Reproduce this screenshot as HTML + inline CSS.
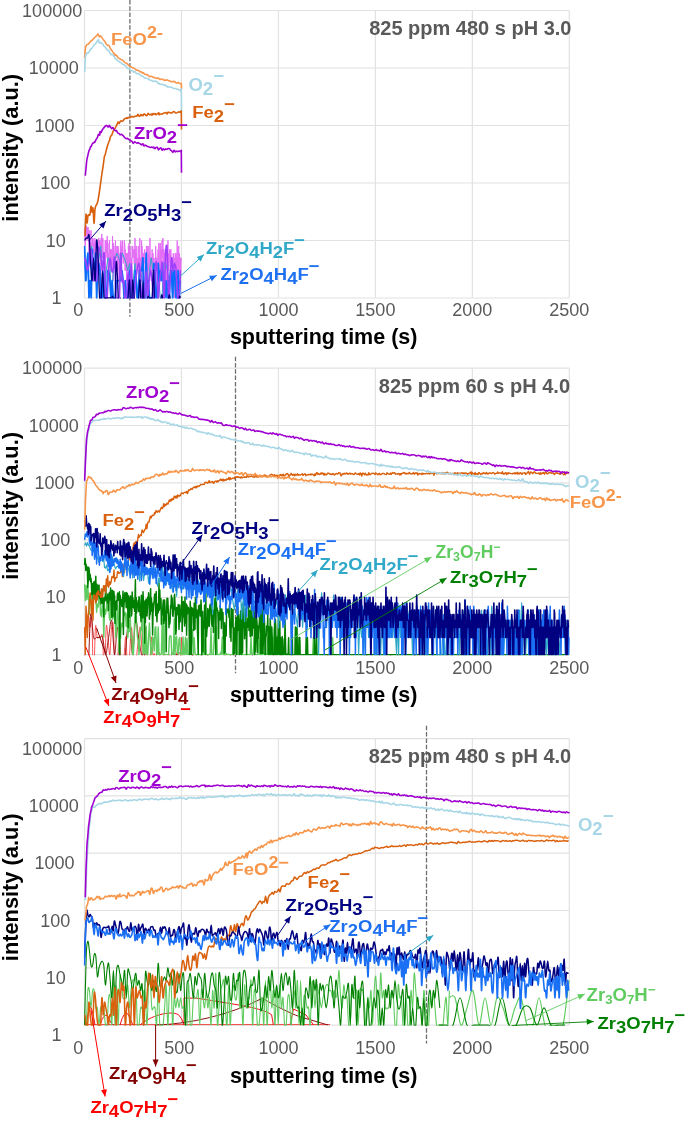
<!DOCTYPE html><html><head><meta charset="utf-8"><style>html,body{margin:0;padding:0;background:#fff;width:685px;height:1123px;overflow:hidden;font-family:"Liberation Sans",sans-serif;}svg{display:block;will-change:transform;}</style></head><body><svg width="685" height="1123" viewBox="0 0 685 1123" font-family="&quot;Liberation Sans&quot;, sans-serif">
<rect width="685" height="1123" fill="#fff"/>
<path d="M84.5 10.5H569.3 M84.5 68H569.3 M84.5 125.5H569.3 M84.5 183H569.3 M84.5 240.5H569.3 M84.5 298H569.3 M84.5 10.5V298 M181.46 10.5V298 M278.42 10.5V298 M375.38 10.5V298 M472.34 10.5V298 M569.3 10.5V298" stroke="#e2e2e2" stroke-width="1.2" fill="none"/>
<path d="M84.5 368.2H569.3 M84.5 425.5H569.3 M84.5 482.8H569.3 M84.5 540.1H569.3 M84.5 597.4H569.3 M84.5 654.7H569.3 M84.5 368.2V654.7 M181.46 368.2V654.7 M278.42 368.2V654.7 M375.38 368.2V654.7 M472.34 368.2V654.7 M569.3 368.2V654.7" stroke="#e2e2e2" stroke-width="1.2" fill="none"/>
<path d="M84.5 738.6H569.3 M84.5 795.9H569.3 M84.5 853.2H569.3 M84.5 910.5H569.3 M84.5 967.8H569.3 M84.5 1025.1H569.3 M84.5 738.6V1025.1 M181.46 738.6V1025.1 M278.42 738.6V1025.1 M375.38 738.6V1025.1 M472.34 738.6V1025.1 M569.3 738.6V1025.1" stroke="#e2e2e2" stroke-width="1.2" fill="none"/>
<defs>
<clipPath id="c1"><rect x="83.5" y="-19.5" width="487.8" height="318.1"/></clipPath>
<clipPath id="c2"><rect x="83.5" y="338.2" width="487.8" height="317.1"/></clipPath>
<clipPath id="c3"><rect x="83.5" y="708.6" width="487.8" height="317.1"/></clipPath>
</defs>
<path d="M129.9 0V316.8" stroke="#6e6e6e" stroke-width="1.3" stroke-dasharray="4.5 1.8" fill="none"/>
<g clip-path="url(#c1)">
<path d="M84.6 238.12 84.82 227.25 85.04 238.12 85.26 246.07 85.48 219.7 85.7 233.95 85.92 228.76 86.14 228.76 86.36 225.82 86.58 232.1 86.8 235.95 87.02 240.5 87.24 227.25 87.46 235.95 87.68 235.95 87.9 232.1 88.12 227.25 88.34 240.5 88.56 240.5 88.78 238.12 89 263.38 89.22 230.37 89.44 243.13 89.66 257.81 89.88 240.5 90.1 233.95 90.32 253.26 90.54 249.41 90.76 246.07 90.98 230.37 91.2 253.26 91.42 249.41 91.64 249.41 91.86 246.07 92.08 243.13 92.3 246.07 92.52 238.12 92.74 246.07 92.96 238.12 93.18 240.5 93.4 249.41 93.62 253.26 93.84 253.26 94.06 243.13 94.28 253.26 94.5 257.81 94.72 240.5 94.94 238.12 95.16 243.13 95.38 246.07 95.6 240.5 95.82 263.38 96.04 253.26 96.26 253.26 96.48 263.38 96.7 253.26 96.92 246.07 97.14 243.13 97.36 249.41 97.58 253.26 97.8 270.57 98.02 249.41 98.24 270.57 98.46 240.5 98.68 238.12 98.9 238.12 99.12 243.13 99.34 243.13 99.56 240.5 99.78 246.07 100 240.5 100.22 270.57 100.44 243.13 100.66 249.41 100.88 298 101.1 238.12 101.32 243.13 101.54 257.81 101.76 233.95 101.98 249.41 102.2 249.41 102.42 253.26 102.64 257.81 102.86 238.12 103.08 249.41 103.3 257.81 103.52 263.38 103.74 257.81 103.96 257.81 104.18 270.57 104.4 257.81 104.62 253.26 104.84 263.38 105.06 253.26 105.28 240.5 105.5 298 105.72 240.5 105.94 257.81 106.16 253.26 106.38 240.5 106.6 253.26 106.82 253.26 107.04 253.26 107.26 235.95 107.48 249.41 107.7 257.81 107.92 243.13 108.14 280.69 108.36 253.26 108.58 270.57 108.8 270.57 109.02 257.81 109.24 249.41 109.46 240.5 109.68 253.26 109.9 257.81 110.12 263.38 110.34 263.38 110.56 249.41 110.78 263.38 111 270.57 111.22 253.26 111.44 253.26 111.66 249.41 111.88 263.38 112.1 257.81 112.32 253.26 112.54 235.95 112.76 249.41 112.98 280.69 113.2 243.13 113.42 270.57 113.64 263.38 113.86 246.07 114.08 257.81 114.3 257.81 114.52 253.26 114.74 257.81 114.96 257.81 115.18 249.41 115.4 240.5 115.62 249.41 115.84 270.57 116.06 253.26 116.28 253.26 116.5 257.81 116.72 253.26 116.94 246.07 117.16 253.26 117.38 246.07 117.6 270.57 117.82 257.81 118.04 246.07 118.26 263.38 118.48 249.41 118.7 253.26 118.92 280.69 119.14 270.57 119.36 263.38 119.58 270.57 119.8 298 120.02 253.26 120.24 253.26 120.46 243.13 120.68 280.69 120.9 240.5 121.12 257.81 121.34 257.81 121.56 249.41 121.78 249.41 122 246.07 122.22 257.81 122.44 257.81 122.66 240.5 122.88 257.81 123.1 263.38 123.32 263.38 123.54 257.81 123.76 257.81 123.98 253.26 124.2 249.41 124.42 240.5 124.64 243.13 124.86 246.07 125.08 270.57 125.3 249.41 125.52 263.38 125.74 253.26 125.96 270.57 126.18 253.26 126.4 257.81 126.62 280.69 126.84 253.26 127.06 257.81 127.28 270.57 127.5 257.81 127.72 253.26 127.94 263.38 128.16 257.81 128.38 246.07 128.6 253.26 128.82 270.57 129.04 243.13 129.26 263.38 129.48 249.41 129.7 270.57 129.92 249.41 130.14 249.41 130.36 280.69 130.58 263.38 130.8 263.38 131.02 280.69 131.24 270.57 131.46 257.81 131.68 270.57 131.9 298 132.12 246.07 132.34 257.81 132.56 253.26 132.78 246.07 133 257.81 133.22 253.26 133.44 253.26 133.66 253.26 133.88 249.41 134.1 263.38 134.32 263.38 134.54 249.41 134.76 270.57 134.98 238.12 135.2 263.38 135.42 249.41 135.64 270.57 135.86 263.38 136.08 246.07 136.3 246.07 136.52 257.81 136.74 270.57 136.96 263.38 137.18 257.81 137.4 270.57 137.62 263.38 137.84 270.57 138.06 257.81 138.28 246.07 138.5 280.69 138.72 257.81 138.94 257.81 139.16 257.81 139.38 280.69 139.6 253.26 139.82 238.12 140.04 263.38 140.26 257.81 140.48 280.69 140.7 263.38 140.92 257.81 141.14 263.38 141.36 280.69 141.58 240.5 141.8 280.69 142.02 246.07 142.24 253.26 142.46 257.81 142.68 270.57 142.9 280.69 143.12 257.81 143.34 253.26 143.56 263.38 143.78 280.69 144 257.81 144.22 257.81 144.44 249.41 144.66 249.41 144.88 263.38 145.1 257.81 145.32 263.38 145.54 270.57 145.76 257.81 145.98 263.38 146.2 270.57 146.42 246.07 146.64 257.81 146.86 253.26 147.08 246.07 147.3 280.69 147.52 270.57 147.74 263.38 147.96 298 148.18 246.07 148.4 263.38 148.62 270.57 148.84 257.81 149.06 257.81 149.28 253.26 149.5 257.81 149.72 280.69 149.94 238.12 150.16 263.38 150.38 270.57 150.6 257.81 150.82 263.38 151.04 257.81 151.26 270.57 151.48 280.69 151.7 263.38 151.92 257.81 152.14 249.41 152.36 270.57 152.58 263.38 152.8 257.81 153.02 253.26 153.24 270.57 153.46 257.81 153.68 280.69 153.9 263.38 154.12 298 154.34 280.69 154.56 280.69 154.78 263.38 155 257.81 155.22 280.69 155.44 298 155.66 246.07 155.88 257.81 156.1 263.38 156.32 263.38 156.54 257.81 156.76 257.81 156.98 270.57 157.2 270.57 157.42 263.38 157.64 263.38 157.86 257.81 158.08 249.41 158.3 270.57 158.52 263.38 158.74 246.07 158.96 243.13 159.18 249.41 159.4 257.81 159.62 257.81 159.84 270.57 160.06 270.57 160.28 243.13 160.5 280.69 160.72 249.41 160.94 270.57 161.16 249.41 161.38 249.41 161.6 270.57 161.82 257.81 162.04 240.5 162.26 249.41 162.48 246.07 162.7 257.81 162.92 238.12 163.14 298 163.36 257.81 163.58 249.41 163.8 263.38 164.02 280.69 164.24 270.57 164.46 253.26 164.68 257.81 164.9 257.81 165.12 249.41 165.34 298 165.56 270.57 165.78 263.38 166 253.26 166.22 280.69 166.44 257.81 166.66 263.38 166.88 246.07 167.1 280.69 167.32 246.07 167.54 257.81 167.76 246.07 167.98 240.5 168.2 263.38 168.42 253.26 168.64 270.57 168.86 270.57 169.08 270.57 169.3 263.38 169.52 253.26 169.74 249.41 169.96 249.41 170.18 263.38 170.4 253.26 170.62 280.69 170.84 249.41 171.06 270.57 171.28 280.69 171.5 270.57 171.72 270.57 171.94 257.81 172.16 263.38 172.38 270.57 172.6 280.69 172.82 257.81 173.04 263.38 173.26 253.26 173.48 257.81 173.7 270.57 173.92 263.38 174.14 263.38 174.36 298 174.58 257.81 174.8 257.81 175.02 257.81 175.24 253.26 175.46 257.81 175.68 263.38 175.9 263.38 176.12 253.26 176.34 270.57 176.56 263.38 176.78 257.81 177 263.38 177.22 240.5 177.44 270.57 177.66 263.38 177.88 257.81 178.1 270.57 178.32 263.38 178.54 249.41 178.76 246.07 178.98 298 179.2 257.81 179.42 253.26 179.64 257.81 179.86 280.69 180.08 280.69 180.3 270.57 180.52 257.81 180.74 270.57 180.96 263.38 181.18 257.81" stroke="#e46ef5" stroke-width="1.0" fill="none" stroke-linejoin="round"/>
<path d="M84.6 263.38 86.4 280.69 88.2 263.38 90 263.38 91.8 246.07 93.6 270.57 95.4 263.38 97.2 280.69 99 257.81 100.8 246.07 102.6 270.57 104.4 298 106.2 270.57 108 257.81 109.8 263.38 111.6 298 113.4 270.57 115.2 257.81 117 253.26 118.8 257.81 120.6 263.38 122.4 253.26 124.2 257.81 126 263.38 127.8 270.57 129.6 263.38 131.4 298 133.2 280.69 135 263.38 136.8 298 138.6 280.69 140.4 270.57 142.2 280.69 144 298 145.8 298 147.6 298 149.4 270.57 151.2 257.81 153 270.57 154.8 270.57 156.6 270.57 158.4 270.57 160.2 298 162 298 163.8 263.38 165.6 263.38 167.4 270.57 169.2 280.69 171 270.57 172.8 298 174.6 280.69 176.4 298 178.2 298 180 298" stroke="#30a8c8" stroke-width="1.0" fill="none" stroke-linejoin="round"/>
<path d="M84.6 246.07 85.7 280.69 86.8 263.38 87.9 253.26 89 298 90.1 280.69 91.2 298 92.3 249.41 93.4 270.57 94.5 270.57 95.6 253.26 96.7 298 97.8 263.38 98.9 263.38 100 270.57 101.1 298 102.2 298 103.3 280.69 104.4 270.57 105.5 298 106.6 298 107.7 270.57 108.8 270.57 109.9 280.69 111 298 112.1 280.69 113.2 298 114.3 298 115.4 298 116.5 280.69 117.6 280.69 118.7 280.69 119.8 280.69 120.9 280.69 122 270.57 123.1 280.69 124.2 298 125.3 280.69 126.4 298 127.5 298 128.6 280.69 129.7 270.57 130.8 298 131.9 298 133 298 134.1 298 135.2 270.57 136.3 280.69 137.4 298 138.5 298 139.6 270.57 140.7 270.57 141.8 270.57 142.9 257.81 144 298 145.1 298 146.2 253.26 147.3 298 148.4 280.69 149.5 298 150.6 298 151.7 298 152.8 298 153.9 263.38 155 270.57 156.1 298 157.2 298 158.3 263.38 159.4 280.69 160.5 270.57 161.6 280.69 162.7 270.57 163.8 280.69 164.9 298 166 280.69 167.1 298 168.2 280.69 169.3 298 170.4 270.57 171.5 270.57 172.6 298 173.7 270.57 174.8 270.57 175.9 298 177 298 178.1 270.57 179.2 298 180.3 280.69" stroke="#0a6cff" stroke-width="1.8" fill="none" stroke-linejoin="round"/>
<path d="M84.6 257.81C84.85 258.74 85.6 261.26 86.1 263.38C86.6 265.51 87.1 270.57 87.6 270.57C88.1 270.57 88.6 266.91 89.1 263.38C89.6 259.86 90.1 250.34 90.6 249.41C91.1 248.48 91.6 252.6 92.1 257.81C92.6 263.02 93.1 278.56 93.6 280.69C94.1 282.82 94.6 270.57 95.1 270.57C95.6 270.57 96.1 284.22 96.6 280.69C97.1 277.16 97.6 254.62 98.1 249.41C98.6 244.19 99.1 248.01 99.6 249.41C100.1 250.81 100.6 254.28 101.1 257.81C101.6 261.34 102.1 271.32 102.6 270.57C103.1 269.81 103.6 248.68 104.1 253.26C104.6 257.83 105.1 290.54 105.6 298C106.1 305.46 106.6 302.57 107.1 298C107.6 293.43 108.1 277.26 108.6 270.57C109.1 263.87 109.6 257.81 110.1 257.81C110.6 257.81 111.1 268.44 111.6 270.57C112.1 272.69 112.6 272.69 113.1 270.57C113.6 268.44 114.1 253.24 114.6 257.81C115.1 262.38 115.6 291.3 116.1 298C116.6 304.7 117.1 298 117.6 298C118.1 298 118.6 305.46 119.1 298C119.6 290.54 120.1 256.14 120.6 253.26C121.1 250.37 121.6 276.12 122.1 280.69C122.6 285.26 123.1 277.81 123.6 280.69C124.1 283.58 124.6 295.12 125.1 298C125.6 300.88 126.1 302.57 126.6 298C127.1 293.43 127.6 270.57 128.1 270.57C128.6 270.57 129.1 299.2 129.6 298C130.1 296.8 130.6 263.38 131.1 263.38C131.6 263.38 132.1 292.23 132.6 298C133.1 303.77 133.6 300.88 134.1 298C134.6 295.12 135.1 285.26 135.6 280.69C136.1 276.12 136.6 273.45 137.1 270.57C137.6 267.68 138.1 263.38 138.6 263.38C139.1 263.38 139.6 264.8 140.1 270.57C140.6 276.34 141.1 293.43 141.6 298C142.1 302.57 142.6 298 143.1 298C143.6 298 144.1 302.57 144.6 298C145.1 293.43 145.6 270.57 146.1 270.57C146.6 270.57 147.1 296.31 147.6 298C148.1 299.69 148.6 285.26 149.1 280.69C149.6 276.12 150.1 270.57 150.6 270.57C151.1 270.57 151.6 276.12 152.1 280.69C152.6 285.26 153.1 299.69 153.6 298C154.1 296.31 154.6 276.34 155.1 270.57C155.6 264.8 156.1 258.81 156.6 263.38C157.1 267.95 157.6 295.12 158.1 298C158.6 300.88 159.1 285.26 159.6 280.69C160.1 276.12 160.6 273.45 161.1 270.57C161.6 267.68 162.1 258.81 162.6 263.38C163.1 267.95 163.6 299.69 164.1 298C164.6 296.31 165.1 261.36 165.6 253.26C166.1 245.16 166.6 241.95 167.1 249.41C167.6 256.86 168.1 292.79 168.6 298C169.1 303.21 169.6 287.39 170.1 280.69C170.6 273.99 171.1 259.5 171.6 257.81C172.1 256.12 172.6 269.64 173.1 270.57C173.6 271.49 174.1 263.38 174.6 263.38C175.1 263.38 175.6 264.8 176.1 270.57C176.6 276.34 177.1 293.43 177.6 298C178.1 302.57 178.6 302.57 179.1 298C179.6 293.43 180.35 275.14 180.6 270.57" stroke="#9f40ff" stroke-width="1.6" fill="none" stroke-linejoin="round"/>
<path d="M84.6 240.5C84.85 240.1 85.6 238.52 86.1 238.12C86.6 237.72 87.1 238.48 87.6 238.12C88.1 237.76 88.6 231.74 89.1 235.95C89.6 240.16 90.1 255.92 90.6 263.38C91.1 270.84 91.6 281.62 92.1 280.69C92.6 279.76 93.1 257.81 93.6 257.81C94.1 257.81 94.6 283.58 95.1 280.69C95.6 277.81 96.1 244.31 96.6 240.5C97.1 236.69 97.6 248.23 98.1 257.81C98.6 267.39 99.1 291.3 99.6 298C100.1 304.7 100.6 302.57 101.1 298C101.6 293.43 102.1 270.57 102.6 270.57C103.1 270.57 103.6 293.43 104.1 298C104.6 302.57 105.1 298 105.6 298C106.1 298 106.6 298 107.1 298C107.6 298 108.1 298 108.6 298C109.1 298 109.6 298 110.1 298C110.6 298 111.1 298 111.6 298C112.1 298 112.6 293.63 113.1 298C113.6 302.37 114.1 329.99 114.6 324.22C115.1 318.45 115.6 270.64 116.1 263.38C116.6 256.13 117.1 270.55 117.6 280.69C118.1 290.83 118.6 321.33 119.1 324.22C119.6 327.1 120.1 298 120.6 298C121.1 298 121.6 324.22 122.1 324.22C122.6 324.22 123.1 298 123.6 298C124.1 298 124.6 319.85 125.1 324.22C125.6 328.59 126.1 328.59 126.6 324.22C127.1 319.85 127.6 305.25 128.1 298C128.6 290.75 129.1 276.32 129.6 280.69C130.1 285.06 130.6 324.22 131.1 324.22C131.6 324.22 132.1 285.06 132.6 280.69C133.1 276.32 133.6 290.75 134.1 298C134.6 305.25 135.1 319.85 135.6 324.22C136.1 328.59 136.6 328.59 137.1 324.22C137.6 319.85 138.1 305.25 138.6 298C139.1 290.75 139.6 276.32 140.1 280.69C140.6 285.06 141.1 324.22 141.6 324.22C142.1 324.22 142.6 280.69 143.1 280.69C143.6 280.69 144.1 316.96 144.6 324.22C145.1 331.47 145.6 328.59 146.1 324.22C146.6 319.85 147.1 302.37 147.6 298C148.1 293.63 148.6 298 149.1 298C149.6 298 150.1 298 150.6 298C151.1 298 151.6 302.57 152.1 298C152.6 293.43 153.1 266.2 153.6 270.57C154.1 274.93 154.6 315.27 155.1 324.22C155.6 333.16 156.1 324.22 156.6 324.22C157.1 324.22 157.6 324.22 158.1 324.22C158.6 324.22 159.1 328.59 159.6 324.22C160.1 319.85 160.6 302.37 161.1 298C161.6 293.63 162.1 293.63 162.6 298C163.1 302.37 163.6 319.85 164.1 324.22C164.6 328.59 165.1 324.22 165.6 324.22C166.1 324.22 166.6 328.59 167.1 324.22C167.6 319.85 168.1 302.37 168.6 298C169.1 293.63 169.6 293.63 170.1 298C170.6 302.37 171.1 319.85 171.6 324.22C172.1 328.59 172.6 324.22 173.1 324.22C173.6 324.22 174.1 324.22 174.6 324.22C175.1 324.22 175.6 324.22 176.1 324.22C176.6 324.22 177.1 328.59 177.6 324.22C178.1 319.85 178.6 302.37 179.1 298C179.6 293.63 180.35 298 180.6 298" stroke="#000080" stroke-width="1.3" fill="none" stroke-linejoin="round"/>
<path d="M84.6 58.14C84.75 56.34 85.3 49.23 85.5 47.33C85.7 45.43 85.55 47.21 85.8 46.73C86.05 46.26 86.6 44.9 87 44.48C87.4 44.05 87.8 44.46 88.2 44.18C88.6 43.91 89 43.31 89.4 42.82C89.8 42.33 90.2 41.63 90.6 41.25C91 40.87 91.4 40.85 91.8 40.52C92.2 40.19 92.6 39.67 93 39.25C93.4 38.84 93.8 38.46 94.2 38.05C94.6 37.63 95 37.14 95.4 36.76C95.8 36.39 96.2 36.24 96.6 35.79C97 35.35 97.57 34.38 97.8 34.1C98.03 33.83 97.8 33.84 98 34.13C98.2 34.43 98.78 35.4 99 35.85C99.22 36.3 99.1 36.79 99.3 36.84C99.5 36.89 100 36.33 100.2 36.17C100.4 36.01 100.3 35.77 100.5 35.88C100.7 36 101.05 36.39 101.4 36.85C101.75 37.3 102.2 38.04 102.6 38.61C103 39.17 103.4 39.74 103.8 40.26C104.2 40.77 104.6 41.09 105 41.69C105.4 42.29 105.8 43.27 106.2 43.87C106.6 44.47 107 45.05 107.4 45.3C107.8 45.55 108.2 45.04 108.6 45.36C109 45.68 109.4 46.55 109.8 47.24C110.2 47.92 110.6 48.86 111 49.47C111.4 50.09 111.8 50.38 112.2 50.92C112.6 51.46 113 52.16 113.4 52.72C113.8 53.28 114.33 53.8 114.6 54.27C114.87 54.74 114.8 55.45 115 55.55C115.2 55.65 115.47 54.79 115.8 54.88C116.13 54.97 116.6 55.59 117 56.11C117.4 56.63 117.8 57.63 118.2 58.01C118.6 58.39 119 58.17 119.4 58.39C119.8 58.61 120.2 59.1 120.6 59.33C121 59.57 121.4 59.64 121.8 59.8C122.2 59.96 122.6 59.92 123 60.28C123.4 60.64 123.8 61.51 124.2 61.94C124.6 62.37 125 62.64 125.4 62.86C125.8 63.07 126.2 63 126.6 63.26C127 63.52 127.4 64.02 127.8 64.41C128.2 64.8 128.63 65.32 129 65.59C129.37 65.86 129.8 65.88 130 66.02C130.2 66.17 129.97 66.27 130.2 66.46C130.43 66.65 131 66.94 131.4 67.15C131.8 67.37 132.2 67.58 132.6 67.74C133 67.9 133.4 67.89 133.8 68.14C134.2 68.38 134.6 68.89 135 69.19C135.4 69.48 135.8 69.73 136.2 69.92C136.6 70.1 137 70.21 137.4 70.3C137.8 70.39 138.2 70.23 138.6 70.46C139 70.69 139.4 71.47 139.8 71.69C140.2 71.92 140.6 71.6 141 71.81C141.4 72.02 141.8 72.81 142.2 72.97C142.6 73.14 143 72.6 143.4 72.81C143.8 73.01 144.2 73.94 144.6 74.21C145 74.49 145.4 74.39 145.8 74.45C146.2 74.51 146.6 74.39 147 74.57C147.4 74.75 147.8 75.27 148.2 75.56C148.6 75.85 149.1 76.12 149.4 76.32C149.7 76.51 149.8 76.7 150 76.71C150.2 76.71 150.3 76.37 150.6 76.34C150.9 76.32 151.4 76.4 151.8 76.57C152.2 76.73 152.6 77.23 153 77.36C153.4 77.49 153.8 77.27 154.2 77.37C154.6 77.46 155 77.75 155.4 77.92C155.8 78.09 156.2 78.43 156.6 78.4C157 78.36 157.4 77.65 157.8 77.71C158.2 77.77 158.6 78.46 159 78.74C159.4 79.02 159.8 79.35 160.2 79.4C160.6 79.46 161 79.11 161.4 79.06C161.8 79.02 162.2 78.97 162.6 79.13C163 79.29 163.4 79.87 163.8 80.03C164.2 80.19 164.8 80.05 165 80.1C165.2 80.16 164.8 80.35 165 80.36C165.2 80.36 165.8 80.2 166.2 80.13C166.6 80.06 167 79.83 167.4 79.94C167.8 80.04 168.2 80.59 168.6 80.75C169 80.91 169.4 80.73 169.8 80.88C170.2 81.03 170.6 81.5 171 81.64C171.4 81.77 171.8 81.74 172.2 81.67C172.6 81.6 173 81.21 173.4 81.2C173.8 81.2 174.2 81.39 174.6 81.64C175 81.9 175.4 82.53 175.8 82.74C176.2 82.95 176.6 82.94 177 82.92C177.4 82.91 177.8 82.62 178.2 82.66C178.6 82.7 179 83.02 179.4 83.18C179.8 83.34 180.28 83.52 180.6 83.62C180.92 83.72 181.15 82.8 181.3 83.79C181.45 84.78 181.47 88.59 181.5 89.55" stroke="#f7964a" stroke-width="1.6" fill="none" stroke-linejoin="round"/>
<path d="M84.6 72.08C84.75 69.36 85.3 58.57 85.5 55.79C85.7 53.01 85.55 55.89 85.8 55.39C86.05 54.9 86.6 53.21 87 52.82C87.4 52.44 87.8 53.31 88.2 53.07C88.6 52.82 89 51.98 89.4 51.35C89.8 50.73 90.2 49.82 90.6 49.31C91 48.8 91.4 48.74 91.8 48.3C92.2 47.86 92.6 47.22 93 46.65C93.4 46.08 93.8 45.3 94.2 44.86C94.6 44.42 95 44.49 95.4 44.02C95.8 43.55 96.2 42.63 96.6 42.05C97 41.48 97.5 40.99 97.8 40.59C98.1 40.2 98.2 39.48 98.4 39.68C98.6 39.89 98.82 41.27 99 41.82C99.18 42.36 99.3 42.77 99.5 42.96C99.7 43.15 99.95 43.1 100.2 42.98C100.45 42.87 100.8 42.25 101 42.26C101.2 42.26 101.13 42.72 101.4 43C101.67 43.28 102.2 43.44 102.6 43.94C103 44.43 103.4 45.46 103.8 45.98C104.2 46.5 104.6 46.65 105 47.06C105.4 47.48 105.8 48 106.2 48.46C106.6 48.93 107 49.48 107.4 49.84C107.8 50.2 108.2 50.15 108.6 50.62C109 51.09 109.4 52.03 109.8 52.68C110.2 53.33 110.6 54.25 111 54.54C111.4 54.82 111.8 54.21 112.2 54.4C112.6 54.6 113 55.26 113.4 55.71C113.8 56.17 114.33 56.68 114.6 57.15C114.87 57.62 114.8 58.25 115 58.54C115.2 58.82 115.47 58.59 115.8 58.86C116.13 59.13 116.6 59.81 117 60.15C117.4 60.49 117.8 60.67 118.2 60.92C118.6 61.17 119 61.35 119.4 61.63C119.8 61.9 120.2 62.29 120.6 62.57C121 62.85 121.4 62.96 121.8 63.3C122.2 63.64 122.6 64.39 123 64.63C123.4 64.87 123.8 64.52 124.2 64.74C124.6 64.96 125 65.54 125.4 65.94C125.8 66.33 126.2 66.66 126.6 67.11C127 67.57 127.4 68.41 127.8 68.65C128.2 68.89 128.63 68.45 129 68.53C129.37 68.62 129.8 69.01 130 69.17C130.2 69.33 129.97 69.22 130.2 69.48C130.43 69.74 131 70.49 131.4 70.72C131.8 70.95 132.2 70.63 132.6 70.86C133 71.09 133.4 72.01 133.8 72.11C134.2 72.2 134.6 71.26 135 71.45C135.4 71.65 135.8 72.87 136.2 73.28C136.6 73.68 137 73.82 137.4 73.86C137.8 73.9 138.2 73.36 138.6 73.5C139 73.65 139.4 74.37 139.8 74.76C140.2 75.14 140.6 75.6 141 75.81C141.4 76.01 141.8 75.79 142.2 75.98C142.6 76.17 143 76.61 143.4 76.97C143.8 77.33 144.2 77.98 144.6 78.14C145 78.3 145.4 77.89 145.8 77.93C146.2 77.96 146.6 78.19 147 78.33C147.4 78.47 147.8 78.49 148.2 78.76C148.6 79.03 149.1 79.75 149.4 79.95C149.7 80.14 149.8 79.89 150 79.92C150.2 79.95 150.3 80.03 150.6 80.15C150.9 80.26 151.4 80.42 151.8 80.62C152.2 80.82 152.6 81.28 153 81.36C153.4 81.44 153.8 81.11 154.2 81.11C154.6 81.11 155 81.31 155.4 81.37C155.8 81.42 156.2 81.12 156.6 81.45C157 81.78 157.4 83.03 157.8 83.34C158.2 83.65 158.6 83.16 159 83.33C159.4 83.5 159.8 84.2 160.2 84.34C160.6 84.49 161 84.18 161.4 84.18C161.8 84.17 162.2 84.14 162.6 84.32C163 84.5 163.4 85.06 163.8 85.25C164.2 85.44 164.8 85.51 165 85.47C165.2 85.43 164.8 84.99 165 85C165.2 85.01 165.8 85.19 166.2 85.52C166.6 85.85 167 86.75 167.4 86.96C167.8 87.17 168.2 86.73 168.6 86.77C169 86.8 169.4 87.09 169.8 87.17C170.2 87.25 170.6 87.22 171 87.27C171.4 87.32 171.8 87.27 172.2 87.48C172.6 87.68 173 88.32 173.4 88.48C173.8 88.65 174.2 88.45 174.6 88.46C175 88.48 175.4 88.45 175.8 88.58C176.2 88.7 176.6 89.09 177 89.2C177.4 89.32 177.8 89.12 178.2 89.27C178.6 89.41 179 89.82 179.4 90.08C179.8 90.34 180.28 90.8 180.6 90.83C180.92 90.86 181.15 86.74 181.3 90.27C181.45 93.79 181.47 108.35 181.5 111.97" stroke="#a7d7e6" stroke-width="1.6" fill="none" stroke-linejoin="round"/>
<path d="M85 236.16C85.17 232.54 85.67 216.64 86 214.44C86.33 212.25 86.67 222.79 87 223.01C87.33 223.22 87.67 217.07 88 215.73C88.33 214.38 88.67 215.12 89 214.94C89.33 214.76 89.67 216.1 90 214.64C90.33 213.18 90.67 206.6 91 206.17C91.33 205.74 91.67 211.76 92 212.07C92.33 212.38 92.67 206.17 93 208.04C93.33 209.91 93.67 223.06 94 223.29C94.33 223.52 94.67 212.35 95 209.4C95.33 206.45 95.67 206.51 96 205.59C96.33 204.67 96.67 204.75 97 203.87C97.33 203 97.67 201.86 98 200.33C98.33 198.8 98.67 196.85 99 194.7C99.33 192.55 99.67 189.83 100 187.43C100.33 185.03 100.67 182.69 101 180.29C101.33 177.88 101.67 175.24 102 173C102.33 170.76 102.67 169.14 103 166.86C103.33 164.58 103.75 161.12 104 159.31C104.25 157.5 104.33 156.69 104.5 156.01C104.67 155.34 104.75 156.05 105 155.28C105.25 154.5 105.67 152.68 106 151.37C106.33 150.07 106.67 148.62 107 147.44C107.33 146.27 107.67 145.33 108 144.33C108.33 143.34 108.7 142.24 109 141.47C109.3 140.69 109.63 140.25 109.8 139.66C109.97 139.07 109.8 138.56 110 137.94C110.2 137.32 110.67 136.49 111 135.95C111.33 135.41 111.67 135.43 112 134.7C112.33 133.97 112.67 132.36 113 131.57C113.33 130.77 113.67 130.41 114 129.92C114.33 129.44 114.67 129.21 115 128.63C115.33 128.05 115.7 127.13 116 126.45C116.3 125.77 116.63 124.83 116.8 124.55C116.97 124.27 116.8 125.19 117 124.77C117.2 124.34 117.67 122.19 118 122C118.33 121.82 118.67 123.68 119 123.65C119.33 123.61 119.67 122.28 120 121.79C120.33 121.3 120.67 120.8 121 120.7C121.33 120.6 121.67 121.18 122 121.2C122.33 121.21 122.67 121.08 123 120.79C123.33 120.49 123.67 119.83 124 119.43C124.33 119.03 124.67 118.56 125 118.39C125.33 118.21 125.67 118.5 126 118.38C126.33 118.26 126.78 117.67 127 117.67C127.22 117.66 127.13 118.31 127.3 118.34C127.47 118.37 127.72 118.01 128 117.84C128.28 117.68 128.67 117.37 129 117.36C129.33 117.35 129.67 117.85 130 117.76C130.33 117.67 130.67 117.08 131 116.82C131.33 116.57 131.67 116.21 132 116.24C132.33 116.27 132.67 116.89 133 117C133.33 117.1 133.67 116.97 134 116.84C134.33 116.71 134.67 116.4 135 116.22C135.33 116.03 135.67 115.73 136 115.73C136.33 115.72 136.67 116.4 137 116.18C137.33 115.96 137.67 114.4 138 114.4C138.33 114.39 138.67 115.91 139 116.16C139.33 116.41 139.67 116.17 140 115.89C140.33 115.61 140.78 114.54 141 114.46C141.22 114.39 141.13 115.39 141.3 115.44C141.47 115.49 141.72 114.71 142 114.75C142.28 114.8 142.67 115.83 143 115.69C143.33 115.55 143.67 114.12 144 113.92C144.33 113.72 144.67 114.25 145 114.49C145.33 114.73 145.67 115.19 146 115.37C146.33 115.54 146.67 115.86 147 115.54C147.33 115.22 147.67 113.65 148 113.45C148.33 113.26 148.67 114.14 149 114.35C149.33 114.57 149.67 114.8 150 114.75C150.33 114.71 150.67 114 151 114.09C151.33 114.19 151.67 115.41 152 115.31C152.33 115.22 152.67 113.7 153 113.55C153.33 113.39 153.67 114.4 154 114.38C154.33 114.36 154.67 113.37 155 113.44C155.33 113.51 155.67 114.75 156 114.82C156.33 114.89 156.67 114.07 157 113.86C157.33 113.65 157.7 113.75 158 113.55C158.3 113.36 158.63 112.48 158.8 112.67C158.97 112.86 158.8 114.46 159 114.69C159.2 114.92 159.67 114.18 160 114.06C160.33 113.94 160.67 113.96 161 113.98C161.33 113.99 161.67 114.19 162 114.13C162.33 114.06 162.67 113.78 163 113.57C163.33 113.37 163.67 113.04 164 112.9C164.33 112.76 164.67 112.77 165 112.72C165.33 112.68 165.67 112.45 166 112.64C166.33 112.83 166.67 113.96 167 113.87C167.33 113.77 167.67 112.31 168 112.09C168.33 111.86 168.67 112.44 169 112.53C169.33 112.61 169.67 112.56 170 112.61C170.33 112.67 170.67 112.8 171 112.86C171.33 112.92 171.67 113.16 172 112.99C172.33 112.82 172.67 112.07 173 111.81C173.33 111.56 173.67 111.35 174 111.45C174.33 111.54 174.67 112.13 175 112.4C175.33 112.67 175.67 113 176 113.05C176.33 113.1 176.67 112.82 177 112.7C177.33 112.57 177.67 112.43 178 112.29C178.33 112.16 178.67 111.91 179 111.89C179.33 111.87 179.67 112.2 180 112.18C180.33 112.16 180.78 111.74 181 111.78C181.22 111.81 181.22 109.43 181.3 112.39C181.38 115.35 181.47 126.67 181.5 129.52" stroke="#d9600c" stroke-width="1.6" fill="none" stroke-linejoin="round"/>
<path d="M85.3 175.74C85.5 173.63 86.22 165.89 86.5 163.09C86.78 160.29 86.8 160.12 87 158.96C87.2 157.81 87.38 157.5 87.7 156.16C88.02 154.83 88.5 152.23 88.9 150.95C89.3 149.67 89.83 149.18 90.1 148.5C90.37 147.82 90.3 147.23 90.5 146.86C90.7 146.49 90.97 146.87 91.3 146.28C91.63 145.7 92.1 143.92 92.5 143.37C92.9 142.83 93.3 143.33 93.7 142.99C94.1 142.64 94.68 141.45 94.9 141.3C95.12 141.16 94.8 142.41 95 142.1C95.2 141.8 95.72 140.2 96.1 139.46C96.48 138.72 96.9 138.53 97.3 137.68C97.7 136.83 98.1 134.79 98.5 134.35C98.9 133.92 99.45 135.51 99.7 135.06C99.95 134.61 99.8 132.05 100 131.66C100.2 131.26 100.55 132.92 100.9 132.69C101.25 132.45 101.7 130.95 102.1 130.24C102.5 129.52 102.9 128.92 103.3 128.4C103.7 127.88 104.1 127.57 104.5 127.11C104.9 126.65 105.4 125.89 105.7 125.65C106 125.41 106.1 125.68 106.3 125.67C106.5 125.65 106.6 125.32 106.9 125.58C107.2 125.84 107.7 127.24 108.1 127.22C108.5 127.19 108.98 125.45 109.3 125.42C109.62 125.38 109.8 126.78 110 127C110.2 127.22 110.22 126.44 110.5 126.73C110.78 127.01 111.3 128.6 111.7 128.73C112.1 128.87 112.5 127.4 112.9 127.55C113.3 127.7 113.7 129.08 114.1 129.63C114.5 130.18 114.9 130.71 115.3 130.86C115.7 131 116.1 130.14 116.5 130.51C116.9 130.88 117.3 132.61 117.7 133.08C118.1 133.55 118.52 133.08 118.9 133.36C119.28 133.63 119.8 134.47 120 134.7C120.2 134.94 119.88 134.83 120.1 134.74C120.32 134.65 120.9 134.12 121.3 134.18C121.7 134.24 122.1 134.75 122.5 135.11C122.9 135.47 123.3 135.88 123.7 136.32C124.1 136.77 124.5 137.4 124.9 137.79C125.3 138.18 125.7 138.57 126.1 138.66C126.5 138.76 126.9 138.27 127.3 138.37C127.7 138.47 128.1 138.99 128.5 139.24C128.9 139.5 129.32 139.65 129.7 139.91C130.08 140.17 130.6 140.6 130.8 140.79C131 140.98 130.68 140.95 130.9 141.06C131.12 141.18 131.7 141.1 132.1 141.48C132.5 141.86 132.9 143.28 133.3 143.35C133.7 143.42 134.1 142.06 134.5 141.9C134.9 141.74 135.3 142.17 135.7 142.39C136.1 142.62 136.5 143.22 136.9 143.26C137.3 143.3 137.7 142.6 138.1 142.61C138.5 142.63 138.9 143.14 139.3 143.37C139.7 143.59 140.1 143.73 140.5 143.97C140.9 144.22 141.3 144.89 141.7 144.85C142.1 144.81 142.5 143.54 142.9 143.73C143.3 143.91 143.7 145.73 144.1 145.95C144.5 146.18 144.9 145.11 145.3 145.09C145.7 145.06 146.1 145.54 146.5 145.79C146.9 146.05 147.3 146.44 147.7 146.61C148.1 146.78 148.5 146.68 148.9 146.82C149.3 146.96 149.7 147.39 150.1 147.44C150.5 147.5 150.9 147.18 151.3 147.17C151.7 147.15 152.12 147.25 152.5 147.37C152.88 147.5 153.4 147.98 153.6 147.92C153.8 147.86 153.48 146.88 153.7 147.02C153.92 147.15 154.5 148.65 154.9 148.73C155.3 148.81 155.7 147.74 156.1 147.51C156.5 147.28 156.9 146.95 157.3 147.34C157.7 147.72 158.1 149.64 158.5 149.83C158.9 150.01 159.3 148.78 159.7 148.46C160.1 148.14 160.5 147.61 160.9 147.9C161.3 148.19 161.7 150.03 162.1 150.19C162.5 150.34 162.9 148.87 163.3 148.83C163.7 148.79 164.1 149.97 164.5 149.97C164.9 149.97 165.3 148.91 165.7 148.82C166.1 148.72 166.5 149.44 166.9 149.39C167.3 149.35 167.7 148.69 168.1 148.55C168.5 148.41 168.98 148.44 169.3 148.57C169.62 148.69 169.8 149.07 170 149.32C170.2 149.57 170.22 149.79 170.5 150.06C170.78 150.33 171.3 150.57 171.7 150.95C172.1 151.33 172.5 152.49 172.9 152.37C173.3 152.24 173.7 150.29 174.1 150.22C174.5 150.15 174.9 151.78 175.3 151.93C175.7 152.07 176.1 151.12 176.5 151.07C176.9 151.03 177.3 151.68 177.7 151.66C178.1 151.65 178.5 151.07 178.9 151.01C179.3 150.95 179.7 151.11 180.1 151.29C180.5 151.46 181.1 151.98 181.3 152.06C181.5 152.13 181.27 148.32 181.3 151.76C181.33 155.21 181.47 169.21 181.5 172.7" stroke="#a000d0" stroke-width="1.6" fill="none" stroke-linejoin="round"/>
</g>
<line x1="88.8" y1="240.8" x2="105.9" y2="221.2" stroke="#000080" stroke-width="1.0"/>
<path d="M105.9 221.2L103.56 228.45L99.04 224.5Z" fill="#000080"/>
<line x1="180.5" y1="276" x2="203.9" y2="254.6" stroke="#30a8c8" stroke-width="1.0"/>
<path d="M203.9 254.6L200.76 261.54L196.71 257.11Z" fill="#30a8c8"/>
<line x1="180.5" y1="293.6" x2="216.7" y2="275.4" stroke="#1e70f0" stroke-width="1.0"/>
<path d="M216.7 275.4L211.79 281.22L209.1 275.86Z" fill="#1e70f0"/>
<text transform="translate(111 45) scale(1.087 1)" font-size="17" font-weight="bold" fill="#f7964a">FeO<tspan font-size="16.5" dy="-7.3">2-</tspan></text>
<text transform="translate(188.4 90.8) scale(1.03 1)" font-size="18" font-weight="bold" fill="#a7d7e6">O<tspan font-size="18" dy="4.4">2</tspan><tspan font-size="18" dy="-13.2">−</tspan></text>
<text transform="translate(192.3 117.6) scale(1.087 1)" font-size="17" font-weight="bold" fill="#d9600c">Fe<tspan font-size="17" dy="4.2">2</tspan><tspan font-size="17" dy="-12.2">−</tspan></text>
<text transform="translate(134 139) scale(1.087 1)" font-size="17" font-weight="bold" fill="#a000d0">ZrO<tspan font-size="17" dy="4.2">2</tspan><tspan font-size="17" dy="-12.2">−</tspan></text>
<text transform="translate(104.2 216.3) scale(1.087 1)" font-size="17" font-weight="bold" fill="#000080">Zr<tspan font-size="17" dy="4.2">2</tspan><tspan dy="-4.2">O</tspan><tspan font-size="17" dy="4.2">5</tspan><tspan dy="-4.2">H</tspan><tspan font-size="17" dy="4.2">3</tspan><tspan font-size="17" dy="-12.2">−</tspan></text>
<text transform="translate(206 253.5) scale(1.087 1)" font-size="17" font-weight="bold" fill="#30a8c8">Zr<tspan font-size="17" dy="4.2">2</tspan><tspan dy="-4.2">O</tspan><tspan font-size="17" dy="4.2">4</tspan><tspan dy="-4.2">H</tspan><tspan font-size="17" dy="4.2">2</tspan><tspan dy="-4.2">F</tspan><tspan font-size="17" dy="-8">−</tspan></text>
<text transform="translate(220.4 279.7) scale(1.087 1)" font-size="17" font-weight="bold" fill="#1e70f0">Zr<tspan font-size="17" dy="4.2">2</tspan><tspan dy="-4.2">O</tspan><tspan font-size="17" dy="4.2">4</tspan><tspan dy="-4.2">H</tspan><tspan font-size="17" dy="4.2">4</tspan><tspan dy="-4.2">F</tspan><tspan font-size="17" dy="-8">−</tspan></text>
<text x="571.5" y="34.5" text-anchor="end" font-size="20" font-weight="bold" fill="#595959">825 ppm 480 s pH 3.0</text>
<text x="82.2" y="16.5" text-anchor="end" font-size="18" fill="#595959">100000</text>
<text x="78.7" y="74" text-anchor="end" font-size="18" fill="#595959">10000</text>
<text x="74.6" y="131.5" text-anchor="end" font-size="18" fill="#595959">1000</text>
<text x="70.3" y="189" text-anchor="end" font-size="18" fill="#595959">100</text>
<text x="65.7" y="246.5" text-anchor="end" font-size="18" fill="#595959">10</text>
<text x="61.6" y="304" text-anchor="end" font-size="18" fill="#595959">1</text>
<text x="78.2" y="316" text-anchor="middle" font-size="18" fill="#595959">0</text>
<text x="179.3" y="316" text-anchor="middle" font-size="18" fill="#595959">500</text>
<text x="278.42" y="316" text-anchor="middle" font-size="18" fill="#595959">1000</text>
<text x="375.38" y="316" text-anchor="middle" font-size="18" fill="#595959">1500</text>
<text x="472.34" y="316" text-anchor="middle" font-size="18" fill="#595959">2000</text>
<text x="569.3" y="316" text-anchor="middle" font-size="18" fill="#595959">2500</text>
<text x="229.9" y="344.1" font-size="21.5" font-weight="bold" fill="#000">sputtering time (s)</text>
<text transform="translate(18.4 147.8) rotate(-90)" text-anchor="middle" font-size="21.8" font-weight="bold" fill="#000">intensity (a.u.)</text>
<path d="M235.5 356.7V673.3" stroke="#6e6e6e" stroke-width="1.3" stroke-dasharray="4.5 1.8" fill="none"/>
<g clip-path="url(#c2)">
<path d="M84.6 627.36C84.9 627.36 85.8 629.48 86.4 627.36C87 625.24 87.6 614.65 88.2 614.65C88.8 614.65 89.4 626.44 90 627.36C90.6 628.29 91.2 611.29 91.8 620.2C92.4 629.11 93 679.63 93.6 680.82C94.2 682.02 94.8 634.59 95.4 627.36C96 620.13 96.6 635.77 97.2 637.45C97.8 639.13 98.4 637.45 99 637.45C99.6 637.45 100.2 637.45 100.8 637.45C101.4 637.45 102 630.22 102.6 637.45C103.2 644.68 103.8 682.51 104.4 680.82C105 679.14 105.6 634.59 106.2 627.36C106.8 620.13 107.4 632.89 108 637.45C108.6 642.01 109.2 656.38 109.8 654.7C110.4 653.02 111 631.92 111.6 627.36C112.2 622.8 112.8 618.45 113.4 627.36C114 636.27 114.6 671.91 115.2 680.82C115.8 689.74 116.4 688.05 117 680.82C117.6 673.6 118.2 641.81 118.8 637.45C119.4 633.1 120 647.47 120.6 654.7C121.2 661.93 121.8 680.82 122.4 680.82C123 680.82 123.6 661.93 124.2 654.7C124.8 647.47 125.4 633.1 126 637.45C126.6 641.81 127.2 677.95 127.8 680.82C128.4 683.7 129 663.61 129.6 654.7C130.2 645.79 130.8 627.36 131.4 627.36C132 627.36 132.6 645.79 133.2 654.7C133.8 663.61 134.4 680.82 135 680.82C135.6 680.82 136.2 661.93 136.8 654.7C137.4 647.47 138 642.01 138.6 637.45C139.2 632.89 139.8 624.49 140.4 627.36C141 630.24 141.6 645.79 142.2 654.7C142.8 663.61 143.4 685.38 144 680.82C144.6 676.27 145.2 627.36 145.8 627.36C146.4 627.36 147 671.91 147.6 680.82C148.2 689.74 148.8 688.05 149.4 680.82C150 673.6 150.6 641.81 151.2 637.45C151.8 633.1 152.4 651.83 153 654.7C153.6 657.57 154.2 650.35 154.8 654.7C155.4 659.05 156 676.47 156.6 680.82C157.2 685.18 157.8 680.82 158.4 680.82C159 680.82 159.6 680.82 160.2 680.82C160.8 680.82 161.4 685.18 162 680.82C162.6 676.47 163.2 654.7 163.8 654.7C164.4 654.7 165 676.47 165.6 680.82C166.2 685.18 166.8 685.18 167.4 680.82C168 676.47 168.6 654.7 169.2 654.7C169.8 654.7 170.4 676.47 171 680.82C171.6 685.18 172.2 680.82 172.8 680.82C173.4 680.82 174 685.18 174.6 680.82C175.2 676.47 175.8 659.05 176.4 654.7C177 650.35 177.6 650.35 178.2 654.7C178.8 659.05 179.4 683.7 180 680.82C180.6 677.95 181.2 637.45 181.8 637.45C182.4 637.45 183 673.6 183.6 680.82C184.2 688.05 184.8 680.82 185.4 680.82C186 680.82 186.6 680.82 187.2 680.82C187.8 680.82 188.4 680.82 189 680.82C189.6 680.82 190.2 685.18 190.8 680.82C191.4 676.47 192 654.7 192.6 654.7C193.2 654.7 193.8 680.82 194.4 680.82C195 680.82 195.6 654.7 196.2 654.7C196.8 654.7 197.4 676.47 198 680.82C198.6 685.18 199.2 680.82 199.8 680.82C200.4 680.82 201 680.82 201.6 680.82C202.2 680.82 202.8 680.82 203.4 680.82C204 680.82 204.6 680.82 205.2 680.82C205.8 680.82 206.4 680.82 207 680.82C207.6 680.82 208.2 680.82 208.8 680.82C209.4 680.82 210 680.82 210.6 680.82C211.2 680.82 211.8 680.82 212.4 680.82C213 680.82 213.6 680.82 214.2 680.82C214.8 680.82 215.4 680.82 216 680.82C216.6 680.82 217.2 680.82 217.8 680.82C218.4 680.82 219 680.82 219.6 680.82C220.2 680.82 220.8 680.82 221.4 680.82C222 680.82 222.6 685.18 223.2 680.82C223.8 676.47 224.4 654.7 225 654.7C225.6 654.7 226.2 676.47 226.8 680.82C227.4 685.18 228 685.18 228.6 680.82C229.2 676.47 229.8 654.7 230.4 654.7C231 654.7 231.6 680.82 232.2 680.82C232.8 680.82 233.4 654.7 234 654.7C234.6 654.7 235.2 676.47 235.8 680.82C236.4 685.18 237 680.82 237.6 680.82C238.2 680.82 238.8 680.82 239.4 680.82C240 680.82 240.6 680.82 241.2 680.82C241.8 680.82 242.4 680.82 243 680.82C243.6 680.82 244.2 680.82 244.8 680.82C245.4 680.82 246 680.82 246.6 680.82C247.2 680.82 247.8 680.82 248.4 680.82C249 680.82 249.6 680.82 250.2 680.82C250.8 680.82 251.4 680.82 252 680.82C252.6 680.82 253.2 680.82 253.8 680.82C254.4 680.82 255 680.82 255.6 680.82C256.2 680.82 256.8 680.82 257.4 680.82C258 680.82 258.6 680.82 259.2 680.82C259.8 680.82 260.4 680.82 261 680.82C261.6 680.82 262.2 680.82 262.8 680.82C263.4 680.82 264 680.82 264.6 680.82C265.2 680.82 265.8 680.82 266.4 680.82C267 680.82 267.6 680.82 268.2 680.82C268.8 680.82 269.4 680.82 270 680.82C270.6 680.82 271.2 680.82 271.8 680.82C272.4 680.82 273 680.82 273.6 680.82C274.2 680.82 274.8 680.82 275.4 680.82C276 680.82 276.6 680.82 277.2 680.82C277.8 680.82 278.4 685.18 279 680.82C279.6 676.47 280.2 654.7 280.8 654.7C281.4 654.7 282 676.47 282.6 680.82C283.2 685.18 283.8 680.82 284.4 680.82C285 680.82 285.6 680.82 286.2 680.82C286.8 680.82 287.4 680.82 288 680.82C288.6 680.82 289.2 685.18 289.8 680.82C290.4 676.47 291 654.7 291.6 654.7C292.2 654.7 292.8 676.47 293.4 680.82C294 685.18 294.6 680.82 295.2 680.82C295.8 680.82 296.4 680.82 297 680.82C297.6 680.82 298.2 680.82 298.8 680.82C299.4 680.82 300 680.82 300.6 680.82C301.2 680.82 301.8 680.82 302.4 680.82C303 680.82 303.6 680.82 304.2 680.82C304.8 680.82 305.4 680.82 306 680.82C306.6 680.82 307.2 680.82 307.8 680.82C308.4 680.82 309 680.82 309.6 680.82C310.2 680.82 310.8 680.82 311.4 680.82C312 680.82 312.6 680.82 313.2 680.82C313.8 680.82 314.4 680.82 315 680.82C315.6 680.82 316.2 680.82 316.8 680.82C317.4 680.82 318 680.82 318.6 680.82C319.2 680.82 319.8 680.82 320.4 680.82C321 680.82 321.6 680.82 322.2 680.82C322.8 680.82 323.4 680.82 324 680.82C324.6 680.82 325.2 685.18 325.8 680.82C326.4 676.47 327 654.7 327.6 654.7C328.2 654.7 328.8 676.47 329.4 680.82C330 685.18 330.6 680.82 331.2 680.82C331.8 680.82 332.4 680.82 333 680.82C333.6 680.82 334.2 680.82 334.8 680.82C335.4 680.82 336 680.82 336.6 680.82C337.2 680.82 337.8 680.82 338.4 680.82C339 680.82 339.6 680.82 340.2 680.82C340.8 680.82 341.4 680.82 342 680.82C342.6 680.82 343.2 680.82 343.8 680.82C344.4 680.82 345 680.82 345.6 680.82C346.2 680.82 346.8 680.82 347.4 680.82C348 680.82 348.6 680.82 349.2 680.82C349.8 680.82 350.4 680.82 351 680.82C351.6 680.82 352.2 680.82 352.8 680.82C353.4 680.82 354 680.82 354.6 680.82C355.2 680.82 355.8 680.82 356.4 680.82C357 680.82 357.6 680.82 358.2 680.82C358.8 680.82 359.4 680.82 360 680.82C360.6 680.82 361.2 680.82 361.8 680.82C362.4 680.82 363 680.82 363.6 680.82C364.2 680.82 364.8 680.82 365.4 680.82C366 680.82 366.6 680.82 367.2 680.82C367.8 680.82 368.4 680.82 369 680.82C369.6 680.82 370.2 680.82 370.8 680.82C371.4 680.82 372 680.82 372.6 680.82C373.2 680.82 373.8 680.82 374.4 680.82C375 680.82 375.6 680.82 376.2 680.82C376.8 680.82 377.4 680.82 378 680.82C378.6 680.82 379.2 680.82 379.8 680.82C380.4 680.82 381 680.82 381.6 680.82C382.2 680.82 382.8 680.82 383.4 680.82C384 680.82 384.6 680.82 385.2 680.82C385.8 680.82 386.4 680.82 387 680.82C387.6 680.82 388.2 680.82 388.8 680.82C389.4 680.82 390 680.82 390.6 680.82C391.2 680.82 391.8 680.82 392.4 680.82C393 680.82 393.6 680.82 394.2 680.82C394.8 680.82 395.4 685.18 396 680.82C396.6 676.47 397.2 654.7 397.8 654.7C398.4 654.7 399 676.47 399.6 680.82C400.2 685.18 400.8 680.82 401.4 680.82C402 680.82 402.6 680.82 403.2 680.82C403.8 680.82 404.4 680.82 405 680.82C405.6 680.82 406.2 680.82 406.8 680.82C407.4 680.82 408 680.82 408.6 680.82C409.2 680.82 409.8 680.82 410.4 680.82C411 680.82 411.6 680.82 412.2 680.82C412.8 680.82 413.4 680.82 414 680.82C414.6 680.82 415.2 680.82 415.8 680.82C416.4 680.82 417 680.82 417.6 680.82C418.2 680.82 418.8 680.82 419.4 680.82C420 680.82 420.6 680.82 421.2 680.82C421.8 680.82 422.4 680.82 423 680.82C423.6 680.82 424.2 680.82 424.8 680.82C425.4 680.82 426 680.82 426.6 680.82C427.2 680.82 427.8 680.82 428.4 680.82C429 680.82 429.6 680.82 430.2 680.82C430.8 680.82 431.4 680.82 432 680.82C432.6 680.82 433.2 680.82 433.8 680.82C434.4 680.82 435 680.82 435.6 680.82C436.2 680.82 436.8 680.82 437.4 680.82C438 680.82 438.6 680.82 439.2 680.82C439.8 680.82 440.4 680.82 441 680.82C441.6 680.82 442.2 680.82 442.8 680.82C443.4 680.82 444 680.82 444.6 680.82C445.2 680.82 445.8 680.82 446.4 680.82C447 680.82 447.6 680.82 448.2 680.82C448.8 680.82 449.4 680.82 450 680.82C450.6 680.82 451.2 680.82 451.8 680.82C452.4 680.82 453 680.82 453.6 680.82C454.2 680.82 454.8 680.82 455.4 680.82C456 680.82 456.6 685.18 457.2 680.82C457.8 676.47 458.4 654.7 459 654.7C459.6 654.7 460.2 676.47 460.8 680.82C461.4 685.18 462 680.82 462.6 680.82C463.2 680.82 463.8 680.82 464.4 680.82C465 680.82 465.6 680.82 466.2 680.82C466.8 680.82 467.4 680.82 468 680.82C468.6 680.82 469.2 680.82 469.8 680.82C470.4 680.82 471 680.82 471.6 680.82C472.2 680.82 472.8 680.82 473.4 680.82C474 680.82 474.6 680.82 475.2 680.82C475.8 680.82 476.4 680.82 477 680.82C477.6 680.82 478.2 680.82 478.8 680.82C479.4 680.82 480 680.82 480.6 680.82C481.2 680.82 481.8 680.82 482.4 680.82C483 680.82 483.6 680.82 484.2 680.82C484.8 680.82 485.4 680.82 486 680.82C486.6 680.82 487.2 680.82 487.8 680.82C488.4 680.82 489 680.82 489.6 680.82C490.2 680.82 490.8 680.82 491.4 680.82C492 680.82 492.6 680.82 493.2 680.82C493.8 680.82 494.4 680.82 495 680.82C495.6 680.82 496.2 680.82 496.8 680.82C497.4 680.82 498 680.82 498.6 680.82C499.2 680.82 499.8 680.82 500.4 680.82C501 680.82 501.6 680.82 502.2 680.82C502.8 680.82 503.4 680.82 504 680.82C504.6 680.82 505.2 680.82 505.8 680.82C506.4 680.82 507 680.82 507.6 680.82C508.2 680.82 508.8 680.82 509.4 680.82C510 680.82 510.6 680.82 511.2 680.82C511.8 680.82 512.4 680.82 513 680.82C513.6 680.82 514.2 680.82 514.8 680.82C515.4 680.82 516 680.82 516.6 680.82C517.2 680.82 517.8 680.82 518.4 680.82C519 680.82 519.6 680.82 520.2 680.82C520.8 680.82 521.4 680.82 522 680.82C522.6 680.82 523.2 680.82 523.8 680.82C524.4 680.82 525 680.82 525.6 680.82C526.2 680.82 526.8 680.82 527.4 680.82C528 680.82 528.6 680.82 529.2 680.82C529.8 680.82 530.4 680.82 531 680.82C531.6 680.82 532.2 680.82 532.8 680.82C533.4 680.82 534 680.82 534.6 680.82C535.2 680.82 535.8 680.82 536.4 680.82C537 680.82 537.6 680.82 538.2 680.82C538.8 680.82 539.4 680.82 540 680.82C540.6 680.82 541.2 680.82 541.8 680.82C542.4 680.82 543 680.82 543.6 680.82C544.2 680.82 544.8 680.82 545.4 680.82C546 680.82 546.6 680.82 547.2 680.82C547.8 680.82 548.4 680.82 549 680.82C549.6 680.82 550.2 680.82 550.8 680.82C551.4 680.82 552 680.82 552.6 680.82C553.2 680.82 553.8 680.82 554.4 680.82C555 680.82 555.6 680.82 556.2 680.82C556.8 680.82 557.4 680.82 558 680.82C558.6 680.82 559.2 680.82 559.8 680.82C560.4 680.82 561 680.82 561.6 680.82C562.2 680.82 562.8 680.82 563.4 680.82C564 680.82 564.6 680.82 565.2 680.82C565.8 680.82 566.4 680.82 567 680.82C567.6 680.82 568.5 680.82 568.8 680.82" stroke="#ff0000" stroke-width="0.8" fill="none" stroke-linejoin="round" stroke-opacity="0.85"/>
<path d="M84.6 654.7C85.1 659.05 86.6 687.5 87.6 680.82C88.6 674.15 89.6 621.88 90.6 614.65C91.6 607.42 92.6 633.65 93.6 637.45C94.6 641.25 95.6 637.45 96.6 637.45C97.6 637.45 98.6 637.45 99.6 637.45C100.6 637.45 101.6 634.58 102.6 637.45C103.6 640.33 104.6 654.7 105.6 654.7C106.6 654.7 107.6 643.2 108.6 637.45C109.6 631.7 110.6 617.33 111.6 620.2C112.6 623.08 113.6 653.51 114.6 654.7C115.6 655.89 116.6 623.01 117.6 627.36C118.6 631.72 119.6 671.91 120.6 680.82C121.6 689.74 122.6 688.05 123.6 680.82C124.6 673.6 125.6 647.55 126.6 637.45C127.6 627.35 128.6 617.33 129.6 620.2C130.6 623.08 131.6 654.7 132.6 654.7C133.6 654.7 134.6 623.08 135.6 620.2C136.6 617.33 137.6 631.7 138.6 637.45C139.6 643.2 140.6 651.83 141.6 654.7C142.6 657.57 143.6 650.35 144.6 654.7C145.6 659.05 146.6 676.47 147.6 680.82C148.6 685.18 149.6 680.82 150.6 680.82C151.6 680.82 152.6 685.18 153.6 680.82C154.6 676.47 155.6 659.05 156.6 654.7C157.6 650.35 158.6 650.35 159.6 654.7C160.6 659.05 161.6 676.47 162.6 680.82C163.6 685.18 164.6 680.82 165.6 680.82C166.6 680.82 167.6 685.18 168.6 680.82C169.6 676.47 170.6 659.05 171.6 654.7C172.6 650.35 173.6 654.7 174.6 654.7C175.6 654.7 176.6 654.7 177.6 654.7C178.6 654.7 179.6 650.35 180.6 654.7C181.6 659.05 182.6 676.47 183.6 680.82C184.6 685.18 185.6 680.82 186.6 680.82C187.6 680.82 188.6 685.18 189.6 680.82C190.6 676.47 191.6 654.7 192.6 654.7C193.6 654.7 194.6 676.47 195.6 680.82C196.6 685.18 197.6 685.18 198.6 680.82C199.6 676.47 200.6 654.7 201.6 654.7C202.6 654.7 203.6 680.82 204.6 680.82C205.6 680.82 206.6 654.7 207.6 654.7C208.6 654.7 209.6 676.47 210.6 680.82C211.6 685.18 212.6 680.82 213.6 680.82C214.6 680.82 215.6 680.82 216.6 680.82C217.6 680.82 218.6 680.82 219.6 680.82C220.6 680.82 221.6 680.82 222.6 680.82C223.6 680.82 224.6 680.82 225.6 680.82C226.6 680.82 227.6 680.82 228.6 680.82C229.6 680.82 230.6 680.82 231.6 680.82C232.6 680.82 233.6 680.82 234.6 680.82C235.6 680.82 236.6 680.82 237.6 680.82C238.6 680.82 239.6 680.82 240.6 680.82C241.6 680.82 242.6 680.82 243.6 680.82C244.6 680.82 245.6 680.82 246.6 680.82C247.6 680.82 248.6 685.18 249.6 680.82C250.6 676.47 251.6 654.7 252.6 654.7C253.6 654.7 254.6 676.47 255.6 680.82C256.6 685.18 257.6 680.82 258.6 680.82C259.6 680.82 260.6 680.82 261.6 680.82C262.6 680.82 263.6 680.82 264.6 680.82C265.6 680.82 266.6 680.82 267.6 680.82C268.6 680.82 269.6 685.18 270.6 680.82C271.6 676.47 272.6 654.7 273.6 654.7C274.6 654.7 275.6 676.47 276.6 680.82C277.6 685.18 278.6 680.82 279.6 680.82C280.6 680.82 281.6 680.82 282.6 680.82C283.6 680.82 284.6 680.82 285.6 680.82C286.6 680.82 287.6 680.82 288.6 680.82C289.6 680.82 290.6 680.82 291.6 680.82C292.6 680.82 293.6 680.82 294.6 680.82C295.6 680.82 296.6 680.82 297.6 680.82C298.6 680.82 299.6 680.82 300.6 680.82C301.6 680.82 302.6 680.82 303.6 680.82C304.6 680.82 305.6 680.82 306.6 680.82C307.6 680.82 308.6 680.82 309.6 680.82C310.6 680.82 311.6 680.82 312.6 680.82C313.6 680.82 314.6 680.82 315.6 680.82C316.6 680.82 317.6 680.82 318.6 680.82C319.6 680.82 320.6 680.82 321.6 680.82C322.6 680.82 323.6 680.82 324.6 680.82C325.6 680.82 326.6 680.82 327.6 680.82C328.6 680.82 329.6 680.82 330.6 680.82C331.6 680.82 332.6 680.82 333.6 680.82C334.6 680.82 335.6 680.82 336.6 680.82C337.6 680.82 338.6 680.82 339.6 680.82C340.6 680.82 341.6 680.82 342.6 680.82C343.6 680.82 344.6 680.82 345.6 680.82C346.6 680.82 347.6 680.82 348.6 680.82C349.6 680.82 350.6 680.82 351.6 680.82C352.6 680.82 353.6 680.82 354.6 680.82C355.6 680.82 356.6 680.82 357.6 680.82C358.6 680.82 359.6 680.82 360.6 680.82C361.6 680.82 362.6 685.18 363.6 680.82C364.6 676.47 365.6 654.7 366.6 654.7C367.6 654.7 368.6 676.47 369.6 680.82C370.6 685.18 371.6 680.82 372.6 680.82C373.6 680.82 374.6 680.82 375.6 680.82C376.6 680.82 377.6 680.82 378.6 680.82C379.6 680.82 380.6 680.82 381.6 680.82C382.6 680.82 383.6 680.82 384.6 680.82C385.6 680.82 386.6 685.18 387.6 680.82C388.6 676.47 389.6 654.7 390.6 654.7C391.6 654.7 392.6 676.47 393.6 680.82C394.6 685.18 395.6 680.82 396.6 680.82C397.6 680.82 398.6 680.82 399.6 680.82C400.6 680.82 401.6 680.82 402.6 680.82C403.6 680.82 404.6 680.82 405.6 680.82C406.6 680.82 407.6 680.82 408.6 680.82C409.6 680.82 410.6 685.18 411.6 680.82C412.6 676.47 413.6 654.7 414.6 654.7C415.6 654.7 416.6 676.47 417.6 680.82C418.6 685.18 419.6 680.82 420.6 680.82C421.6 680.82 422.6 680.82 423.6 680.82C424.6 680.82 425.6 680.82 426.6 680.82C427.6 680.82 428.6 680.82 429.6 680.82C430.6 680.82 431.6 680.82 432.6 680.82C433.6 680.82 434.6 680.82 435.6 680.82C436.6 680.82 437.6 680.82 438.6 680.82C439.6 680.82 440.6 680.82 441.6 680.82C442.6 680.82 443.6 680.82 444.6 680.82C445.6 680.82 446.6 680.82 447.6 680.82C448.6 680.82 449.6 680.82 450.6 680.82C451.6 680.82 452.6 680.82 453.6 680.82C454.6 680.82 455.6 680.82 456.6 680.82C457.6 680.82 458.6 680.82 459.6 680.82C460.6 680.82 461.6 680.82 462.6 680.82C463.6 680.82 464.6 680.82 465.6 680.82C466.6 680.82 467.6 680.82 468.6 680.82C469.6 680.82 470.6 680.82 471.6 680.82C472.6 680.82 473.6 680.82 474.6 680.82C475.6 680.82 476.6 680.82 477.6 680.82C478.6 680.82 479.6 680.82 480.6 680.82C481.6 680.82 482.6 680.82 483.6 680.82C484.6 680.82 485.6 680.82 486.6 680.82C487.6 680.82 488.6 680.82 489.6 680.82C490.6 680.82 491.6 680.82 492.6 680.82C493.6 680.82 494.6 680.82 495.6 680.82C496.6 680.82 497.6 680.82 498.6 680.82C499.6 680.82 500.6 680.82 501.6 680.82C502.6 680.82 503.6 680.82 504.6 680.82C505.6 680.82 506.6 680.82 507.6 680.82C508.6 680.82 509.6 680.82 510.6 680.82C511.6 680.82 512.6 680.82 513.6 680.82C514.6 680.82 515.6 680.82 516.6 680.82C517.6 680.82 518.6 680.82 519.6 680.82C520.6 680.82 521.6 680.82 522.6 680.82C523.6 680.82 524.6 680.82 525.6 680.82C526.6 680.82 527.6 680.82 528.6 680.82C529.6 680.82 530.6 680.82 531.6 680.82C532.6 680.82 533.6 680.82 534.6 680.82C535.6 680.82 536.6 680.82 537.6 680.82C538.6 680.82 539.6 680.82 540.6 680.82C541.6 680.82 542.6 680.82 543.6 680.82C544.6 680.82 545.6 680.82 546.6 680.82C547.6 680.82 548.6 680.82 549.6 680.82C550.6 680.82 551.6 680.82 552.6 680.82C553.6 680.82 554.6 680.82 555.6 680.82C556.6 680.82 557.6 680.82 558.6 680.82C559.6 680.82 560.6 680.82 561.6 680.82C562.6 680.82 563.6 680.82 564.6 680.82C565.6 680.82 567.1 680.82 567.6 680.82" stroke="#8b0000" stroke-width="0.9" fill="none" stroke-linejoin="round"/>
<path d="M84.6 584.29 85.4 600.65 86.2 585.47 87 599.45 87.8 587.47 88.6 596.25 89.4 614.32 90.2 600.27 91 594.88 91.8 606.54 92.6 589.67 93.4 590.05 94.2 596.51 95 599.58 95.8 594.51 96.6 612.3 97.4 604.18 98.2 606.94 99 598.68 99.8 598.39 100.6 614.52 101.4 616.58 102.2 605.12 103 605.27 103.8 637.18 104.6 609.07 105.4 614.37 106.2 610.51 107 599.83 107.8 610.83 108.6 606.8 109.4 618 110.2 620.47 111 604.05 111.8 612.27 112.6 619.29 113.4 616.05 114.2 614.41 115 612.17 115.8 637.44 116.6 626.78 117.4 605.2 118.2 614.78 119 652.54 119.8 623.82 120.6 638.09 121.4 623.64 122.2 622.95 123 627.45 123.8 612.3 124.6 615.43 125.4 612.36 126.2 626.48 127 613.76 127.8 637.69 128.6 627.3 129.4 631.66 130.2 614.74 131 638.29 131.8 636.69 132.6 654.69 133.4 654.7 134.2 630.72 135 613.41 135.8 615.89 136.6 623.16 137.4 636.87 138.2 640.87 139 654.7 139.8 640.98 140.6 627.95 141.4 630.27 142.2 615.52 143 652.97 143.8 654.05 144.6 637.01 145.4 653.76 146.2 626.11 147 654.7 147.8 654.7 148.6 637.31 149.4 622.85 150.2 638.16 151 654.18 151.8 654.7 152.6 636.88 153.4 638.34 154.2 651.06 155 628.08 155.8 626.7 156.6 653.85 157.4 654.6 158.2 626.97 159 654.7 159.8 654.7 160.6 654.53 161.4 653.52 162.2 618.34 163 654.7 163.8 612.55 164.6 654.7 165.4 654.7 166.2 654.7 167 654.7 167.8 654.7 168.6 654.61 169.4 637.13 170.2 635.71 171 636.35 171.8 654.7 172.6 653.89 173.4 654.7 174.2 619.07 175 654.7 175.8 637.61 176.6 636.34 177.4 652.71 178.2 654.16 179 639 179.8 637.6 180.6 654.7 181.4 653.28 182.2 654.7 183 636.99 183.8 654.7 184.6 654.7 185.4 637.25 186.2 654.7 187 638.17 187.8 654.7 188.6 654.7 189.4 654.7 190.2 653.85 191 653.01 191.8 637.94 192.6 629.33 193.4 654.7 194.2 637.77 195 653.38 195.8 654.7 196.6 654.7 197.4 654.7 198.2 654.7 199 654.7 199.8 654.7 200.6 654.7 201.4 654.7 202.2 654.7 203 654.7 203.8 639.23 204.6 654.7 205.4 626.79 206.2 654.06 207 654.7 207.8 654.7 208.6 654.7 209.4 654.4 210.2 654.7 211 627.36 211.8 654.7 212.6 654.7 213.4 654.7 214.2 636.64 215 626.76 215.8 654.7 216.6 626.64 217.4 654.7 218.2 654.7 219 654.7 219.8 654.7 220.6 652.47 221.4 654.28 222.2 637.22 223 654.7 223.8 654.7 224.6 637.38 225.4 654.7 226.2 653.67 227 654.7 227.8 654.53 228.6 654.51 229.4 654.7 230.2 654.7 231 654.7 231.8 654.7 232.6 654.7 233.4 637.84 234.2 638.28 235 652.07 235.8 654.7 236.6 638.75 237.4 654.7 238.2 654.7 239 654.7 239.8 626.7 240.6 652.49 241.4 654.67 242.2 653.79 243 654.7 243.8 654.7 244.6 654.7 245.4 654.7 246.2 654.7 247 654.7 247.8 654.7 248.6 654.7 249.4 654.7 250.2 654.7 251 637.01 251.8 654.7 252.6 654.24 253.4 653.08 254.2 637.3 255 654.7 255.8 654.7 256.6 654.7 257.4 654.7 258.2 654.49 259 637.54 259.8 654.7 260.6 654.7 261.4 654.7 262.2 654.7 263 654.7 263.8 652.69 264.6 653.87 265.4 654.7 266.2 654.25 267 654.7 267.8 637.34 268.6 654.7 269.4 654.7 270.2 636.61 271 654.7 271.8 654.7 272.6 637.64 273.4 654.7 274.2 628.7 275 654.7 275.8 654.7 276.6 654.7 277.4 636.9 278.2 654.7 279 654.7 279.8 654.7 280.6 654.7 281.4 654.7 282.2 654.7 283 654.7 283.8 654.7 284.6 654.7 285.4 654.58 286.2 654.7 287 654.7 287.8 654.47 288.6 654.7 289.4 654.63 290.2 654.7 291 654.7 291.8 654.7 292.6 654.7 293.4 654.7 294.2 654.7 295 654.7 295.8 627.48 296.6 654.7 297.4 654.7 298.2 654.7 299 654.7 299.8 654.7 300.6 654.7 301.4 654.7 302.2 654.7 303 654.7 303.8 654.7 304.6 654.7 305.4 654.7 306.2 654.7 307 654.7 307.8 654.7 308.6 654.7 309.4 654.7 310.2 654.7 311 654.7 311.8 654.7 312.6 654.7 313.4 637.45 314.2 654.7 315 654.7 315.8 654.7 316.6 654.7 317.4 654.7 318.2 654.7 319 654.7 319.8 654.7 320.6 654.7 321.4 654.7 322.2 654.7 323 654.7 323.8 654.7 324.6 654.7 325.4 654.7 326.2 654.7 327 654.7 327.8 654.7 328.6 654.7 329.4 654.7 330.2 654.7 331 654.7 331.8 654.7 332.6 637.45 333.4 654.7 334.2 654.7 335 654.7 335.8 654.7 336.6 654.7 337.4 654.7 338.2 654.7 339 654.7 339.8 654.7 340.6 654.7 341.4 654.7 342.2 654.7 343 654.7 343.8 654.7 344.6 654.7 345.4 654.7 346.2 654.7 347 654.7 347.8 654.7 348.6 654.7 349.4 654.7 350.2 654.7 351 654.7 351.8 654.7 352.6 654.7 353.4 654.7 354.2 654.7 355 654.7 355.8 654.7 356.6 654.7 357.4 654.7 358.2 654.7 359 654.7 359.8 654.7 360.6 654.7 361.4 654.7 362.2 654.7 363 654.7 363.8 654.7 364.6 654.7 365.4 654.7 366.2 654.7 367 654.7 367.8 654.7 368.6 654.7 369.4 654.7 370.2 654.7 371 654.7 371.8 654.7 372.6 654.7 373.4 654.7 374.2 654.7 375 654.7 375.8 654.7 376.6 654.7 377.4 654.7 378.2 654.7 379 654.7 379.8 654.7 380.6 654.7 381.4 654.7 382.2 654.7 383 654.7 383.8 654.7 384.6 654.7 385.4 654.7 386.2 654.7 387 654.7 387.8 654.7 388.6 654.7 389.4 654.7 390.2 654.7 391 654.7 391.8 654.7 392.6 654.7 393.4 654.7 394.2 654.7 395 654.7 395.8 654.7 396.6 654.7 397.4 654.7 398.2 654.7 399 654.7 399.8 654.7 400.6 654.7 401.4 654.7 402.2 654.7 403 654.7 403.8 654.7 404.6 654.7 405.4 654.7 406.2 654.7 407 654.7 407.8 654.7 408.6 654.7 409.4 654.7 410.2 654.7 411 654.7 411.8 654.7 412.6 654.7 413.4 654.7 414.2 654.7 415 654.7 415.8 654.7 416.6 654.7 417.4 654.7 418.2 654.7 419 654.7 419.8 654.7 420.6 654.7 421.4 654.7 422.2 654.7 423 654.7 423.8 654.7 424.6 654.7 425.4 654.7 426.2 654.7 427 654.7 427.8 654.7 428.6 654.7 429.4 654.7 430.2 654.7 431 654.7 431.8 654.7 432.6 654.7 433.4 654.7 434.2 654.7 435 654.7 435.8 654.7 436.6 654.7 437.4 654.7 438.2 654.7 439 654.7 439.8 654.7 440.6 654.7 441.4 654.7 442.2 654.7 443 654.7 443.8 654.7 444.6 654.7 445.4 654.7 446.2 654.7 447 654.7 447.8 654.7 448.6 654.7 449.4 654.7 450.2 654.7 451 654.7 451.8 654.7 452.6 654.7 453.4 654.7 454.2 654.7 455 654.7 455.8 654.7 456.6 654.7 457.4 654.7 458.2 654.7 459 654.7 459.8 654.7 460.6 654.7 461.4 654.7 462.2 654.7 463 654.7 463.8 654.7 464.6 654.7 465.4 654.7 466.2 654.7 467 654.7 467.8 654.7 468.6 654.7 469.4 654.7 470.2 654.7 471 654.7 471.8 654.7 472.6 654.7 473.4 654.7 474.2 654.7 475 654.7 475.8 654.7 476.6 654.7 477.4 654.7 478.2 654.7 479 654.7 479.8 654.7 480.6 654.7 481.4 654.7 482.2 654.7 483 654.7 483.8 654.7 484.6 654.7 485.4 654.7 486.2 654.7 487 654.7 487.8 654.7 488.6 654.7 489.4 654.7 490.2 654.7 491 654.7 491.8 654.7 492.6 654.7 493.4 654.7 494.2 654.7 495 654.7 495.8 654.7 496.6 654.7 497.4 654.7 498.2 654.7 499 654.7 499.8 654.7 500.6 654.7 501.4 654.7 502.2 654.7 503 654.7 503.8 654.7 504.6 654.7 505.4 654.7 506.2 654.7 507 654.7 507.8 654.7 508.6 654.7 509.4 654.7 510.2 654.7 511 654.7 511.8 654.7 512.6 654.7 513.4 654.7 514.2 654.7 515 654.7 515.8 654.7 516.6 654.7 517.4 654.7 518.2 654.7 519 654.7 519.8 654.7 520.6 654.7 521.4 654.7 522.2 654.7 523 654.7 523.8 654.7 524.6 654.7 525.4 654.7 526.2 654.7 527 654.7 527.8 654.7 528.6 654.7 529.4 654.7 530.2 654.7 531 654.7 531.8 654.7 532.6 654.7 533.4 654.7 534.2 654.7 535 654.7 535.8 654.7 536.6 654.7 537.4 654.7 538.2 654.7 539 654.7 539.8 654.7 540.6 654.7 541.4 654.7 542.2 654.7 543 654.7 543.8 654.7 544.6 654.7 545.4 654.7 546.2 654.7 547 654.7 547.8 654.7 548.6 654.7 549.4 654.7 550.2 654.7 551 654.7 551.8 654.7 552.6 654.7 553.4 654.7 554.2 654.7 555 654.7 555.8 654.7 556.6 654.7 557.4 654.7 558.2 654.7 559 654.7 559.8 654.7 560.6 654.7 561.4 654.7 562.2 654.7 563 654.7 563.8 654.7 564.6 654.7 565.4 654.7 566.2 654.7 567 654.7 567.8 654.7 568.6 654.7" stroke="#60cc60" stroke-width="1.4" fill="none" stroke-linejoin="round"/>
<path d="M84.6 564.98 85 558.38 85.4 562.37 85.8 570.5 86.2 564.47 86.6 568.73 87 566.63 87.4 570.65 87.8 587.48 88.2 581.19 88.6 567.22 89 568.36 89.4 572.72 89.8 580.06 90.2 574.52 90.6 581.81 91 578.14 91.4 583.63 91.8 594.56 92.2 589.19 92.6 583.54 93 591.69 93.4 599.5 93.8 582.31 94.2 581.54 94.6 597.86 95 589.44 95.4 588.68 95.8 576.17 96.2 600.83 96.6 593.18 97 584.25 97.4 589.44 97.8 597.09 98.2 588.06 98.6 585.87 99 585.13 99.4 598.77 99.8 591.51 100.2 593.88 100.6 596.34 101 604.06 101.4 592.24 101.8 600.56 102.2 589 102.6 603.45 103 601.71 103.4 598.92 103.8 616.9 104.2 597.57 104.6 598.06 105 601.06 105.4 593.72 105.8 585.91 106.2 599.91 106.6 599.2 107 597.05 107.4 602.64 107.8 594.04 108.2 595.75 108.6 610.38 109 602.49 109.4 592.41 109.8 599.85 110.2 595.29 110.6 588.05 111 602.24 111.4 607.93 111.8 617.55 112.2 590.18 112.6 591.59 113 616.46 113.4 594.97 113.8 591.17 114.2 595.17 114.6 595.67 115 623.51 115.4 608.8 115.8 610.58 116.2 601 116.6 609.44 117 603.27 117.4 594.68 117.8 593.01 118.2 600.31 118.6 598.41 119 598.57 119.4 591.74 119.8 654.7 120.2 595.62 120.6 600.8 121 602.96 121.4 599.61 121.8 606.42 122.2 601.58 122.6 601.72 123 591.13 123.4 634.49 123.8 609.38 124.2 601.59 124.6 594.44 125 592.51 125.4 601.58 125.8 595.67 126.2 607.85 126.6 592.41 127 606.15 127.4 593.66 127.8 610.23 128.2 627.83 128.6 595.66 129 602.8 129.4 617.49 129.8 597.99 130.2 606.1 130.6 596.02 131 606.83 131.4 615.97 131.8 613.89 132.2 592.01 132.6 603.26 133 597.95 133.4 607.58 133.8 607.84 134.2 600.65 134.6 611.35 135 598.25 135.4 579.79 135.8 622.38 136.2 597.51 136.6 612.99 137 605.81 137.4 603.68 137.8 603.93 138.2 600.27 138.6 611.44 139 596.73 139.4 597.83 139.8 605.77 140.2 615.52 140.6 613.04 141 621.78 141.4 595.34 141.8 602.57 142.2 602.87 142.6 617.96 143 591.79 143.4 601.12 143.8 605.73 144.2 617.65 144.6 643.36 145 601.03 145.4 622.45 145.8 600.93 146.2 599.04 146.6 599.7 147 616.05 147.4 608.38 147.8 596.93 148.2 603.55 148.6 592.7 149 598.66 149.4 619.25 149.8 612.82 150.2 614.61 150.6 588.67 151 611.26 151.4 598.06 151.8 605.56 152.2 603.27 152.6 634.94 153 613.86 153.4 609.23 153.8 602.36 154.2 601.07 154.6 594.46 155 594.07 155.4 602.7 155.8 615.65 156.2 591.55 156.6 612.66 157 621.8 157.4 604.09 157.8 613.15 158.2 612.34 158.6 604.52 159 582.47 159.4 610.23 159.8 589.96 160.2 608.17 160.6 606.95 161 598.87 161.4 624.22 161.8 616.77 162.2 613.56 162.6 611.19 163 603.46 163.4 600.07 163.8 623.52 164.2 618.85 164.6 599.96 165 606.51 165.4 620.39 165.8 618.6 166.2 651.65 166.6 613.21 167 598.24 167.4 612.8 167.8 598.44 168.2 608.33 168.6 613.71 169 627.62 169.4 618.66 169.8 623.92 170.2 619.07 170.6 605.39 171 605.7 171.4 595.31 171.8 608.07 172.2 598.11 172.6 614.73 173 616.4 173.4 610.03 173.8 609.58 174.2 597.71 174.6 594.19 175 603.97 175.4 619.68 175.8 634.33 176.2 630.06 176.6 607.44 177 609.36 177.4 608.92 177.8 614.73 178.2 604.58 178.6 612.2 179 629.54 179.4 617.97 179.8 605.08 180.2 621.64 180.6 610.78 181 609.85 181.4 613.69 181.8 596.66 182.2 631.49 182.6 607.34 183 611.52 183.4 601.47 183.8 616.89 184.2 616.2 184.6 626.08 185 596.99 185.4 622.74 185.8 621.04 186.2 604.12 186.6 635.22 187 605.26 187.4 613.98 187.8 607.9 188.2 607.41 188.6 610.13 189 608.6 189.4 654.7 189.8 654.7 190.2 601.26 190.6 609.66 191 611.28 191.4 654.7 191.8 607.57 192.2 615.01 192.6 608.48 193 613.05 193.4 616.5 193.8 630.55 194.2 603.23 194.6 606.66 195 629.27 195.4 597.28 195.8 598.82 196.2 616.38 196.6 617.43 197 609.89 197.4 629.48 197.8 638.83 198.2 654.7 198.6 606.12 199 606.63 199.4 605.14 199.8 605.74 200.2 616.03 200.6 612.86 201 600.04 201.4 610.47 201.8 654.7 202.2 635.7 202.6 611.47 203 651.79 203.4 620.65 203.8 628.04 204.2 621.97 204.6 604.96 205 612.78 205.4 654.7 205.8 589.24 206.2 629.78 206.6 636.52 207 628.77 207.4 628.01 207.8 608.54 208.2 626.05 208.6 618.62 209 610 209.4 626.26 209.8 606.08 210.2 604.32 210.6 604.31 211 605.83 211.4 618.54 211.8 624.27 212.2 626.31 212.6 609.79 213 610.61 213.4 632.37 213.8 612.05 214.2 613.14 214.6 604.3 215 598.36 215.4 627.19 215.8 654.7 216.2 597.25 216.6 608.81 217 607.63 217.4 610.56 217.8 610.44 218.2 624.35 218.6 638.46 219 612.45 219.4 620.09 219.8 619.89 220.2 605.45 220.6 611.78 221 609.47 221.4 628.46 221.8 608.95 222.2 614.53 222.6 618.09 223 612.61 223.4 638.74 223.8 637.99 224.2 653.34 224.6 622.85 225 652.14 225.4 626.02 225.8 626.67 226.2 635.98 226.6 608.67 227 611.43 227.4 610.27 227.8 609.22 228.2 613.01 228.6 609.14 229 617.27 229.4 605.57 229.8 626.3 230.2 637.51 230.6 623.09 231 641.28 231.4 608.41 231.8 610.23 232.2 626.79 232.6 615.33 233 609.44 233.4 654.7 233.8 636.76 234.2 628.12 234.6 653.27 235 640.13 235.4 628.68 235.8 620.68 236.2 617.39 236.6 654.7 237 639.71 237.4 621.21 237.8 606.75 238.2 630.13 238.6 614.39 239 620.45 239.4 654.7 239.8 654.12 240.2 637.1 240.6 611.03 241 635.92 241.4 654.7 241.8 604.33 242.2 613.91 242.6 652.81 243 603.7 243.4 627.81 243.8 626.94 244.2 614.92 244.6 638.64 245 611.7 245.4 635.36 245.8 608.79 246.2 628.53 246.6 654.65 247 623.63 247.4 627.4 247.8 618.15 248.2 627.11 248.6 607.22 249 630.52 249.4 619.66 249.8 610.8 250.2 636.38 250.6 636.27 251 611.54 251.4 605.86 251.8 627.27 252.2 635.8 252.6 616.04 253 627.92 253.4 610.59 253.8 608.6 254.2 606.76 254.6 654.7 255 619.49 255.4 651.74 255.8 638.33 256.2 617.03 256.6 617.86 257 622.12 257.4 652.63 257.8 626.03 258.2 638.54 258.6 627.49 259 626.63 259.4 620.97 259.8 613.88 260.2 629.32 260.6 653.55 261 620.25 261.4 608.65 261.8 653.61 262.2 620.16 262.6 610.59 263 653.3 263.4 637.9 263.8 615.17 264.2 614.48 264.6 625.56 265 654.7 265.4 654.7 265.8 637.16 266.2 635.74 266.6 625.94 267 626.93 267.4 627.25 267.8 614.45 268.2 654.7 268.6 626.56 269 637.88 269.4 628.08 269.8 654.7 270.2 618.46 270.6 626.57 271 654.7 271.4 639.25 271.8 626.91 272.2 636.92 272.6 654.34 273 654.7 273.4 654.7 273.8 654.22 274.2 652.66 274.6 620.89 275 654.51 275.4 619.3 275.8 628.15 276.2 654.7 276.6 654.7 277 637.31 277.4 654.7 277.8 654.7 278.2 625.36 278.6 615.94 279 636.9 279.4 654.7 279.8 621.53 280.2 654.17 280.6 637.45 281 654 281.4 654.7 281.8 654.69 282.2 636.4 282.6 654.7 283 654.7 283.4 654.7 283.8 654.7 284.2 638.66 284.6 653.75 285 619.54 285.4 638.33 285.8 654.7 286.2 654.7 286.6 654.35 287 654.7 287.4 654.38 287.8 654.05 288.2 654.45 288.6 637.71 289 654.7 289.4 654.7 289.8 654.7 290.2 654.7 290.6 654.65 291 654.7 291.4 654.7 291.8 637.54 292.2 627.79 292.6 654.7 293 654.7 293.4 654.7 293.8 654.7 294.2 654.7 294.6 654.7 295 654.7 295.4 626.9 295.8 654.7 296.2 654.69 296.6 654.55 297 627.37 297.4 654.7 297.8 654.7 298.2 654.69 298.6 654.7 299 637.41 299.4 654.7 299.8 637.44 300.2 654.7 300.6 654.7 301 654.7 301.4 654.7 301.8 654.7 302.2 654.7 302.6 654.7 303 654.7 303.4 654.7 303.8 654.7 304.2 654.7 304.6 654.7 305 654.7 305.4 654.7 305.8 654.7 306.2 637.45 306.6 654.7 307 654.7 307.4 637.45 307.8 654.7 308.2 654.7 308.6 654.7 309 654.7 309.4 654.7 309.8 654.7 310.2 654.7 310.6 654.7 311 654.7 311.4 654.7 311.8 654.7 312.2 654.7 312.6 654.7 313 654.7 313.4 654.7 313.8 654.7 314.2 654.7 314.6 627.36 315 654.7 315.4 654.7 315.8 654.7 316.2 654.7 316.6 637.45 317 654.7 317.4 654.7 317.8 654.7 318.2 654.7 318.6 654.7 319 654.7 319.4 654.7 319.8 654.7 320.2 654.7 320.6 654.7 321 654.7 321.4 654.7 321.8 654.7 322.2 654.7 322.6 654.7 323 654.7 323.4 654.7 323.8 654.7 324.2 654.7 324.6 654.7 325 654.7 325.4 654.7 325.8 654.7 326.2 654.7 326.6 654.7 327 654.7 327.4 654.7 327.8 654.7 328.2 654.7 328.6 654.7 329 654.7 329.4 654.7 329.8 654.7 330.2 654.7 330.6 637.45 331 654.7 331.4 654.7 331.8 654.7 332.2 654.7 332.6 654.7 333 654.7 333.4 654.7 333.8 654.7 334.2 654.7 334.6 654.7 335 654.7 335.4 654.7 335.8 654.7 336.2 654.7 336.6 654.7 337 654.7 337.4 654.7 337.8 654.7 338.2 654.7 338.6 654.7 339 654.7 339.4 654.7 339.8 654.7 340.2 654.7 340.6 654.7 341 654.7 341.4 654.7 341.8 654.7 342.2 654.7 342.6 654.7 343 654.7 343.4 654.7 343.8 654.7 344.2 654.7 344.6 654.7 345 654.7 345.4 654.7 345.8 654.7 346.2 654.7 346.6 654.7 347 654.7 347.4 654.7 347.8 654.7 348.2 654.7 348.6 654.7 349 654.7 349.4 654.7 349.8 654.7 350.2 654.7 350.6 654.7 351 654.7 351.4 654.7 351.8 654.7 352.2 654.7 352.6 654.7 353 654.7 353.4 654.7 353.8 654.7 354.2 654.7 354.6 654.7 355 654.7 355.4 654.7 355.8 654.7 356.2 654.7 356.6 654.7 357 654.7 357.4 654.7 357.8 654.7 358.2 654.7 358.6 654.7 359 654.7 359.4 654.7 359.8 654.7 360.2 654.7 360.6 654.7 361 654.7 361.4 654.7 361.8 654.7 362.2 654.7 362.6 654.7 363 654.7 363.4 654.7 363.8 654.7 364.2 654.7 364.6 654.7 365 654.7 365.4 654.7 365.8 654.7 366.2 654.7 366.6 654.7 367 654.7 367.4 654.7 367.8 654.7 368.2 654.7 368.6 654.7 369 654.7 369.4 654.7 369.8 654.7 370.2 654.7 370.6 654.7 371 654.7 371.4 654.7 371.8 654.7 372.2 654.7 372.6 654.7 373 654.7 373.4 654.7 373.8 654.7 374.2 654.7 374.6 654.7 375 654.7 375.4 654.7 375.8 654.7 376.2 654.7 376.6 654.7 377 654.7 377.4 654.7 377.8 654.7 378.2 654.7 378.6 654.7 379 654.7 379.4 654.7 379.8 654.7 380.2 654.7 380.6 654.7 381 654.7 381.4 654.7 381.8 654.7 382.2 654.7 382.6 654.7 383 654.7 383.4 654.7 383.8 654.7 384.2 654.7 384.6 654.7 385 654.7 385.4 654.7 385.8 654.7 386.2 654.7 386.6 654.7 387 654.7 387.4 654.7 387.8 654.7 388.2 654.7 388.6 654.7 389 654.7 389.4 654.7 389.8 654.7 390.2 654.7 390.6 654.7 391 654.7 391.4 654.7 391.8 654.7 392.2 654.7 392.6 654.7 393 654.7 393.4 654.7 393.8 654.7 394.2 654.7 394.6 654.7 395 654.7 395.4 654.7 395.8 654.7 396.2 654.7 396.6 654.7 397 654.7 397.4 654.7 397.8 654.7 398.2 654.7 398.6 654.7 399 654.7 399.4 654.7 399.8 654.7 400.2 654.7 400.6 654.7 401 654.7 401.4 654.7 401.8 654.7 402.2 654.7 402.6 654.7 403 654.7 403.4 654.7 403.8 654.7 404.2 654.7 404.6 654.7 405 654.7 405.4 654.7 405.8 654.7 406.2 654.7 406.6 654.7 407 654.7 407.4 654.7 407.8 654.7 408.2 654.7 408.6 654.7 409 654.7 409.4 654.7 409.8 654.7 410.2 654.7 410.6 654.7 411 654.7 411.4 654.7 411.8 654.7 412.2 654.7 412.6 654.7 413 654.7 413.4 654.7 413.8 654.7 414.2 654.7 414.6 654.7 415 654.7 415.4 654.7 415.8 654.7 416.2 654.7 416.6 654.7 417 654.7 417.4 654.7 417.8 654.7 418.2 654.7 418.6 654.7 419 654.7 419.4 654.7 419.8 654.7 420.2 654.7 420.6 654.7 421 654.7 421.4 654.7 421.8 654.7 422.2 654.7 422.6 654.7 423 654.7 423.4 654.7 423.8 654.7 424.2 654.7 424.6 654.7 425 654.7 425.4 654.7 425.8 654.7 426.2 654.7 426.6 654.7 427 654.7 427.4 654.7 427.8 654.7 428.2 654.7 428.6 654.7 429 654.7 429.4 654.7 429.8 654.7 430.2 654.7 430.6 654.7 431 654.7 431.4 654.7 431.8 654.7 432.2 654.7 432.6 654.7 433 654.7 433.4 654.7 433.8 654.7 434.2 654.7 434.6 654.7 435 654.7 435.4 654.7 435.8 654.7 436.2 654.7 436.6 654.7 437 654.7 437.4 654.7 437.8 654.7 438.2 654.7 438.6 654.7 439 654.7 439.4 654.7 439.8 654.7 440.2 654.7 440.6 654.7 441 654.7 441.4 654.7 441.8 654.7 442.2 654.7 442.6 654.7 443 654.7 443.4 654.7 443.8 654.7 444.2 654.7 444.6 654.7 445 654.7 445.4 654.7 445.8 654.7 446.2 654.7 446.6 654.7 447 654.7 447.4 654.7 447.8 654.7 448.2 654.7 448.6 654.7 449 654.7 449.4 654.7 449.8 654.7 450.2 654.7 450.6 654.7 451 654.7 451.4 654.7 451.8 654.7 452.2 654.7 452.6 654.7 453 654.7 453.4 654.7 453.8 654.7 454.2 654.7 454.6 654.7 455 654.7 455.4 654.7 455.8 654.7 456.2 654.7 456.6 654.7 457 654.7 457.4 654.7 457.8 654.7 458.2 654.7 458.6 654.7 459 654.7 459.4 654.7 459.8 654.7 460.2 654.7 460.6 654.7 461 654.7 461.4 654.7 461.8 654.7 462.2 654.7 462.6 654.7 463 654.7 463.4 654.7 463.8 654.7 464.2 654.7 464.6 654.7 465 654.7 465.4 654.7 465.8 654.7 466.2 654.7 466.6 654.7 467 654.7 467.4 654.7 467.8 654.7 468.2 654.7 468.6 654.7 469 654.7 469.4 654.7 469.8 654.7 470.2 654.7 470.6 654.7 471 654.7 471.4 654.7 471.8 654.7 472.2 654.7 472.6 654.7 473 654.7 473.4 654.7 473.8 654.7 474.2 654.7 474.6 654.7 475 654.7 475.4 654.7 475.8 654.7 476.2 654.7 476.6 654.7 477 654.7 477.4 654.7 477.8 654.7 478.2 654.7 478.6 654.7 479 654.7 479.4 654.7 479.8 654.7 480.2 654.7 480.6 654.7 481 654.7 481.4 654.7 481.8 654.7 482.2 654.7 482.6 654.7 483 654.7 483.4 654.7 483.8 654.7 484.2 654.7 484.6 654.7 485 654.7 485.4 654.7 485.8 654.7 486.2 654.7 486.6 654.7 487 654.7 487.4 654.7 487.8 654.7 488.2 654.7 488.6 654.7 489 654.7 489.4 654.7 489.8 654.7 490.2 654.7 490.6 654.7 491 654.7 491.4 654.7 491.8 654.7 492.2 654.7 492.6 654.7 493 654.7 493.4 654.7 493.8 654.7 494.2 654.7 494.6 654.7 495 654.7 495.4 654.7 495.8 654.7 496.2 654.7 496.6 654.7 497 654.7 497.4 654.7 497.8 654.7 498.2 654.7 498.6 654.7 499 654.7 499.4 654.7 499.8 654.7 500.2 654.7 500.6 654.7 501 654.7 501.4 654.7 501.8 654.7 502.2 654.7 502.6 654.7 503 654.7 503.4 654.7 503.8 654.7 504.2 654.7 504.6 654.7 505 654.7 505.4 654.7 505.8 654.7 506.2 654.7 506.6 654.7 507 654.7 507.4 654.7 507.8 654.7 508.2 654.7 508.6 654.7 509 654.7 509.4 654.7 509.8 654.7 510.2 654.7 510.6 654.7 511 654.7 511.4 654.7 511.8 654.7 512.2 654.7 512.6 654.7 513 654.7 513.4 654.7 513.8 654.7 514.2 654.7 514.6 654.7 515 654.7 515.4 654.7 515.8 654.7 516.2 654.7 516.6 654.7 517 654.7 517.4 654.7 517.8 654.7 518.2 654.7 518.6 654.7 519 654.7 519.4 654.7 519.8 654.7 520.2 654.7 520.6 654.7 521 654.7 521.4 654.7 521.8 654.7 522.2 654.7 522.6 654.7 523 654.7 523.4 654.7 523.8 654.7 524.2 654.7 524.6 654.7 525 654.7 525.4 654.7 525.8 654.7 526.2 654.7 526.6 654.7 527 654.7 527.4 654.7 527.8 654.7 528.2 654.7 528.6 654.7 529 654.7 529.4 654.7 529.8 654.7 530.2 654.7 530.6 654.7 531 654.7 531.4 654.7 531.8 654.7 532.2 654.7 532.6 654.7 533 654.7 533.4 654.7 533.8 654.7 534.2 654.7 534.6 654.7 535 654.7 535.4 654.7 535.8 654.7 536.2 654.7 536.6 654.7 537 654.7 537.4 654.7 537.8 654.7 538.2 654.7 538.6 654.7 539 654.7 539.4 654.7 539.8 654.7 540.2 654.7 540.6 654.7 541 654.7 541.4 654.7 541.8 654.7 542.2 654.7 542.6 654.7 543 654.7 543.4 654.7 543.8 654.7 544.2 654.7 544.6 654.7 545 654.7 545.4 654.7 545.8 654.7 546.2 654.7 546.6 654.7 547 654.7 547.4 654.7 547.8 654.7 548.2 654.7 548.6 654.7 549 654.7 549.4 654.7 549.8 654.7 550.2 654.7 550.6 654.7 551 654.7 551.4 654.7 551.8 654.7 552.2 654.7 552.6 654.7 553 654.7 553.4 654.7 553.8 654.7 554.2 654.7 554.6 654.7 555 654.7 555.4 654.7 555.8 654.7 556.2 654.7 556.6 654.7 557 654.7 557.4 654.7 557.8 654.7 558.2 654.7 558.6 654.7 559 654.7 559.4 654.7 559.8 654.7 560.2 654.7 560.6 654.7 561 654.7 561.4 654.7 561.8 654.7 562.2 654.7 562.6 654.7 563 654.7 563.4 654.7 563.8 654.7 564.2 654.7 564.6 654.7 565 654.7 565.4 654.7 565.8 654.7 566.2 654.7 566.6 654.7 567 654.7 567.4 654.7 567.8 654.7 568.2 654.7 568.6 654.7 569 654.7" stroke="#008000" stroke-width="1.5" fill="none" stroke-linejoin="round"/>
<path d="M84.6 627.36 85.3 654.7 86 606.28 86.7 614.65 87.4 637.45 88.1 620.2 88.8 610.11 89.5 600.02 90.2 592.86 90.9 602.95 91.6 614.65 92.3 600.02 93 620.2 93.7 595.03 94.4 595.03 95.1 597.4 95.8 602.95 96.5 592.86 97.2 600.02 97.9 590.87 98.6 590.87 99.3 595.03 100 595.03 100.7 597.4 101.4 589.03 102.1 597.4 102.8 595.03 103.5 585.7 104.2 590.87 104.9 585.7 105.6 592.86 106.3 578.94 107 585.7 107.7 575.61 108.4 587.31 109.1 585.7 109.8 581.43 110.5 584.2 111.2 581.43 111.9 576.67 112.6 576.67 113.3 577.78 114 570.06 114.7 581.43 115.4 577.78 116.1 577.78 116.8 577.78 117.5 571.78 118.2 571.78 118.9 573.62 119.6 572.68 120.3 572.68 121 571.78 121.7 565.52 122.4 576.67 123.1 564.84 123.8 571.78 124.5 572.68 125.2 564.18 125.9 561.1 126.6 556.86 127.3 556.86 128 553.23 128.7 557.35 129.4 557.85 130.1 559.97 130.8 552.81 131.5 551.6 132.2 549.33 132.9 548.62 133.6 544.44 134.3 542.72 135 546.6 135.7 541.64 136.4 548.27 137.1 543.28 137.8 538.65 138.5 534.55 139.2 537.28 139.9 535.98 140.6 534.95 141.3 535.56 142 529.84 142.7 530.68 143.4 532.63 144.1 531.2 144.8 529.52 145.5 528.87 146.2 524.13 146.9 528.72 147.6 523.61 148.3 521.87 149 521.99 149.7 518.94 150.4 516.23 151.1 517.9 151.8 516.13 152.5 515.2 153.2 515.48 153.9 515.38 154.6 512.35 155.3 513.6 156 510.54 156.7 511.55 157.4 512.19 158.1 510.77 158.8 511.55 159.5 512.03 160.2 509.72 160.9 508.36 161.6 507.21 162.3 508.57 163 507.47 163.7 503.74 164.4 506.62 165.1 504.33 165.8 505.42 166.5 504.21 167.2 503.06 167.9 504.21 168.6 502.29 169.3 499.9 170 501.48 170.7 499.41 171.4 500.76 172.1 498.37 172.8 499.75 173.5 499.31 174.2 496.14 174.9 496.44 175.6 498.09 176.3 495.97 177 498 177.7 495.02 178.4 495.64 179.1 496.44 179.8 495.31 180.5 495.68 181.2 493.14 181.9 492.99 182.6 493.41 183.3 493.75 184 492.51 184.7 492.4 185.4 492.14 186.1 492.73 186.8 491.46 187.5 493.64 188.2 491.25 188.9 489.69 189.6 490.29 190.3 489.79 191 488.42 191.7 489.24 192.4 489.34 193.1 487.68 193.8 487.23 194.5 486.96 195.2 487.83 195.9 486.21 196.6 487.68 197.3 486.21 198 486.01 198.7 486.47 199.4 485.84 200.1 485.26 200.8 484.31 201.5 484.66 202.2 484.71 202.9 484.23 203.6 484.39 204.3 484.47 205 482.4 205.7 482.26 206.4 482.53 207.1 482.6 207.8 483.28 208.5 481.9 209.2 480.68 209.9 482.78 210.6 482.11 211.3 481.82 212 482.16 212.7 481.37 213.4 483.33 214.1 482.85 214.8 481.47 215.5 481.09 216.2 481.02 216.9 482.26 217.6 480.66 218.3 481.59 219 480.7 219.7 480.2 220.4 479 221.1 480.34 221.8 479.39 222.5 480.84 223.2 479.11 223.9 480.91 224.6 479.71 225.3 479.82 226 480.34 226.7 478.91 227.4 479.3 228.1 479.34 228.8 477.49 229.5 479.87 230.2 477.71 230.9 479.21 231.6 478.68 232.3 478.53 233 478.08 233.7 477.99 234.4 478.77 235.1 476.81 235.8 477.21 236.5 477.41 237.2 476.48 237.9 477.23 238.6 476.95 239.3 477.51 240 476.93 240.7 477.93 241.4 476.83 242.1 478.02 242.8 477.45 243.5 477.21 244.2 476.75 244.9 477.39 245.6 476.97 246.3 477.45 247 475.68 247.7 476.54 248.4 477.13 249.1 476.31 249.8 476.64 250.5 476.62 251.2 475.89 251.9 476.33 252.6 476.73 253.3 477.05 254 476.83 254.7 477.27 255.4 475.42 256.1 475.41 256.8 477.03 257.5 477.15 258.2 476.73 258.9 476.64 259.6 476.64 260.3 476.25 261 476.81 261.7 475.83 262.4 476.87 263.1 476.48 263.8 476.29 264.5 474.86 265.2 475.39 265.9 475.37 266.6 476.5 267.3 476.54 268 476.16 268.7 476.08 269.4 475.8 270.1 474.91 270.8 474.69 271.5 474.25 272.2 474.53 272.9 475.22 273.6 476.73 274.3 474.66 275 475.78 275.7 475.46 276.4 475.63 277.1 475.17 277.8 476.72 278.5 476.16 279.2 475.28 279.9 475.37 280.6 474.59 281.3 475.7 282 474.73 282.7 475.41 283.4 474.2 284.1 475.91 284.8 475.65 285.5 475.04 286.2 473.78 286.9 473.99 287.6 473.59 288.3 474.88 289 476.39 289.7 474.86 290.4 474.95 291.1 473.35 291.8 474.23 292.5 475.48 293.2 474.55 293.9 474.21 294.6 475.87 295.3 474.27 296 475.13 296.7 475.15 297.4 473.69 298.1 475.17 298.8 474.69 299.5 475.11 300.2 475.02 300.9 474.57 301.6 474.3 302.3 473.74 303 475.52 303.7 474.34 304.4 474.29 305.1 473.81 305.8 475.8 306.5 474.86 307.2 474.91 307.9 474.53 308.6 474.77 309.3 474.46 310 474.8 310.7 474 311.4 474.84 312.1 474.04 312.8 474.43 313.5 474.95 314.2 475.65 314.9 473.86 315.6 475.3 316.3 473.09 317 472.46 317.7 474.3 318.4 473.54 319.1 474.53 319.8 474.32 320.5 473.21 321.2 474.04 321.9 472.78 322.6 473.69 323.3 473.31 324 475.37 324.7 473.47 325.4 474.62 326.1 474.69 326.8 474.68 327.5 473.15 328.2 473.2 328.9 473.28 329.6 473.92 330.3 474.34 331 473.85 331.7 474.57 332.4 474.25 333.1 473.43 333.8 474.2 334.5 475.06 335.2 474.36 335.9 473.74 336.6 473.5 337.3 473.99 338 473.92 338.7 472.71 339.4 473.08 340.1 472.91 340.8 475.65 341.5 475.76 342.2 474.02 342.9 473.59 343.6 474.14 344.3 473.3 345 474.09 345.7 473.67 346.4 472.94 347.1 473.16 347.8 474.36 348.5 473.78 349.2 473.83 349.9 472.94 350.6 474.11 351.3 473.67 352 473.73 352.7 473.73 353.4 474.39 354.1 474.52 354.8 473.35 355.5 472.89 356.2 473.78 356.9 474.29 357.6 474.21 358.3 474.36 359 473.37 359.7 475.11 360.4 472.96 361.1 473.55 361.8 475.99 362.5 473.3 363.2 473.3 363.9 474.14 364.6 474.71 365.3 473.16 366 474.68 366.7 475.09 367.4 474.39 368.1 475.02 368.8 472.61 369.5 474.48 370.2 474.69 370.9 474.13 371.6 473.54 372.3 473.37 373 473.11 373.7 473.38 374.4 473.85 375.1 474.57 375.8 472.78 376.5 473.9 377.2 474.02 377.9 474.69 378.6 473.86 379.3 473.33 380 474.82 380.7 474.36 381.4 474.41 382.1 473.47 382.8 473.57 383.5 473.49 384.2 473.62 384.9 474.39 385.6 474.34 386.3 474.64 387 472.66 387.7 473.35 388.4 474.02 389.1 474.14 389.8 474.34 390.5 473.06 391.2 474.29 391.9 473.33 392.6 472.45 393.3 473.2 394 472.89 394.7 472.64 395.4 474.25 396.1 473.86 396.8 473.85 397.5 474.2 398.2 473.52 398.9 473.49 399.6 474.91 400.3 473.64 401 474.84 401.7 473.4 402.4 473.25 403.1 473.38 403.8 472.5 404.5 472.61 405.2 473.81 405.9 473.31 406.6 474.13 407.3 473.49 408 473.33 408.7 473.71 409.4 472.4 410.1 473.67 410.8 473.93 411.5 473.66 412.2 473.92 412.9 473.2 413.6 472.45 414.3 474.37 415 473.49 415.7 472.89 416.4 473.31 417.1 472.68 417.8 475.02 418.5 473.95 419.2 473.57 419.9 474.07 420.6 473.85 421.3 473.42 422 474.61 422.7 473.13 423.4 473.95 424.1 473.59 424.8 473.99 425.5 473.52 426.2 473.64 426.9 473.4 427.6 473.9 428.3 473.43 429 473.16 429.7 474.11 430.4 472.93 431.1 472.81 431.8 473.52 432.5 473.35 433.2 472.83 433.9 475.3 434.6 472.93 435.3 473.28 436 472.71 436.7 474.04 437.4 472.94 438.1 473.3 438.8 473.61 439.5 472.89 440.2 473.15 440.9 473.83 441.6 473.33 442.3 472.54 443 473.93 443.7 473.06 444.4 474 445.1 472.53 445.8 473.88 446.5 472.84 447.2 472.18 447.9 472.54 448.6 473.88 449.3 473.73 450 473.11 450.7 473.76 451.4 473.93 452.1 473.71 452.8 473.23 453.5 473.76 454.2 473.43 454.9 472.76 455.6 473.47 456.3 473.16 457 474.78 457.7 472.61 458.4 474.09 459.1 473.18 459.8 473.57 460.5 473.33 461.2 472.96 461.9 472.69 462.6 473.42 463.3 473.03 464 473.92 464.7 473.03 465.4 472.91 466.1 473.2 466.8 473.08 467.5 474.32 468.2 473.5 468.9 473.64 469.6 473.04 470.3 473.18 471 471.67 471.7 474.46 472.4 472.66 473.1 473.61 473.8 473.59 474.5 474.57 475.2 472.43 475.9 474.43 476.6 473.85 477.3 473.69 478 474.41 478.7 472.61 479.4 472.76 480.1 473.97 480.8 474.32 481.5 473.57 482.2 474 482.9 472.98 483.6 472.56 484.3 473.61 485 473.5 485.7 473.73 486.4 472.41 487.1 473.95 487.8 473.37 488.5 473.86 489.2 472.89 489.9 473.01 490.6 472.91 491.3 473.59 492 473.38 492.7 472.74 493.4 472.81 494.1 472.98 494.8 474.21 495.5 473.38 496.2 473.42 496.9 473.28 497.6 471.99 498.3 473.3 499 472.88 499.7 472.91 500.4 473.23 501.1 473.03 501.8 473.47 502.5 471.62 503.2 474.18 503.9 473.69 504.6 474 505.3 472.61 506 472.64 506.7 474.52 507.4 472.96 508.1 473.88 508.8 472.69 509.5 473.03 510.2 473.33 510.9 473.47 511.6 473.59 512.3 473.93 513 473.08 513.7 473.08 514.4 473.86 515.1 472.66 515.8 473.8 516.5 473.66 517.2 472.35 517.9 474.13 518.6 473.09 519.3 473.92 520 472.96 520.7 472.64 521.4 473.85 522.1 474.29 522.8 472.99 523.5 473.11 524.2 473.11 524.9 472.63 525.6 474.41 526.3 473.86 527 472.96 527.7 472.35 528.4 471.56 529.1 473.38 529.8 474.37 530.5 471.93 531.2 472.25 531.9 472.69 532.6 473.71 533.3 473.06 534 471.88 534.7 471.83 535.4 472.88 536.1 473.45 536.8 473.33 537.5 473.38 538.2 473.04 538.9 473.45 539.6 474.32 540.3 472.4 541 474.16 541.7 473.83 542.4 472.74 543.1 473.3 543.8 472.38 544.5 474.25 545.2 472.96 545.9 471.57 546.6 473.16 547.3 473.92 548 473.5 548.7 472.71 549.4 472.78 550.1 472.84 550.8 472.31 551.5 473.18 552.2 473.13 552.9 472.98 553.6 473.37 554.3 474.53 555 473.33 555.7 473.52 556.4 472.27 557.1 472.93 557.8 473.62 558.5 473.61 559.2 473.54 559.9 474.2 560.6 474.27 561.3 472.86 562 473.09 562.7 473.52 563.4 474.73 564.1 474.78 564.8 473.31 565.5 474.68 566.2 471.86 566.9 473.45 567.6 472.78 568.3 472.99 569 473.21" stroke="#d9600c" stroke-width="1.4" fill="none" stroke-linejoin="round"/>
<path d="M84.6 545.35 85.6 542.75 86.6 546.18 87.6 542.5 88.6 545.43 89.6 546.44 90.6 549.79 91.6 550.38 92.6 550.59 93.6 551.14 94.6 552.8 95.6 556.89 96.6 558.31 97.6 556.76 98.6 562.22 99.6 557.01 100.6 560.07 101.6 559.92 102.6 561.3 103.6 558.18 104.6 567.57 105.6 568.18 106.6 565.19 107.6 570.63 108.6 568.95 109.6 572.2 110.6 566.45 111.6 555.99 112.6 557.28 113.6 561.37 114.6 566.01 115.6 568.89 116.6 566.77 117.6 566.32 118.6 565.94 119.6 567.37 120.6 565.57 121.6 569.47 122.6 570.94 123.6 576.63 124.6 567.97 125.6 567.15 126.6 562.94 127.6 566.24 128.6 569.25 129.6 574.03 130.6 565.74 131.6 561.01 132.6 577.86 133.6 567.76 134.6 572.62 135.6 562.17 136.6 573.32 137.6 560.73 138.6 562.66 139.6 581.23 140.6 572.34 141.6 566.82 142.6 573.85 143.6 580.5 144.6 572.29 145.6 572.39 146.6 569.83 147.6 572.45 148.6 583.19 149.6 575.15 150.6 577.98 151.6 566.83 152.6 572.66 153.6 577.75 154.6 574.34 155.6 567.62 156.6 582.08 157.6 586.13 158.6 578.14 159.6 582.61 160.6 565.16 161.6 580.33 162.6 565.87 163.6 576.14 164.6 579.81 165.6 576.27 166.6 583.87 167.6 574.36 168.6 581.59 169.6 577.87 170.6 580.32 171.6 582.79 172.6 592.03 173.6 581.35 174.6 587 175.6 582.26 176.6 596.15 177.6 583.87 178.6 583.9 179.6 581.25 180.6 583.86 181.6 574.45 182.6 589.14 183.6 575.7 184.6 582.43 185.6 582.01 186.6 577.58 187.6 581.04 188.6 585.39 189.6 573.78 190.6 582.2 191.6 596.52 192.6 594.98 193.6 578.06 194.6 581.61 195.6 581.21 196.6 591.73 197.6 592.84 198.6 579.9 199.6 590.36 200.6 593.02 201.6 587.54 202.6 585.62 203.6 589 204.6 588.01 205.6 593.44 206.6 589.65 207.6 593.57 208.6 585.38 209.6 580.94 210.6 589.26 211.6 587.36 212.6 614.31 213.6 587.2 214.6 596.19 215.6 577.04 216.6 601.44 217.6 598.68 218.6 588.64 219.6 588.82 220.6 585.5 221.6 589.2 222.6 587.87 223.6 581.98 224.6 589.82 225.6 583.7 226.6 591.79 227.6 585.07 228.6 597.75 229.6 591.86 230.6 589.92 231.6 588.8 232.6 599.89 233.6 605.96 234.6 609.82 235.6 596.45 236.6 606.17 237.6 589.23 238.6 593.54 239.6 587.92 240.6 591.16 241.6 619.25 242.6 603.51 243.6 598.38 244.6 621.47 245.6 600.19 246.6 602.77 247.6 608.73 248.6 595.03 249.6 590.49 250.6 592.99 251.6 595.2 252.6 589.83 253.6 603.06 254.6 601.25 255.6 607.72 256.6 588.53 257.6 598.29 258.6 590.84 259.6 602.75 260.6 592.63 261.6 594.85 262.6 605.64 263.6 585.81 264.6 599.92 265.6 598.52 266.6 586.04 267.6 606.04 268.6 603.11 269.6 606.25 270.6 595.93 271.6 602.68 272.6 601.89 273.6 599.77 274.6 614.86 275.6 605.99 276.6 599.99 277.6 606.97 278.6 627.95 279.6 596.98 280.6 594.73 281.6 602.09 282.6 592.45 283.6 595.63 284.6 614.49 285.6 594.96 286.6 605.99 287.6 605.52 288.6 594.43 289.6 605.82 290.6 611.07 291.6 607.02 292.6 603.27 293.6 600.14 294.6 610.55 295.6 614.93 296.6 620.74 297.6 627.53 298.6 602.95 299.6 620.05 300.6 606.76 301.6 600.71 302.6 627.13 303.6 610.42 304.6 614.93 305.6 595.09 306.6 636.98 307.6 620.35 308.6 610.21 309.6 606.51 310.6 620.33 311.6 620.08 312.6 620.34 313.6 620.12 314.6 614.55 315.6 637.34 316.6 606.09 317.6 606.28 318.6 654.7 319.6 614.54 320.6 609.91 321.6 592.87 322.6 610.01 323.6 610.23 324.6 606.24 325.6 614.53 326.6 627.35 327.6 606.26 328.6 610.1 329.6 627.36 330.6 614.65 331.6 614.65 332.6 627.36 333.6 595.03 334.6 606.28 335.6 606.28 336.6 614.65 337.6 614.65 338.6 614.65 339.6 627.36 340.6 597.4 341.6 627.36 342.6 602.95 343.6 627.36 344.6 600.02 345.6 627.36 346.6 627.36 347.6 620.2 348.6 606.28 349.6 610.11 350.6 620.2 351.6 610.11 352.6 620.2 353.6 620.2 354.6 597.4 355.6 627.36 356.6 620.2 357.6 614.65 358.6 654.7 359.6 627.36 360.6 627.36 361.6 637.45 362.6 627.36 363.6 654.7 364.6 637.45 365.6 627.36 366.6 620.2 367.6 610.11 368.6 637.45 369.6 637.45 370.6 614.65 371.6 627.36 372.6 614.65 373.6 627.36 374.6 610.11 375.6 654.7 376.6 614.65 377.6 627.36 378.6 610.11 379.6 637.45 380.6 654.7 381.6 627.36 382.6 627.36 383.6 654.7 384.6 627.36 385.6 610.11 386.6 620.2 387.6 627.36 388.6 637.45 389.6 620.2 390.6 637.45 391.6 614.65 392.6 637.45 393.6 627.36 394.6 627.36 395.6 637.45 396.6 654.7 397.6 614.65 398.6 654.7 399.6 606.28 400.6 637.45 401.6 620.2 402.6 654.7 403.6 637.45 404.6 614.65 405.6 620.2 406.6 602.95 407.6 610.11 408.6 614.65 409.6 637.45 410.6 627.36 411.6 627.36 412.6 654.7 413.6 614.65 414.6 620.2 415.6 620.2 416.6 620.2 417.6 627.36 418.6 620.2 419.6 620.2 420.6 614.65 421.6 614.65 422.6 620.2 423.6 620.2 424.6 627.36 425.6 654.7 426.6 637.45 427.6 654.7 428.6 620.2 429.6 627.36 430.6 637.45 431.6 614.65 432.6 610.11 433.6 606.28 434.6 637.45 435.6 620.2 436.6 654.7 437.6 654.7 438.6 654.7 439.6 654.7 440.6 654.7 441.6 654.7 442.6 637.45 443.6 614.65 444.6 654.7 445.6 654.7 446.6 637.45 447.6 637.45 448.6 637.45 449.6 627.36 450.6 614.65 451.6 620.2 452.6 637.45 453.6 620.2 454.6 637.45 455.6 627.36 456.6 637.45 457.6 627.36 458.6 614.65 459.6 654.7 460.6 627.36 461.6 637.45 462.6 610.11 463.6 614.65 464.6 654.7 465.6 614.65 466.6 627.36 467.6 637.45 468.6 637.45 469.6 637.45 470.6 637.45 471.6 637.45 472.6 620.2 473.6 654.7 474.6 637.45 475.6 654.7 476.6 637.45 477.6 627.36 478.6 620.2 479.6 654.7 480.6 654.7 481.6 610.11 482.6 627.36 483.6 627.36 484.6 654.7 485.6 654.7 486.6 637.45 487.6 654.7 488.6 627.36 489.6 627.36 490.6 654.7 491.6 606.28 492.6 654.7 493.6 654.7 494.6 627.36 495.6 614.65 496.6 637.45 497.6 654.7 498.6 654.7 499.6 654.7 500.6 637.45 501.6 627.36 502.6 637.45 503.6 654.7 504.6 637.45 505.6 637.45 506.6 620.2 507.6 637.45 508.6 637.45 509.6 637.45 510.6 620.2 511.6 627.36 512.6 627.36 513.6 637.45 514.6 620.2 515.6 637.45 516.6 614.65 517.6 637.45 518.6 637.45 519.6 610.11 520.6 654.7 521.6 602.95 522.6 654.7 523.6 620.2 524.6 637.45 525.6 654.7 526.6 637.45 527.6 620.2 528.6 654.7 529.6 654.7 530.6 654.7 531.6 620.2 532.6 627.36 533.6 637.45 534.6 654.7 535.6 627.36 536.6 637.45 537.6 637.45 538.6 627.36 539.6 627.36 540.6 637.45 541.6 620.2 542.6 637.45 543.6 627.36 544.6 654.7 545.6 637.45 546.6 654.7 547.6 627.36 548.6 654.7 549.6 614.65 550.6 637.45 551.6 627.36 552.6 637.45 553.6 627.36 554.6 637.45 555.6 654.7 556.6 627.36 557.6 627.36 558.6 637.45 559.6 654.7 560.6 637.45 561.6 637.45 562.6 620.2 563.6 620.2 564.6 627.36 565.6 654.7 566.6 637.45 567.6 620.2 568.6 627.36" stroke="#30a8c8" stroke-width="1.2" fill="none" stroke-linejoin="round"/>
<path d="M84.6 539.77 85 537.01 85.4 533.97 85.8 536.22 86.2 533.96 86.6 535.81 87 531.69 87.4 536.93 87.8 535.16 88.2 531.66 88.6 534.97 89 529.48 89.4 541.81 89.8 542.52 90.2 545.24 90.6 537.8 91 541.25 91.4 544.63 91.8 542.79 92.2 555.41 92.6 547.29 93 545.6 93.4 538.28 93.8 550.05 94.2 552.48 94.6 559.22 95 542.57 95.4 556.58 95.8 547.51 96.2 543.04 96.6 563.9 97 541.74 97.4 550.47 97.8 546.05 98.2 545.79 98.6 555.37 99 556.6 99.4 565.13 99.8 557.47 100.2 560.83 100.6 558.53 101 557.27 101.4 555.4 101.8 555.27 102.2 553.77 102.6 560.69 103 556.32 103.4 555.91 103.8 559.29 104.2 554.88 104.6 550.49 105 556.98 105.4 555.77 105.8 555.77 106.2 560.73 106.6 553.7 107 557.02 107.4 554.74 107.8 563.02 108.2 566.64 108.6 563.25 109 555.86 109.4 559.96 109.8 572.48 110.2 552.82 110.6 549.16 111 568.86 111.4 554.23 111.8 559.33 112.2 566.11 112.6 559.23 113 565.12 113.4 565.22 113.8 561.64 114.2 561.15 114.6 558.73 115 561.72 115.4 558.34 115.8 561.67 116.2 561.82 116.6 557.88 117 563.48 117.4 560.17 117.8 559.79 118.2 561.13 118.6 567.82 119 562.08 119.4 566.98 119.8 568.09 120.2 559.32 120.6 571.63 121 563.92 121.4 562 121.8 568.73 122.2 563.97 122.6 575.16 123 573.97 123.4 569.89 123.8 570.5 124.2 563.1 124.6 565.38 125 554 125.4 565.46 125.8 548.85 126.2 569.61 126.6 560.91 127 575.47 127.4 562.82 127.8 562.97 128.2 559.74 128.6 565.76 129 565.76 129.4 565.87 129.8 567.54 130.2 577.99 130.6 568.57 131 564.94 131.4 558.52 131.8 567.95 132.2 574.44 132.6 561.19 133 572.37 133.4 564.41 133.8 570.36 134.2 577.43 134.6 558.89 135 556.78 135.4 562.66 135.8 575.33 136.2 574.13 136.6 565.29 137 569.09 137.4 571.49 137.8 579.33 138.2 552.36 138.6 565.52 139 574.68 139.4 560.05 139.8 555.7 140.2 565.63 140.6 565.93 141 561.29 141.4 580.59 141.8 559.6 142.2 552.46 142.6 572.08 143 572.4 143.4 566.11 143.8 566.96 144.2 575.14 144.6 568.42 145 565.31 145.4 574.4 145.8 568.39 146.2 574.54 146.6 567.56 147 570.53 147.4 568.24 147.8 574.33 148.2 572.07 148.6 570.74 149 569.57 149.4 568.5 149.8 584.14 150.2 573.07 150.6 568.52 151 574.01 151.4 567.85 151.8 568.32 152.2 568.74 152.6 576 153 578.47 153.4 562 153.8 563.4 154.2 574.75 154.6 574.19 155 577.67 155.4 568.91 155.8 572.44 156.2 583.52 156.6 578.43 157 576.07 157.4 569.94 157.8 563.64 158.2 567.03 158.6 573.2 159 573.09 159.4 576.36 159.8 575.53 160.2 573.89 160.6 572.88 161 581.18 161.4 561.85 161.8 573.06 162.2 577.43 162.6 581.38 163 577.58 163.4 578.78 163.8 587.85 164.2 571.85 164.6 574.46 165 584.51 165.4 579.66 165.8 585.34 166.2 567.07 166.6 575.71 167 579.99 167.4 570.44 167.8 581.14 168.2 573.55 168.6 575.13 169 584.61 169.4 580.13 169.8 573.75 170.2 588.53 170.6 576.89 171 587.93 171.4 575.89 171.8 577.45 172.2 572.48 172.6 583.88 173 581.43 173.4 592.04 173.8 568.83 174.2 583.26 174.6 586.63 175 576.45 175.4 581.34 175.8 580.08 176.2 590.73 176.6 584.17 177 578.41 177.4 575.37 177.8 577.66 178.2 577.62 178.6 587.62 179 582.49 179.4 579.05 179.8 582.57 180.2 579.79 180.6 588.82 181 566.85 181.4 592.4 181.8 573.88 182.2 584.83 182.6 563.7 183 580.38 183.4 568.2 183.8 588.65 184.2 568.93 184.6 585.92 185 573.61 185.4 580.39 185.8 588.53 186.2 576.06 186.6 599.12 187 578.8 187.4 589.13 187.8 582.38 188.2 589.45 188.6 584.6 189 597.15 189.4 581.18 189.8 576.59 190.2 580.74 190.6 587.46 191 590.15 191.4 598.69 191.8 583.09 192.2 589.36 192.6 582.7 193 595.49 193.4 572.93 193.8 589.69 194.2 583.07 194.6 579.75 195 573.74 195.4 588.68 195.8 595.12 196.2 581.97 196.6 603.29 197 584.39 197.4 596.97 197.8 590.71 198.2 581.33 198.6 582.57 199 591.47 199.4 583.84 199.8 588.49 200.2 592.71 200.6 594.42 201 577.78 201.4 593.52 201.8 585.51 202.2 585.49 202.6 591.51 203 583.57 203.4 584.61 203.8 601.76 204.2 591.08 204.6 571.19 205 601.51 205.4 582.03 205.8 589.43 206.2 590.12 206.6 586.75 207 593.45 207.4 583.53 207.8 596.48 208.2 593.99 208.6 586.16 209 586.34 209.4 580.34 209.8 597.62 210.2 585.83 210.6 583.45 211 588.33 211.4 605.89 211.8 583.94 212.2 604.53 212.6 577.03 213 579.96 213.4 595.9 213.8 582.47 214.2 580.89 214.6 587.32 215 587.62 215.4 590.11 215.8 595.55 216.2 579.21 216.6 584.09 217 584.32 217.4 580.78 217.8 591.7 218.2 599.44 218.6 592.9 219 597.31 219.4 580.04 219.8 587.27 220.2 607.84 220.6 595.87 221 596.27 221.4 582.87 221.8 586.41 222.2 589.4 222.6 587.2 223 601.7 223.4 596.31 223.8 587.44 224.2 596.8 224.6 596.52 225 595.99 225.4 588.07 225.8 614.57 226.2 601.87 226.6 603.98 227 585.11 227.4 584.68 227.8 579.27 228.2 597.53 228.6 599.71 229 589.57 229.4 590.76 229.8 609.45 230.2 597.25 230.6 603.85 231 596.48 231.4 598.92 231.8 599.4 232.2 589.89 232.6 579.38 233 595.3 233.4 591.15 233.8 597.96 234.2 592.86 234.6 587.91 235 595.73 235.4 592.91 235.8 603.5 236.2 593.44 236.6 602.61 237 614.59 237.4 607.96 237.8 614.79 238.2 591.2 238.6 601.71 239 594.5 239.4 584.77 239.8 601.5 240.2 593.78 240.6 588.78 241 584.5 241.4 598.62 241.8 595.36 242.2 589.08 242.6 586.79 243 593.34 243.4 599.5 243.8 587.63 244.2 587.57 244.6 605.37 245 600.56 245.4 604.48 245.8 590.72 246.2 582.16 246.6 616.45 247 595.1 247.4 595 247.8 594.93 248.2 604.76 248.6 585.98 249 587.18 249.4 599.94 249.8 601.82 250.2 595.15 250.6 600.31 251 596.04 251.4 599.19 251.8 610.55 252.2 587.65 252.6 604.89 253 590.69 253.4 616.97 253.8 609 254.2 610.2 254.6 607.1 255 606.44 255.4 591.55 255.8 594.32 256.2 602 256.6 590.07 257 595.42 257.4 612.61 257.8 583.04 258.2 616.97 258.6 600.66 259 605.21 259.4 616.21 259.8 586.55 260.2 597.16 260.6 593.16 261 614.01 261.4 593.08 261.8 595.65 262.2 601.76 262.6 608.8 263 601.47 263.4 608.12 263.8 622.5 264.2 600.2 264.6 604.83 265 606.03 265.4 611.96 265.8 613.47 266.2 608.09 266.6 593.74 267 614.31 267.4 609.5 267.8 611 268.2 614.13 268.6 605.02 269 604.45 269.4 599.35 269.8 594.21 270.2 594.27 270.6 619.24 271 596.06 271.4 599.76 271.8 606.32 272.2 619.1 272.6 614.96 273 589.06 273.4 616.36 273.8 602.48 274.2 584.15 274.6 622.39 275 602.27 275.4 607.79 275.8 615.85 276.2 615.54 276.6 616.34 277 616.77 277.4 608.18 277.8 606.5 278.2 590.91 278.6 598.58 279 599.85 279.4 614.15 279.8 594.18 280.2 610 280.6 613.42 281 620.34 281.4 598.83 281.8 605.65 282.2 592.8 282.6 619.95 283 627.43 283.4 621.8 283.8 604.65 284.2 605.62 284.6 624.58 285 600.42 285.4 598.33 285.8 616.66 286.2 607.1 286.6 607.34 287 618.9 287.4 601.69 287.8 607.06 288.2 603.88 288.6 606.76 289 597.37 289.4 606.26 289.8 591.52 290.2 598.49 290.6 597.3 291 629.15 291.4 654.7 291.8 614.93 292.2 636.89 292.6 620.12 293 609.37 293.4 615.44 293.8 614.58 294.2 617.78 294.6 624.06 295 601.78 295.4 597.29 295.8 602.46 296.2 606.89 296.6 606.12 297 597.44 297.4 599.73 297.8 596.54 298.2 603.82 298.6 597.32 299 614.39 299.4 611.81 299.8 620.37 300.2 598.62 300.6 614.71 301 610.1 301.4 619.2 301.8 614.92 302.2 594.87 302.6 601.41 303 607.86 303.4 614.71 303.8 614.7 304.2 620.06 304.6 610.17 305 611.01 305.4 606.5 305.8 606.09 306.2 637.32 306.6 610.31 307 627.79 307.4 607.19 307.8 603.26 308.2 619.22 308.6 614.61 309 613.91 309.4 603.83 309.8 611.18 310.2 603.59 310.6 613.34 311 637.82 311.4 614.27 311.8 600.21 312.2 620.63 312.6 614.63 313 620.3 313.4 599.65 313.8 614.43 314.2 613.64 314.6 589.61 315 627.96 315.4 597.49 315.8 605.26 316.2 609.77 316.6 627.9 317 614.22 317.4 606.16 317.8 602.71 318.2 615.26 318.6 610.79 319 614.94 319.4 620 319.8 614.24 320.2 610.24 320.6 628.11 321 602.25 321.4 610.36 321.8 600.47 322.2 610.14 322.6 614.38 323 614.33 323.4 637.38 323.8 637.69 324.2 654.7 324.6 627.64 325 627.36 325.4 610.03 325.8 610.28 326.2 627.43 326.6 599.88 327 602.9 327.4 610.04 327.8 610.05 328.2 614.63 328.6 600.17 329 610.17 329.4 654.7 329.8 606.27 330.2 620.2 330.6 610.11 331 620.2 331.4 606.28 331.8 614.65 332.2 627.36 332.6 614.65 333 620.2 333.4 614.65 333.8 620.2 334.2 620.2 334.6 620.2 335 606.28 335.4 627.36 335.8 606.28 336.2 614.65 336.6 620.2 337 637.45 337.4 610.11 337.8 627.36 338.2 627.36 338.6 620.2 339 627.36 339.4 614.65 339.8 620.2 340.2 654.7 340.6 620.2 341 627.36 341.4 637.45 341.8 597.4 342.2 606.28 342.6 602.95 343 637.45 343.4 620.2 343.8 620.2 344.2 614.65 344.6 637.45 345 614.65 345.4 627.36 345.8 614.65 346.2 614.65 346.6 602.95 347 606.28 347.4 606.28 347.8 614.65 348.2 627.36 348.6 637.45 349 620.2 349.4 654.7 349.8 627.36 350.2 614.65 350.6 637.45 351 610.11 351.4 620.2 351.8 614.65 352.2 614.65 352.6 627.36 353 602.95 353.4 620.2 353.8 600.02 354.2 620.2 354.6 614.65 355 597.4 355.4 654.7 355.8 614.65 356.2 637.45 356.6 614.65 357 620.2 357.4 620.2 357.8 614.65 358.2 606.28 358.6 602.95 359 606.28 359.4 606.28 359.8 627.36 360.2 620.2 360.6 602.95 361 620.2 361.4 620.2 361.8 620.2 362.2 606.28 362.6 610.11 363 654.7 363.4 627.36 363.8 610.11 364.2 627.36 364.6 620.2 365 637.45 365.4 654.7 365.8 614.65 366.2 627.36 366.6 597.4 367 627.36 367.4 620.2 367.8 627.36 368.2 620.2 368.6 597.4 369 606.28 369.4 637.45 369.8 610.11 370.2 606.28 370.6 627.36 371 614.65 371.4 602.95 371.8 620.2 372.2 637.45 372.6 620.2 373 627.36 373.4 620.2 373.8 620.2 374.2 654.7 374.6 606.28 375 614.65 375.4 637.45 375.8 620.2 376.2 654.7 376.6 620.2 377 654.7 377.4 627.36 377.8 620.2 378.2 627.36 378.6 620.2 379 654.7 379.4 654.7 379.8 610.11 380.2 610.11 380.6 606.28 381 610.11 381.4 620.2 381.8 627.36 382.2 637.45 382.6 610.11 383 620.2 383.4 637.45 383.8 627.36 384.2 654.7 384.6 627.36 385 610.11 385.4 614.65 385.8 654.7 386.2 620.2 386.6 627.36 387 614.65 387.4 637.45 387.8 614.65 388.2 627.36 388.6 637.45 389 627.36 389.4 610.11 389.8 637.45 390.2 614.65 390.6 627.36 391 627.36 391.4 627.36 391.8 637.45 392.2 610.11 392.6 606.28 393 627.36 393.4 614.65 393.8 620.2 394.2 614.65 394.6 637.45 395 627.36 395.4 620.2 395.8 620.2 396.2 637.45 396.6 602.95 397 620.2 397.4 637.45 397.8 602.95 398.2 637.45 398.6 620.2 399 614.65 399.4 606.28 399.8 614.65 400.2 614.65 400.6 627.36 401 606.28 401.4 610.11 401.8 654.7 402.2 637.45 402.6 620.2 403 654.7 403.4 620.2 403.8 627.36 404.2 637.45 404.6 620.2 405 602.95 405.4 620.2 405.8 654.7 406.2 627.36 406.6 610.11 407 627.36 407.4 620.2 407.8 637.45 408.2 614.65 408.6 620.2 409 637.45 409.4 620.2 409.8 620.2 410.2 627.36 410.6 637.45 411 614.65 411.4 614.65 411.8 637.45 412.2 614.65 412.6 627.36 413 627.36 413.4 614.65 413.8 654.7 414.2 637.45 414.6 637.45 415 610.11 415.4 627.36 415.8 637.45 416.2 654.7 416.6 610.11 417 606.28 417.4 610.11 417.8 637.45 418.2 637.45 418.6 614.65 419 610.11 419.4 627.36 419.8 637.45 420.2 654.7 420.6 606.28 421 654.7 421.4 637.45 421.8 627.36 422.2 627.36 422.6 610.11 423 627.36 423.4 620.2 423.8 637.45 424.2 610.11 424.6 654.7 425 627.36 425.4 614.65 425.8 637.45 426.2 637.45 426.6 627.36 427 654.7 427.4 627.36 427.8 654.7 428.2 637.45 428.6 602.95 429 627.36 429.4 637.45 429.8 627.36 430.2 637.45 430.6 614.65 431 610.11 431.4 620.2 431.8 620.2 432.2 654.7 432.6 637.45 433 654.7 433.4 654.7 433.8 614.65 434.2 620.2 434.6 620.2 435 620.2 435.4 627.36 435.8 610.11 436.2 620.2 436.6 627.36 437 654.7 437.4 614.65 437.8 637.45 438.2 620.2 438.6 610.11 439 614.65 439.4 620.2 439.8 637.45 440.2 654.7 440.6 627.36 441 614.65 441.4 614.65 441.8 627.36 442.2 637.45 442.6 637.45 443 627.36 443.4 654.7 443.8 614.65 444.2 637.45 444.6 627.36 445 620.2 445.4 620.2 445.8 637.45 446.2 627.36 446.6 627.36 447 654.7 447.4 637.45 447.8 627.36 448.2 637.45 448.6 637.45 449 627.36 449.4 627.36 449.8 614.65 450.2 654.7 450.6 627.36 451 654.7 451.4 654.7 451.8 637.45 452.2 627.36 452.6 654.7 453 637.45 453.4 654.7 453.8 637.45 454.2 637.45 454.6 637.45 455 637.45 455.4 627.36 455.8 620.2 456.2 637.45 456.6 620.2 457 637.45 457.4 627.36 457.8 654.7 458.2 637.45 458.6 637.45 459 610.11 459.4 627.36 459.8 620.2 460.2 627.36 460.6 614.65 461 637.45 461.4 637.45 461.8 637.45 462.2 620.2 462.6 614.65 463 637.45 463.4 614.65 463.8 637.45 464.2 654.7 464.6 654.7 465 600.02 465.4 627.36 465.8 654.7 466.2 620.2 466.6 637.45 467 654.7 467.4 610.11 467.8 606.28 468.2 654.7 468.6 620.2 469 637.45 469.4 620.2 469.8 620.2 470.2 606.28 470.6 627.36 471 610.11 471.4 627.36 471.8 637.45 472.2 614.65 472.6 637.45 473 654.7 473.4 654.7 473.8 606.28 474.2 614.65 474.6 614.65 475 637.45 475.4 627.36 475.8 620.2 476.2 654.7 476.6 637.45 477 620.2 477.4 620.2 477.8 620.2 478.2 654.7 478.6 620.2 479 620.2 479.4 627.36 479.8 620.2 480.2 620.2 480.6 614.65 481 654.7 481.4 627.36 481.8 654.7 482.2 637.45 482.6 654.7 483 627.36 483.4 637.45 483.8 614.65 484.2 637.45 484.6 654.7 485 620.2 485.4 610.11 485.8 620.2 486.2 627.36 486.6 654.7 487 620.2 487.4 627.36 487.8 620.2 488.2 606.28 488.6 614.65 489 637.45 489.4 637.45 489.8 637.45 490.2 637.45 490.6 637.45 491 627.36 491.4 627.36 491.8 637.45 492.2 654.7 492.6 637.45 493 627.36 493.4 627.36 493.8 654.7 494.2 627.36 494.6 627.36 495 637.45 495.4 627.36 495.8 620.2 496.2 637.45 496.6 606.28 497 614.65 497.4 614.65 497.8 620.2 498.2 627.36 498.6 637.45 499 620.2 499.4 637.45 499.8 620.2 500.2 637.45 500.6 637.45 501 654.7 501.4 627.36 501.8 602.95 502.2 654.7 502.6 637.45 503 637.45 503.4 654.7 503.8 627.36 504.2 627.36 504.6 620.2 505 637.45 505.4 620.2 505.8 627.36 506.2 637.45 506.6 637.45 507 654.7 507.4 606.28 507.8 620.2 508.2 627.36 508.6 637.45 509 637.45 509.4 620.2 509.8 637.45 510.2 627.36 510.6 627.36 511 637.45 511.4 620.2 511.8 654.7 512.2 654.7 512.6 637.45 513 627.36 513.4 627.36 513.8 637.45 514.2 654.7 514.6 627.36 515 637.45 515.4 637.45 515.8 654.7 516.2 637.45 516.6 614.65 517 654.7 517.4 654.7 517.8 620.2 518.2 627.36 518.6 610.11 519 654.7 519.4 654.7 519.8 620.2 520.2 627.36 520.6 654.7 521 627.36 521.4 637.45 521.8 637.45 522.2 654.7 522.6 614.65 523 637.45 523.4 637.45 523.8 620.2 524.2 637.45 524.6 627.36 525 620.2 525.4 637.45 525.8 637.45 526.2 627.36 526.6 637.45 527 620.2 527.4 620.2 527.8 637.45 528.2 610.11 528.6 637.45 529 654.7 529.4 654.7 529.8 654.7 530.2 654.7 530.6 627.36 531 654.7 531.4 620.2 531.8 614.65 532.2 654.7 532.6 654.7 533 627.36 533.4 654.7 533.8 637.45 534.2 614.65 534.6 637.45 535 654.7 535.4 637.45 535.8 627.36 536.2 654.7 536.6 614.65 537 614.65 537.4 627.36 537.8 654.7 538.2 637.45 538.6 610.11 539 614.65 539.4 654.7 539.8 610.11 540.2 614.65 540.6 637.45 541 654.7 541.4 637.45 541.8 620.2 542.2 654.7 542.6 614.65 543 637.45 543.4 654.7 543.8 610.11 544.2 620.2 544.6 627.36 545 620.2 545.4 620.2 545.8 637.45 546.2 637.45 546.6 627.36 547 637.45 547.4 610.11 547.8 614.65 548.2 620.2 548.6 637.45 549 654.7 549.4 620.2 549.8 627.36 550.2 606.28 550.6 627.36 551 637.45 551.4 637.45 551.8 654.7 552.2 620.2 552.6 654.7 553 637.45 553.4 637.45 553.8 627.36 554.2 654.7 554.6 637.45 555 654.7 555.4 627.36 555.8 654.7 556.2 627.36 556.6 654.7 557 654.7 557.4 627.36 557.8 627.36 558.2 654.7 558.6 620.2 559 627.36 559.4 610.11 559.8 620.2 560.2 637.45 560.6 627.36 561 654.7 561.4 627.36 561.8 637.45 562.2 627.36 562.6 614.65 563 637.45 563.4 610.11 563.8 627.36 564.2 606.28 564.6 637.45 565 614.65 565.4 654.7 565.8 620.2 566.2 654.7 566.6 627.36 567 627.36 567.4 627.36 567.8 637.45 568.2 627.36 568.6 654.7 569 637.45" stroke="#1a70f5" stroke-width="1.5" fill="none" stroke-linejoin="round"/>
<path d="M84.6 520.42 84.98 524.3 85.36 526.28 85.74 520.56 86.12 515.88 86.5 521.55 86.88 525.98 87.26 524.68 87.64 528.91 88.02 525.34 88.4 534.38 88.78 523.27 89.16 524.26 89.54 529.08 89.92 524.72 90.3 532.96 90.68 526.6 91.06 540.9 91.44 537.52 91.82 537.59 92.2 535.32 92.58 534.61 92.96 534.21 93.34 535.25 93.72 533.65 94.1 542.92 94.48 536.95 94.86 534.13 95.24 537.3 95.62 528.76 96 534.43 96.38 537.54 96.76 546.87 97.14 528.45 97.52 539.53 97.9 532.42 98.28 542.25 98.66 540.77 99.04 543.66 99.42 543.73 99.8 540.56 100.18 533.76 100.56 542.04 100.94 546.31 101.32 543.19 101.7 554.85 102.08 552.1 102.46 549.55 102.84 538.12 103.22 540.92 103.6 543.25 103.98 542.5 104.36 540.27 104.74 536.36 105.12 538.84 105.5 547.53 105.88 554.7 106.26 541.35 106.64 539.52 107.02 549.67 107.4 549.26 107.78 555.49 108.16 550.33 108.54 544.69 108.92 551.13 109.3 557.64 109.68 545.55 110.06 550.38 110.44 550.92 110.82 540.92 111.2 542.88 111.58 547.34 111.96 548.24 112.34 545.76 112.72 550.26 113.1 545.51 113.48 543.93 113.86 555.83 114.24 547.88 114.62 548.78 115 552.73 115.38 545.28 115.76 546.23 116.14 547.8 116.52 549.46 116.9 545.85 117.28 552.73 117.66 541.54 118.04 548.02 118.42 547.99 118.8 548.51 119.18 548.98 119.56 546.92 119.94 554.66 120.32 541.1 120.7 548.64 121.08 555.89 121.46 551.75 121.84 546.14 122.22 547.69 122.6 559.69 122.98 554.76 123.36 543.15 123.74 539.63 124.12 545.63 124.5 542.2 124.88 552.58 125.26 556.63 125.64 550.88 126.02 549.83 126.4 543.93 126.78 547.04 127.16 556.58 127.54 543.37 127.92 558.54 128.3 556.9 128.68 542.18 129.06 544.3 129.44 557.09 129.82 555.95 130.2 546.8 130.58 557.7 130.96 550.15 131.34 561.54 131.72 550.92 132.1 555.47 132.48 551.73 132.86 563.76 133.24 562.96 133.62 547.67 134 549.49 134.38 552.77 134.76 545.59 135.14 556.64 135.52 544.88 135.9 559.85 136.28 553.6 136.66 550.67 137.04 542.02 137.42 565.09 137.8 559.02 138.18 554.32 138.56 568 138.94 549.25 139.32 565.34 139.7 554.58 140.08 555.28 140.46 557.22 140.84 558.27 141.22 560.37 141.6 543.89 141.98 551.58 142.36 560.47 142.74 553.99 143.12 558.64 143.5 551.46 143.88 547.64 144.26 566 144.64 560.74 145.02 549.89 145.4 559.45 145.78 558.36 146.16 563.23 146.54 554.84 146.92 559.85 147.3 563.32 147.68 559.08 148.06 554.9 148.44 546.94 148.82 559.91 149.2 554.17 149.58 557.82 149.96 555.09 150.34 557.93 150.72 566.48 151.1 548.89 151.48 550.98 151.86 552.48 152.24 560.46 152.62 558.54 153 557.11 153.38 561.65 153.76 563.52 154.14 560.55 154.52 556.72 154.9 564.35 155.28 557.46 155.66 557.15 156.04 552.86 156.42 556.03 156.8 559.06 157.18 567.41 157.56 557.64 157.94 560.85 158.32 555.6 158.7 560.52 159.08 567.37 159.46 563.46 159.84 570.18 160.22 555.53 160.6 560.74 160.98 558.55 161.36 567.78 161.74 561.75 162.12 565.27 162.5 561.48 162.88 563.41 163.26 566.5 163.64 561.9 164.02 555.36 164.4 565.79 164.78 567.15 165.16 575.38 165.54 562.99 165.92 563.23 166.3 560.7 166.68 563 167.06 562.84 167.44 562.92 167.82 569.63 168.2 565.62 168.58 569.75 168.96 556.71 169.34 561.07 169.72 559.77 170.1 566.98 170.48 569.05 170.86 562.24 171.24 569.85 171.62 578.51 172 570.89 172.38 571.59 172.76 568.95 173.14 555.16 173.52 559.57 173.9 570.76 174.28 564.06 174.66 555.15 175.04 554.92 175.42 568.26 175.8 561.84 176.18 564.67 176.56 558.58 176.94 568.09 177.32 576.25 177.7 564.52 178.08 569.81 178.46 568.12 178.84 567.29 179.22 570.34 179.6 580.43 179.98 563.15 180.36 562.35 180.74 573.44 181.12 565.99 181.5 571.21 181.88 579.24 182.26 569.58 182.64 566.66 183.02 568.09 183.4 559.83 183.78 567.89 184.16 567.55 184.54 570.82 184.92 567.28 185.3 581.49 185.68 570.45 186.06 568.53 186.44 579.89 186.82 571.1 187.2 571.7 187.58 568.3 187.96 576.78 188.34 568.16 188.72 573.86 189.1 580.68 189.48 561.22 189.86 576.91 190.24 568.49 190.62 571.17 191 565.46 191.38 573.05 191.76 568.76 192.14 582.36 192.52 570.58 192.9 584.19 193.28 572.42 193.66 561.2 194.04 569.36 194.42 580.68 194.8 573.96 195.18 572.76 195.56 566.43 195.94 570.51 196.32 561.67 196.7 579.08 197.08 583.94 197.46 565.89 197.84 570.96 198.22 571.26 198.6 568.5 198.98 568.78 199.36 569.6 199.74 578.64 200.12 570.74 200.5 574.98 200.88 570.77 201.26 584.26 201.64 575.03 202.02 589.92 202.4 585.88 202.78 572.73 203.16 580.7 203.54 576.52 203.92 568.93 204.3 584.14 204.68 575.78 205.06 578.49 205.44 574.5 205.82 578.7 206.2 573.58 206.58 564.39 206.96 573.41 207.34 577.72 207.72 586.22 208.1 575.36 208.48 568.55 208.86 571.79 209.24 579.37 209.62 572.29 210 578.51 210.38 583.84 210.76 571.52 211.14 582.66 211.52 586.11 211.9 581.63 212.28 578.83 212.66 579.45 213.04 575.26 213.42 574.94 213.8 566.15 214.18 580.33 214.56 577.06 214.94 576.35 215.32 582.23 215.7 595.83 216.08 572.7 216.46 583.12 216.84 580.66 217.22 567.58 217.6 577.93 217.98 588.39 218.36 585.43 218.74 578.41 219.12 593.88 219.5 580.49 219.88 582.34 220.26 580.19 220.64 574.65 221.02 574 221.4 586.18 221.78 578.43 222.16 592.05 222.54 598.91 222.92 575.89 223.3 590.38 223.68 584.79 224.06 580.21 224.44 570.61 224.82 575.72 225.2 597.36 225.58 579.66 225.96 571.35 226.34 582.5 226.72 574.07 227.1 572 227.48 595.14 227.86 579.64 228.24 581.23 228.62 581.33 229 593.85 229.38 586.87 229.76 588.8 230.14 579.51 230.52 583.81 230.9 584.42 231.28 572.44 231.66 581.85 232.04 586.47 232.42 579.79 232.8 572.48 233.18 585.48 233.56 597.3 233.94 583.53 234.32 592.61 234.7 591.29 235.08 575.71 235.46 581.76 235.84 585.17 236.22 580.14 236.6 585.13 236.98 588.73 237.36 582.08 237.74 587.25 238.12 586.81 238.5 582.66 238.88 580.92 239.26 588.88 239.64 592.19 240.02 580.31 240.4 581.22 240.78 580.99 241.16 588.34 241.54 577.66 241.92 576.32 242.3 589.75 242.68 592.5 243.06 592.5 243.44 576.03 243.82 585.82 244.2 590.18 244.58 580.23 244.96 581.79 245.34 583.1 245.72 576.21 246.1 582.07 246.48 586.97 246.86 589.27 247.24 581.95 247.62 589.08 248 594.6 248.38 603.19 248.76 599.78 249.14 606.83 249.52 588.72 249.9 599.41 250.28 579.88 250.66 603.82 251.04 594.66 251.42 576.79 251.8 588.08 252.18 584.71 252.56 576.15 252.94 590.58 253.32 582.22 253.7 587.46 254.08 592.52 254.46 584.36 254.84 586.68 255.22 587.76 255.6 590.01 255.98 618.09 256.36 615.77 256.74 607.38 257.12 591.87 257.5 572.36 257.88 571.94 258.26 602.11 258.64 582.57 259.02 581.74 259.4 597 259.78 581.49 260.16 588.95 260.54 587.72 260.92 585.05 261.3 591.94 261.68 589.03 262.06 574.88 262.44 603.44 262.82 591.75 263.2 595.41 263.58 609.5 263.96 591.95 264.34 578.74 264.72 588.58 265.1 583.13 265.48 596.51 265.86 598.12 266.24 584.82 266.62 603.07 267 602.5 267.38 594.3 267.76 594.83 268.14 582.71 268.52 585.83 268.9 600.82 269.28 577.92 269.66 593.84 270.04 597 270.42 595.63 270.8 602.49 271.18 605.04 271.56 588.27 271.94 583.25 272.32 600.22 272.7 582.28 273.08 596.44 273.46 593.61 273.84 588.71 274.22 608.43 274.6 593.72 274.98 606.16 275.36 603.61 275.74 600.64 276.12 599.39 276.5 598.87 276.88 598.95 277.26 590.34 277.64 588.99 278.02 598.88 278.4 594.65 278.78 614.25 279.16 602.07 279.54 601.52 279.92 615.83 280.3 603.28 280.68 585.59 281.06 612.78 281.44 601.46 281.82 587.72 282.2 591.5 282.58 593.88 282.96 597.09 283.34 605.76 283.72 594.43 284.1 606.31 284.48 603.32 284.86 603.75 285.24 606.16 285.62 612.31 286 613.18 286.38 599.34 286.76 598.2 287.14 601.1 287.52 603.47 287.9 593.99 288.28 578.92 288.66 601.84 289.04 605.79 289.42 597.09 289.8 609.58 290.18 593.85 290.56 603.25 290.94 595.82 291.32 600.38 291.7 595.54 292.08 598.85 292.46 614.01 292.84 594.7 293.22 601.66 293.6 601.8 293.98 593.64 294.36 604.08 294.74 596.8 295.12 587.49 295.5 593.19 295.88 603.24 296.26 603.76 296.64 592.83 297.02 600.08 297.4 592.52 297.78 608.46 298.16 599.97 298.54 589.13 298.92 590.83 299.3 599.68 299.68 626.38 300.06 612.79 300.44 592.63 300.82 596.68 301.2 605.75 301.58 608.83 301.96 591.23 302.34 610.46 302.72 591.46 303.1 590.25 303.48 597.67 303.86 601.98 304.24 595.61 304.62 610.64 305 621.72 305.38 604.02 305.76 606.89 306.14 606.12 306.52 610.72 306.9 612.11 307.28 588.96 307.66 603.72 308.04 610.39 308.42 618.82 308.8 593.35 309.18 595.23 309.56 596.01 309.94 626.64 310.32 605.08 310.7 606.83 311.08 619.26 311.46 614.41 311.84 599.62 312.22 620.25 312.6 595.62 312.98 605.42 313.36 627.03 313.74 603.46 314.12 638.23 314.5 610.5 314.88 606.86 315.26 593.92 315.64 605.57 316.02 606.12 316.4 606.54 316.78 637.42 317.16 620.07 317.54 602.13 317.92 614.8 318.3 606.15 318.68 602.89 319.06 627.95 319.44 600.1 319.82 599.56 320.2 619.8 320.58 615.29 320.96 606.66 321.34 597.88 321.72 602.96 322.1 597.24 322.48 599.92 322.86 602.66 323.24 614.81 323.62 614.55 324 606.2 324.38 592.91 324.76 610.43 325.14 614.63 325.52 606.17 325.9 620.38 326.28 620.12 326.66 620.17 327.04 614.8 327.42 606.22 327.8 597.31 328.18 606.29 328.56 610.07 328.94 610.09 329.32 610.13 329.7 610.1 330.08 614.65 330.46 602.95 330.84 654.7 331.22 620.2 331.6 610.11 331.98 602.95 332.36 606.28 332.74 610.11 333.12 614.65 333.5 602.95 333.88 600.02 334.26 602.95 334.64 602.95 335.02 610.11 335.4 595.03 335.78 597.4 336.16 606.28 336.54 610.11 336.92 606.28 337.3 614.65 337.68 606.28 338.06 620.2 338.44 597.4 338.82 620.2 339.2 620.2 339.58 597.4 339.96 602.95 340.34 627.36 340.72 620.2 341.1 600.02 341.48 610.11 341.86 620.2 342.24 597.4 342.62 606.28 343 602.95 343.38 606.28 343.76 627.36 344.14 654.7 344.52 600.02 344.9 627.36 345.28 597.4 345.66 614.65 346.04 606.28 346.42 654.7 346.8 627.36 347.18 614.65 347.56 637.45 347.94 600.02 348.32 627.36 348.7 614.65 349.08 600.02 349.46 606.28 349.84 600.02 350.22 602.95 350.6 606.28 350.98 620.2 351.36 627.36 351.74 610.11 352.12 610.11 352.5 620.2 352.88 602.95 353.26 606.28 353.64 600.02 354.02 595.03 354.4 637.45 354.78 600.02 355.16 637.45 355.54 600.02 355.92 620.2 356.3 606.28 356.68 597.4 357.06 600.02 357.44 627.36 357.82 620.2 358.2 610.11 358.58 610.11 358.96 614.65 359.34 602.95 359.72 597.4 360.1 602.95 360.48 627.36 360.86 610.11 361.24 592.86 361.62 606.28 362 620.2 362.38 627.36 362.76 620.2 363.14 620.2 363.52 620.2 363.9 610.11 364.28 614.65 364.66 597.4 365.04 614.65 365.42 602.95 365.8 610.11 366.18 620.2 366.56 620.2 366.94 602.95 367.32 610.11 367.7 614.65 368.08 600.02 368.46 610.11 368.84 606.28 369.22 614.65 369.6 620.2 369.98 597.4 370.36 627.36 370.74 654.7 371.12 654.7 371.5 602.95 371.88 620.2 372.26 620.2 372.64 614.65 373.02 597.4 373.4 606.28 373.78 614.65 374.16 627.36 374.54 606.28 374.92 620.2 375.3 627.36 375.68 602.95 376.06 627.36 376.44 614.65 376.82 614.65 377.2 610.11 377.58 606.28 377.96 637.45 378.34 620.2 378.72 606.28 379.1 637.45 379.48 654.7 379.86 610.11 380.24 620.2 380.62 614.65 381 602.95 381.38 627.36 381.76 610.11 382.14 610.11 382.52 637.45 382.9 620.2 383.28 606.28 383.66 620.2 384.04 606.28 384.42 627.36 384.8 620.2 385.18 627.36 385.56 627.36 385.94 587.31 386.32 627.36 386.7 654.7 387.08 614.65 387.46 597.4 387.84 606.28 388.22 614.65 388.6 620.2 388.98 620.2 389.36 600.02 389.74 602.95 390.12 610.11 390.5 627.36 390.88 627.36 391.26 597.4 391.64 614.65 392.02 614.65 392.4 602.95 392.78 620.2 393.16 627.36 393.54 620.2 393.92 610.11 394.3 610.11 394.68 606.28 395.06 602.95 395.44 620.2 395.82 627.36 396.2 637.45 396.58 597.4 396.96 627.36 397.34 620.2 397.72 620.2 398.1 627.36 398.48 614.65 398.86 620.2 399.24 610.11 399.62 614.65 400 620.2 400.38 620.2 400.76 620.2 401.14 614.65 401.52 610.11 401.9 620.2 402.28 620.2 402.66 602.95 403.04 610.11 403.42 627.36 403.8 627.36 404.18 606.28 404.56 620.2 404.94 606.28 405.32 654.7 405.7 637.45 406.08 614.65 406.46 620.2 406.84 602.95 407.22 620.2 407.6 620.2 407.98 620.2 408.36 620.2 408.74 637.45 409.12 620.2 409.5 627.36 409.88 602.95 410.26 620.2 410.64 637.45 411.02 620.2 411.4 614.65 411.78 610.11 412.16 620.2 412.54 602.95 412.92 620.2 413.3 610.11 413.68 620.2 414.06 627.36 414.44 610.11 414.82 614.65 415.2 620.2 415.58 637.45 415.96 627.36 416.34 610.11 416.72 595.03 417.1 614.65 417.48 610.11 417.86 627.36 418.24 610.11 418.62 620.2 419 627.36 419.38 654.7 419.76 627.36 420.14 637.45 420.52 620.2 420.9 610.11 421.28 614.65 421.66 637.45 422.04 627.36 422.42 654.7 422.8 606.28 423.18 627.36 423.56 614.65 423.94 620.2 424.32 654.7 424.7 614.65 425.08 620.2 425.46 602.95 425.84 602.95 426.22 614.65 426.6 606.28 426.98 620.2 427.36 637.45 427.74 610.11 428.12 627.36 428.5 620.2 428.88 620.2 429.26 610.11 429.64 627.36 430.02 637.45 430.4 637.45 430.78 627.36 431.16 637.45 431.54 602.95 431.92 637.45 432.3 654.7 432.68 627.36 433.06 627.36 433.44 606.28 433.82 627.36 434.2 620.2 434.58 637.45 434.96 627.36 435.34 627.36 435.72 610.11 436.1 614.65 436.48 620.2 436.86 606.28 437.24 627.36 437.62 610.11 438 637.45 438.38 610.11 438.76 606.28 439.14 637.45 439.52 637.45 439.9 637.45 440.28 627.36 440.66 610.11 441.04 627.36 441.42 610.11 441.8 606.28 442.18 637.45 442.56 620.2 442.94 637.45 443.32 627.36 443.7 627.36 444.08 620.2 444.46 637.45 444.84 602.95 445.22 627.36 445.6 606.28 445.98 614.65 446.36 627.36 446.74 606.28 447.12 614.65 447.5 654.7 447.88 654.7 448.26 637.45 448.64 600.02 449.02 627.36 449.4 610.11 449.78 637.45 450.16 627.36 450.54 614.65 450.92 614.65 451.3 637.45 451.68 620.2 452.06 654.7 452.44 620.2 452.82 614.65 453.2 614.65 453.58 627.36 453.96 614.65 454.34 637.45 454.72 620.2 455.1 627.36 455.48 627.36 455.86 627.36 456.24 602.95 456.62 627.36 457 627.36 457.38 637.45 457.76 614.65 458.14 620.2 458.52 627.36 458.9 627.36 459.28 627.36 459.66 602.95 460.04 614.65 460.42 627.36 460.8 620.2 461.18 627.36 461.56 654.7 461.94 637.45 462.32 610.11 462.7 610.11 463.08 654.7 463.46 620.2 463.84 654.7 464.22 614.65 464.6 637.45 464.98 600.02 465.36 620.2 465.74 627.36 466.12 654.7 466.5 637.45 466.88 627.36 467.26 606.28 467.64 627.36 468.02 627.36 468.4 610.11 468.78 614.65 469.16 614.65 469.54 654.7 469.92 620.2 470.3 627.36 470.68 637.45 471.06 620.2 471.44 637.45 471.82 610.11 472.2 637.45 472.58 614.65 472.96 620.2 473.34 637.45 473.72 610.11 474.1 620.2 474.48 654.7 474.86 614.65 475.24 620.2 475.62 654.7 476 637.45 476.38 614.65 476.76 610.11 477.14 620.2 477.52 627.36 477.9 614.65 478.28 620.2 478.66 627.36 479.04 610.11 479.42 610.11 479.8 614.65 480.18 620.2 480.56 654.7 480.94 620.2 481.32 614.65 481.7 627.36 482.08 614.65 482.46 620.2 482.84 627.36 483.22 654.7 483.6 620.2 483.98 614.65 484.36 610.11 484.74 637.45 485.12 654.7 485.5 620.2 485.88 614.65 486.26 627.36 486.64 620.2 487.02 620.2 487.4 610.11 487.78 614.65 488.16 620.2 488.54 627.36 488.92 637.45 489.3 654.7 489.68 627.36 490.06 637.45 490.44 637.45 490.82 627.36 491.2 614.65 491.58 627.36 491.96 614.65 492.34 627.36 492.72 654.7 493.1 620.2 493.48 610.11 493.86 602.95 494.24 627.36 494.62 614.65 495 627.36 495.38 620.2 495.76 627.36 496.14 654.7 496.52 610.11 496.9 606.28 497.28 654.7 497.66 614.65 498.04 610.11 498.42 627.36 498.8 654.7 499.18 602.95 499.56 654.7 499.94 620.2 500.32 637.45 500.7 637.45 501.08 614.65 501.46 627.36 501.84 614.65 502.22 627.36 502.6 600.02 502.98 637.45 503.36 627.36 503.74 627.36 504.12 610.11 504.5 614.65 504.88 620.2 505.26 620.2 505.64 637.45 506.02 627.36 506.4 627.36 506.78 637.45 507.16 620.2 507.54 620.2 507.92 627.36 508.3 620.2 508.68 654.7 509.06 627.36 509.44 637.45 509.82 637.45 510.2 654.7 510.58 627.36 510.96 627.36 511.34 627.36 511.72 614.65 512.1 620.2 512.48 620.2 512.86 654.7 513.24 627.36 513.62 654.7 514 627.36 514.38 627.36 514.76 610.11 515.14 627.36 515.52 620.2 515.9 620.2 516.28 620.2 516.66 637.45 517.04 610.11 517.42 637.45 517.8 627.36 518.18 627.36 518.56 654.7 518.94 654.7 519.32 627.36 519.7 654.7 520.08 627.36 520.46 620.2 520.84 620.2 521.22 627.36 521.6 627.36 521.98 620.2 522.36 637.45 522.74 627.36 523.12 606.28 523.5 614.65 523.88 637.45 524.26 637.45 524.64 654.7 525.02 637.45 525.4 637.45 525.78 627.36 526.16 627.36 526.54 637.45 526.92 614.65 527.3 614.65 527.68 610.11 528.06 637.45 528.44 614.65 528.82 627.36 529.2 637.45 529.58 620.2 529.96 654.7 530.34 654.7 530.72 610.11 531.1 610.11 531.48 627.36 531.86 614.65 532.24 614.65 532.62 627.36 533 610.11 533.38 620.2 533.76 614.65 534.14 627.36 534.52 627.36 534.9 637.45 535.28 620.2 535.66 637.45 536.04 654.7 536.42 654.7 536.8 610.11 537.18 606.28 537.56 637.45 537.94 610.11 538.32 614.65 538.7 654.7 539.08 627.36 539.46 654.7 539.84 654.7 540.22 654.7 540.6 610.11 540.98 654.7 541.36 654.7 541.74 627.36 542.12 637.45 542.5 627.36 542.88 654.7 543.26 627.36 543.64 627.36 544.02 637.45 544.4 654.7 544.78 637.45 545.16 610.11 545.54 614.65 545.92 637.45 546.3 637.45 546.68 606.28 547.06 637.45 547.44 627.36 547.82 620.2 548.2 620.2 548.58 620.2 548.96 654.7 549.34 627.36 549.72 654.7 550.1 654.7 550.48 627.36 550.86 654.7 551.24 620.2 551.62 620.2 552 654.7 552.38 627.36 552.76 637.45 553.14 627.36 553.52 654.7 553.9 637.45 554.28 610.11 554.66 614.65 555.04 637.45 555.42 654.7 555.8 627.36 556.18 654.7 556.56 637.45 556.94 620.2 557.32 620.2 557.7 627.36 558.08 654.7 558.46 637.45 558.84 620.2 559.22 627.36 559.6 627.36 559.98 627.36 560.36 637.45 560.74 627.36 561.12 637.45 561.5 620.2 561.88 614.65 562.26 627.36 562.64 606.28 563.02 620.2 563.4 614.65 563.78 614.65 564.16 637.45 564.54 610.11 564.92 627.36 565.3 627.36 565.68 620.2 566.06 654.7 566.44 627.36 566.82 654.7 567.2 654.7 567.58 637.45 567.96 620.2 568.34 627.36 568.72 627.36" stroke="#000080" stroke-width="1.6" fill="none" stroke-linejoin="round"/>
<path d="M84.6 529.73C84.75 524.78 85.3 505.91 85.5 500.03C85.7 494.16 85.63 497.51 85.8 494.48C85.97 491.46 86.3 484.19 86.5 481.88C86.7 479.58 86.72 481.45 87 480.67C87.28 479.88 87.95 477.83 88.2 477.17C88.45 476.51 88.3 476.73 88.5 476.71C88.7 476.68 89.05 476.76 89.4 477.01C89.75 477.25 90.33 478.07 90.6 478.16C90.87 478.25 90.8 477.39 91 477.54C91.2 477.69 91.47 478.55 91.8 479.08C92.13 479.61 92.63 480.28 93 480.73C93.37 481.19 93.8 481.67 94 481.83C94.2 481.99 93.97 481.19 94.2 481.71C94.43 482.23 95 484.25 95.4 484.97C95.8 485.68 96.2 485.54 96.6 485.99C97 486.45 97.57 487.35 97.8 487.7C98.03 488.05 97.8 487.81 98 488.09C98.2 488.38 98.63 489.04 99 489.39C99.37 489.75 99.8 489.95 100.2 490.22C100.6 490.49 101 490.74 101.4 491.02C101.8 491.3 102.33 491.48 102.6 491.91C102.87 492.34 102.8 493.59 103 493.59C103.2 493.58 103.47 492.13 103.8 491.87C104.13 491.6 104.6 492.22 105 492.01C105.4 491.8 105.8 490.75 106.2 490.61C106.6 490.48 107.1 490.63 107.4 491.2C107.7 491.77 107.8 493.51 108 494.04C108.2 494.56 108.3 494.58 108.6 494.32C108.9 494.07 109.4 492.91 109.8 492.51C110.2 492.12 110.6 492 111 491.94C111.4 491.89 111.8 492.48 112.2 492.19C112.6 491.9 113.1 490.35 113.4 490.18C113.7 490 113.8 491 114 491.13C114.2 491.26 114.3 490.83 114.6 490.97C114.9 491.11 115.4 492.2 115.8 491.96C116.2 491.73 116.6 489.88 117 489.56C117.4 489.23 117.8 489.97 118.2 490C118.6 490.04 119.1 489.8 119.4 489.76C119.7 489.72 119.8 489.97 120 489.76C120.2 489.55 120.3 488.8 120.6 488.49C120.9 488.18 121.4 488.23 121.8 487.89C122.2 487.55 122.6 486.35 123 486.43C123.4 486.5 123.8 488.08 124.2 488.33C124.6 488.59 125 488.27 125.4 487.94C125.8 487.61 126.2 486.6 126.6 486.35C127 486.1 127.4 486.68 127.8 486.43C128.2 486.19 128.63 485.05 129 484.87C129.37 484.69 129.8 485.18 130 485.35C130.2 485.53 129.97 486.06 130.2 485.92C130.43 485.78 131 484.79 131.4 484.53C131.8 484.27 132.2 484.37 132.6 484.37C133 484.38 133.4 484.68 133.8 484.56C134.2 484.44 134.6 484.05 135 483.67C135.4 483.29 135.8 482.34 136.2 482.28C136.6 482.22 137 483.2 137.4 483.3C137.8 483.4 138.2 483.12 138.6 482.87C139 482.62 139.57 482.03 139.8 481.79C140.03 481.55 139.8 481.53 140 481.42C140.2 481.31 140.63 481.25 141 481.15C141.37 481.06 141.8 481.22 142.2 480.85C142.6 480.48 143 479.04 143.4 478.93C143.8 478.81 144.2 480.24 144.6 480.15C145 480.05 145.4 478.62 145.8 478.38C146.2 478.14 146.6 478.74 147 478.69C147.4 478.64 147.8 478.17 148.2 478.06C148.6 477.95 149.1 477.93 149.4 478.04C149.7 478.15 149.8 478.79 150 478.73C150.2 478.67 150.3 478 150.6 477.69C150.9 477.38 151.4 476.98 151.8 476.88C152.2 476.77 152.6 477.16 153 477.07C153.4 476.98 153.8 476.71 154.2 476.32C154.6 475.93 155 475.07 155.4 474.72C155.8 474.38 156.2 474.24 156.6 474.25C157 474.26 157.4 474.46 157.8 474.79C158.2 475.11 158.63 476.27 159 476.19C159.37 476.11 159.8 474.52 160 474.3C160.2 474.09 159.97 474.78 160.2 474.92C160.43 475.05 161 475.43 161.4 475.11C161.8 474.8 162.2 473.12 162.6 473.05C163 472.98 163.4 474.51 163.8 474.68C164.2 474.86 164.6 474.27 165 474.1C165.4 473.92 165.8 473.7 166.2 473.63C166.6 473.57 167 474.08 167.4 473.69C167.8 473.31 168.2 471.5 168.6 471.33C169 471.16 169.4 472.67 169.8 472.65C170.2 472.63 170.6 471.27 171 471.21C171.4 471.15 171.8 472.21 172.2 472.29C172.6 472.37 173 471.86 173.4 471.69C173.8 471.52 174.33 471.23 174.6 471.27C174.87 471.3 174.8 472.08 175 471.9C175.2 471.72 175.47 470.26 175.8 470.18C176.13 470.09 176.6 470.94 177 471.36C177.4 471.79 177.8 472.65 178.2 472.73C178.6 472.81 179 472.22 179.4 471.82C179.8 471.42 180.2 470.42 180.6 470.31C181 470.21 181.4 471.12 181.8 471.17C182.2 471.23 182.6 470.67 183 470.65C183.4 470.62 183.8 471.16 184.2 471.01C184.6 470.85 185.1 469.75 185.4 469.72C185.7 469.69 185.8 470.7 186 470.83C186.2 470.96 186.3 470.68 186.6 470.48C186.9 470.28 187.4 469.55 187.8 469.62C188.2 469.68 188.6 470.6 189 470.88C189.4 471.16 189.8 471.27 190.2 471.31C190.6 471.35 191 471.6 191.4 471.11C191.8 470.63 192.2 468.52 192.6 468.42C193 468.31 193.4 470.13 193.8 470.47C194.2 470.8 194.6 470.51 195 470.43C195.4 470.36 195.8 470.08 196.2 470C196.6 469.92 197 469.91 197.4 469.97C197.8 470.03 198.2 470.26 198.6 470.35C199 470.43 199.57 470.62 199.8 470.48C200.03 470.34 199.8 469.53 200 469.49C200.2 469.45 200.63 470.15 201 470.24C201.37 470.33 201.8 470.1 202.2 470.02C202.6 469.94 203 469.66 203.4 469.76C203.8 469.87 204.2 470.59 204.6 470.65C205 470.7 205.4 470.3 205.8 470.09C206.2 469.87 206.6 469.32 207 469.35C207.4 469.39 207.8 470.28 208.2 470.31C208.6 470.35 209 469.34 209.4 469.55C209.8 469.75 210.2 471.33 210.6 471.53C211 471.74 211.4 470.75 211.8 470.8C212.2 470.84 212.6 471.97 213 471.8C213.4 471.62 213.8 469.67 214.2 469.77C214.6 469.88 215 472.1 215.4 472.43C215.8 472.76 216.2 472.02 216.6 471.74C217 471.45 217.4 470.48 217.8 470.7C218.2 470.91 218.6 472.96 219 473.04C219.4 473.12 219.8 471.54 220.2 471.2C220.6 470.86 221 470.9 221.4 471C221.8 471.1 222.2 471.58 222.6 471.79C223 472.01 223.4 472.13 223.8 472.29C224.2 472.44 224.6 472.46 225 472.72C225.4 472.98 225.8 474.02 226.2 473.85C226.6 473.68 227 472.16 227.4 471.7C227.8 471.25 228.2 470.97 228.6 471.14C229 471.31 229.4 472.63 229.8 472.73C230.2 472.82 230.6 471.87 231 471.71C231.4 471.55 231.8 471.59 232.2 471.77C232.6 471.95 233 472.43 233.4 472.77C233.8 473.12 234.23 473.91 234.6 473.85C234.97 473.78 235.4 472.62 235.6 472.4C235.8 472.17 235.57 472.4 235.8 472.49C236.03 472.59 236.6 472.89 237 472.98C237.4 473.06 237.8 472.82 238.2 473.01C238.6 473.21 239 474.08 239.4 474.16C239.8 474.25 240.2 473.75 240.6 473.52C241 473.28 241.4 472.42 241.8 472.74C242.2 473.06 242.6 475.32 243 475.43C243.4 475.55 243.8 473.86 244.2 473.43C244.6 472.99 245 472.64 245.4 472.83C245.8 473.01 246.2 474.29 246.6 474.53C247 474.77 247.4 474.23 247.8 474.27C248.2 474.32 248.6 474.78 249 474.8C249.4 474.83 249.8 474.45 250.2 474.42C250.6 474.39 251 474.55 251.4 474.62C251.8 474.69 252.2 474.7 252.6 474.85C253 474.99 253.4 475.72 253.8 475.48C254.2 475.24 254.6 473.47 255 473.42C255.4 473.37 255.8 474.88 256.2 475.19C256.6 475.49 257 474.94 257.4 475.22C257.8 475.5 258.2 476.93 258.6 476.88C259 476.84 259.4 475.01 259.8 474.94C260.2 474.87 260.6 476.22 261 476.46C261.4 476.7 261.8 476.55 262.2 476.37C262.6 476.18 263 475.35 263.4 475.35C263.8 475.35 264.2 476.15 264.6 476.37C265 476.6 265.4 476.58 265.8 476.7C266.2 476.82 266.6 477.06 267 477.1C267.4 477.15 267.8 477.08 268.2 476.96C268.6 476.85 269 476.4 269.4 476.4C269.8 476.4 270.2 476.98 270.6 476.95C271 476.93 271.4 476.38 271.8 476.25C272.2 476.12 272.6 476.11 273 476.17C273.4 476.24 273.8 476.55 274.2 476.62C274.6 476.68 275 476.56 275.4 476.56C275.8 476.55 276.2 476.28 276.6 476.59C277 476.91 277.4 478.53 277.8 478.46C278.2 478.39 278.6 476.28 279 476.17C279.4 476.06 279.8 477.51 280.2 477.81C280.6 478.1 281 478.09 281.4 477.95C281.8 477.82 282.2 476.82 282.6 476.97C283 477.13 283.4 478.82 283.8 478.88C284.2 478.94 284.6 477.43 285 477.34C285.4 477.24 285.8 478.35 286.2 478.3C286.6 478.26 287 477.23 287.4 477.08C287.8 476.93 288.2 477.28 288.6 477.42C289 477.56 289.4 477.7 289.8 477.94C290.2 478.17 290.6 478.53 291 478.85C291.4 479.17 291.8 479.99 292.2 479.86C292.6 479.72 293 478.07 293.4 478.03C293.8 477.99 294.2 479.48 294.6 479.6C295 479.71 295.4 478.69 295.8 478.72C296.2 478.75 296.6 479.58 297 479.77C297.4 479.96 297.8 479.9 298.2 479.88C298.6 479.86 299 479.64 299.4 479.64C299.8 479.63 300.2 480.05 300.6 479.85C301 479.64 301.4 478.34 301.8 478.42C302.2 478.51 302.6 479.95 303 480.36C303.4 480.76 303.8 480.91 304.2 480.86C304.6 480.8 305 480.03 305.4 480.03C305.8 480.02 306.2 480.67 306.6 480.81C307 480.96 307.4 480.81 307.8 480.9C308.2 480.99 308.6 481.49 309 481.34C309.4 481.2 309.8 480.21 310.2 480.04C310.6 479.88 311 480.12 311.4 480.35C311.8 480.57 312.2 481.21 312.6 481.4C313 481.59 313.4 481.38 313.8 481.49C314.2 481.61 314.6 482.16 315 482.08C315.4 482.01 315.8 481.16 316.2 481.03C316.6 480.91 317 481.35 317.4 481.34C317.8 481.32 318.2 480.93 318.6 480.95C319 480.96 319.4 481.13 319.8 481.42C320.2 481.71 320.6 482.61 321 482.68C321.4 482.75 321.8 481.88 322.2 481.82C322.6 481.76 323 482.29 323.4 482.32C323.8 482.35 324.2 482.08 324.6 482.02C325 481.96 325.4 481.92 325.8 481.97C326.2 482.01 326.6 482.22 327 482.29C327.4 482.37 327.8 482.47 328.2 482.4C328.6 482.33 329.1 481.9 329.4 481.85C329.7 481.79 329.8 481.96 330 482.07C330.2 482.19 330.3 482.33 330.6 482.51C330.9 482.69 331.4 483.11 331.8 483.16C332.2 483.2 332.6 483 333 482.78C333.4 482.56 333.8 481.47 334.2 481.83C334.6 482.18 335 484.65 335.4 484.9C335.8 485.15 336.2 483.66 336.6 483.34C337 483.02 337.4 482.98 337.8 482.99C338.2 483 338.6 483.32 339 483.39C339.4 483.46 339.8 483.38 340.2 483.4C340.6 483.42 341 483.42 341.4 483.52C341.8 483.62 342.2 483.92 342.6 484C343 484.08 343.4 484.04 343.8 484.02C344.2 484 344.6 483.79 345 483.9C345.4 484 345.8 484.76 346.2 484.66C346.6 484.56 347 483.17 347.4 483.31C347.8 483.46 348.2 485.35 348.6 485.53C349 485.7 349.4 484.68 349.8 484.35C350.2 484.03 350.6 483.79 351 483.56C351.4 483.33 351.8 482.8 352.2 482.98C352.6 483.16 353 484.29 353.4 484.64C353.8 484.99 354.2 485.12 354.6 485.08C355 485.04 355.4 484.48 355.8 484.39C356.2 484.31 356.6 484.55 357 484.57C357.4 484.6 357.8 484.41 358.2 484.54C358.6 484.67 359 485.24 359.4 485.36C359.8 485.47 360.2 485.43 360.6 485.22C361 485 361.4 484.03 361.8 484.07C362.2 484.12 362.6 485.3 363 485.51C363.4 485.72 363.8 485.31 364.2 485.34C364.6 485.38 365 485.8 365.4 485.72C365.8 485.65 366.2 484.81 366.6 484.88C367 484.96 367.4 485.88 367.8 486.17C368.2 486.47 368.6 486.98 369 486.66C369.4 486.34 369.8 484.28 370.2 484.26C370.6 484.24 371 486.26 371.4 486.54C371.8 486.82 372.2 486.01 372.6 485.92C373 485.83 373.4 485.99 373.8 486C374.2 486 374.6 485.96 375 485.96C375.4 485.96 375.8 485.89 376.2 485.98C376.6 486.07 377 486.47 377.4 486.5C377.8 486.53 378.2 486.45 378.6 486.16C379 485.88 379.4 484.62 379.8 484.77C380.2 484.93 380.6 486.74 381 487.08C381.4 487.42 381.8 486.78 382.2 486.81C382.6 486.84 383 487.46 383.4 487.26C383.8 487.06 384.2 485.59 384.6 485.6C385 485.61 385.4 487.16 385.8 487.32C386.2 487.49 386.6 486.51 387 486.58C387.4 486.65 387.8 487.6 388.2 487.75C388.6 487.9 389 487.36 389.4 487.47C389.8 487.58 390.2 488.27 390.6 488.4C391 488.53 391.4 488.28 391.8 488.27C392.2 488.25 392.6 488.67 393 488.31C393.4 487.95 393.8 486.05 394.2 486.1C394.6 486.16 395 488.28 395.4 488.65C395.8 489.01 396.2 488.43 396.6 488.3C397 488.18 397.4 487.79 397.8 487.89C398.2 487.99 398.6 488.83 399 488.9C399.4 488.96 399.8 488.35 400.2 488.28C400.6 488.22 401 488.44 401.4 488.5C401.8 488.57 402.2 488.74 402.6 488.66C403 488.59 403.4 488.04 403.8 488.05C404.2 488.05 404.6 488.77 405 488.69C405.4 488.62 405.8 487.5 406.2 487.6C406.6 487.69 407 489.08 407.4 489.27C407.8 489.45 408.2 488.74 408.6 488.73C409 488.71 409.4 489.27 409.8 489.2C410.2 489.14 410.6 488.45 411 488.34C411.4 488.23 411.8 488.37 412.2 488.54C412.6 488.72 413 489.08 413.4 489.36C413.8 489.65 414.2 490.45 414.6 490.27C415 490.09 415.4 488.61 415.8 488.29C416.2 487.97 416.6 488.2 417 488.33C417.4 488.46 417.8 488.72 418.2 489.07C418.6 489.42 419 490.3 419.4 490.43C419.8 490.55 420.2 489.75 420.6 489.8C421 489.85 421.4 490.72 421.8 490.71C422.2 490.7 422.6 489.96 423 489.73C423.4 489.51 423.8 489.33 424.2 489.36C424.6 489.39 425 489.73 425.4 489.91C425.8 490.1 426.2 490.54 426.6 490.48C427 490.41 427.4 489.52 427.8 489.53C428.2 489.54 428.6 490.35 429 490.52C429.4 490.68 429.8 490.52 430.2 490.51C430.6 490.49 431 490.35 431.4 490.44C431.8 490.53 432.2 491.15 432.6 491.04C433 490.93 433.4 489.89 433.8 489.75C434.2 489.62 434.6 489.98 435 490.24C435.4 490.49 435.8 491.13 436.2 491.28C436.6 491.43 437 491.12 437.4 491.15C437.8 491.19 438.2 491.38 438.6 491.49C439 491.59 439.4 491.57 439.8 491.77C440.2 491.97 440.6 492.65 441 492.68C441.4 492.72 441.8 492.02 442.2 491.98C442.6 491.94 443 492.53 443.4 492.46C443.8 492.4 444.2 491.6 444.6 491.57C445 491.55 445.4 492.23 445.8 492.31C446.2 492.38 446.6 492.16 447 492.02C447.4 491.88 447.8 491.51 448.2 491.48C448.6 491.45 449.1 491.8 449.4 491.85C449.7 491.9 449.8 491.82 450 491.78C450.2 491.74 450.3 491.62 450.6 491.62C450.9 491.61 451.4 491.43 451.8 491.76C452.2 492.09 452.6 493.63 453 493.61C453.4 493.59 453.8 491.88 454.2 491.66C454.6 491.45 455 492.44 455.4 492.31C455.8 492.17 456.2 490.88 456.6 490.85C457 490.81 457.4 491.75 457.8 492.08C458.2 492.41 458.6 492.59 459 492.82C459.4 493.05 459.8 493.63 460.2 493.48C460.6 493.33 461 492.01 461.4 491.93C461.8 491.85 462.2 492.88 462.6 493C463 493.11 463.4 492.59 463.8 492.63C464.2 492.66 464.6 493.2 465 493.2C465.4 493.21 465.8 492.63 466.2 492.65C466.6 492.67 467 493.14 467.4 493.3C467.8 493.46 468.2 493.59 468.6 493.62C469 493.65 469.4 493.28 469.8 493.47C470.2 493.66 470.6 494.65 471 494.75C471.4 494.86 471.8 494.2 472.2 494.1C472.6 494.01 473 494.47 473.4 494.21C473.8 493.94 474.2 492.42 474.6 492.52C475 492.61 475.4 494.45 475.8 494.78C476.2 495.1 476.6 494.4 477 494.47C477.4 494.53 477.8 495.28 478.2 495.18C478.6 495.09 479 493.97 479.4 493.88C479.8 493.79 480.2 494.27 480.6 494.64C481 495.02 481.4 496.11 481.8 496.12C482.2 496.12 482.6 494.91 483 494.68C483.4 494.45 483.8 494.69 484.2 494.76C484.6 494.82 485 494.92 485.4 495.07C485.8 495.22 486.2 495.75 486.6 495.65C487 495.56 487.4 494.61 487.8 494.53C488.2 494.44 488.6 495.23 489 495.16C489.4 495.09 489.8 494.32 490.2 494.11C490.6 493.9 491 493.82 491.4 493.9C491.8 493.99 492.2 494.5 492.6 494.64C493 494.77 493.4 494.77 493.8 494.7C494.2 494.62 494.6 494.22 495 494.19C495.4 494.17 495.8 494.43 496.2 494.55C496.6 494.66 497 494.68 497.4 494.9C497.8 495.11 498.2 495.68 498.6 495.86C499 496.05 499.4 495.89 499.8 496C500.2 496.1 500.6 496.5 501 496.5C501.4 496.49 501.8 496.13 502.2 495.96C502.6 495.8 503 495.61 503.4 495.51C503.8 495.41 504.2 495.18 504.6 495.37C505 495.56 505.4 496.51 505.8 496.66C506.2 496.81 506.6 496.24 507 496.27C507.4 496.31 507.8 496.91 508.2 496.85C508.6 496.8 509 496.15 509.4 495.97C509.8 495.79 510.2 495.71 510.6 495.78C511 495.86 511.4 495.95 511.8 496.44C512.2 496.93 512.6 498.62 513 498.72C513.4 498.81 513.8 497.31 514.2 497.01C514.6 496.71 515 496.9 515.4 496.93C515.8 496.95 516.2 497.25 516.6 497.17C517 497.09 517.4 496.23 517.8 496.46C518.2 496.69 518.6 498.55 519 498.55C519.4 498.54 519.8 496.68 520.2 496.44C520.6 496.21 521 496.99 521.4 497.14C521.8 497.3 522.2 497.45 522.6 497.36C523 497.28 523.4 496.65 523.8 496.64C524.2 496.62 524.6 497.18 525 497.27C525.4 497.35 525.8 497.02 526.2 497.15C526.6 497.28 527 497.98 527.4 498.06C527.8 498.14 528.2 497.53 528.6 497.61C529 497.7 529.4 498.38 529.8 498.58C530.2 498.78 530.6 499.13 531 498.83C531.4 498.53 531.8 496.8 532.2 496.77C532.6 496.75 533 498.42 533.4 498.7C533.8 498.98 534.2 498.58 534.6 498.47C535 498.37 535.4 497.92 535.8 498.06C536.2 498.19 536.6 499.14 537 499.27C537.4 499.4 537.8 499.03 538.2 498.83C538.6 498.64 539 498.27 539.4 498.1C539.8 497.93 540.2 497.67 540.6 497.8C541 497.93 541.4 498.6 541.8 498.87C542.2 499.14 542.6 499.49 543 499.44C543.4 499.38 543.8 498.34 544.2 498.54C544.6 498.74 545 500.74 545.4 500.64C545.8 500.53 546.2 498.1 546.6 497.93C547 497.77 547.4 499.46 547.8 499.64C548.2 499.83 548.6 498.9 549 499.03C549.4 499.17 549.8 500.28 550.2 500.46C550.6 500.64 551 500.18 551.4 500.1C551.8 500.03 552.2 500.11 552.6 500C553 499.89 553.4 499.57 553.8 499.46C554.2 499.36 554.6 499.16 555 499.4C555.4 499.63 555.8 500.84 556.2 500.88C556.6 500.92 557 499.78 557.4 499.64C557.8 499.5 558.2 500.07 558.6 500.06C559 500.06 559.4 499.57 559.8 499.59C560.2 499.62 560.6 500.33 561 500.21C561.4 500.09 561.8 498.55 562.2 498.86C562.6 499.16 563 501.58 563.4 502.03C563.8 502.48 564.2 501.92 564.6 501.55C565 501.18 565.4 500.06 565.8 499.8C566.2 499.53 566.6 499.77 567 499.95C567.4 500.13 567.87 500.64 568.2 500.87C568.53 501.1 568.87 501.24 569 501.31" stroke="#f7964a" stroke-width="1.6" fill="none" stroke-linejoin="round"/>
<path d="M84.6 481.79C84.8 477.29 85.57 460.18 85.8 454.8C86.03 449.42 85.8 451.83 86 449.52C86.2 447.2 86.67 443.84 87 440.89C87.33 437.95 87.8 433.28 88 431.86C88.2 430.44 87.97 433.37 88.2 432.38C88.43 431.39 89.1 427.21 89.4 425.93C89.7 424.65 89.8 425.12 90 424.69C90.2 424.26 90.3 423.74 90.6 423.36C90.9 422.98 91.4 422.89 91.8 422.41C92.2 421.93 92.8 420.78 93 420.5C93.2 420.21 92.8 420.68 93 420.7C93.2 420.71 93.8 420.65 94.2 420.57C94.6 420.49 95 420.26 95.4 420.21C95.8 420.17 96.2 420.35 96.6 420.31C97 420.27 97.4 420 97.8 419.99C98.2 419.98 98.63 420.19 99 420.26C99.37 420.33 99.8 420.54 100 420.4C100.2 420.27 99.97 419.62 100.2 419.44C100.43 419.26 101 419.3 101.4 419.31C101.8 419.33 102.2 419.68 102.6 419.53C103 419.38 103.4 418.45 103.8 418.42C104.2 418.38 104.6 419.25 105 419.32C105.4 419.39 105.8 418.95 106.2 418.82C106.6 418.7 107 418.71 107.4 418.6C107.8 418.48 108.2 418.11 108.6 418.14C109 418.16 109.4 418.59 109.8 418.73C110.2 418.88 110.6 419.07 111 419.02C111.4 418.97 111.8 418.57 112.2 418.42C112.6 418.28 113 418.18 113.4 418.15C113.8 418.12 114.33 418.2 114.6 418.25C114.87 418.29 114.8 418.49 115 418.42C115.2 418.36 115.47 417.91 115.8 417.84C116.13 417.78 116.6 418.07 117 418.03C117.4 418 117.8 417.65 118.2 417.64C118.6 417.64 119 417.8 119.4 418C119.8 418.19 120.2 418.83 120.6 418.81C121 418.8 121.4 417.92 121.8 417.9C122.2 417.88 122.6 418.81 123 418.7C123.4 418.58 123.8 417.53 124.2 417.23C124.6 416.93 125 416.9 125.4 416.89C125.8 416.89 126.2 417.14 126.6 417.2C127 417.26 127.4 417.25 127.8 417.26C128.2 417.28 128.63 417.3 129 417.29C129.37 417.28 129.8 417.27 130 417.19C130.2 417.12 129.97 416.8 130.2 416.84C130.43 416.88 131 417.42 131.4 417.44C131.8 417.46 132.2 416.97 132.6 416.96C133 416.94 133.4 417.31 133.8 417.35C134.2 417.39 134.6 417.26 135 417.22C135.4 417.19 135.8 417.14 136.2 417.13C136.6 417.11 137 417.19 137.4 417.11C137.8 417.03 138.2 416.61 138.6 416.64C139 416.67 139.4 417.16 139.8 417.27C140.2 417.38 140.63 417.38 141 417.29C141.37 417.21 141.8 416.59 142 416.76C142.2 416.93 141.97 418.21 142.2 418.32C142.43 418.42 143 417.62 143.4 417.39C143.8 417.16 144.2 416.99 144.6 416.94C145 416.88 145.4 416.93 145.8 417.06C146.2 417.18 146.6 417.65 147 417.69C147.4 417.72 147.8 417.09 148.2 417.28C148.6 417.48 149 418.66 149.4 418.85C149.8 419.03 150.2 418.29 150.6 418.38C151 418.47 151.4 419.31 151.8 419.37C152.2 419.43 152.6 418.68 153 418.76C153.4 418.83 153.8 419.53 154.2 419.82C154.6 420.12 155 420.4 155.4 420.52C155.8 420.64 156.2 420.68 156.6 420.54C157 420.39 157.4 419.6 157.8 419.64C158.2 419.69 158.63 420.61 159 420.81C159.37 421 159.8 420.67 160 420.81C160.2 420.95 159.97 421.51 160.2 421.64C160.43 421.77 161 421.41 161.4 421.57C161.8 421.73 162.2 422.53 162.6 422.62C163 422.7 163.4 422.23 163.8 422.08C164.2 421.94 164.6 421.75 165 421.77C165.4 421.78 165.8 421.87 166.2 422.17C166.6 422.46 167 423.43 167.4 423.53C167.8 423.62 168.2 422.73 168.6 422.75C169 422.76 169.4 423.26 169.8 423.63C170.2 423.99 170.6 424.84 171 424.93C171.4 425.02 171.8 424.31 172.2 424.17C172.6 424.02 173 423.86 173.4 424.04C173.8 424.21 174.2 425.01 174.6 425.22C175 425.43 175.4 425.36 175.8 425.29C176.2 425.22 176.6 424.68 177 424.81C177.4 424.95 177.8 425.88 178.2 426.1C178.6 426.32 179 426.02 179.4 426.12C179.8 426.22 180.2 426.66 180.6 426.69C181 426.72 181.4 426.18 181.8 426.32C182.2 426.46 182.6 427.41 183 427.52C183.4 427.64 183.8 426.9 184.2 427.01C184.6 427.12 185 428.14 185.4 428.2C185.8 428.25 186.2 427.3 186.6 427.33C187 427.35 187.4 428.12 187.8 428.34C188.2 428.57 188.6 428.7 189 428.67C189.4 428.64 189.8 428.25 190.2 428.17C190.6 428.08 191 428.01 191.4 428.17C191.8 428.32 192.2 428.88 192.6 429.08C193 429.27 193.4 429.23 193.8 429.34C194.2 429.45 194.6 429.56 195 429.72C195.4 429.87 195.8 429.93 196.2 430.28C196.6 430.62 197 431.65 197.4 431.78C197.8 431.91 198.2 431.02 198.6 431.07C199 431.12 199.4 431.98 199.8 432.1C200.2 432.21 200.6 431.72 201 431.78C201.4 431.84 201.8 432.34 202.2 432.46C202.6 432.58 203 432.49 203.4 432.51C203.8 432.52 204.2 432.47 204.6 432.56C205 432.66 205.4 432.8 205.8 433.08C206.2 433.36 206.6 434.31 207 434.24C207.4 434.16 207.8 432.7 208.2 432.64C208.6 432.58 209 433.6 209.4 433.89C209.8 434.18 210.2 434.41 210.6 434.39C211 434.37 211.4 433.68 211.8 433.78C212.2 433.87 212.6 434.75 213 434.97C213.4 435.19 213.8 434.94 214.2 435.1C214.6 435.26 215 435.79 215.4 435.93C215.8 436.07 216.2 435.94 216.6 435.93C217 435.93 217.4 435.85 217.8 435.92C218.2 436 218.6 436.46 219 436.38C219.4 436.3 219.8 435.22 220.2 435.46C220.6 435.71 221 437.56 221.4 437.86C221.8 438.17 222.2 437.47 222.6 437.28C223 437.1 223.4 436.77 223.8 436.77C224.2 436.77 224.6 437.09 225 437.29C225.4 437.49 225.8 437.84 226.2 437.97C226.6 438.11 227 437.96 227.4 438.1C227.8 438.23 228.2 438.69 228.6 438.78C229 438.88 229.4 438.53 229.8 438.66C230.2 438.79 230.6 439.45 231 439.57C231.4 439.69 231.8 439.33 232.2 439.39C232.6 439.44 233 439.86 233.4 439.88C233.8 439.91 234.23 439.5 234.6 439.54C234.97 439.58 235.4 439.96 235.6 440.11C235.8 440.26 235.57 440.43 235.8 440.46C236.03 440.48 236.6 440.21 237 440.28C237.4 440.34 237.8 440.72 238.2 440.85C238.6 440.98 239 441.07 239.4 441.04C239.8 441 240.2 440.45 240.6 440.64C241 440.83 241.4 442.1 241.8 442.19C242.2 442.28 242.6 441.07 243 441.19C243.4 441.32 243.8 442.68 244.2 442.95C244.6 443.23 245 442.86 245.4 442.84C245.8 442.82 246.2 442.86 246.6 442.84C247 442.83 247.4 442.82 247.8 442.77C248.2 442.73 248.6 442.38 249 442.59C249.4 442.81 249.8 443.75 250.2 444.07C250.6 444.39 251 444.61 251.4 444.49C251.8 444.38 252.2 443.31 252.6 443.37C253 443.43 253.4 444.63 253.8 444.86C254.2 445.09 254.6 444.75 255 444.75C255.4 444.75 255.8 444.83 256.2 444.86C256.6 444.89 257 444.93 257.4 444.91C257.8 444.89 258.2 444.72 258.6 444.75C259 444.77 259.4 444.95 259.8 445.07C260.2 445.19 260.6 445.26 261 445.46C261.4 445.65 261.8 446.29 262.2 446.24C262.6 446.19 263 445.18 263.4 445.16C263.8 445.15 264.2 446.05 264.6 446.14C265 446.23 265.4 445.66 265.8 445.72C266.2 445.79 266.6 446.39 267 446.53C267.4 446.67 267.8 446.58 268.2 446.58C268.6 446.59 269 446.43 269.4 446.58C269.8 446.73 270.2 447.29 270.6 447.48C271 447.67 271.4 447.82 271.8 447.74C272.2 447.66 272.6 447.05 273 447.01C273.4 446.96 273.8 447.28 274.2 447.49C274.6 447.71 275 448.23 275.4 448.32C275.8 448.42 276.2 448 276.6 448.06C277 448.13 277.4 448.81 277.8 448.7C278.2 448.58 278.6 447.37 279 447.38C279.4 447.4 279.8 448.52 280.2 448.8C280.6 449.08 281 448.93 281.4 449.06C281.8 449.2 282.2 449.31 282.6 449.6C283 449.88 283.4 450.76 283.8 450.79C284.2 450.82 284.6 449.91 285 449.78C285.4 449.66 285.8 449.84 286.2 450.06C286.6 450.28 287 451.01 287.4 451.09C287.8 451.16 288.2 450.45 288.6 450.54C289 450.63 289.4 451.5 289.8 451.65C290.2 451.8 290.6 451.65 291 451.44C291.4 451.23 291.8 450.37 292.2 450.4C292.6 450.43 293 451.26 293.4 451.61C293.8 451.97 294.2 452.46 294.6 452.54C295 452.62 295.4 452.12 295.8 452.09C296.2 452.06 296.6 452.28 297 452.36C297.4 452.43 297.8 452.46 298.2 452.52C298.6 452.59 299 452.57 299.4 452.74C299.8 452.9 300.2 453.41 300.6 453.52C301 453.63 301.4 453.4 301.8 453.4C302.2 453.39 302.6 453.25 303 453.48C303.4 453.7 303.8 454.82 304.2 454.75C304.6 454.69 305 453.25 305.4 453.08C305.8 452.91 306.2 453.54 306.6 453.71C307 453.88 307.4 454.01 307.8 454.11C308.2 454.21 308.6 454.35 309 454.31C309.4 454.27 309.8 453.54 310.2 453.87C310.6 454.2 311 456.07 311.4 456.29C311.8 456.5 312.2 455.24 312.6 455.14C313 455.04 313.4 455.59 313.8 455.67C314.2 455.76 314.6 455.7 315 455.63C315.4 455.56 315.8 455 316.2 455.27C316.6 455.54 317 457.09 317.4 457.25C317.8 457.42 318.2 456.37 318.6 456.27C319 456.16 319.4 456.54 319.8 456.62C320.2 456.7 320.6 456.67 321 456.76C321.4 456.85 321.8 456.97 322.2 457.16C322.6 457.36 323 457.9 323.4 457.95C323.8 457.99 324.2 457.77 324.6 457.45C325 457.12 325.4 455.99 325.8 456.01C326.2 456.04 326.6 457.33 327 457.6C327.4 457.86 327.8 457.44 328.2 457.62C328.6 457.8 329.1 458.55 329.4 458.67C329.7 458.78 329.8 458.27 330 458.29C330.2 458.32 330.3 458.73 330.6 458.82C330.9 458.91 331.4 458.85 331.8 458.82C332.2 458.79 332.6 458.52 333 458.62C333.4 458.72 333.8 459.35 334.2 459.42C334.6 459.49 335 459.16 335.4 459.05C335.8 458.94 336.2 458.81 336.6 458.76C337 458.7 337.4 458.67 337.8 458.74C338.2 458.81 338.6 459.2 339 459.16C339.4 459.12 339.8 458.37 340.2 458.5C340.6 458.63 341 459.65 341.4 459.94C341.8 460.22 342.2 460.27 342.6 460.23C343 460.18 343.4 459.83 343.8 459.67C344.2 459.51 344.6 459.21 345 459.27C345.4 459.33 345.8 459.69 346.2 460.01C346.6 460.33 347 461.06 347.4 461.19C347.8 461.32 348.2 460.81 348.6 460.79C349 460.77 349.4 461 349.8 461.08C350.2 461.17 350.6 461.27 351 461.31C351.4 461.36 351.8 461.33 352.2 461.34C352.6 461.36 353 461.31 353.4 461.41C353.8 461.52 354.2 461.86 354.6 461.98C355 462.09 355.4 462.18 355.8 462.12C356.2 462.05 356.6 461.66 357 461.6C357.4 461.54 357.8 461.66 358.2 461.77C358.6 461.87 359 462.09 359.4 462.23C359.8 462.37 360.2 462.49 360.6 462.6C361 462.71 361.4 462.86 361.8 462.88C362.2 462.89 362.6 462.71 363 462.7C363.4 462.69 363.8 462.86 364.2 462.82C364.6 462.78 365 462.31 365.4 462.48C365.8 462.64 366.2 463.66 366.6 463.81C367 463.96 367.4 463.36 367.8 463.38C368.2 463.4 368.6 463.88 369 463.91C369.4 463.94 369.8 463.64 370.2 463.54C370.6 463.43 371 463.27 371.4 463.3C371.8 463.33 372.2 463.62 372.6 463.72C373 463.81 373.4 463.72 373.8 463.86C374.2 464 374.6 464.49 375 464.56C375.4 464.63 375.8 464.17 376.2 464.27C376.6 464.37 377 465.03 377.4 465.16C377.8 465.29 378.2 464.87 378.6 465.05C379 465.22 379.4 466.32 379.8 466.19C380.2 466.05 380.6 464.29 381 464.25C381.4 464.21 381.8 465.79 382.2 465.94C382.6 466.09 383 465.2 383.4 465.13C383.8 465.06 384.2 465.42 384.6 465.54C385 465.66 385.4 465.71 385.8 465.86C386.2 466 386.6 466.39 387 466.42C387.4 466.46 387.8 466.14 388.2 466.06C388.6 465.99 389 465.77 389.4 465.96C389.8 466.15 390.2 467.15 390.6 467.18C391 467.22 391.4 466.16 391.8 466.15C392.2 466.14 392.6 467.04 393 467.13C393.4 467.23 393.8 466.63 394.2 466.71C394.6 466.78 395 467.5 395.4 467.57C395.8 467.63 396.2 467.21 396.6 467.09C397 466.97 397.4 466.89 397.8 466.85C398.2 466.81 398.6 466.79 399 466.85C399.4 466.92 399.8 467.02 400.2 467.23C400.6 467.43 401 467.85 401.4 468.08C401.8 468.31 402.2 468.59 402.6 468.59C403 468.59 403.4 468.12 403.8 468.08C404.2 468.04 404.6 468.44 405 468.36C405.4 468.28 405.8 467.6 406.2 467.61C406.6 467.62 407 468.15 407.4 468.41C407.8 468.68 408.2 469.05 408.6 469.2C409 469.36 409.4 469.48 409.8 469.33C410.2 469.19 410.6 468.42 411 468.34C411.4 468.27 411.8 468.79 412.2 468.9C412.6 469.01 413 468.88 413.4 468.99C413.8 469.11 414.2 469.54 414.6 469.58C415 469.62 415.4 469.21 415.8 469.24C416.2 469.26 416.6 469.53 417 469.75C417.4 469.97 417.8 470.49 418.2 470.56C418.6 470.62 419 470.22 419.4 470.13C419.8 470.05 420.2 469.98 420.6 470.03C421 470.08 421.4 470.47 421.8 470.44C422.2 470.4 422.6 469.76 423 469.79C423.4 469.83 423.8 470.45 424.2 470.63C424.6 470.81 425 470.68 425.4 470.88C425.8 471.07 426.2 471.84 426.6 471.8C427 471.76 427.4 470.64 427.8 470.64C428.2 470.65 428.6 471.64 429 471.82C429.4 472 429.8 471.62 430.2 471.73C430.6 471.84 431 472.36 431.4 472.5C431.8 472.63 432.2 472.58 432.6 472.53C433 472.47 433.4 472.26 433.8 472.16C434.2 472.07 434.6 471.82 435 471.96C435.4 472.11 435.8 472.8 436.2 473.03C436.6 473.25 437 473.41 437.4 473.31C437.8 473.22 438.2 472.42 438.6 472.46C439 472.51 439.4 473.51 439.8 473.59C440.2 473.67 440.6 472.96 441 472.95C441.4 472.93 441.8 473.55 442.2 473.51C442.6 473.46 443 472.67 443.4 472.7C443.8 472.72 444.2 473.51 444.6 473.65C445 473.79 445.4 473.53 445.8 473.53C446.2 473.53 446.6 473.65 447 473.65C447.4 473.64 447.8 473.48 448.2 473.49C448.6 473.5 449.1 473.56 449.4 473.7C449.7 473.84 449.8 474.29 450 474.33C450.2 474.37 450.3 474.12 450.6 473.95C450.9 473.78 451.4 473.33 451.8 473.3C452.2 473.28 452.6 473.5 453 473.8C453.4 474.1 453.8 474.98 454.2 475.11C454.6 475.24 455 474.66 455.4 474.58C455.8 474.49 456.2 474.42 456.6 474.59C457 474.76 457.4 475.69 457.8 475.59C458.2 475.48 458.6 474.17 459 473.98C459.4 473.8 459.8 474.24 460.2 474.49C460.6 474.74 461 475.25 461.4 475.47C461.8 475.69 462.2 475.82 462.6 475.83C463 475.84 463.4 475.68 463.8 475.53C464.2 475.38 464.6 474.81 465 474.9C465.4 475 465.8 475.95 466.2 476.1C466.6 476.26 467 475.95 467.4 475.83C467.8 475.71 468.2 475.55 468.6 475.39C469 475.23 469.4 474.76 469.8 474.88C470.2 474.99 470.6 475.92 471 476.07C471.4 476.23 471.8 475.85 472.2 475.8C472.6 475.76 473 475.78 473.4 475.82C473.8 475.85 474.2 475.92 474.6 476.01C475 476.1 475.4 476.27 475.8 476.34C476.2 476.4 476.6 476.3 477 476.38C477.4 476.46 477.8 476.62 478.2 476.82C478.6 477.02 479 477.73 479.4 477.57C479.8 477.42 480.2 476.05 480.6 475.89C481 475.74 481.4 476.41 481.8 476.64C482.2 476.86 482.6 477.13 483 477.25C483.4 477.37 483.8 477.3 484.2 477.38C484.6 477.46 485 477.72 485.4 477.73C485.8 477.75 486.2 477.5 486.6 477.48C487 477.46 487.4 477.53 487.8 477.61C488.2 477.69 488.6 477.84 489 477.98C489.4 478.13 489.8 478.4 490.2 478.46C490.6 478.53 491 478.46 491.4 478.38C491.8 478.3 492.2 477.94 492.6 477.99C493 478.04 493.4 478.57 493.8 478.67C494.2 478.78 494.6 478.71 495 478.63C495.4 478.54 495.8 478.09 496.2 478.16C496.6 478.24 497 478.92 497.4 479.09C497.8 479.25 498.2 479.27 498.6 479.16C499 479.05 499.4 478.36 499.8 478.41C500.2 478.47 500.6 479.41 501 479.51C501.4 479.61 501.8 478.88 502.2 479C502.6 479.13 503 480.27 503.4 480.25C503.8 480.22 504.2 479 504.6 478.87C505 478.74 505.4 479.36 505.8 479.47C506.2 479.58 506.6 479.56 507 479.51C507.4 479.47 507.8 479.2 508.2 479.21C508.6 479.22 509 479.43 509.4 479.57C509.8 479.71 510.2 480 510.6 480.05C511 480.1 511.4 479.84 511.8 479.88C512.2 479.93 512.6 480.29 513 480.32C513.4 480.34 513.8 479.98 514.2 480.03C514.6 480.08 515 480.49 515.4 480.59C515.8 480.7 516.2 480.74 516.6 480.67C517 480.59 517.4 480.35 517.8 480.15C518.2 479.94 518.6 479.27 519 479.43C519.4 479.59 519.8 480.91 520.2 481.08C520.6 481.26 521 480.87 521.4 480.49C521.8 480.11 522.2 478.59 522.6 478.8C523 479 523.4 481.32 523.8 481.72C524.2 482.12 524.6 481.19 525 481.21C525.4 481.23 525.8 481.69 526.2 481.83C526.6 481.97 527 481.8 527.4 482.05C527.8 482.3 528.2 483.33 528.6 483.33C529 483.33 529.4 482.18 529.8 482.04C530.2 481.89 530.6 482.34 531 482.46C531.4 482.59 531.8 482.68 532.2 482.78C532.6 482.89 533 483.19 533.4 483.11C533.8 483.03 534.2 482.39 534.6 482.3C535 482.21 535.4 482.44 535.8 482.55C536.2 482.66 536.6 483.06 537 482.96C537.4 482.87 537.8 481.96 538.2 481.98C538.6 482 539 482.82 539.4 483.1C539.8 483.39 540.2 483.69 540.6 483.69C541 483.7 541.4 483.13 541.8 483.12C542.2 483.11 542.6 483.69 543 483.64C543.4 483.6 543.8 482.82 544.2 482.85C544.6 482.89 545 483.87 545.4 483.84C545.8 483.82 546.2 482.75 546.6 482.69C547 482.62 547.4 483.18 547.8 483.46C548.2 483.73 548.6 484.31 549 484.32C549.4 484.33 549.8 483.51 550.2 483.5C550.6 483.49 551 484.26 551.4 484.27C551.8 484.28 552.2 483.56 552.6 483.55C553 483.55 553.4 484.11 553.8 484.25C554.2 484.39 554.6 484.38 555 484.39C555.4 484.39 555.8 484.33 556.2 484.29C556.6 484.24 557 484.09 557.4 484.12C557.8 484.15 558.2 484.46 558.6 484.48C559 484.51 559.4 484.27 559.8 484.27C560.2 484.27 560.6 484.44 561 484.46C561.4 484.49 561.8 484.35 562.2 484.43C562.6 484.52 563 484.76 563.4 485C563.8 485.23 564.2 485.59 564.6 485.86C565 486.13 565.4 486.63 565.8 486.61C566.2 486.6 566.6 485.91 567 485.78C567.4 485.65 567.87 485.92 568.2 485.84C568.53 485.76 568.87 485.37 569 485.27" stroke="#a7d7e6" stroke-width="1.6" fill="none" stroke-linejoin="round"/>
<path d="M84.6 480.8C84.75 477.36 85.3 464.55 85.5 460.13C85.7 455.72 85.63 457.74 85.8 454.3C85.97 450.87 86.3 442.5 86.5 439.51C86.7 436.53 86.83 437.61 87 436.38C87.17 435.15 87.3 433.27 87.5 432.13C87.7 430.99 87.88 430.83 88.2 429.54C88.52 428.24 89.1 425.58 89.4 424.38C89.7 423.19 89.8 423.04 90 422.38C90.2 421.72 90.3 420.82 90.6 420.42C90.9 420.01 91.48 420.26 91.8 419.95C92.12 419.65 92.3 419.03 92.5 418.6C92.7 418.17 92.72 417.59 93 417.35C93.28 417.11 93.8 417.34 94.2 417.15C94.6 416.96 95 416.69 95.4 416.21C95.8 415.73 96.2 414.55 96.6 414.28C97 414.02 97.45 414.77 97.8 414.62C98.15 414.48 98.5 413.59 98.7 413.41C98.9 413.22 98.75 413.56 99 413.5C99.25 413.43 99.8 413.14 100.2 413.02C100.6 412.91 101 412.85 101.4 412.81C101.8 412.76 102.2 412.81 102.6 412.75C103 412.7 103.4 412.7 103.8 412.46C104.2 412.23 104.6 411.46 105 411.33C105.4 411.2 105.8 411.76 106.2 411.68C106.6 411.59 107 411.02 107.4 410.83C107.8 410.65 108.2 410.59 108.6 410.57C109 410.55 109.4 410.65 109.8 410.73C110.2 410.81 110.8 411 111 411.03C111.2 411.06 110.8 411.06 111 410.92C111.2 410.77 111.8 410.3 112.2 410.13C112.6 409.97 113 409.99 113.4 409.92C113.8 409.84 114.2 409.68 114.6 409.69C115 409.71 115.4 409.92 115.8 410.01C116.2 410.11 116.6 410.31 117 410.25C117.4 410.18 117.8 409.7 118.2 409.62C118.6 409.55 119 409.83 119.4 409.8C119.8 409.77 120.2 409.43 120.6 409.44C121 409.46 121.4 410.12 121.8 409.87C122.2 409.63 122.6 408.31 123 407.95C123.4 407.6 123.8 407.63 124.2 407.73C124.6 407.82 125 408.35 125.4 408.53C125.8 408.71 126.2 408.86 126.6 408.78C127 408.71 127.4 408.17 127.8 408.1C128.2 408.02 128.63 408.46 129 408.35C129.37 408.24 129.8 407.58 130 407.41C130.2 407.25 129.97 407.33 130.2 407.36C130.43 407.39 131 407.42 131.4 407.58C131.8 407.74 132.2 408.21 132.6 408.31C133 408.41 133.4 408.34 133.8 408.19C134.2 408.04 134.6 407.49 135 407.44C135.4 407.38 135.8 407.84 136.2 407.83C136.6 407.82 137 407.4 137.4 407.37C137.8 407.34 138.2 407.71 138.6 407.65C139 407.6 139.4 407.06 139.8 407.03C140.2 407.01 140.63 407.5 141 407.52C141.37 407.53 141.8 407.13 142 407.13C142.2 407.13 141.97 407.47 142.2 407.51C142.43 407.56 143 407.41 143.4 407.42C143.8 407.42 144.2 407.4 144.6 407.54C145 407.67 145.4 408.1 145.8 408.21C146.2 408.32 146.6 408.13 147 408.19C147.4 408.25 147.8 408.52 148.2 408.58C148.6 408.64 149 408.45 149.4 408.56C149.8 408.68 150.2 409.25 150.6 409.29C151 409.32 151.4 408.7 151.8 408.78C152.2 408.86 152.6 409.53 153 409.78C153.4 410.03 153.8 410.28 154.2 410.27C154.6 410.25 155 409.57 155.4 409.67C155.8 409.78 156.2 410.63 156.6 410.89C157 411.15 157.4 411.28 157.8 411.24C158.2 411.2 158.63 410.87 159 410.65C159.37 410.43 159.8 410.06 160 409.92C160.2 409.78 159.97 409.69 160.2 409.83C160.43 409.96 161 410.4 161.4 410.75C161.8 411.1 162.2 411.8 162.6 411.93C163 412.06 163.4 411.55 163.8 411.53C164.2 411.52 164.6 411.83 165 411.83C165.4 411.83 165.8 411.59 166.2 411.53C166.6 411.47 167 411.37 167.4 411.49C167.8 411.61 168.2 412.21 168.6 412.25C169 412.29 169.4 411.69 169.8 411.71C170.2 411.73 170.6 412.17 171 412.37C171.4 412.57 171.8 412.84 172.2 412.93C172.6 413.02 173 412.83 173.4 412.9C173.8 412.97 174.2 413.32 174.6 413.34C175 413.37 175.4 412.99 175.8 413.06C176.2 413.14 176.6 413.65 177 413.79C177.4 413.93 177.8 414.02 178.2 413.9C178.6 413.78 179.1 413.14 179.4 413.07C179.7 413 179.8 413.36 180 413.48C180.2 413.6 180.3 413.57 180.6 413.78C180.9 413.99 181.4 414.57 181.8 414.75C182.2 414.93 182.6 414.79 183 414.85C183.4 414.91 183.8 415.04 184.2 415.12C184.6 415.21 185 415.23 185.4 415.35C185.8 415.47 186.2 415.7 186.6 415.86C187 416.02 187.4 416.3 187.8 416.3C188.2 416.29 188.6 415.94 189 415.83C189.4 415.71 189.8 415.39 190.2 415.59C190.6 415.78 191 416.79 191.4 417C191.8 417.21 192.2 416.8 192.6 416.84C193 416.88 193.4 417.15 193.8 417.25C194.2 417.35 194.6 417.42 195 417.42C195.4 417.42 195.8 417.25 196.2 417.23C196.6 417.21 197 417.05 197.4 417.31C197.8 417.58 198.2 418.52 198.6 418.83C199 419.14 199.4 419.09 199.8 419.18C200.2 419.27 200.6 419.36 201 419.38C201.4 419.4 201.8 419.26 202.2 419.29C202.6 419.33 203 419.56 203.4 419.61C203.8 419.65 204.2 419.47 204.6 419.54C205 419.62 205.4 419.97 205.8 420.07C206.2 420.16 206.6 420.07 207 420.11C207.4 420.15 207.8 420.18 208.2 420.32C208.6 420.47 209 420.7 209.4 420.98C209.8 421.26 210.2 422.08 210.6 422C211 421.92 211.4 420.49 211.8 420.49C212.2 420.5 212.6 421.71 213 422.02C213.4 422.32 213.8 422.39 214.2 422.33C214.6 422.28 215 421.61 215.4 421.67C215.8 421.73 216.2 422.51 216.6 422.71C217 422.92 217.4 422.86 217.8 422.89C218.2 422.92 218.6 422.84 219 422.89C219.4 422.93 219.8 423.14 220.2 423.15C220.6 423.17 221 422.7 221.4 422.98C221.8 423.25 222.2 424.41 222.6 424.81C223 425.22 223.4 425.33 223.8 425.41C224.2 425.5 224.6 425.44 225 425.31C225.4 425.19 225.8 424.67 226.2 424.66C226.6 424.64 227 425.08 227.4 425.23C227.8 425.37 228.2 425.55 228.6 425.55C229 425.55 229.4 425.2 229.8 425.24C230.2 425.28 230.6 425.59 231 425.8C231.4 426 231.8 426.39 232.2 426.47C232.6 426.55 233 426.37 233.4 426.27C233.8 426.18 234.23 425.87 234.6 425.89C234.97 425.9 235.4 426.15 235.6 426.37C235.8 426.58 235.57 427.04 235.8 427.16C236.03 427.28 236.6 427.06 237 427.08C237.4 427.11 237.8 427.11 238.2 427.32C238.6 427.53 239 428.26 239.4 428.36C239.8 428.47 240.2 428.04 240.6 427.94C241 427.84 241.4 427.7 241.8 427.76C242.2 427.82 242.6 427.99 243 428.3C243.4 428.61 243.8 429.64 244.2 429.63C244.6 429.61 245 428.16 245.4 428.2C245.8 428.24 246.2 429.59 246.6 429.87C247 430.16 247.4 430.01 247.8 429.92C248.2 429.83 248.6 429.41 249 429.33C249.4 429.26 249.8 429.26 250.2 429.46C250.6 429.66 251 430.43 251.4 430.55C251.8 430.68 252.2 430.27 252.6 430.18C253 430.09 253.4 429.81 253.8 430.01C254.2 430.22 254.6 431.27 255 431.41C255.4 431.54 255.8 430.85 256.2 430.8C256.6 430.74 257 431.03 257.4 431.09C257.8 431.15 258.2 431.14 258.6 431.16C259 431.18 259.4 431.13 259.8 431.21C260.2 431.29 260.6 431.57 261 431.64C261.4 431.7 261.8 431.5 262.2 431.61C262.6 431.71 263 432.07 263.4 432.26C263.8 432.45 264.2 432.63 264.6 432.75C265 432.87 265.4 432.9 265.8 432.98C266.2 433.06 266.6 433.14 267 433.25C267.4 433.36 267.8 433.58 268.2 433.62C268.6 433.65 269 433.57 269.4 433.47C269.8 433.36 270.2 432.91 270.6 433C271 433.09 271.4 434.02 271.8 434C272.2 433.99 272.6 432.98 273 432.91C273.4 432.84 273.8 433.36 274.2 433.59C274.6 433.83 275 434.32 275.4 434.31C275.8 434.3 276.2 433.37 276.6 433.54C277 433.71 277.4 435.21 277.8 435.34C278.2 435.46 278.6 434.48 279 434.31C279.4 434.13 279.8 434.19 280.2 434.28C280.6 434.38 281 434.73 281.4 434.87C281.8 435 282.2 434.95 282.6 435.08C283 435.22 283.4 435.54 283.8 435.67C284.2 435.79 284.6 435.66 285 435.82C285.4 435.98 285.8 436.56 286.2 436.63C286.6 436.7 287 436.24 287.4 436.25C287.8 436.25 288.2 436.63 288.6 436.63C289 436.64 289.4 436.17 289.8 436.27C290.2 436.36 290.6 437.14 291 437.23C291.4 437.32 291.8 436.94 292.2 436.81C292.6 436.67 293 436.19 293.4 436.43C293.8 436.68 294.2 438.13 294.6 438.28C295 438.42 295.4 437.44 295.8 437.31C296.2 437.19 296.6 437.43 297 437.51C297.4 437.6 297.8 437.62 298.2 437.83C298.6 438.05 299 438.8 299.4 438.81C299.8 438.83 300.2 437.96 300.6 437.94C301 437.93 301.4 438.48 301.8 438.72C302.2 438.97 302.6 439.16 303 439.43C303.4 439.69 303.8 440.3 304.2 440.3C304.6 440.3 305 439.51 305.4 439.43C305.8 439.34 306.2 439.79 306.6 439.81C307 439.84 307.4 439.34 307.8 439.57C308.2 439.8 308.6 441.08 309 441.21C309.4 441.34 309.8 440.46 310.2 440.36C310.6 440.27 311 440.52 311.4 440.62C311.8 440.72 312.2 440.94 312.6 440.94C313 440.94 313.4 440.57 313.8 440.62C314.2 440.68 314.6 441.25 315 441.29C315.4 441.34 315.8 440.69 316.2 440.88C316.6 441.08 317 442.31 317.4 442.48C317.8 442.64 318.2 441.94 318.6 441.87C319 441.81 319.4 441.9 319.8 442.08C320.2 442.26 320.6 442.98 321 442.96C321.4 442.95 321.8 441.9 322.2 441.99C322.6 442.08 323 443.21 323.4 443.51C323.8 443.81 324.2 443.9 324.6 443.79C325 443.68 325.4 442.86 325.8 442.86C326.2 442.86 326.6 443.68 327 443.81C327.4 443.93 327.8 443.54 328.2 443.63C328.6 443.72 329.1 444.27 329.4 444.33C329.7 444.4 329.8 444.14 330 444.02C330.2 443.9 330.3 443.54 330.6 443.63C330.9 443.72 331.4 444.44 331.8 444.55C332.2 444.66 332.6 444.27 333 444.29C333.4 444.31 333.8 444.5 334.2 444.65C334.6 444.8 335 445.07 335.4 445.21C335.8 445.35 336.2 445.46 336.6 445.49C337 445.51 337.4 445.52 337.8 445.35C338.2 445.19 338.6 444.43 339 444.49C339.4 444.55 339.8 445.56 340.2 445.71C340.6 445.85 341 445.28 341.4 445.37C341.8 445.45 342.2 446.15 342.6 446.22C343 446.28 343.4 445.66 343.8 445.74C344.2 445.82 344.6 446.6 345 446.71C345.4 446.83 345.8 446.48 346.2 446.42C346.6 446.35 347 446.29 347.4 446.32C347.8 446.35 348.2 446.72 348.6 446.63C349 446.53 349.4 445.68 349.8 445.76C350.2 445.83 350.6 446.88 351 447.09C351.4 447.3 351.8 447.1 352.2 447.02C352.6 446.93 353 446.49 353.4 446.57C353.8 446.65 354.2 447.31 354.6 447.48C355 447.65 355.4 447.55 355.8 447.6C356.2 447.65 356.6 447.76 357 447.78C357.4 447.8 357.8 447.61 358.2 447.7C358.6 447.79 359 448.18 359.4 448.31C359.8 448.44 360.2 448.49 360.6 448.48C361 448.48 361.4 448.31 361.8 448.29C362.2 448.27 362.6 448.36 363 448.37C363.4 448.38 363.8 448.32 364.2 448.33C364.6 448.34 365 448.28 365.4 448.42C365.8 448.56 366.2 449.13 366.6 449.19C367 449.24 367.4 448.88 367.8 448.77C368.2 448.65 368.6 448.37 369 448.49C369.4 448.61 369.8 449.22 370.2 449.48C370.6 449.75 371 450.06 371.4 450.07C371.8 450.08 372.2 449.51 372.6 449.54C373 449.58 373.4 450.16 373.8 450.27C374.2 450.39 374.6 450.34 375 450.24C375.4 450.14 375.8 449.62 376.2 449.66C376.6 449.7 377 450.35 377.4 450.48C377.8 450.61 378.2 450.34 378.6 450.43C379 450.51 379.4 451.15 379.8 450.98C380.2 450.81 380.6 449.34 381 449.41C381.4 449.47 381.8 451.03 382.2 451.38C382.6 451.72 383 451.58 383.4 451.49C383.8 451.4 384.2 450.74 384.6 450.82C385 450.9 385.4 451.86 385.8 451.97C386.2 452.09 386.6 451.54 387 451.52C387.4 451.5 387.8 451.71 388.2 451.85C388.6 451.99 389 452.2 389.4 452.35C389.8 452.5 390.2 452.76 390.6 452.75C391 452.75 391.4 452.33 391.8 452.33C392.2 452.33 392.6 452.67 393 452.74C393.4 452.82 393.8 452.85 394.2 452.78C394.6 452.72 395 452.2 395.4 452.36C395.8 452.51 396.2 453.52 396.6 453.7C397 453.88 397.4 453.5 397.8 453.43C398.2 453.36 398.6 453.2 399 453.28C399.4 453.36 399.8 453.82 400.2 453.9C400.6 453.99 401 453.88 401.4 453.8C401.8 453.71 402.2 453.32 402.6 453.41C403 453.5 403.4 454.24 403.8 454.35C404.2 454.45 404.6 454.02 405 454.04C405.4 454.06 405.8 454.35 406.2 454.48C406.6 454.61 407 454.73 407.4 454.81C407.8 454.89 408.2 454.83 408.6 454.96C409 455.09 409.4 455.6 409.8 455.59C410.2 455.58 410.6 455.03 411 454.91C411.4 454.79 411.8 454.91 412.2 454.89C412.6 454.86 413 454.75 413.4 454.77C413.8 454.78 414.2 454.81 414.6 454.98C415 455.15 415.4 455.65 415.8 455.79C416.2 455.93 416.6 455.9 417 455.83C417.4 455.75 417.8 455.38 418.2 455.34C418.6 455.31 419 455.54 419.4 455.63C419.8 455.72 420.2 455.64 420.6 455.88C421 456.11 421.4 457.02 421.8 457.03C422.2 457.05 422.6 456 423 455.95C423.4 455.91 423.8 456.76 424.2 456.76C424.6 456.75 425 455.92 425.4 455.93C425.8 455.93 426.2 456.48 426.6 456.78C427 457.09 427.4 457.78 427.8 457.75C428.2 457.72 428.6 456.56 429 456.59C429.4 456.63 429.8 457.95 430.2 457.96C430.6 457.96 431 456.63 431.4 456.6C431.8 456.56 432.2 457.61 432.6 457.73C433 457.85 433.4 457.26 433.8 457.31C434.2 457.36 434.6 457.88 435 458.01C435.4 458.13 435.8 457.94 436.2 458.06C436.6 458.18 437 458.65 437.4 458.75C437.8 458.84 438.2 458.63 438.6 458.63C439 458.63 439.4 458.76 439.8 458.74C440.2 458.73 440.6 458.47 441 458.55C441.4 458.62 441.8 459.17 442.2 459.2C442.6 459.24 443 458.78 443.4 458.74C443.8 458.7 444.2 458.91 444.6 458.98C445 459.05 445.4 458.99 445.8 459.15C446.2 459.3 446.6 459.61 447 459.9C447.4 460.2 447.8 460.91 448.2 460.91C448.6 460.91 449.1 459.9 449.4 459.91C449.7 459.92 449.8 461.03 450 460.98C450.2 460.92 450.3 459.75 450.6 459.58C450.9 459.4 451.4 459.75 451.8 459.92C452.2 460.09 452.6 460.46 453 460.61C453.4 460.75 453.8 460.72 454.2 460.78C454.6 460.85 455 460.87 455.4 460.99C455.8 461.11 456.2 461.57 456.6 461.53C457 461.49 457.4 460.77 457.8 460.77C458.2 460.77 458.6 461.46 459 461.55C459.4 461.63 459.8 461.54 460.2 461.26C460.6 460.98 461 459.91 461.4 459.86C461.8 459.8 462.2 460.67 462.6 460.9C463 461.14 463.4 461.13 463.8 461.27C464.2 461.4 464.6 461.59 465 461.72C465.4 461.85 465.8 462.05 466.2 462.06C466.6 462.07 467 461.68 467.4 461.79C467.8 461.9 468.2 462.72 468.6 462.71C469 462.7 469.4 461.77 469.8 461.7C470.2 461.63 470.6 462.1 471 462.3C471.4 462.51 471.8 462.96 472.2 462.91C472.6 462.86 473 461.95 473.4 462.02C473.8 462.09 474.2 463.12 474.6 463.34C475 463.55 475.4 463.39 475.8 463.32C476.2 463.24 476.6 462.93 477 462.89C477.4 462.86 477.8 463.06 478.2 463.11C478.6 463.16 479 463.15 479.4 463.19C479.8 463.24 480.2 463.22 480.6 463.38C481 463.53 481.4 464.03 481.8 464.12C482.2 464.2 482.6 464.06 483 463.89C483.4 463.71 483.8 463.2 484.2 463.07C484.6 462.94 485 462.91 485.4 463.12C485.8 463.33 486.2 464.37 486.6 464.32C487 464.28 487.4 462.98 487.8 462.84C488.2 462.7 488.6 463.29 489 463.5C489.4 463.71 489.8 463.93 490.2 464.11C490.6 464.28 491 464.32 491.4 464.53C491.8 464.74 492.2 465.29 492.6 465.35C493 465.41 493.4 464.67 493.8 464.89C494.2 465.12 494.6 466.64 495 466.69C495.4 466.73 495.8 465.35 496.2 465.17C496.6 464.99 497 465.51 497.4 465.62C497.8 465.73 498.2 465.87 498.6 465.83C499 465.8 499.4 465.37 499.8 465.4C500.2 465.44 500.6 465.96 501 466.06C501.4 466.17 501.8 466.03 502.2 466.02C502.6 466 503 466.03 503.4 465.97C503.8 465.91 504.2 465.68 504.6 465.67C505 465.65 505.4 465.74 505.8 465.9C506.2 466.06 506.6 466.56 507 466.64C507.4 466.72 507.8 466.35 508.2 466.36C508.6 466.37 509 466.63 509.4 466.71C509.8 466.79 510.2 466.8 510.6 466.84C511 466.87 511.4 466.89 511.8 466.91C512.2 466.92 512.6 466.84 513 466.91C513.4 466.98 513.8 467.21 514.2 467.32C514.6 467.43 515 467.47 515.4 467.58C515.8 467.68 516.2 467.96 516.6 467.98C517 467.99 517.4 467.79 517.8 467.67C518.2 467.56 518.6 467.33 519 467.27C519.4 467.22 519.8 467.2 520.2 467.35C520.6 467.49 521 468.16 521.4 468.13C521.8 468.11 522.2 467.24 522.6 467.19C523 467.13 523.4 467.56 523.8 467.82C524.2 468.08 524.6 468.67 525 468.73C525.4 468.79 525.8 468.27 526.2 468.18C526.6 468.08 527 467.97 527.4 468.15C527.8 468.32 528.2 469.34 528.6 469.22C529 469.1 529.4 467.48 529.8 467.41C530.2 467.35 530.6 468.6 531 468.83C531.4 469.05 531.8 468.76 532.2 468.77C532.6 468.78 533 468.73 533.4 468.88C533.8 469.04 534.2 469.5 534.6 469.71C535 469.92 535.4 470.07 535.8 470.14C536.2 470.2 536.6 470.11 537 470.09C537.4 470.06 537.8 469.99 538.2 469.96C538.6 469.94 539 469.97 539.4 469.95C539.8 469.92 540.2 469.78 540.6 469.79C541 469.81 541.4 470.12 541.8 470.05C542.2 469.98 542.6 469.37 543 469.37C543.4 469.37 543.8 469.82 544.2 470.05C544.6 470.27 545 470.66 545.4 470.74C545.8 470.81 546.2 470.45 546.6 470.51C547 470.57 547.4 471.19 547.8 471.11C548.2 471.04 548.6 470.13 549 470.06C549.4 469.99 549.8 470.59 550.2 470.68C550.6 470.77 551 470.42 551.4 470.59C551.8 470.77 552.2 471.64 552.6 471.75C553 471.85 553.4 471.29 553.8 471.23C554.2 471.16 554.6 471.38 555 471.34C555.4 471.3 555.8 470.98 556.2 471.01C556.6 471.04 557 471.44 557.4 471.5C557.8 471.56 558.2 471.34 558.6 471.38C559 471.42 559.4 471.42 559.8 471.73C560.2 472.04 560.6 473.23 561 473.23C561.4 473.22 561.8 471.86 562.2 471.7C562.6 471.54 563 472.21 563.4 472.27C563.8 472.34 564.2 471.92 564.6 472.09C565 472.26 565.4 473.28 565.8 473.32C566.2 473.35 566.6 472.45 567 472.31C567.4 472.18 567.87 472.35 568.2 472.5C568.53 472.64 568.87 473.08 569 473.2" stroke="#a000d0" stroke-width="1.6" fill="none" stroke-linejoin="round"/>
</g>
<line x1="178.5" y1="567.5" x2="202.3" y2="534.7" stroke="#000080" stroke-width="1.0"/>
<path d="M202.3 534.7L200.62 542.13L195.76 538.6Z" fill="#000080"/>
<line x1="211.4" y1="585.5" x2="229.6" y2="557" stroke="#1a70f5" stroke-width="1.0"/>
<path d="M229.6 557L228.36 564.51L223.3 561.29Z" fill="#1a70f5"/>
<line x1="296.8" y1="593" x2="317.6" y2="570" stroke="#30a8c8" stroke-width="1.0"/>
<path d="M317.6 570L315.13 577.2L310.68 573.18Z" fill="#30a8c8"/>
<line x1="289" y1="640.6" x2="431.5" y2="557" stroke="#60cc60" stroke-width="0.9"/>
<path d="M431.5 557L426.98 563.13L423.94 557.95Z" fill="#60cc60"/>
<line x1="325" y1="650" x2="446.7" y2="578" stroke="#008000" stroke-width="0.9"/>
<path d="M446.7 578L442.2 584.15L439.15 578.98Z" fill="#008000"/>
<line x1="96.6" y1="628" x2="116" y2="683" stroke="#8b0000" stroke-width="1.0"/>
<path d="M116 683L110.84 677.4L116.5 675.4Z" fill="#8b0000"/>
<line x1="86" y1="647.3" x2="108.9" y2="706" stroke="#ff0000" stroke-width="1.0"/>
<path d="M108.9 706L103.56 700.57L109.15 698.39Z" fill="#ff0000"/>
<text transform="translate(126.1 398) scale(1.087 1)" font-size="17" font-weight="bold" fill="#a000d0">ZrO<tspan font-size="17" dy="4.2">2</tspan><tspan font-size="17" dy="-13.2">−</tspan></text>
<text transform="translate(575.1 487.5) scale(1.03 1)" font-size="18" font-weight="bold" fill="#a7d7e6">O<tspan font-size="18" dy="4.4">2</tspan><tspan font-size="18" dy="-13.2">−</tspan></text>
<text transform="translate(569.8 508.4) scale(1.087 1)" font-size="17" font-weight="bold" fill="#f7964a">FeO<tspan font-size="16.5" dy="-7.3">2-</tspan></text>
<text transform="translate(102.5 525.5) scale(1.087 1)" font-size="17" font-weight="bold" fill="#d9600c">Fe<tspan font-size="17" dy="4.2">2</tspan><tspan font-size="17" dy="-12.2">−</tspan></text>
<text transform="translate(191.6 534.3) scale(1.087 1)" font-size="17" font-weight="bold" fill="#000080">Zr<tspan font-size="17" dy="4.2">2</tspan><tspan dy="-4.2">O</tspan><tspan font-size="17" dy="4.2">5</tspan><tspan dy="-4.2">H</tspan><tspan font-size="17" dy="4.2">3</tspan><tspan font-size="17" dy="-12.2">−</tspan></text>
<text transform="translate(237.8 554.6) scale(1.087 1)" font-size="17" font-weight="bold" fill="#1a70f5">Zr<tspan font-size="17" dy="4.2">2</tspan><tspan dy="-4.2">O</tspan><tspan font-size="17" dy="4.2">4</tspan><tspan dy="-4.2">H</tspan><tspan font-size="17" dy="4.2">4</tspan><tspan dy="-4.2">F</tspan><tspan font-size="17" dy="-8">−</tspan></text>
<text transform="translate(319.5 570) scale(1.087 1)" font-size="17" font-weight="bold" fill="#30a8c8">Zr<tspan font-size="17" dy="4.2">2</tspan><tspan dy="-4.2">O</tspan><tspan font-size="17" dy="4.2">4</tspan><tspan dy="-4.2">H</tspan><tspan font-size="17" dy="4.2">2</tspan><tspan dy="-4.2">F</tspan><tspan font-size="17" dy="-8">−</tspan></text>
<text transform="translate(435.6 557.8) scale(1.0 1)" font-size="17.5" font-weight="bold" fill="#60cc60">Zr<tspan font-size="12.5" dy="3">3</tspan><tspan dy="-3">O</tspan><tspan font-size="12.5" dy="3">7</tspan><tspan dy="-3">H</tspan><tspan font-size="12" dy="-7">−</tspan></text>
<text transform="translate(450 583.1) scale(1.087 1)" font-size="17" font-weight="bold" fill="#008000">Zr<tspan font-size="17" dy="4.2">3</tspan><tspan dy="-4.2">O</tspan><tspan font-size="17" dy="4.2">7</tspan><tspan dy="-4.2">H</tspan><tspan font-size="17" dy="4.2">7</tspan><tspan font-size="17" dy="-12.2">−</tspan></text>
<text transform="translate(111.2 699.9) scale(1.087 1)" font-size="17" font-weight="bold" fill="#8b0000">Zr<tspan font-size="17" dy="4.2">4</tspan><tspan dy="-4.2">O</tspan><tspan font-size="17" dy="4.2">9</tspan><tspan dy="-4.2">H</tspan><tspan font-size="17" dy="4.2">4</tspan><tspan font-size="17" dy="-12.2">−</tspan></text>
<text transform="translate(103.3 722.6) scale(1.087 1)" font-size="17" font-weight="bold" fill="#ff0000">Zr<tspan font-size="17" dy="4.2">4</tspan><tspan dy="-4.2">O</tspan><tspan font-size="17" dy="4.2">9</tspan><tspan dy="-4.2">H</tspan><tspan font-size="17" dy="4.2">7</tspan><tspan font-size="17" dy="-12.2">−</tspan></text>
<text x="570" y="392.8" text-anchor="end" font-size="20" font-weight="bold" fill="#595959">825 ppm 60 s pH 4.0</text>
<text x="82.2" y="374.2" text-anchor="end" font-size="18" fill="#595959">100000</text>
<text x="78.7" y="431.5" text-anchor="end" font-size="18" fill="#595959">10000</text>
<text x="74.6" y="488.8" text-anchor="end" font-size="18" fill="#595959">1000</text>
<text x="70.3" y="546.1" text-anchor="end" font-size="18" fill="#595959">100</text>
<text x="65.7" y="603.4" text-anchor="end" font-size="18" fill="#595959">10</text>
<text x="61.6" y="660.7" text-anchor="end" font-size="18" fill="#595959">1</text>
<text x="78.2" y="673.6" text-anchor="middle" font-size="18" fill="#595959">0</text>
<text x="179.3" y="673.6" text-anchor="middle" font-size="18" fill="#595959">500</text>
<text x="278.42" y="673.6" text-anchor="middle" font-size="18" fill="#595959">1000</text>
<text x="375.38" y="673.6" text-anchor="middle" font-size="18" fill="#595959">1500</text>
<text x="472.34" y="673.6" text-anchor="middle" font-size="18" fill="#595959">2000</text>
<text x="569.3" y="673.6" text-anchor="middle" font-size="18" fill="#595959">2500</text>
<text x="229.9" y="701.5" font-size="21.5" font-weight="bold" fill="#000">sputtering time (s)</text>
<text transform="translate(18.4 505.9) rotate(-90)" text-anchor="middle" font-size="21.8" font-weight="bold" fill="#000">intensity (a.u.)</text>
<path d="M426.5 725.8V1043.6" stroke="#6e6e6e" stroke-width="1.3" stroke-dasharray="4.5 1.8" fill="none"/>
<g clip-path="url(#c3)">
<path d="M85 1024.6H330" stroke="#f04040" stroke-width="1" fill="none"/>
<path d="M84.8 1025 L87 1020 Q89 1006 91 1007.5 Q93 1012 95 1025 M100 1025 Q104 1012 108 1016 Q111 1025 114 1025 M120 1025 Q124 1010 128 1014 L133 1025 M140 1025 C150 1016 170 1010 178.5 1014.7 Q182 1018 184 1025 L184 998 L196.8 998.2 C215 1001 240 1005 251.5 1007.4 C262 1010 268 1012 271.6 1014.7 L273.4 1025 M290 1025 L293.5 1009 Q300 1012 306 1015 L313.6 1025" stroke="#f01010" stroke-width="1" fill="none"/>
<path d="M154.8 1025 L156 1025 C190 1024 230 1015 262.5 998.2 C275 1006 290 1013 299 1016.5 L328 1025" stroke="#8b1010" stroke-width="1" fill="none"/>
<path d="M84.6 1025.1C84.87 1025.1 85.67 1030.85 86.2 1025.1C86.73 1019.35 87.27 996.35 87.8 990.6C88.33 984.85 88.87 987.73 89.4 990.6C89.93 993.48 90.47 1007.85 91 1007.85C91.53 1007.85 92.07 993.48 92.6 990.6C93.13 987.73 93.67 987.73 94.2 990.6C94.73 993.48 95.27 1004.98 95.8 1007.85C96.33 1010.73 96.87 1004.98 97.4 1007.85C97.93 1010.73 98.47 1025.1 99 1025.1C99.53 1025.1 100.07 1010.73 100.6 1007.85C101.13 1004.98 101.67 1007.85 102.2 1007.85C102.73 1007.85 103.27 1004.98 103.8 1007.85C104.33 1010.73 104.87 1022.23 105.4 1025.1C105.93 1027.97 106.47 1029.66 107 1025.1C107.53 1020.54 108.07 1002.32 108.6 997.76C109.13 993.2 109.67 993.2 110.2 997.76C110.73 1002.32 111.27 1027.97 111.8 1025.1C112.33 1022.23 112.87 980.51 113.4 980.51C113.93 980.51 114.47 1024.34 115 1025.1C115.53 1025.86 116.07 985.05 116.6 985.05C117.13 985.05 117.67 1026.5 118.2 1025.1C118.73 1023.7 119.27 983.35 119.8 976.68C120.33 970 120.87 981.53 121.4 985.05C121.93 988.56 122.47 995.64 123 997.76C123.53 999.88 124.07 997.76 124.6 997.76C125.13 997.76 125.67 999.88 126.2 997.76C126.73 995.64 127.27 983.37 127.8 985.05C128.33 986.73 128.87 1006.93 129.4 1007.85C129.93 1008.78 130.47 995.16 131 990.6C131.53 986.05 132.07 982.19 132.6 980.51C133.13 978.83 133.67 980.51 134.2 980.51C134.73 980.51 135.27 973.08 135.8 980.51C136.33 987.94 136.87 1017.67 137.4 1025.1C137.93 1032.53 138.47 1027.97 139 1025.1C139.53 1022.23 140.07 1010.73 140.6 1007.85C141.13 1004.98 141.67 1010.73 142.2 1007.85C142.73 1004.98 143.27 992.28 143.8 990.6C144.33 988.92 144.87 992.01 145.4 997.76C145.93 1003.51 146.47 1027.22 147 1025.1C147.53 1022.98 148.07 992.48 148.6 985.05C149.13 977.62 149.67 976.71 150.2 980.51C150.73 984.31 151.27 1003.29 151.8 1007.85C152.33 1012.41 152.87 1007.85 153.4 1007.85C153.93 1007.85 154.47 1004.98 155 1007.85C155.53 1010.73 156.07 1028.9 156.6 1025.1C157.13 1021.3 157.67 985.05 158.2 985.05C158.73 985.05 159.27 1018.42 159.8 1025.1C160.33 1031.78 160.87 1025.1 161.4 1025.1C161.93 1025.1 162.47 1027.97 163 1025.1C163.53 1022.23 164.07 1014.53 164.6 1007.85C165.13 1001.18 165.67 982.17 166.2 985.05C166.73 987.92 167.27 1024.17 167.8 1025.1C168.33 1026.03 168.87 998.03 169.4 990.6C169.93 983.17 170.47 974.76 171 980.51C171.53 986.26 172.07 1022.23 172.6 1025.1C173.13 1027.97 173.67 1000.64 174.2 997.76C174.73 994.89 175.27 1007.85 175.8 1007.85C176.33 1007.85 176.87 997.76 177.4 997.76C177.93 997.76 178.47 1007.85 179 1007.85C179.53 1007.85 180.07 997.76 180.6 997.76C181.13 997.76 181.67 1006.17 182.2 1007.85C182.73 1009.53 183.27 1004.98 183.8 1007.85C184.33 1010.73 184.87 1022.23 185.4 1025.1C185.93 1027.97 186.47 1032.53 187 1025.1C187.53 1017.67 188.07 980.51 188.6 980.51C189.13 980.51 189.67 1017.67 190.2 1025.1C190.73 1032.53 191.27 1029.66 191.8 1025.1C192.33 1020.54 192.87 1002.32 193.4 997.76C193.93 993.2 194.47 997.76 195 997.76C195.53 997.76 196.07 998.95 196.6 997.76C197.13 996.57 197.67 986.05 198.2 990.6C198.73 995.16 199.27 1025.1 199.8 1025.1C200.33 1025.1 200.87 995.16 201.4 990.6C201.93 986.05 202.47 994.89 203 997.76C203.53 1000.64 204.07 1009.04 204.6 1007.85C205.13 1006.66 205.67 990.6 206.2 990.6C206.73 990.6 207.27 1006.66 207.8 1007.85C208.33 1009.04 208.87 994.89 209.4 997.76C209.93 1000.64 210.47 1026.29 211 1025.1C211.53 1023.91 212.07 993.48 212.6 990.6C213.13 987.73 213.67 1010.73 214.2 1007.85C214.73 1004.98 215.27 970.48 215.8 973.35C216.33 976.23 216.87 1019.35 217.4 1025.1C217.93 1030.85 218.47 1013.6 219 1007.85C219.53 1002.1 220.07 994.4 220.6 990.6C221.13 986.8 221.67 986.73 222.2 985.05C222.73 983.37 223.27 976.71 223.8 980.51C224.33 984.31 224.87 1000.42 225.4 1007.85C225.93 1015.28 226.47 1028.9 227 1025.1C227.53 1021.3 228.07 985.05 228.6 985.05C229.13 985.05 229.67 1022.98 230.2 1025.1C230.73 1027.22 231.27 1004.44 231.8 997.76C232.33 991.09 232.87 985.05 233.4 985.05C233.93 985.05 234.47 995.64 235 997.76C235.53 999.88 236.07 1001.83 236.6 997.76C237.13 993.69 237.67 971.67 238.2 973.35C238.73 975.03 239.27 1003.78 239.8 1007.85C240.33 1011.92 240.87 994.89 241.4 997.76C241.93 1000.64 242.47 1027.22 243 1025.1C243.53 1022.98 244.07 987.92 244.6 985.05C245.13 982.17 245.67 1005.73 246.2 1007.85C246.73 1009.97 247.27 999.44 247.8 997.76C248.33 996.08 248.87 1000.64 249.4 997.76C249.93 994.89 250.47 975.96 251 980.51C251.53 985.07 252.07 1023.42 252.6 1025.1C253.13 1026.78 253.67 995.16 254.2 990.6C254.73 986.05 255.27 992.01 255.8 997.76C256.33 1003.51 256.87 1020.54 257.4 1025.1C257.93 1029.66 258.47 1027.97 259 1025.1C259.53 1022.23 260.07 1012.41 260.6 1007.85C261.13 1003.29 261.67 994.89 262.2 997.76C262.73 1000.64 263.27 1027.97 263.8 1025.1C264.33 1022.23 264.87 980.51 265.4 980.51C265.93 980.51 266.47 1022.23 267 1025.1C267.53 1027.97 268.07 1005.19 268.6 997.76C269.13 990.33 269.67 978.83 270.2 980.51C270.73 982.19 271.27 1006.17 271.8 1007.85C272.33 1009.53 272.87 987.73 273.4 990.6C273.93 993.48 274.47 1026.03 275 1025.1C275.53 1024.17 276.07 985.05 276.6 985.05C277.13 985.05 277.67 1025.1 278.2 1025.1C278.73 1025.1 279.27 987.92 279.8 985.05C280.33 982.17 280.87 1005.73 281.4 1007.85C281.93 1009.97 282.47 994.89 283 997.76C283.53 1000.64 284.07 1020.54 284.6 1025.1C285.13 1029.66 285.67 1029.66 286.2 1025.1C286.73 1020.54 287.27 1002.32 287.8 997.76C288.33 993.2 288.87 993.2 289.4 997.76C289.93 1002.32 290.47 1023.42 291 1025.1C291.53 1026.78 292.07 1013.6 292.6 1007.85C293.13 1002.1 293.67 990.6 294.2 990.6C294.73 990.6 295.27 1009.53 295.8 1007.85C296.33 1006.17 296.87 977.64 297.4 980.51C297.93 983.39 298.47 1025.1 299 1025.1C299.53 1025.1 300.07 980.51 300.6 980.51C301.13 980.51 301.67 1022.23 302.2 1025.1C302.73 1027.97 303.27 1002.32 303.8 997.76C304.33 993.2 304.87 996.08 305.4 997.76C305.93 999.44 306.47 1006.17 307 1007.85C307.53 1009.53 308.07 1004.98 308.6 1007.85C309.13 1010.73 309.67 1028.9 310.2 1025.1C310.73 1021.3 311.27 991.72 311.8 985.05C312.33 978.37 312.87 981.25 313.4 985.05C313.93 988.85 314.47 1007.85 315 1007.85C315.53 1007.85 316.07 987.92 316.6 985.05C317.13 982.17 317.67 988.48 318.2 990.6C318.73 992.72 319.27 994.89 319.8 997.76C320.33 1000.64 320.87 1007.85 321.4 1007.85C321.93 1007.85 322.47 1000.64 323 997.76C323.53 994.89 324.07 992.72 324.6 990.6C325.13 988.48 325.67 985.97 326.2 985.05C326.73 984.12 327.27 984.12 327.8 985.05C328.33 985.97 328.87 989.68 329.4 990.6C329.93 991.53 330.47 989.41 331 990.6C331.53 991.8 332.07 997.76 332.6 997.76C333.13 997.76 333.67 990.6 334.2 990.6C334.73 990.6 335.27 997.76 335.8 997.76C336.33 997.76 336.87 995.16 337.4 990.6C337.93 986.05 338.47 969.23 339 970.42C339.53 971.62 340.07 991.52 340.6 997.76C341.13 1004 341.67 1009.97 342.2 1007.85C342.73 1005.73 343.27 986.73 343.8 985.05C344.33 983.37 344.87 995.64 345.4 997.76C345.93 999.88 346.47 993.2 347 997.76C347.53 1002.32 348.07 1020.54 348.6 1025.1C349.13 1029.66 349.67 1030.85 350.2 1025.1C350.73 1019.35 351.27 995.16 351.8 990.6C352.33 986.05 352.87 996.57 353.4 997.76C353.93 998.95 354.47 998.95 355 997.76C355.53 996.57 356.07 986.05 356.6 990.6C357.13 995.16 357.67 1025.1 358.2 1025.1C358.73 1025.1 359.27 996.35 359.8 990.6C360.33 984.85 360.87 990.6 361.4 990.6C361.93 990.6 362.47 987.73 363 990.6C363.53 993.48 364.07 1002.1 364.6 1007.85C365.13 1013.6 365.67 1026.78 366.2 1025.1C366.73 1023.42 367.27 1000.64 367.8 997.76C368.33 994.89 368.87 1009.04 369.4 1007.85C369.93 1006.66 370.47 987.73 371 990.6C371.53 993.48 372.07 1025.1 372.6 1025.1C373.13 1025.1 373.67 998.67 374.2 990.6C374.73 982.53 375.27 973.8 375.8 976.68C376.33 979.55 376.87 999.78 377.4 1007.85C377.93 1015.92 378.47 1030.85 379 1025.1C379.53 1019.35 380.07 977.91 380.6 973.35C381.13 968.8 381.67 994.89 382.2 997.76C382.73 1000.64 383.27 988.92 383.8 990.6C384.33 992.28 384.87 1004.98 385.4 1007.85C385.93 1010.73 386.47 1007.85 387 1007.85C387.53 1007.85 388.07 1009.53 388.6 1007.85C389.13 1006.17 389.67 1000.64 390.2 997.76C390.73 994.89 391.27 990.6 391.8 990.6C392.33 990.6 392.87 992.01 393.4 997.76C393.93 1003.51 394.47 1020.54 395 1025.1C395.53 1029.66 396.07 1031.78 396.6 1025.1C397.13 1018.42 397.67 989.61 398.2 985.05C398.73 980.49 399.27 995.64 399.8 997.76C400.33 999.88 400.87 993.2 401.4 997.76C401.93 1002.32 402.47 1020.54 403 1025.1C403.53 1029.66 404.07 1029.66 404.6 1025.1C405.13 1020.54 405.67 997.76 406.2 997.76C406.73 997.76 407.27 1020.54 407.8 1025.1C408.33 1029.66 408.87 1030.85 409.4 1025.1C409.93 1019.35 410.47 993.48 411 990.6C411.53 987.73 412.07 1010.73 412.6 1007.85C413.13 1004.98 413.67 976.23 414.2 973.35C414.73 970.48 415.27 984.85 415.8 990.6C416.33 996.35 416.87 1004.98 417.4 1007.85C417.93 1010.73 418.47 1007.85 419 1007.85C419.53 1007.85 420.07 1004.98 420.6 1007.85C421.13 1010.73 421.67 1027.97 422.2 1025.1C422.73 1022.23 423.27 993.48 423.8 990.6C424.33 987.73 424.87 1002.1 425.4 1007.85C425.93 1013.6 426.47 1022.23 427 1025.1C427.53 1027.97 428.07 1029.66 428.6 1025.1C429.13 1020.54 429.67 1000.64 430.2 997.76C430.73 994.89 431.27 1009.04 431.8 1007.85C432.33 1006.66 432.87 990.6 433.4 990.6C433.93 990.6 434.47 1002.1 435 1007.85C435.53 1013.6 436.07 1022.23 436.6 1025.1C437.13 1027.97 437.67 1025.1 438.2 1025.1C438.73 1025.1 439.27 1025.1 439.8 1025.1C440.33 1025.1 440.87 1025.1 441.4 1025.1C441.93 1025.1 442.47 1027.97 443 1025.1C443.53 1022.23 444.07 1012.41 444.6 1007.85C445.13 1003.29 445.67 994.89 446.2 997.76C446.73 1000.64 447.27 1026.29 447.8 1025.1C448.33 1023.91 449.13 996.35 449.4 990.6" stroke="#60cc60" stroke-width="1.1" fill="none" stroke-linejoin="round"/>
<path d="M84.6 1025.1C84.87 1013.6 85.67 970.07 86.2 956.1C86.73 942.14 87.27 942.23 87.8 941.3C88.33 940.38 88.87 946.53 89.4 950.55C89.93 954.57 90.47 962.95 91 965.43C91.53 967.91 92.07 967.23 92.6 965.43C93.13 963.62 93.67 956.15 94.2 954.6C94.73 953.04 95.27 952.42 95.8 956.1C96.33 959.78 96.87 974.73 97.4 976.68C97.93 978.63 98.47 970.04 99 967.8C99.53 965.56 100.07 964.35 100.6 963.26C101.13 962.17 101.67 960.91 102.2 961.27C102.73 961.63 103.27 961.47 103.8 965.43C104.33 969.39 104.87 984.22 105.4 985.05C105.93 985.88 106.47 974.05 107 970.42C107.53 966.79 108.07 961.58 108.6 963.26C109.13 964.94 109.67 974.76 110.2 980.51C110.73 986.26 111.27 999.44 111.8 997.76C112.33 996.08 112.87 970.42 113.4 970.42C113.93 970.42 114.47 997.76 115 997.76C115.53 997.76 116.07 975.81 116.6 970.42C117.13 965.03 117.67 964.94 118.2 965.43C118.73 965.92 119.27 970.84 119.8 973.35C120.33 975.87 120.87 978.56 121.4 980.51C121.93 982.46 122.47 986.73 123 985.05C123.53 983.37 124.07 968.3 124.6 970.42C125.13 972.54 125.67 997.76 126.2 997.76C126.73 997.76 127.27 974.49 127.8 970.42C128.33 966.35 128.87 971.67 129.4 973.35C129.93 975.03 130.47 977.64 131 980.51C131.53 983.39 132.07 990.6 132.6 990.6C133.13 990.6 133.67 983.39 134.2 980.51C134.73 977.64 135.27 972.6 135.8 973.35C136.33 974.11 136.87 983.86 137.4 985.05C137.93 986.24 138.47 979.59 139 980.51C139.53 981.44 140.07 989.85 140.6 990.6C141.13 991.36 141.67 979.3 142.2 985.05C142.73 990.8 143.27 1027.05 143.8 1025.1C144.33 1023.15 144.87 980.78 145.4 973.35C145.93 965.92 146.47 978.56 147 980.51C147.53 982.46 148.07 986.24 148.6 985.05C149.13 983.86 149.67 972.43 150.2 973.35C150.73 974.28 151.27 989.41 151.8 990.6C152.33 991.8 152.87 981.44 153.4 980.51C153.93 979.59 154.47 983.37 155 985.05C155.53 986.73 156.07 994.23 156.6 990.6C157.13 986.97 157.67 964.19 158.2 963.26C158.73 962.34 159.27 981.42 159.8 985.05C160.33 988.68 160.87 985.81 161.4 985.05C161.93 984.29 162.47 981.91 163 980.51C163.53 979.12 164.07 976.68 164.6 976.68C165.13 976.68 165.67 981.99 166.2 980.51C166.73 979.03 167.27 968.44 167.8 967.8C168.33 967.16 168.87 975.75 169.4 976.68C169.93 977.6 170.47 971.96 171 973.35C171.53 974.75 172.07 985.54 172.6 985.05C173.13 984.56 173.67 969.5 174.2 970.42C174.73 971.35 175.27 987.24 175.8 990.6C176.33 993.97 176.87 993.48 177.4 990.6C177.93 987.73 178.47 973.35 179 973.35C179.53 973.35 180.07 990.05 180.6 990.6C181.13 991.16 181.67 979 182.2 976.68C182.73 974.35 183.27 968.61 183.8 976.68C184.33 984.75 184.87 1023.7 185.4 1025.1C185.93 1026.5 186.47 992.48 187 985.05C187.53 977.62 188.07 982.46 188.6 980.51C189.13 978.56 189.67 972.6 190.2 973.35C190.73 974.11 191.27 980.98 191.8 985.05C192.33 989.12 192.87 999.16 193.4 997.76C193.93 996.37 194.47 978.79 195 976.68C195.53 974.56 196.07 985.6 196.6 985.05C197.13 984.5 197.67 974.75 198.2 973.35C198.73 971.96 199.27 975.48 199.8 976.68C200.33 977.87 200.87 977 201.4 980.51C201.93 984.03 202.47 998.95 203 997.76C203.53 996.57 204.07 974.55 204.6 973.35C205.13 972.16 205.67 986.53 206.2 990.6C206.73 994.67 207.27 997.76 207.8 997.76C208.33 997.76 208.87 994.12 209.4 990.6C209.93 987.09 210.47 979.55 211 976.68C211.53 973.8 212.07 971.96 212.6 973.35C213.13 974.75 213.67 982.17 214.2 985.05C214.73 987.92 215.27 986.8 215.8 990.6C216.33 994.4 216.87 1010.73 217.4 1007.85C217.93 1004.98 218.47 977.15 219 973.35C219.53 969.55 220.07 976.42 220.6 985.05C221.13 993.67 221.67 1021.3 222.2 1025.1C222.73 1028.9 223.27 1015.92 223.8 1007.85C224.33 999.78 224.87 980.48 225.4 976.68C225.93 972.88 226.47 985.05 227 985.05C227.53 985.05 228.07 974.56 228.6 976.68C229.13 978.79 229.67 994.25 230.2 997.76C230.73 1001.28 231.27 1001.83 231.8 997.76C232.33 993.69 232.87 974.55 233.4 973.35C233.93 972.16 234.47 989.41 235 990.6C235.53 991.8 236.07 982.19 236.6 980.51C237.13 978.83 237.67 981.71 238.2 980.51C238.73 979.32 239.27 968.8 239.8 973.35C240.33 977.91 240.87 1007.3 241.4 1007.85C241.93 1008.4 242.47 982.91 243 976.68C243.53 970.44 244.07 969.78 244.6 970.42C245.13 971.06 245.67 974.27 246.2 980.51C246.73 986.75 247.27 1006.17 247.8 1007.85C248.33 1009.53 248.87 994.4 249.4 990.6C249.93 986.8 250.47 985.97 251 985.05C251.53 984.12 252.07 986.44 252.6 985.05C253.13 983.65 253.67 975.75 254.2 976.68C254.73 977.6 255.27 988.28 255.8 990.6C256.33 992.92 256.87 993.97 257.4 990.6C257.93 987.24 258.47 967.55 259 970.42C259.53 973.3 260.07 1001.61 260.6 1007.85C261.13 1014.09 261.67 1009.53 262.2 1007.85C262.73 1006.17 263.27 1001.56 263.8 997.76C264.33 993.96 264.87 985.05 265.4 985.05C265.93 985.05 266.47 999.16 267 997.76C267.53 996.37 268.07 977.87 268.6 976.68C269.13 975.48 269.67 991.64 270.2 990.6C270.73 989.56 271.27 971.35 271.8 970.42C272.33 969.5 272.87 980.49 273.4 985.05C273.93 989.61 274.47 997.76 275 997.76C275.53 997.76 276.07 985.05 276.6 985.05C277.13 985.05 277.67 996.84 278.2 997.76C278.73 998.69 279.27 994.67 279.8 990.6C280.33 986.53 280.87 973.35 281.4 973.35C281.93 973.35 282.47 990.05 283 990.6C283.53 991.16 284.07 979.55 284.6 976.68C285.13 973.8 285.67 971.96 286.2 973.35C286.73 974.75 287.27 984.5 287.8 985.05C288.33 985.6 288.87 975.75 289.4 976.68C289.93 977.6 290.47 985.41 291 990.6C291.53 995.8 292.07 1011.21 292.6 1007.85C293.13 1004.49 293.67 972.1 294.2 970.42C294.73 968.74 295.27 991.52 295.8 997.76C296.33 1004 296.87 1006.17 297.4 1007.85C297.93 1009.53 298.47 1004.98 299 1007.85C299.53 1010.73 300.07 1025.1 300.6 1025.1C301.13 1025.1 301.67 1007.85 302.2 1007.85C302.73 1007.85 303.27 1027.97 303.8 1025.1C304.33 1022.23 304.87 996.35 305.4 990.6C305.93 984.85 306.47 989.41 307 990.6C307.53 991.8 308.07 1000.08 308.6 997.76C309.13 995.44 309.67 974.99 310.2 976.68C310.73 978.36 311.27 1007.21 311.8 1007.85C312.33 1008.49 312.87 983.39 313.4 980.51C313.93 977.64 314.47 990.6 315 990.6C315.53 990.6 316.07 974.76 316.6 980.51C317.13 986.26 317.67 1024.34 318.2 1025.1C318.73 1025.86 319.27 990.8 319.8 985.05C320.33 979.3 320.87 990.6 321.4 990.6C321.93 990.6 322.47 983.86 323 985.05C323.53 986.24 324.07 993.96 324.6 997.76C325.13 1001.56 325.67 1007.85 326.2 1007.85C326.73 1007.85 327.27 1002.32 327.8 997.76C328.33 993.2 328.87 984.03 329.4 980.51C329.93 977 330.47 974.99 331 976.68C331.53 978.36 332.07 985.41 332.6 990.6C333.13 995.8 333.67 1009.53 334.2 1007.85C334.73 1006.17 335.27 983.39 335.8 980.51C336.33 977.64 336.87 986.05 337.4 990.6C337.93 995.16 338.47 1002.1 339 1007.85C339.53 1013.6 340.07 1026.78 340.6 1025.1C341.13 1023.42 341.67 1002.32 342.2 997.76C342.73 993.2 343.27 997.76 343.8 997.76C344.33 997.76 344.87 998.95 345.4 997.76C345.93 996.57 346.47 992.72 347 990.6C347.53 988.48 348.07 979.3 348.6 985.05C349.13 990.8 349.67 1025.1 350.2 1025.1C350.73 1025.1 351.27 989.61 351.8 985.05C352.33 980.49 352.87 999.16 353.4 997.76C353.93 996.37 354.47 972.12 355 976.68C355.53 981.23 356.07 1022.78 356.6 1025.1C357.13 1027.42 357.67 993.48 358.2 990.6C358.73 987.73 359.27 1008.78 359.8 1007.85C360.33 1006.93 360.87 988.85 361.4 985.05C361.93 981.25 362.47 978.37 363 985.05C363.53 991.72 364.07 1018.42 364.6 1025.1C365.13 1031.78 365.67 1029.66 366.2 1025.1C366.73 1020.54 367.27 997.76 367.8 997.76C368.33 997.76 368.87 1020.54 369.4 1025.1C369.93 1029.66 370.47 1027.97 371 1025.1C371.53 1022.23 372.07 1012.41 372.6 1007.85C373.13 1003.29 373.67 997.76 374.2 997.76C374.73 997.76 375.27 1009.04 375.8 1007.85C376.33 1006.66 376.87 992.28 377.4 990.6C377.93 988.92 378.47 992.01 379 997.76C379.53 1003.51 380.07 1023.42 380.6 1025.1C381.13 1026.78 381.67 1007.85 382.2 1007.85C382.73 1007.85 383.27 1027.97 383.8 1025.1C384.33 1022.23 384.87 995.16 385.4 990.6C385.93 986.05 386.47 998.69 387 997.76C387.53 996.84 388.07 983.37 388.6 985.05C389.13 986.73 389.67 1006.93 390.2 1007.85C390.73 1008.78 391.27 992.28 391.8 990.6C392.33 988.92 392.87 999.44 393.4 997.76C393.93 996.08 394.47 980.51 395 980.51C395.53 980.51 396.07 993.2 396.6 997.76C397.13 1002.32 397.67 1006.17 398.2 1007.85C398.73 1009.53 399.27 1009.53 399.8 1007.85C400.33 1006.17 400.87 1000.64 401.4 997.76C401.93 994.89 402.47 986.05 403 990.6C403.53 995.16 404.07 1026.03 404.6 1025.1C405.13 1024.17 405.67 989.61 406.2 985.05C406.73 980.49 407.27 995.64 407.8 997.76C408.33 999.88 408.87 993.2 409.4 997.76C409.93 1002.32 410.47 1023.42 411 1025.1C411.53 1026.78 412.07 1007.85 412.6 1007.85C413.13 1007.85 413.67 1022.23 414.2 1025.1C414.73 1027.97 415.27 1029.66 415.8 1025.1C416.33 1020.54 416.87 1000.64 417.4 997.76C417.93 994.89 418.47 1006.17 419 1007.85C419.53 1009.53 420.07 1004.98 420.6 1007.85C421.13 1010.73 421.67 1026.78 422.2 1025.1C422.73 1023.42 423.27 997.76 423.8 997.76C424.33 997.76 424.87 1020.54 425.4 1025.1C425.93 1029.66 426.47 1029.66 427 1025.1C427.53 1020.54 428.07 1003.51 428.6 997.76C429.13 992.01 429.67 988.92 430.2 990.6C430.73 992.28 431.27 1007.85 431.8 1007.85C432.33 1007.85 432.87 992.28 433.4 990.6C433.93 988.92 434.47 999.44 435 997.76C435.53 996.08 436.07 981.71 436.6 980.51C437.13 979.32 437.67 986.05 438.2 990.6C438.73 995.16 439.53 1004.98 439.8 1007.85" stroke="#008000" stroke-width="1.1" fill="none" stroke-linejoin="round"/>
<path d="M449 997.76C450 997.76 453 993.2 455 997.76C457 1002.32 459 1023.42 461 1025.1C463 1026.78 465 1013.6 467 1007.85C469 1002.1 471 987.73 473 990.6C475 993.48 477 1023.91 479 1025.1C481 1026.29 483 997.76 485 997.76C487 997.76 489 1025.1 491 1025.1C493 1025.1 495 1000.64 497 997.76C499 994.89 501 1003.29 503 1007.85C505 1012.41 507 1025.1 509 1025.1C511 1025.1 513 1012.41 515 1007.85C517 1003.29 519 994.89 521 997.76C523 1000.64 525 1020.54 527 1025.1C529 1029.66 531 1029.66 533 1025.1C535 1020.54 537 997.76 539 997.76C541 997.76 543 1020.54 545 1025.1C547 1029.66 549 1025.1 551 1025.1C553 1025.1 555 1025.1 557 1025.1C559 1025.1 561 1032.53 563 1025.1C565 1017.67 568 987.94 569 980.51" stroke="#60cc60" stroke-width="1.2" fill="none" stroke-linejoin="round"/>
<path d="M439 1025.1C440.17 1025.1 443.67 1025.1 446 1025.1C448.33 1025.1 450.67 1029.66 453 1025.1C455.33 1020.54 457.67 997.76 460 997.76C462.33 997.76 464.67 1020.54 467 1025.1C469.33 1029.66 471.67 1025.1 474 1025.1C476.33 1025.1 478.67 1025.1 481 1025.1C483.33 1025.1 485.67 1025.1 488 1025.1C490.33 1025.1 492.67 1029.66 495 1025.1C497.33 1020.54 499.67 997.76 502 997.76C504.33 997.76 506.67 1020.54 509 1025.1C511.33 1029.66 513.67 1027.97 516 1025.1C518.33 1022.23 520.67 1010.73 523 1007.85C525.33 1004.98 527.67 1004.98 530 1007.85C532.33 1010.73 534.67 1025.1 537 1025.1C539.33 1025.1 541.67 1007.85 544 1007.85C546.33 1007.85 548.67 1022.23 551 1025.1C553.33 1027.97 555.67 1025.1 558 1025.1C560.33 1025.1 563.83 1025.1 565 1025.1" stroke="#008000" stroke-width="1.1" fill="none" stroke-linejoin="round"/>
<path d="M85 1015.01C85.22 1016.69 85.87 1023.42 86.3 1025.1C86.73 1026.78 87.17 1028.9 87.6 1025.1C88.03 1021.3 88.47 1003.98 88.9 1002.3C89.33 1000.62 89.77 1011.21 90.2 1015.01C90.63 1018.81 91.07 1023.42 91.5 1025.1C91.93 1026.78 92.37 1030.3 92.8 1025.1C93.23 1019.9 93.67 998.48 94.1 993.92C94.53 989.37 94.97 994.25 95.4 997.76C95.83 1001.28 96.27 1010.45 96.7 1015.01C97.13 1019.57 97.57 1023.42 98 1025.1C98.43 1026.78 98.87 1025.1 99.3 1025.1C99.73 1025.1 100.17 1029.66 100.6 1025.1C101.03 1020.54 101.47 999.44 101.9 997.76C102.33 996.08 102.77 1014.25 103.2 1015.01C103.63 1015.77 104.07 1003.49 104.5 1002.3C104.93 1001.1 105.37 1005.73 105.8 1007.85C106.23 1009.97 106.67 1012.14 107.1 1015.01C107.53 1017.88 107.97 1025.1 108.4 1025.1C108.83 1025.1 109.27 1016.69 109.7 1015.01C110.13 1013.33 110.57 1017.88 111 1015.01C111.43 1012.14 111.87 997.76 112.3 997.76C112.73 997.76 113.17 1016.69 113.6 1015.01C114.03 1013.33 114.47 985.99 114.9 987.67C115.33 989.35 115.77 1024.06 116.2 1025.1C116.63 1026.14 117.07 999.67 117.5 993.92C117.93 988.18 118.37 989.21 118.8 990.6C119.23 992 119.67 1003.62 120.1 1002.3C120.53 1000.98 120.97 984.63 121.4 982.68C121.83 980.73 122.27 989.77 122.7 990.6C123.13 991.43 123.57 981.92 124 987.67C124.43 993.42 124.87 1021.74 125.3 1025.1C125.73 1028.46 126.17 1011.65 126.6 1007.85C127.03 1004.05 127.47 1001.1 127.9 1002.3C128.33 1003.49 128.77 1011.21 129.2 1015.01C129.63 1018.81 130.07 1028.61 130.5 1025.1C130.93 1021.59 131.37 999.67 131.8 993.92C132.23 988.18 132.67 985.41 133.1 990.6C133.53 995.8 133.97 1025.59 134.4 1025.1C134.83 1024.61 135.27 992.23 135.7 987.67C136.13 983.11 136.57 996.72 137 997.76C137.43 998.8 137.87 995.12 138.3 993.92C138.73 992.73 139.17 989.96 139.6 990.6C140.03 991.24 140.47 996.57 140.9 997.76C141.33 998.95 141.77 993.2 142.2 997.76C142.63 1002.32 143.07 1024.34 143.5 1025.1C143.93 1025.86 144.37 1005.17 144.8 1002.3C145.23 999.42 145.67 1009.8 146.1 1007.85C146.53 1005.9 146.97 996.35 147.4 990.6C147.83 984.85 148.27 975.03 148.7 973.35C149.13 971.67 149.57 978.13 150 980.51C150.43 982.9 150.87 988.6 151.3 987.67C151.73 986.75 152.17 973.28 152.6 974.96C153.03 976.64 153.47 997.47 153.9 997.76C154.33 998.05 154.77 978.79 155.2 976.68C155.63 974.56 156.07 983.22 156.5 985.05C156.93 986.88 157.37 984.8 157.8 987.67C158.23 990.55 158.67 1001.81 159.1 1002.3C159.53 1002.79 159.97 994.87 160.4 990.6C160.83 986.33 161.27 975.48 161.7 976.68C162.13 977.87 162.57 995.93 163 997.76C163.43 999.59 163.87 990.18 164.3 987.67C164.73 985.16 165.17 983.87 165.6 982.68C166.03 981.48 166.47 980.51 166.9 980.51C167.33 980.51 167.77 981.92 168.2 982.68C168.63 983.43 169.07 986.34 169.5 985.05C169.93 983.76 170.37 977.4 170.8 974.96C171.23 972.52 171.67 970.94 172.1 970.42C172.53 969.9 172.97 967.29 173.4 971.84C173.83 976.4 174.27 995.96 174.7 997.76C175.13 999.57 175.57 987 176 982.68C176.43 978.36 176.87 971.84 177.3 971.84C177.73 971.84 178.17 981.56 178.6 982.68C179.03 983.79 179.47 980.33 179.9 978.52C180.33 976.71 180.77 974.72 181.2 971.84C181.63 968.97 182.07 962.87 182.5 961.27C182.93 959.67 183.37 960.72 183.8 962.25C184.23 963.77 184.67 969.89 185.1 970.42C185.53 970.95 185.97 967.94 186.4 965.43C186.83 962.91 187.27 955.34 187.7 955.34C188.13 955.34 188.57 962.91 189 965.43C189.43 967.94 189.87 970.23 190.3 970.42C190.73 970.61 191.17 968.97 191.6 966.59C192.03 964.2 192.47 957.15 192.9 956.1C193.33 955.06 193.77 960.7 194.2 960.33C194.63 959.96 195.07 952.63 195.5 953.87C195.93 955.12 196.37 967.3 196.8 967.8C197.23 968.3 197.67 959.45 198.1 956.89C198.53 954.34 198.97 953.11 199.4 952.49C199.83 951.87 200.27 952.94 200.7 953.17C201.13 953.4 201.57 952.98 202 953.87C202.43 954.77 202.87 958.55 203.3 958.55C203.73 958.55 204.17 953.73 204.6 953.87C205.03 954.02 205.47 959.66 205.9 959.43C206.33 959.2 206.77 954.55 207.2 952.49C207.63 950.43 208.07 948.15 208.5 947.07C208.93 945.99 209.37 946.01 209.8 946.01C210.23 946.01 210.67 947.07 211.1 947.07C211.53 947.07 211.97 946.1 212.4 946.01C212.83 945.92 213.27 947.67 213.7 946.54C214.13 945.41 214.57 940.59 215 939.25C215.43 937.9 215.87 938.05 216.3 938.47C216.73 938.88 217.17 941.12 217.6 941.74C218.03 942.36 218.47 942.1 218.9 942.18C219.33 942.25 219.77 943.04 220.2 942.18C220.63 941.31 221.07 937.27 221.5 936.98C221.93 936.7 222.37 940.15 222.8 940.46C223.23 940.77 223.67 938.85 224.1 938.85C224.53 938.85 224.97 940.89 225.4 940.46C225.83 940.03 226.27 937.14 226.7 936.27C227.13 935.4 227.57 935.41 228 935.24C228.43 935.07 228.87 936.81 229.3 935.24C229.73 933.67 230.17 926.69 230.6 925.83C231.03 924.98 231.47 929 231.9 930.1C232.33 931.19 232.77 933.28 233.2 932.39C233.63 931.49 234.07 924.81 234.5 924.71C234.93 924.61 235.37 931.94 235.8 931.79C236.23 931.65 236.67 924.6 237.1 923.84C237.53 923.09 237.97 926.65 238.4 927.26C238.83 927.87 239.27 927.96 239.7 927.5C240.13 927.04 240.57 925.17 241 924.49C241.43 923.81 241.87 923.23 242.3 923.42C242.73 923.61 243.17 926.4 243.6 925.6C244.03 924.81 244.47 920.32 244.9 918.67C245.33 917.03 245.77 915.54 246.2 915.74C246.63 915.95 247.07 919.43 247.5 919.91C247.93 920.4 248.37 919.34 248.8 918.67C249.23 918.01 249.67 916.98 250.1 915.9C250.53 914.81 250.97 912.97 251.4 912.17C251.83 911.38 252.27 911.61 252.7 911.13C253.13 910.65 253.57 909.71 254 909.29C254.43 908.86 254.87 909.17 255.3 908.58C255.73 908 256.17 906.54 256.6 905.76C257.03 904.97 257.47 904.54 257.9 903.88C258.33 903.21 258.77 902.25 259.2 901.77C259.63 901.29 260.07 900.68 260.5 901C260.93 901.32 261.37 903.61 261.8 903.69C262.23 903.76 262.67 901.73 263.1 901.43C263.53 901.12 263.97 902.71 264.4 901.86C264.83 901.02 265.27 896.14 265.7 896.36C266.13 896.59 266.57 902.97 267 903.22C267.43 903.46 267.87 899.17 268.3 897.81C268.73 896.45 269.17 895.66 269.6 895.06C270.03 894.46 270.47 894.62 270.9 894.2C271.33 893.79 271.77 892.58 272.2 892.58C272.63 892.58 273.07 894.39 273.5 894.2C273.93 894.01 274.37 891.76 274.8 891.45C275.23 891.14 275.67 892.36 276.1 892.33C276.53 892.31 276.97 891.83 277.4 891.28C277.83 890.73 278.27 888.94 278.7 889.03C279.13 889.11 279.57 892.15 280 891.8C280.43 891.46 280.87 887.93 281.3 886.96C281.73 885.99 282.17 886.12 282.6 885.97C283.03 885.82 283.47 886.03 283.9 886.06C284.33 886.09 284.77 886.54 285.2 886.15C285.63 885.77 286.07 884.11 286.5 883.75C286.93 883.39 287.37 883.93 287.8 884C288.23 884.08 288.67 884.37 289.1 884.18C289.53 883.98 289.97 883.38 290.4 882.83C290.83 882.28 291.27 881.24 291.7 880.86C292.13 880.49 292.57 881.16 293 880.56C293.43 879.97 293.87 877.74 294.3 877.28C294.73 876.82 295.17 877.44 295.6 877.81C296.03 878.18 296.47 879.48 296.9 879.5C297.33 879.53 297.77 878.49 298.2 877.98C298.63 877.46 299.07 876.69 299.5 876.41C299.93 876.13 300.37 876.43 300.8 876.31C301.23 876.2 301.67 876.14 302.1 875.72C302.53 875.31 302.97 874.36 303.4 873.83C303.83 873.3 304.27 872.59 304.7 872.52C305.13 872.46 305.57 873.61 306 873.46C306.43 873.31 306.87 871.75 307.3 871.62C307.73 871.49 308.17 872.67 308.6 872.66C309.03 872.65 309.47 871.85 309.9 871.57C310.33 871.29 310.77 871.22 311.2 870.98C311.63 870.74 312.07 870.45 312.5 870.13C312.93 869.81 313.37 869.14 313.8 869.05C314.23 868.96 314.67 869.76 315.1 869.59C315.53 869.42 315.97 868.3 316.4 868.03C316.83 867.76 317.27 867.93 317.7 867.96C318.13 868 318.57 868.53 319 868.26C319.43 867.99 319.87 866.84 320.3 866.33C320.73 865.82 321.17 865.43 321.6 865.18C322.03 864.92 322.47 864.84 322.9 864.82C323.33 864.79 323.77 865.03 324.2 865.04C324.63 865.04 325.07 865.03 325.5 864.86C325.93 864.69 326.37 864.39 326.8 864.02C327.23 863.65 327.67 862.84 328.1 862.63C328.53 862.43 328.97 862.95 329.4 862.8C329.83 862.64 330.27 861.89 330.7 861.69C331.13 861.48 331.57 861.75 332 861.57C332.43 861.39 332.87 860.76 333.3 860.61C333.73 860.46 334.17 860.85 334.6 860.64C335.03 860.44 335.47 859.36 335.9 859.37C336.33 859.38 336.77 860.47 337.2 860.69C337.63 860.91 338.07 860.82 338.5 860.68C338.93 860.53 339.37 860.01 339.8 859.83C340.23 859.66 340.67 859.76 341.1 859.61C341.53 859.45 341.97 859.15 342.4 858.89C342.83 858.64 343.27 858.26 343.7 858.06C344.13 857.86 344.57 857.71 345 857.7C345.43 857.69 345.87 858.22 346.3 858C346.73 857.79 347.17 856.91 347.6 856.41C348.03 855.91 348.47 855.22 348.9 855.01C349.33 854.79 349.77 855.03 350.2 855.1C350.63 855.17 351.07 855.53 351.5 855.42C351.93 855.32 352.37 854.6 352.8 854.46C353.23 854.32 353.67 854.64 354.1 854.58C354.53 854.52 354.97 854.17 355.4 854.09C355.83 854.01 356.27 854.14 356.7 854.1C357.13 854.05 357.57 854 358 853.82C358.43 853.63 358.87 853.01 359.3 852.98C359.73 852.94 360.17 853.66 360.6 853.6C361.03 853.54 361.47 852.86 361.9 852.62C362.33 852.39 362.77 852.41 363.2 852.2C363.63 851.99 364.07 851.62 364.5 851.38C364.93 851.14 365.37 850.85 365.8 850.76C366.23 850.67 366.67 850.9 367.1 850.84C367.53 850.77 367.97 850.48 368.4 850.37C368.83 850.26 369.27 850.38 369.7 850.19C370.13 850.01 370.57 849.61 371 849.26C371.43 848.92 371.87 848.2 372.3 848.12C372.73 848.04 373.17 848.9 373.6 848.77C374.03 848.63 374.47 847.5 374.9 847.3C375.33 847.11 375.77 847.51 376.2 847.6C376.63 847.68 377.07 847.69 377.5 847.82C377.93 847.94 378.37 848.3 378.8 848.36C379.23 848.43 379.67 848.38 380.1 848.22C380.53 848.06 380.97 847.49 381.4 847.41C381.83 847.32 382.27 847.7 382.7 847.71C383.13 847.72 383.57 847.6 384 847.46C384.43 847.32 384.87 847.04 385.3 846.85C385.73 846.67 386.17 846.27 386.6 846.36C387.03 846.44 387.47 847.27 387.9 847.36C388.33 847.45 388.77 847.01 389.2 846.87C389.63 846.73 390.07 846.73 390.5 846.53C390.93 846.32 391.37 845.62 391.8 845.63C392.23 845.64 392.67 846.45 393.1 846.57C393.53 846.69 393.97 846.35 394.4 846.35C394.83 846.34 395.27 846.56 395.7 846.55C396.13 846.53 396.57 846.26 397 846.24C397.43 846.23 397.87 846.56 398.3 846.45C398.73 846.35 399.17 845.61 399.6 845.6C400.03 845.59 400.47 846.35 400.9 846.39C401.33 846.42 401.77 845.99 402.2 845.83C402.63 845.68 403.07 845.57 403.5 845.46C403.93 845.34 404.37 845.01 404.8 845.14C405.23 845.27 405.67 846.34 406.1 846.26C406.53 846.18 406.97 844.84 407.4 844.67C407.83 844.49 408.27 845.17 408.7 845.22C409.13 845.27 409.57 845.04 410 844.96C410.43 844.88 410.87 844.65 411.3 844.72C411.73 844.79 412.17 845.24 412.6 845.36C413.03 845.47 413.47 845.52 413.9 845.42C414.33 845.32 414.77 844.91 415.2 844.76C415.63 844.62 416.07 844.49 416.5 844.54C416.93 844.58 417.37 845.14 417.8 845.01C418.23 844.89 418.67 843.89 419.1 843.78C419.53 843.68 419.97 844.39 420.4 844.4C420.83 844.4 421.27 843.76 421.7 843.82C422.13 843.88 422.57 844.72 423 844.76C423.43 844.79 423.87 844.29 424.3 844.01C424.73 843.72 425.17 843.11 425.6 843.04C426.03 842.97 426.47 843.43 426.9 843.58C427.33 843.73 427.77 843.98 428.2 843.95C428.63 843.91 429.07 843.58 429.5 843.37C429.93 843.16 430.37 842.68 430.8 842.7C431.23 842.71 431.67 843.22 432.1 843.46C432.53 843.7 432.97 844.15 433.4 844.12C433.83 844.08 434.27 843.32 434.7 843.26C435.13 843.2 435.57 843.82 436 843.78C436.43 843.75 436.87 842.99 437.3 843.05C437.73 843.11 438.17 843.99 438.6 844.13C439.03 844.26 439.47 843.95 439.9 843.85C440.33 843.75 440.77 843.7 441.2 843.53C441.63 843.36 442.07 842.92 442.5 842.83C442.93 842.74 443.37 842.9 443.8 843C444.23 843.1 444.67 843.44 445.1 843.43C445.53 843.42 445.97 843 446.4 842.94C446.83 842.88 447.27 843.14 447.7 843.07C448.13 843 448.57 842.63 449 842.52C449.43 842.41 449.87 842.46 450.3 842.38C450.73 842.3 451.17 842.01 451.6 842.05C452.03 842.1 452.47 842.58 452.9 842.63C453.33 842.69 453.77 842.34 454.2 842.39C454.63 842.44 455.07 842.7 455.5 842.91C455.93 843.12 456.37 843.86 456.8 843.65C457.23 843.44 457.67 841.83 458.1 841.64C458.53 841.46 458.97 842.34 459.4 842.56C459.83 842.78 460.27 842.98 460.7 842.96C461.13 842.94 461.57 842.56 462 842.44C462.43 842.31 462.87 842.22 463.3 842.21C463.73 842.21 464.17 842.43 464.6 842.4C465.03 842.37 465.47 842.09 465.9 842.01C466.33 841.94 466.77 841.98 467.2 841.94C467.63 841.89 468.07 841.83 468.5 841.72C468.93 841.62 469.37 841.25 469.8 841.31C470.23 841.37 470.67 842 471.1 842.11C471.53 842.22 471.97 841.98 472.4 841.97C472.83 841.97 473.27 842.03 473.7 842.06C474.13 842.09 474.57 842.22 475 842.14C475.43 842.07 475.87 841.69 476.3 841.62C476.73 841.55 477.17 841.82 477.6 841.75C478.03 841.67 478.47 841.18 478.9 841.17C479.33 841.16 479.77 841.58 480.2 841.68C480.63 841.77 481.07 841.75 481.5 841.74C481.93 841.72 482.37 841.77 482.8 841.59C483.23 841.41 483.67 840.69 484.1 840.65C484.53 840.61 484.97 841.19 485.4 841.33C485.83 841.48 486.27 841.43 486.7 841.52C487.13 841.61 487.57 842.03 488 841.87C488.43 841.71 488.87 840.64 489.3 840.54C489.73 840.45 490.17 841.31 490.6 841.29C491.03 841.27 491.47 840.42 491.9 840.42C492.33 840.42 492.77 841.26 493.2 841.29C493.63 841.32 494.07 840.69 494.5 840.6C494.93 840.52 495.37 840.78 495.8 840.79C496.23 840.8 496.67 840.66 497.1 840.67C497.53 840.68 497.97 840.73 498.4 840.85C498.83 840.97 499.27 841.28 499.7 841.41C500.13 841.54 500.57 841.79 501 841.65C501.43 841.52 501.87 840.77 502.3 840.6C502.73 840.42 503.17 840.52 503.6 840.63C504.03 840.73 504.47 841.25 504.9 841.24C505.33 841.23 505.77 840.54 506.2 840.57C506.63 840.61 507.07 841.41 507.5 841.47C507.93 841.52 508.37 841.02 508.8 840.91C509.23 840.8 509.67 840.71 510.1 840.81C510.53 840.92 510.97 841.55 511.4 841.53C511.83 841.51 512.27 840.83 512.7 840.69C513.13 840.56 513.57 840.75 514 840.7C514.43 840.65 514.87 840.47 515.3 840.41C515.73 840.35 516.17 840.32 516.6 840.34C517.03 840.37 517.47 840.46 517.9 840.56C518.33 840.65 518.77 840.79 519.2 840.92C519.63 841.05 520.07 841.36 520.5 841.31C520.93 841.26 521.37 840.82 521.8 840.64C522.23 840.47 522.67 840.15 523.1 840.26C523.53 840.37 523.97 841.24 524.4 841.31C524.83 841.38 525.27 840.67 525.7 840.69C526.13 840.7 526.57 841.45 527 841.43C527.43 841.4 527.87 840.68 528.3 840.54C528.73 840.39 529.17 840.52 529.6 840.56C530.03 840.6 530.47 840.77 530.9 840.78C531.33 840.8 531.77 840.57 532.2 840.63C532.63 840.7 533.07 841.07 533.5 841.17C533.93 841.27 534.37 841.29 534.8 841.25C535.23 841.21 535.67 841 536.1 840.93C536.53 840.85 536.97 840.84 537.4 840.8C537.83 840.76 538.27 840.67 538.7 840.71C539.13 840.74 539.57 841.04 540 841.01C540.43 840.98 540.87 840.61 541.3 840.54C541.73 840.47 542.17 840.42 542.6 840.58C543.03 840.74 543.47 841.42 543.9 841.5C544.33 841.57 544.77 841.27 545.2 841.03C545.63 840.78 546.07 840.13 546.5 840.02C546.93 839.92 547.37 840.3 547.8 840.4C548.23 840.5 548.67 840.63 549.1 840.63C549.53 840.64 549.97 840.41 550.4 840.45C550.83 840.48 551.27 840.89 551.7 840.87C552.13 840.84 552.57 840.39 553 840.31C553.43 840.23 553.87 840.16 554.3 840.39C554.73 840.61 555.17 841.65 555.6 841.68C556.03 841.7 556.47 840.54 556.9 840.52C557.33 840.5 557.77 841.45 558.2 841.54C558.63 841.63 559.07 841.11 559.5 841.05C559.93 840.99 560.37 841.18 560.8 841.17C561.23 841.16 561.67 841.08 562.1 841C562.53 840.91 562.97 840.64 563.4 840.64C563.83 840.64 564.27 840.94 564.7 840.97C565.13 841.01 565.57 840.79 566 840.84C566.43 840.89 566.87 841.33 567.3 841.27C567.73 841.21 568.38 840.61 568.6 840.48" stroke="#d9600c" stroke-width="1.5" fill="none" stroke-linejoin="round"/>
<path d="M84.6 957.71C84.78 952.8 85.33 936.12 85.7 928.25C86.07 920.38 86.43 912.69 86.8 910.5C87.17 908.31 87.53 914.05 87.9 915.14C88.27 916.22 88.63 917.1 89 917C89.37 916.91 89.73 914.65 90.1 914.54C90.47 914.44 90.83 915.79 91.2 916.37C91.57 916.94 91.93 916.1 92.3 917.99C92.67 919.89 93.03 926.88 93.4 927.75C93.77 928.62 94.13 923.61 94.5 923.21C94.87 922.82 95.23 925.45 95.6 925.38C95.97 925.31 96.33 922.88 96.7 922.8C97.07 922.73 97.43 924.65 97.8 924.93C98.17 925.21 98.53 924.18 98.9 924.49C99.27 924.8 99.63 924.63 100 926.77C100.37 928.92 100.73 936.65 101.1 937.35C101.47 938.04 101.83 932.53 102.2 930.93C102.57 929.33 102.93 928.36 103.3 927.75C103.67 927.14 104.03 927.26 104.4 927.26C104.77 927.26 105.13 927.75 105.5 927.75C105.87 927.75 106.23 927.34 106.6 927.26C106.97 927.17 107.33 927.42 107.7 927.26C108.07 927.1 108.43 925.29 108.8 926.3C109.17 927.31 109.53 932.34 109.9 933.3C110.27 934.27 110.63 933.25 111 932.09C111.37 930.92 111.73 926.49 112.1 926.3C112.47 926.11 112.83 931.78 113.2 930.93C113.57 930.08 113.93 922.29 114.3 921.22C114.67 920.15 115.03 923.23 115.4 924.49C115.77 925.75 116.13 927.19 116.5 928.76C116.87 930.34 117.23 933.66 117.6 933.93C117.97 934.2 118.33 932.36 118.7 930.37C119.07 928.38 119.43 923.26 119.8 922C120.17 920.74 120.53 921.67 120.9 922.8C121.27 923.93 121.63 927.59 122 928.76C122.37 929.94 122.73 928.86 123.1 929.82C123.47 930.79 123.83 934.75 124.2 934.58C124.57 934.4 124.93 929.65 125.3 928.76C125.67 927.88 126.03 929.62 126.4 929.29C126.77 928.96 127.13 926.59 127.5 926.77C127.87 926.95 128.23 929.68 128.6 930.37C128.97 931.06 129.33 932.19 129.7 930.93C130.07 929.67 130.43 922.89 130.8 922.8C131.17 922.71 131.53 929.46 131.9 930.37C132.27 931.28 132.63 928.69 133 928.25C133.37 927.81 133.73 928.07 134.1 927.75C134.47 927.42 134.83 926.13 135.2 926.3C135.57 926.47 135.93 926.54 136.3 928.76C136.67 930.99 137.03 940.36 137.4 939.64C137.77 938.93 138.13 925.94 138.5 924.49C138.87 923.04 139.23 930.3 139.6 930.93C139.97 931.56 140.33 929.02 140.7 928.25C141.07 927.48 141.43 926.93 141.8 926.3C142.17 925.67 142.53 923.11 142.9 924.49C143.27 925.87 143.63 933.87 144 934.58C144.37 935.29 144.73 929.65 145.1 928.76C145.47 927.88 145.83 928.64 146.2 929.29C146.57 929.94 146.93 932.69 147.3 932.69C147.67 932.69 148.03 929.49 148.4 929.29C148.77 929.09 149.13 931.84 149.5 931.5C149.87 931.16 150.23 928.04 150.6 927.26C150.97 926.47 151.33 926.85 151.7 926.77C152.07 926.69 152.43 926.17 152.8 926.77C153.17 927.37 153.53 929.77 153.9 930.37C154.27 930.97 154.63 929.33 155 930.37C155.37 931.41 155.73 935.92 156.1 936.62C156.47 937.33 156.83 935.13 157.2 934.58C157.57 934.02 157.93 933.51 158.3 933.3C158.67 933.09 159.03 934.31 159.4 933.3C159.77 932.29 160.13 927.26 160.5 927.26C160.87 927.26 161.23 933.3 161.6 933.3C161.97 933.3 162.33 928.1 162.7 927.26C163.07 926.41 163.43 928.33 163.8 928.25C164.17 928.17 164.53 926.51 164.9 926.77C165.27 927.04 165.63 928.63 166 929.82C166.37 931.02 166.73 933.25 167.1 933.93C167.47 934.62 167.83 934.96 168.2 933.93C168.57 932.9 168.93 927.3 169.3 927.75C169.67 928.2 170.03 935.38 170.4 936.62C170.77 937.87 171.13 935.47 171.5 935.24C171.87 935.01 172.23 936.15 172.6 935.24C172.97 934.34 173.33 930.45 173.7 929.82C174.07 929.2 174.43 929.59 174.8 931.5C175.17 933.42 175.53 941 175.9 941.3C176.27 941.6 176.63 935.3 177 933.3C177.37 931.3 177.73 930.38 178.1 929.29C178.47 928.2 178.83 926 179.2 926.77C179.57 927.55 179.93 933.69 180.3 933.93C180.67 934.18 181.03 929.52 181.4 928.25C181.77 926.98 182.13 927.07 182.5 926.3C182.87 925.53 183.23 921.67 183.6 923.63C183.97 925.6 184.33 935.8 184.7 938.09C185.07 940.38 185.43 936.19 185.8 937.35C186.17 938.5 186.53 946.25 186.9 945C187.27 943.74 187.63 933.17 188 929.82C188.37 926.48 188.73 924.24 189.1 924.93C189.47 925.61 189.83 931.06 190.2 933.93C190.57 936.81 190.93 942.07 191.3 942.18C191.67 942.29 192.03 936.06 192.4 934.58C192.77 933.1 193.13 933.41 193.5 933.3C193.87 933.19 194.23 934.86 194.6 933.93C194.97 933.01 195.33 927.96 195.7 927.75C196.07 927.54 196.43 931.21 196.8 932.69C197.17 934.17 197.53 936.92 197.9 936.62C198.27 936.33 198.63 931.69 199 930.93C199.37 930.17 199.73 932.27 200.1 932.09C200.47 931.9 200.83 930.29 201.2 929.82C201.57 929.36 201.93 929.29 202.3 929.29C202.67 929.29 203.03 929.46 203.4 929.82C203.77 930.19 204.13 930.49 204.5 931.5C204.87 932.52 205.23 936.29 205.6 935.92C205.97 935.55 206.33 929.93 206.7 929.29C207.07 928.65 207.43 931.62 207.8 932.09C208.17 932.55 208.53 931.45 208.9 932.09C209.27 932.73 209.63 937.04 210 935.92C210.37 934.81 210.73 925.49 211.1 925.38C211.47 925.26 211.83 933.71 212.2 935.24C212.57 936.78 212.93 934.8 213.3 934.58C213.67 934.36 214.03 934.25 214.4 933.93C214.77 933.62 215.13 932.36 215.5 932.69C215.87 933.02 216.23 936.12 216.6 935.92C216.97 935.73 217.33 932.7 217.7 931.5C218.07 930.31 218.43 928.36 218.8 928.76C219.17 929.17 219.53 933.93 219.9 933.93C220.27 933.93 220.63 929.54 221 928.76C221.37 927.99 221.73 928.21 222.1 929.29C222.47 930.37 222.83 935.5 223.2 935.24C223.57 934.99 223.93 929 224.3 927.75C224.67 926.5 225.03 927.22 225.4 927.75C225.77 928.28 226.13 928.81 226.5 930.93C226.87 933.05 227.23 938.12 227.6 940.46C227.97 942.81 228.33 945.75 228.7 945C229.07 944.24 229.43 937.44 229.8 935.92C230.17 934.41 230.53 936.46 230.9 935.92C231.27 935.38 231.63 933.33 232 932.69C232.37 932.05 232.73 931.99 233.1 932.09C233.47 932.19 233.83 932.89 234.2 933.3C234.57 933.72 234.93 933.78 235.3 934.58C235.67 935.38 236.03 937.98 236.4 938.09C236.77 938.2 237.13 937.13 237.5 935.24C237.87 933.36 238.23 926.99 238.6 926.77C238.97 926.55 239.33 932.41 239.7 933.93C240.07 935.46 240.43 934.84 240.8 935.92C241.17 937.01 241.53 940.57 241.9 940.46C242.27 940.35 242.63 936.54 243 935.24C243.37 933.95 243.73 933.31 244.1 932.69C244.47 932.06 244.83 931.6 245.2 931.5C245.57 931.4 245.93 931.68 246.3 932.09C246.67 932.49 247.03 932.93 247.4 933.93C247.77 934.93 248.13 938.95 248.5 938.09C248.87 937.23 249.23 928.23 249.6 928.76C249.97 929.3 250.33 940.44 250.7 941.3C251.07 942.17 251.43 934.94 251.8 933.93C252.17 932.92 252.53 934.15 252.9 935.24C253.27 936.33 253.63 939.15 254 940.46C254.37 941.77 254.73 944.28 255.1 943.08C255.47 941.89 255.83 935.69 256.2 933.3C256.57 930.92 256.93 928.87 257.3 928.76C257.67 928.66 258.03 932.6 258.4 932.69C258.77 932.77 259.13 929.58 259.5 929.29C259.87 929 260.23 930.26 260.6 930.93C260.97 931.6 261.33 932.35 261.7 933.3C262.07 934.25 262.43 934.68 262.8 936.62C263.17 938.57 263.53 945.75 263.9 945C264.27 944.24 264.63 934.24 265 932.09C265.37 929.94 265.73 931.21 266.1 932.09C266.47 932.96 266.83 936.22 267.2 937.35C267.57 938.47 267.93 940.45 268.3 938.85C268.67 937.26 269.03 929.25 269.4 927.75C269.77 926.24 270.13 927.56 270.5 929.82C270.87 932.08 271.23 940.4 271.6 941.3C271.97 942.21 272.33 936.58 272.7 935.24C273.07 933.91 273.43 932.83 273.8 933.3C274.17 933.78 274.53 937.88 274.9 938.09C275.27 938.3 275.63 935.48 276 934.58C276.37 933.68 276.73 931.57 277.1 932.69C277.47 933.81 277.83 939.87 278.2 941.3C278.57 942.74 278.93 940.52 279.3 941.3C279.67 942.09 280.03 946.15 280.4 946.01C280.77 945.87 281.13 940.95 281.5 940.46C281.87 939.97 282.23 942.33 282.6 943.08C282.97 943.84 283.33 945.44 283.7 945C284.07 944.56 284.43 940.93 284.8 940.46C285.17 939.99 285.53 942.45 285.9 942.18C286.27 941.91 286.63 937.66 287 938.85C287.37 940.05 287.73 949.21 288.1 949.34C288.47 949.47 288.83 941.39 289.2 939.64C289.57 937.9 289.93 939.91 290.3 938.85C290.67 937.8 291.03 934.62 291.4 933.3C291.77 931.98 292.13 930.49 292.5 930.93C292.87 931.37 293.23 934.47 293.6 935.92C293.97 937.38 294.33 939.53 294.7 939.64C295.07 939.76 295.43 937.58 295.8 936.62C296.17 935.67 296.53 932.54 296.9 933.93C297.27 935.33 297.63 942.62 298 945C298.37 947.37 298.73 947.83 299.1 948.18C299.47 948.53 299.83 946.68 300.2 947.07C300.57 947.47 300.93 951.65 301.3 950.55C301.67 949.45 302.03 941.71 302.4 940.46C302.77 939.22 303.13 943.22 303.5 943.08C303.87 942.95 304.23 941.38 304.6 939.64C304.97 937.91 305.33 931.45 305.7 932.69C306.07 933.93 306.43 945.34 306.8 947.07C307.17 948.81 307.53 942.9 307.9 943.08C308.27 943.27 308.63 948.33 309 948.18C309.37 948.03 309.73 944.55 310.1 942.18C310.47 939.8 310.83 934.08 311.2 933.93C311.57 933.79 311.93 939.93 312.3 941.3C312.67 942.68 313.03 940.84 313.4 942.18C313.77 943.52 314.13 947.94 314.5 949.34C314.87 950.73 315.23 949.91 315.6 950.55C315.97 951.19 316.33 954.85 316.7 953.17C317.07 951.49 317.43 941.29 317.8 940.46C318.17 939.63 318.53 947.59 318.9 948.18C319.27 948.77 319.63 942.43 320 944.02C320.37 945.61 320.73 957.38 321.1 957.71C321.47 958.04 321.83 947.96 322.2 946.01C322.57 944.06 322.93 944.58 323.3 946.01C323.67 947.44 324.03 954.23 324.4 954.6C324.77 954.96 325.13 949.94 325.5 948.18C325.87 946.42 326.23 944.38 326.6 944.02C326.97 943.66 327.33 947 327.7 946.01C328.07 945.03 328.43 936.9 328.8 938.09C329.17 939.28 329.53 952.91 329.9 953.17C330.27 953.43 330.63 941.62 331 939.64C331.37 937.67 331.73 940.41 332.1 941.3C332.47 942.2 332.83 943.24 333.2 945C333.57 946.75 333.93 950.9 334.3 951.83C334.67 952.75 335.03 952.3 335.4 950.55C335.77 948.8 336.13 941.7 336.5 941.3C336.87 940.91 337.23 946.84 337.6 948.18C337.97 949.52 338.33 949.7 338.7 949.34C339.07 948.98 339.43 945.37 339.8 946.01C340.17 946.65 340.53 953 340.9 953.17C341.27 953.35 341.63 949.19 342 947.07C342.37 944.95 342.73 938.09 343.1 940.46C343.47 942.83 343.83 959.98 344.2 961.27C344.57 962.56 344.93 949.53 345.3 948.18C345.67 946.83 346.03 954.17 346.4 953.17C346.77 952.17 347.13 942.18 347.5 942.18C347.87 942.18 348.23 952.36 348.6 953.17C348.97 953.99 349.33 947.3 349.7 947.07C350.07 946.85 350.43 952.17 350.8 951.83C351.17 951.48 351.53 947.16 351.9 945C352.27 942.84 352.63 937.72 353 938.85C353.37 939.99 353.73 949.88 354.1 951.83C354.47 953.78 354.83 950.97 355.2 950.55C355.57 950.14 355.93 948.14 356.3 949.34C356.67 950.53 357.03 958.75 357.4 957.71C357.77 956.67 358.13 945.2 358.5 943.08C358.87 940.96 359.23 942.27 359.6 945C359.97 947.72 360.33 958.7 360.7 959.43C361.07 960.15 361.43 951.9 361.8 949.34C362.17 946.77 362.53 944.58 362.9 944.02C363.27 943.47 363.63 942.45 364 946.01C364.37 949.58 364.73 964.46 365.1 965.43C365.47 966.4 365.83 955.4 366.2 951.83C366.57 948.26 366.93 944.44 367.3 944.02C367.67 943.61 368.03 947.57 368.4 949.34C368.77 951.1 369.13 954.79 369.5 954.6C369.87 954.4 370.23 949.06 370.6 948.18C370.97 947.3 371.33 949.34 371.7 949.34C372.07 949.34 372.43 949.37 372.8 948.18C373.17 946.99 373.53 942.71 373.9 942.18C374.27 941.65 374.63 943.17 375 945C375.37 946.83 375.73 950.46 376.1 953.17C376.47 955.89 376.83 960.51 377.2 961.27C377.57 962.03 377.93 958.57 378.3 957.71C378.67 956.85 379.03 957.3 379.4 956.1C379.77 954.91 380.13 951.48 380.5 950.55C380.87 949.63 381.23 950.75 381.6 950.55C381.97 950.35 382.33 948.66 382.7 949.34C383.07 950.01 383.43 954.18 383.8 954.6C384.17 955.01 384.53 951.83 384.9 951.83C385.27 951.83 385.63 955.01 386 954.6C386.37 954.18 386.73 950.01 387.1 949.34C387.47 948.66 387.83 951.1 388.2 950.55C388.57 950 388.93 944.53 389.3 946.01C389.67 947.49 390.03 958.23 390.4 959.43C390.77 960.62 391.13 953.98 391.5 953.17C391.87 952.37 392.23 953.84 392.6 954.6C392.97 955.35 393.33 957.71 393.7 957.71C394.07 957.71 394.43 952.48 394.8 954.6C395.17 956.71 395.53 971.49 395.9 970.42C396.27 969.35 396.63 950.82 397 948.18C397.37 945.54 397.73 954.78 398.1 954.6C398.47 954.41 398.83 945.96 399.2 947.07C399.57 948.19 399.93 960.25 400.3 961.27C400.67 962.29 401.03 954.03 401.4 953.17C401.77 952.31 402.13 955.06 402.5 956.1C402.87 957.15 403.23 960.14 403.6 959.43C403.97 958.71 404.33 951.83 404.7 951.83C405.07 951.83 405.43 958.97 405.8 959.43C406.17 959.89 406.53 955.4 406.9 954.6C407.27 953.79 407.63 954.83 408 954.6C408.37 954.36 408.73 953.85 409.1 953.17C409.47 952.5 409.83 950.78 410.2 950.55C410.57 950.33 410.93 950.9 411.3 951.83C411.67 952.75 412.03 955.12 412.4 956.1C412.77 957.08 413.13 957.44 413.5 957.71C413.87 957.98 414.23 958.23 414.6 957.71C414.97 957.19 415.33 952.91 415.7 954.6C416.07 956.28 416.43 968.47 416.8 967.8C417.17 967.13 417.53 952.99 417.9 950.55C418.27 948.11 418.63 953.57 419 953.17C419.37 952.78 419.73 947.14 420.1 948.18C420.47 949.22 420.83 956.16 421.2 959.43C421.57 962.7 421.93 967.8 422.3 967.8C422.67 967.8 423.03 961.38 423.4 959.43C423.77 957.48 424.13 957.58 424.5 956.1C424.87 954.62 425.23 950.8 425.6 950.55C425.97 950.3 426.33 950.79 426.7 954.6C427.07 958.4 427.43 972.55 427.8 973.35C428.17 974.16 428.53 959.43 428.9 959.43C429.27 959.43 429.63 973.35 430 973.35C430.37 973.35 430.73 963.01 431.1 959.43C431.47 955.84 431.83 953.09 432.2 951.83C432.57 950.56 432.93 950.85 433.3 951.83C433.67 952.81 434.03 956.44 434.4 957.71C434.77 958.98 435.13 960.62 435.5 959.43C435.87 958.23 436.23 950.24 436.6 950.55C436.97 950.86 437.33 959.48 437.7 961.27C438.07 963.06 438.43 961.58 438.8 961.27C439.17 960.96 439.53 960.02 439.9 959.43C440.27 958.83 440.63 955.39 441 957.71C441.37 960.03 441.73 972.76 442.1 973.35C442.47 973.95 442.83 963.28 443.2 961.27C443.57 959.26 443.93 957.31 444.3 961.27C444.67 965.23 445.03 986.16 445.4 985.05C445.77 983.94 446.13 959.67 446.5 954.6C446.87 949.52 447.23 953.79 447.6 954.6C447.97 955.4 448.33 956.79 448.7 959.43C449.07 962.06 449.43 970.42 449.8 970.42C450.17 970.42 450.53 962.3 450.9 959.43C451.27 956.55 451.63 952.87 452 953.17C452.37 953.48 452.73 961.71 453.1 961.27C453.47 960.83 453.83 950.55 454.2 950.55C454.57 950.55 454.93 957.96 455.3 961.27C455.67 964.58 456.03 971.53 456.4 970.42C456.77 969.31 457.13 954.6 457.5 954.6C457.87 954.6 458.23 970.66 458.6 970.42C458.97 970.18 459.33 955.29 459.7 953.17C460.07 951.05 460.43 954.84 460.8 957.71C461.17 960.58 461.53 969.14 461.9 970.42C462.27 971.71 462.63 968.53 463 965.43C463.37 962.33 463.73 951 464.1 951.83C464.47 952.66 464.83 966.28 465.2 970.42C465.57 974.56 465.93 978.2 466.3 976.68C466.67 975.15 467.03 965.83 467.4 961.27C467.77 956.71 468.13 948.64 468.5 949.34C468.87 950.03 469.23 963.75 469.6 965.43C469.97 967.11 470.33 960.12 470.7 959.43C471.07 958.73 471.43 962.31 471.8 961.27C472.17 960.23 472.53 950.61 472.9 953.17C473.27 955.74 473.63 973.8 474 976.68C474.37 979.55 474.73 971.46 475.1 970.42C475.47 969.38 475.83 970.86 476.2 970.42C476.57 969.98 476.93 969.92 477.3 967.8C477.67 965.68 478.03 957.27 478.4 957.71C478.77 958.15 479.13 968.74 479.5 970.42C479.87 972.1 480.23 968.24 480.6 967.8C480.97 967.36 481.33 968.56 481.7 967.8C482.07 967.04 482.43 965.21 482.8 963.26C483.17 961.31 483.53 956.74 483.9 956.1C484.27 955.46 484.63 957.87 485 959.43C485.37 960.98 485.73 964.79 486.1 965.43C486.47 966.07 486.83 961.39 487.2 963.26C487.57 965.14 487.93 976.68 488.3 976.68C488.67 976.68 489.03 966.14 489.4 963.26C489.77 960.39 490.13 959.76 490.5 959.43C490.87 959.09 491.23 958.95 491.6 961.27C491.97 963.59 492.33 972.26 492.7 973.35C493.07 974.44 493.43 969.48 493.8 967.8C494.17 966.12 494.53 963.26 494.9 963.26C495.27 963.26 495.63 967.8 496 967.8C496.37 967.8 496.73 964.94 497.1 963.26C497.47 961.58 497.83 955.47 498.2 957.71C498.57 959.95 498.93 974.07 499.3 976.68C499.67 979.28 500.03 974.83 500.4 973.35C500.77 971.87 501.13 967.25 501.5 967.8C501.87 968.35 502.23 977.76 502.6 976.68C502.97 975.59 503.33 960.63 503.7 961.27C504.07 961.91 504.43 979.82 504.8 980.51C505.17 981.2 505.53 968.64 505.9 965.43C506.27 962.22 506.63 959.95 507 961.27C507.37 962.59 507.73 970.79 508.1 973.35C508.47 975.92 508.83 979.28 509.2 976.68C509.57 974.07 509.93 957.07 510.3 957.71C510.67 958.35 511.03 980.23 511.4 980.51C511.77 980.8 512.13 956.55 512.5 959.43C512.87 962.3 513.23 996.37 513.6 997.76C513.97 999.16 514.33 973.88 514.7 967.8C515.07 961.72 515.43 962.95 515.8 961.27C516.17 959.59 516.53 953.75 516.9 957.71C517.27 961.67 517.63 981.25 518 985.05C518.37 988.85 518.73 984.14 519.1 980.51C519.47 976.88 519.83 963.26 520.2 963.26C520.57 963.26 520.93 980.15 521.3 980.51C521.67 980.87 522.03 965.43 522.4 965.43C522.77 965.43 523.13 980.87 523.5 980.51C523.87 980.15 524.23 963.9 524.6 963.26C524.97 962.62 525.33 977.01 525.7 976.68C526.07 976.34 526.43 964.15 526.8 961.27C527.17 958.4 527.53 957.41 527.9 959.43C528.27 961.44 528.63 970.48 529 973.35C529.37 976.23 529.73 976.12 530.1 976.68C530.47 977.23 530.83 975.28 531.2 976.68C531.57 978.07 531.93 986.53 532.3 985.05C532.67 983.57 533.03 969.75 533.4 967.8C533.77 965.85 534.13 972.43 534.5 973.35C534.87 974.28 535.23 973.35 535.6 973.35C535.97 973.35 536.33 975.03 536.7 973.35C537.07 971.67 537.43 964.19 537.8 963.26C538.17 962.34 538.53 968.13 538.9 967.8C539.27 967.47 539.63 962.03 540 961.27C540.37 960.51 540.73 962.17 541.1 963.26C541.47 964.35 541.83 967.04 542.2 967.8C542.57 968.56 542.93 968.89 543.3 967.8C543.67 966.71 544.03 959.79 544.4 961.27C544.77 962.75 545.13 975.15 545.5 976.68C545.87 978.2 546.23 972.99 546.6 970.42C546.97 967.85 547.33 961.27 547.7 961.27C548.07 961.27 548.43 968.9 548.8 970.42C549.17 971.95 549.53 968.74 549.9 970.42C550.27 972.1 550.63 978.83 551 980.51C551.37 982.19 551.73 981.71 552.1 980.51C552.47 979.32 552.83 975.47 553.2 973.35C553.57 971.23 553.93 966.61 554.3 967.8C554.67 968.99 555.03 979.03 555.4 980.51C555.77 981.99 556.13 979.19 556.5 976.68C556.87 974.16 557.23 965.43 557.6 965.43C557.97 965.43 558.33 976.28 558.7 976.68C559.07 977.07 559.43 967.8 559.8 967.8C560.17 967.8 560.53 977.07 560.9 976.68C561.27 976.28 561.63 966.47 562 965.43C562.37 964.39 562.73 971.42 563.1 970.42C563.47 969.42 563.83 956.99 564.2 959.43C564.57 961.86 564.93 982.73 565.3 985.05C565.67 987.37 566.03 975.3 566.4 973.35C566.77 971.4 567.13 973.35 567.5 973.35C567.87 973.35 568.42 973.35 568.6 973.35" stroke="#000080" stroke-width="1.5" fill="none" stroke-linejoin="round"/>
<path d="M84.6 965.43C84.77 959.32 85.3 936.38 85.65 928.76C86 921.15 86.35 921.53 86.7 919.73C87.05 917.94 87.4 917.55 87.75 917.99C88.1 918.44 88.45 921.86 88.8 922.4C89.15 922.93 89.5 921.42 89.85 921.22C90.2 921.02 90.55 921.98 90.9 921.22C91.25 920.46 91.6 916.21 91.95 916.68C92.3 917.16 92.65 921.07 93 924.06C93.35 927.04 93.7 934.43 94.05 934.58C94.4 934.72 94.75 926.39 95.1 924.93C95.45 923.47 95.8 925.02 96.15 925.83C96.5 926.65 96.85 928.14 97.2 929.82C97.55 931.51 97.9 936.35 98.25 935.92C98.6 935.5 98.95 928.45 99.3 927.26C99.65 926.06 100 928.15 100.35 928.76C100.7 929.38 101.05 930.28 101.4 930.93C101.75 931.58 102.1 932.59 102.45 932.69C102.8 932.78 103.15 931.4 103.5 931.5C103.85 931.6 104.2 932.68 104.55 933.3C104.9 933.93 105.25 935.91 105.6 935.24C105.95 934.57 106.3 929.51 106.65 929.29C107 929.07 107.35 933.26 107.7 933.93C108.05 934.6 108.4 933.3 108.75 933.3C109.1 933.3 109.45 934.6 109.8 933.93C110.15 933.26 110.5 929.69 110.85 929.29C111.2 928.88 111.55 930.83 111.9 931.5C112.25 932.17 112.6 932.08 112.95 933.3C113.3 934.53 113.65 939.34 114 938.85C114.35 938.37 114.7 932.05 115.05 930.37C115.4 928.69 115.75 928.28 116.1 928.76C116.45 929.25 116.8 932.22 117.15 933.3C117.5 934.38 117.85 934.81 118.2 935.24C118.55 935.68 118.9 936.14 119.25 935.92C119.6 935.71 119.95 933.93 120.3 933.93C120.65 933.93 121 935.82 121.35 935.92C121.7 936.03 122.05 935.41 122.4 934.58C122.75 933.75 123.1 930.35 123.45 930.93C123.8 931.52 124.15 938.36 124.5 938.09C124.85 937.82 125.2 930.09 125.55 929.29C125.9 928.49 126.25 932.08 126.6 933.3C126.95 934.52 127.3 936.52 127.65 936.62C128 936.73 128.35 933.81 128.7 933.93C129.05 934.05 129.4 936.9 129.75 937.35C130.1 937.8 130.45 937.09 130.8 936.62C131.15 936.16 131.5 935.71 131.85 934.58C132.2 933.44 132.55 930.96 132.9 929.82C133.25 928.69 133.6 925.98 133.95 927.75C134.3 929.52 134.65 939.32 135 940.46C135.35 941.6 135.7 934.71 136.05 934.58C136.4 934.44 136.75 939.86 137.1 939.64C137.45 939.43 137.8 933.69 138.15 933.3C138.5 932.92 138.85 937.13 139.2 937.35C139.55 937.56 139.9 935.45 140.25 934.58C140.6 933.7 140.95 930.67 141.3 932.09C141.65 933.51 142 942.78 142.35 943.08C142.7 943.39 143.05 934.64 143.4 933.93C143.75 933.23 144.1 938.52 144.45 938.85C144.8 939.19 145.15 937.15 145.5 935.92C145.85 934.7 146.2 932.24 146.55 931.5C146.9 930.77 147.25 931.5 147.6 931.5C147.95 931.5 148.3 930.77 148.65 931.5C149 932.24 149.35 936.11 149.7 935.92C150.05 935.74 150.4 931.01 150.75 930.37C151.1 929.73 151.45 930.93 151.8 932.09C152.15 933.25 152.5 936.71 152.85 937.35C153.2 937.99 153.55 935.92 153.9 935.92C154.25 935.92 154.6 937.23 154.95 937.35C155.3 937.46 155.65 937.09 156 936.62C156.35 936.16 156.7 933.18 157.05 934.58C157.4 935.97 157.75 945.31 158.1 945C158.45 944.68 158.8 934.64 159.15 932.69C159.5 930.74 159.85 932.53 160.2 933.3C160.55 934.08 160.9 936.55 161.25 937.35C161.6 938.14 161.95 937.71 162.3 938.09C162.65 938.47 163 939.77 163.35 939.64C163.7 939.52 164.05 938.08 164.4 937.35C164.75 936.61 165.1 936.22 165.45 935.24C165.8 934.27 166.15 931.83 166.5 931.5C166.85 931.18 167.2 932.33 167.55 933.3C167.9 934.28 168.25 935.4 168.6 937.35C168.95 939.3 169.3 944.87 169.65 945C170 945.12 170.35 938.56 170.7 938.09C171.05 937.62 171.4 941.64 171.75 942.18C172.1 942.71 172.45 941 172.8 941.3C173.15 941.61 173.5 944.56 173.85 944.02C174.2 943.49 174.55 938.4 174.9 938.09C175.25 937.78 175.6 942.54 175.95 942.18C176.3 941.82 176.65 937.89 177 935.92C177.35 933.96 177.7 929.33 178.05 930.37C178.4 931.41 178.75 941.25 179.1 942.18C179.45 943.1 179.8 936.85 180.15 935.92C180.5 935 180.85 934.39 181.2 936.62C181.55 938.86 181.9 948.97 182.25 949.34C182.6 949.71 182.95 941.31 183.3 938.85C183.65 936.4 184 935.18 184.35 934.58C184.7 933.98 185.05 934.78 185.4 935.24C185.75 935.7 186.1 937 186.45 937.35C186.8 937.7 187.15 937.09 187.5 937.35C187.85 937.6 188.2 939.09 188.55 938.85C188.9 938.62 189.25 937.24 189.6 935.92C189.95 934.6 190.3 931.15 190.65 930.93C191 930.71 191.35 933.26 191.7 934.58C192.05 935.9 192.4 938.14 192.75 938.85C193.1 939.57 193.45 938.98 193.8 938.85C194.15 938.73 194.5 937.38 194.85 938.09C195.2 938.79 195.55 943.21 195.9 943.08C196.25 942.96 196.6 937.03 196.95 937.35C197.3 937.67 197.65 944.04 198 945C198.35 945.95 198.7 942.91 199.05 943.08C199.4 943.25 199.75 944.97 200.1 946.01C200.45 947.06 200.8 949.67 201.15 949.34C201.5 949 201.85 946.26 202.2 944.02C202.55 941.79 202.9 936.52 203.25 935.92C203.6 935.33 203.95 940.57 204.3 940.46C204.65 940.35 205 935.38 205.35 935.24C205.7 935.11 206.05 939.29 206.4 939.64C206.75 940 207.1 937.48 207.45 937.35C207.8 937.21 208.15 939.53 208.5 938.85C208.85 938.18 209.2 933.3 209.55 933.3C209.9 933.3 210.25 937.38 210.6 938.85C210.95 940.33 211.3 942.05 211.65 942.18C212 942.31 212.35 940.57 212.7 939.64C213.05 938.72 213.4 936.62 213.75 936.62C214.1 936.62 214.45 938.57 214.8 939.64C215.15 940.72 215.5 942.51 215.85 943.08C216.2 943.66 216.55 944.61 216.9 943.08C217.25 941.56 217.6 933.61 217.95 933.93C218.3 934.25 218.65 942.43 219 945C219.35 947.57 219.7 950.23 220.05 949.34C220.4 948.44 220.75 940.37 221.1 939.64C221.45 938.92 221.8 944.43 222.15 945C222.5 945.57 222.85 943.84 223.2 943.08C223.55 942.33 223.9 940.76 224.25 940.46C224.6 940.16 224.95 940.71 225.3 941.3C225.65 941.9 226 943.41 226.35 944.02C226.7 944.64 227.05 945.59 227.4 945C227.75 944.4 228.1 940.62 228.45 940.46C228.8 940.3 229.15 942.92 229.5 944.02C229.85 945.12 230.2 947.67 230.55 947.07C230.9 946.48 231.25 941.56 231.6 940.46C231.95 939.36 232.3 939.36 232.65 940.46C233 941.56 233.35 947.07 233.7 947.07C234.05 947.07 234.4 942.32 234.75 940.46C235.1 938.6 235.45 936.44 235.8 935.92C236.15 935.4 236.5 936.99 236.85 937.35C237.2 937.71 237.55 935.45 237.9 938.09C238.25 940.73 238.6 951.3 238.95 953.17C239.3 955.05 239.65 950.7 240 949.34C240.35 947.97 240.7 944.58 241.05 945C241.4 945.41 241.75 950.23 242.1 951.83C242.45 953.43 242.8 956.2 243.15 954.6C243.5 952.99 243.85 944.67 244.2 942.18C244.55 939.69 244.9 940.33 245.25 939.64C245.6 938.96 245.95 938.22 246.3 938.09C246.65 937.96 247 937.53 247.35 938.85C247.7 940.18 248.05 946.01 248.4 946.01C248.75 946.01 249.1 940.65 249.45 938.85C249.8 937.06 250.15 934.69 250.5 935.24C250.85 935.8 251.2 941.83 251.55 942.18C251.9 942.53 252.25 937.49 252.6 937.35C252.95 937.2 253.3 940.19 253.65 941.3C254 942.42 254.35 943.41 254.7 944.02C255.05 944.64 255.4 942.98 255.75 945C256.1 947.01 256.45 953.7 256.8 956.1C257.15 958.51 257.5 962.43 257.85 959.43C258.2 956.42 258.55 940.96 258.9 938.09C259.25 935.21 259.6 941.35 259.95 942.18C260.3 943.01 260.65 941.69 261 943.08C261.35 944.48 261.7 949.7 262.05 950.55C262.4 951.4 262.75 948.18 263.1 948.18C263.45 948.18 263.8 951.84 264.15 950.55C264.5 949.26 264.85 941.86 265.2 940.46C265.55 939.07 265.9 941.58 266.25 942.18C266.6 942.77 266.95 944.58 267.3 944.02C267.65 943.47 268 938.69 268.35 938.85C268.7 939.02 269.05 944.87 269.4 945C269.75 945.13 270.1 939.96 270.45 939.64C270.8 939.33 271.15 941.66 271.5 943.08C271.85 944.51 272.2 948.88 272.55 948.18C272.9 947.47 273.25 939.7 273.6 938.85C273.95 938.01 274.3 942.53 274.65 943.08C275 943.64 275.35 942.18 275.7 942.18C276.05 942.18 276.4 942.61 276.75 943.08C277.1 943.55 277.45 945.15 277.8 945C278.15 944.85 278.5 942.93 278.85 942.18C279.2 941.42 279.55 940.46 279.9 940.46C280.25 940.46 280.6 941.74 280.95 942.18C281.3 942.61 281.65 940.76 282 943.08C282.35 945.4 282.7 956.25 283.05 956.1C283.4 955.95 283.75 943.31 284.1 942.18C284.45 941.05 284.8 948.87 285.15 949.34C285.5 949.81 285.85 946.61 286.2 945C286.55 943.38 286.9 939.81 287.25 939.64C287.6 939.48 287.95 943.29 288.3 944.02C288.65 944.75 289 944.33 289.35 944.02C289.7 943.71 290.05 942.33 290.4 942.18C290.75 942.02 291.1 942.78 291.45 943.08C291.8 943.39 292.15 944.02 292.5 944.02C292.85 944.02 293.2 943.54 293.55 943.08C293.9 942.63 294.25 940.06 294.6 941.3C294.95 942.55 295.3 949.77 295.65 950.55C296 951.34 296.35 946.94 296.7 946.01C297.05 945.09 297.4 943.8 297.75 945C298.1 946.19 298.45 953.34 298.8 953.17C299.15 953.01 299.5 945.55 299.85 944.02C300.2 942.5 300.55 944.47 300.9 944.02C301.25 943.57 301.6 940.97 301.95 941.3C302.3 941.64 302.65 945.05 303 946.01C303.35 946.98 303.7 947.24 304.05 947.07C304.4 946.9 304.75 945.66 305.1 945C305.45 944.33 305.8 941.94 306.15 943.08C306.5 944.22 306.85 951.16 307.2 951.83C307.55 952.49 307.9 947.68 308.25 947.07C308.6 946.46 308.95 948.36 309.3 948.18C309.65 948 310 945.62 310.35 946.01C310.7 946.41 311.05 947.68 311.4 950.55C311.75 953.43 312.1 964.19 312.45 963.26C312.8 962.34 313.15 945.64 313.5 945C313.85 944.36 314.2 957.02 314.55 959.43C314.9 961.83 315.25 960.23 315.6 959.43C315.95 958.62 316.3 956.83 316.65 954.6C317 952.36 317.35 947.27 317.7 946.01C318.05 944.76 318.4 945.64 318.75 947.07C319.1 948.5 319.45 952.82 319.8 954.6C320.15 956.37 320.5 959.78 320.85 957.71C321.2 955.64 321.55 942.93 321.9 942.18C322.25 941.42 322.6 951.78 322.95 953.17C323.3 954.57 323.65 951.91 324 950.55C324.35 949.19 324.7 944.56 325.05 945C325.4 945.44 325.75 950.46 326.1 953.17C326.45 955.89 326.8 960.78 327.15 961.27C327.5 961.76 327.85 957.45 328.2 956.1C328.55 954.75 328.9 955.34 329.25 953.17C329.6 951 329.95 944.1 330.3 943.08C330.65 942.07 331 946.41 331.35 947.07C331.7 947.74 332.05 946.89 332.4 947.07C332.75 947.26 333.1 947.8 333.45 948.18C333.8 948.56 334.15 949.34 334.5 949.34C334.85 949.34 335.2 945.86 335.55 948.18C335.9 950.5 336.25 964.11 336.6 963.26C336.95 962.41 337.3 944.28 337.65 943.08C338 941.89 338.35 954.65 338.7 956.1C339.05 957.56 339.4 953.33 339.75 951.83C340.1 950.32 340.45 945.5 340.8 947.07C341.15 948.65 341.5 961.78 341.85 961.27C342.2 960.76 342.55 944.88 342.9 944.02C343.25 943.16 343.6 954.34 343.95 956.1C344.3 957.87 344.65 954.85 345 954.6C345.35 954.34 345.7 953.48 346.05 954.6C346.4 955.71 346.75 961.27 347.1 961.27C347.45 961.27 347.8 956.78 348.15 954.6C348.5 952.41 348.85 949.25 349.2 948.18C349.55 947.11 349.9 946.59 350.25 948.18C350.6 949.77 350.95 957.52 351.3 957.71C351.65 957.9 352 949.34 352.35 949.34C352.7 949.34 353.05 956.31 353.4 957.71C353.75 959.11 354.1 956.42 354.45 957.71C354.8 959 355.15 964.83 355.5 965.43C355.85 966.02 356.2 963.08 356.55 961.27C356.9 959.47 357.25 955.71 357.6 954.6C357.95 953.48 358.3 954.08 358.65 954.6C359 955.11 359.35 956.27 359.7 957.71C360.05 959.15 360.4 964.02 360.75 963.26C361.1 962.51 361.45 954.85 361.8 953.17C362.15 951.49 362.5 953.81 362.85 953.17C363.2 952.53 363.55 947.29 363.9 949.34C364.25 951.38 364.6 965.23 364.95 965.43C365.3 965.63 365.65 951.24 366 950.55C366.35 949.86 366.7 956.92 367.05 961.27C367.4 965.63 367.75 978.46 368.1 976.68C368.45 974.89 368.8 953.12 369.15 950.55C369.5 947.98 369.85 961.06 370.2 961.27C370.55 961.48 370.9 953.4 371.25 951.83C371.6 950.25 371.95 951.6 372.3 951.83C372.65 952.05 373 951.27 373.35 953.17C373.7 955.08 374.05 963.03 374.4 963.26C374.75 963.5 375.1 955.79 375.45 954.6C375.8 953.4 376.15 954.99 376.5 956.1C376.85 957.22 377.2 959.72 377.55 961.27C377.9 962.83 378.25 966.02 378.6 965.43C378.95 964.83 379.3 958.71 379.65 957.71C380 956.71 380.35 960.18 380.7 959.43C381.05 958.67 381.4 953.46 381.75 953.17C382.1 952.89 382.45 956.67 382.8 957.71C383.15 958.75 383.5 959.69 383.85 959.43C384.2 959.16 384.55 955.1 384.9 956.1C385.25 957.1 385.6 965.16 385.95 965.43C386.3 965.7 386.65 959 387 957.71C387.35 956.42 387.7 957.42 388.05 957.71C388.4 958 388.75 960.41 389.1 959.43C389.45 958.45 389.8 951.83 390.15 951.83C390.5 951.83 390.85 956.33 391.2 959.43C391.55 962.53 391.9 972.3 392.25 970.42C392.6 968.55 392.95 950.01 393.3 948.18C393.65 946.35 394 955.72 394.35 959.43C394.7 963.13 395.05 968.1 395.4 970.42C395.75 972.74 396.1 974.55 396.45 973.35C396.8 972.16 397.15 963.75 397.5 963.26C397.85 962.77 398.2 969.67 398.55 970.42C398.9 971.18 399.25 970.19 399.6 967.8C399.95 965.41 400.3 954.62 400.65 956.1C401 957.58 401.35 975.81 401.7 976.68C402.05 977.54 402.4 959.88 402.75 961.27C403.1 962.67 403.45 986.16 403.8 985.05C404.15 983.94 404.5 956.54 404.85 954.6C405.2 952.65 405.55 972.55 405.9 973.35C406.25 974.16 406.6 960.35 406.95 959.43C407.3 958.5 407.65 968.09 408 967.8C408.35 967.51 408.7 959.11 409.05 957.71C409.4 956.31 409.75 960.41 410.1 959.43C410.45 958.45 410.8 950.83 411.15 951.83C411.5 952.83 411.85 964.16 412.2 965.43C412.55 966.69 412.9 959.03 413.25 959.43C413.6 959.82 413.95 966.8 414.3 967.8C414.65 968.8 415 966.52 415.35 965.43C415.7 964.34 416.05 961.96 416.4 961.27C416.75 960.58 417.1 960.58 417.45 961.27C417.8 961.96 418.15 963.9 418.5 965.43C418.85 966.95 419.2 972.23 419.55 970.42C419.9 968.62 420.25 952.16 420.6 954.6C420.95 957.03 421.3 982.41 421.65 985.05C422 987.69 422.35 973.3 422.7 970.42C423.05 967.55 423.4 970.44 423.75 967.8C424.1 965.16 424.45 953.12 424.8 954.6C425.15 956.07 425.5 973.55 425.85 976.68C426.2 979.8 426.55 974.83 426.9 973.35C427.25 971.87 427.6 968.29 427.95 967.8C428.3 967.31 428.65 971.51 429 970.42C429.35 969.33 429.7 964.15 430.05 961.27C430.4 958.4 430.75 952.08 431.1 953.17C431.45 954.26 431.8 965.36 432.15 967.8C432.5 970.24 432.85 967.8 433.2 967.8C433.55 967.8 433.9 970.24 434.25 967.8C434.6 965.36 434.95 952.74 435.3 953.17C435.65 953.61 436 967.55 436.35 970.42C436.7 973.3 437.05 972.54 437.4 970.42C437.75 968.3 438.1 959.83 438.45 957.71C438.8 955.59 439.15 956.42 439.5 957.71C439.85 959 440.2 964.14 440.55 965.43C440.9 966.71 441.25 963.55 441.6 965.43C441.95 967.3 442.3 978.23 442.65 976.68C443 975.12 443.35 956.1 443.7 956.1C444.05 956.1 444.4 975.12 444.75 976.68C445.1 978.23 445.45 964.79 445.8 965.43C446.15 966.07 446.5 976.32 446.85 980.51C447.2 984.71 447.55 990.6 447.9 990.6C448.25 990.6 448.6 984.71 448.95 980.51C449.3 976.32 449.65 968.94 450 965.43C450.35 961.91 450.7 959.43 451.05 959.43C451.4 959.43 451.75 963.11 452.1 965.43C452.45 967.75 452.8 972.96 453.15 973.35C453.5 973.75 453.85 968.29 454.2 967.8C454.55 967.31 454.9 969.98 455.25 970.42C455.6 970.86 455.95 969.93 456.3 970.42C456.65 970.91 457 969.99 457.35 973.35C457.7 976.72 458.05 991.92 458.4 990.6C458.75 989.28 459.1 969.98 459.45 965.43C459.8 960.87 460.15 960.75 460.5 963.26C460.85 965.78 461.2 978.83 461.55 980.51C461.9 982.19 462.25 975.03 462.6 973.35C462.95 971.67 463.3 971.35 463.65 970.42C464 969.5 464.35 964.44 464.7 967.8C465.05 971.16 465.4 990.16 465.75 990.6C466.1 991.04 466.45 975.31 466.8 970.42C467.15 965.53 467.5 962.8 467.85 961.27C468.2 959.75 468.55 960.58 468.9 961.27C469.25 961.96 469.6 960.54 469.95 965.43C470.3 970.32 470.65 989.77 471 990.6C471.35 991.43 471.7 973.79 472.05 970.42C472.4 967.06 472.75 969.93 473.1 970.42C473.45 970.91 473.8 971.67 474.15 973.35C474.5 975.03 474.85 981.83 475.2 980.51C475.55 979.19 475.9 966.07 476.25 965.43C476.6 964.79 476.95 975.36 477.3 976.68C477.65 978 478 973.35 478.35 973.35C478.7 973.35 479.05 979 479.4 976.68C479.75 974.35 480.1 957.11 480.45 959.43C480.8 961.75 481.15 989.21 481.5 990.6C481.85 992 482.2 970.12 482.55 967.8C482.9 965.48 483.25 975.2 483.6 976.68C483.95 978.16 484.3 975.28 484.65 976.68C485 978.07 485.35 986.53 485.7 985.05C486.05 983.57 486.4 968.56 486.75 967.8C487.1 967.04 487.45 979.59 487.8 980.51C488.15 981.44 488.5 973.99 488.85 973.35C489.2 972.71 489.55 976.68 489.9 976.68C490.25 976.68 490.6 971.03 490.95 973.35C491.3 975.67 491.65 987.73 492 990.6C492.35 993.48 492.7 994.4 493.05 990.6C493.4 986.8 493.75 972.36 494.1 967.8C494.45 963.24 494.8 964.02 495.15 963.26C495.5 962.51 495.85 957.51 496.2 963.26C496.55 969.01 496.9 996.08 497.25 997.76C497.6 999.44 497.95 976.87 498.3 973.35C498.65 969.84 499 978 499.35 976.68C499.7 975.36 500.05 965.43 500.4 965.43C500.75 965.43 501.1 971.29 501.45 976.68C501.8 982.06 502.15 997.12 502.5 997.76C502.85 998.4 503.2 984.03 503.55 980.51C503.9 977 504.25 974.99 504.6 976.68C504.95 978.36 505.3 990.6 505.65 990.6C506 990.6 506.35 975.48 506.7 976.68C507.05 977.87 507.4 998.31 507.75 997.76C508.1 997.21 508.45 975.47 508.8 973.35C509.15 971.23 509.5 986.37 509.85 985.05C510.2 983.73 510.55 966.18 510.9 965.43C511.25 964.67 511.6 980.51 511.95 980.51C512.3 980.51 512.65 964.67 513 965.43C513.35 966.18 513.7 982.54 514.05 985.05C514.4 987.56 514.75 981.91 515.1 980.51C515.45 979.12 515.8 977.87 516.15 976.68C516.5 975.48 516.85 974.4 517.2 973.35C517.55 972.31 517.9 970.91 518.25 970.42C518.6 969.93 518.95 964.18 519.3 970.42C519.65 976.66 520 1004.49 520.35 1007.85C520.7 1011.21 521.05 995.8 521.4 990.6C521.75 985.41 522.1 978.36 522.45 976.68C522.8 974.99 523.15 979.87 523.5 980.51C523.85 981.15 524.2 977.64 524.55 980.51C524.9 983.39 525.25 997 525.6 997.76C525.95 998.52 526.3 987.17 526.65 985.05C527 982.93 527.35 985.05 527.7 985.05C528.05 985.05 528.4 987.49 528.75 985.05C529.1 982.61 529.45 970.42 529.8 970.42C530.15 970.42 530.5 984.56 530.85 985.05C531.2 985.54 531.55 975.3 531.9 973.35C532.25 971.4 532.6 972.16 532.95 973.35C533.3 974.55 533.65 980.51 534 980.51C534.35 980.51 534.7 973.35 535.05 973.35C535.4 973.35 535.75 979.96 536.1 980.51C536.45 981.07 536.8 975.92 537.15 976.68C537.5 977.43 537.85 985.6 538.2 985.05C538.55 984.5 538.9 974.75 539.25 973.35C539.6 971.96 539.95 976.12 540.3 976.68C540.65 977.23 541 977.72 541.35 976.68C541.7 975.63 542.05 969.78 542.4 970.42C542.75 971.06 543.1 977.15 543.45 980.51C543.8 983.88 544.15 988.92 544.5 990.6C544.85 992.28 545.2 989.41 545.55 990.6C545.9 991.8 546.25 999.44 546.6 997.76C546.95 996.08 547.3 982.63 547.65 980.51C548 978.39 548.35 986.24 548.7 985.05C549.05 983.86 549.4 972.43 549.75 973.35C550.1 974.28 550.45 988.65 550.8 990.6C551.15 992.55 551.5 986.73 551.85 985.05C552.2 983.37 552.55 981.27 552.9 980.51C553.25 979.76 553.6 977.64 553.95 980.51C554.3 983.39 554.65 998.4 555 997.76C555.35 997.12 555.7 977.87 556.05 976.68C556.4 975.48 556.75 990.6 557.1 990.6C557.45 990.6 557.8 975.48 558.15 976.68C558.5 977.87 558.85 999.24 559.2 997.76C559.55 996.28 559.9 973.19 560.25 967.8C560.6 962.41 560.95 962.55 561.3 965.43C561.65 968.3 562 983.73 562.35 985.05C562.7 986.37 563.05 974.11 563.4 973.35C563.75 972.6 564.1 978.56 564.45 980.51C564.8 982.46 565.15 982.17 565.5 985.05C565.85 987.92 566.2 998.52 566.55 997.76C566.9 997 567.25 981.71 567.6 980.51C567.95 979.32 568.47 988.92 568.65 990.6" stroke="#1a70f5" stroke-width="1.6" fill="none" stroke-linejoin="round"/>
<path d="M85 920.27C85.2 918.7 85.95 913.16 86.2 910.83C86.45 908.5 86.3 907.27 86.5 906.27C86.7 905.27 87.07 905.99 87.4 904.82C87.73 903.65 88.3 900.44 88.5 899.23C88.7 898.02 88.38 897.43 88.6 897.56C88.82 897.7 89.4 900 89.8 900.04C90.2 900.07 90.6 897.94 91 897.78C91.4 897.62 91.8 898.73 92.2 899.1C92.6 899.47 93 899.98 93.4 900C93.8 900.02 94.2 899.48 94.6 899.23C95 898.99 95.4 899.01 95.8 898.54C96.2 898.07 96.6 896.56 97 896.41C97.4 896.27 97.8 897.66 98.2 897.68C98.6 897.7 99.1 896.25 99.4 896.54C99.7 896.82 99.8 899.09 100 899.38C100.2 899.66 100.3 898.37 100.6 898.23C100.9 898.09 101.4 898.44 101.8 898.53C102.2 898.61 102.6 898.89 103 898.75C103.4 898.61 103.8 898.08 104.2 897.68C104.6 897.28 105 896.51 105.4 896.35C105.8 896.19 106.2 896.68 106.6 896.72C107 896.76 107.4 896.77 107.8 896.6C108.2 896.42 108.6 895.64 109 895.66C109.4 895.67 109.8 896.74 110.2 896.67C110.6 896.59 111 895.26 111.4 895.22C111.8 895.17 112.2 896.32 112.6 896.41C113 896.5 113.4 895.81 113.8 895.74C114.2 895.67 114.6 895.4 115 895.98C115.4 896.57 115.8 899.37 116.2 899.24C116.6 899.1 117 895.56 117.4 895.17C117.8 894.77 118.2 897.07 118.6 896.86C119 896.65 119.57 894 119.8 893.88C120.03 893.77 119.8 895.72 120 896.17C120.2 896.62 120.63 896.67 121 896.57C121.37 896.48 121.8 895.86 122.2 895.6C122.6 895.33 123 894.98 123.4 894.99C123.8 895 124.2 895.44 124.6 895.66C125 895.88 125.4 895.89 125.8 896.3C126.2 896.7 126.6 898.66 127 898.08C127.4 897.51 127.8 893.37 128.2 892.83C128.6 892.29 129 894.33 129.4 894.86C129.8 895.39 130.2 895.96 130.6 896.01C131 896.05 131.4 895.12 131.8 895.12C132.2 895.12 132.6 895.96 133 896.02C133.4 896.09 133.8 895.89 134.2 895.51C134.6 895.13 135 894.06 135.4 893.74C135.8 893.41 136.2 893.9 136.6 893.55C137 893.2 137.4 891.87 137.8 891.64C138.2 891.42 138.63 892.13 139 892.21C139.37 892.29 139.8 891.6 140 892.11C140.2 892.62 139.97 894.93 140.2 895.26C140.43 895.59 141 894.71 141.4 894.07C141.8 893.44 142.2 891.68 142.6 891.45C143 891.22 143.4 892.53 143.8 892.67C144.2 892.81 144.6 892.47 145 892.29C145.4 892.11 145.8 891.84 146.2 891.61C146.6 891.37 147 891.03 147.4 890.88C147.8 890.73 148.2 890.14 148.6 890.69C149 891.24 149.4 894.48 149.8 894.18C150.2 893.87 150.6 889.77 151 888.86C151.4 887.94 151.8 887.94 152.2 888.69C152.6 889.44 153 892.94 153.4 893.34C153.8 893.74 154.2 891.61 154.6 891.09C155 890.58 155.4 890.2 155.8 890.25C156.2 890.3 156.6 891.53 157 891.38C157.4 891.23 157.8 889.61 158.2 889.35C158.6 889.08 159 890.09 159.4 889.78C159.8 889.47 160.2 887.86 160.6 887.47C161 887.08 161.4 886.78 161.8 887.44C162.2 888.1 162.6 890.86 163 891.44C163.4 892.02 163.8 891.33 164.2 890.92C164.6 890.51 165 889.41 165.4 888.97C165.8 888.53 166.2 888.12 166.6 888.29C167 888.47 167.4 889.83 167.8 890.03C168.2 890.23 168.6 889.74 169 889.49C169.4 889.25 169.8 888.76 170.2 888.56C170.6 888.35 171 888.56 171.4 888.28C171.8 887.99 172.2 886.93 172.6 886.84C173 886.76 173.4 887.68 173.8 887.78C174.2 887.88 174.6 887.57 175 887.45C175.4 887.33 175.8 887.3 176.2 887.06C176.6 886.82 177 885.79 177.4 886C177.8 886.21 178.2 888.38 178.6 888.33C179 888.28 179.4 886.02 179.8 885.71C180.2 885.39 180.6 886.14 181 886.45C181.4 886.77 181.95 887.53 182.2 887.6C182.45 887.67 182.3 886.81 182.5 886.86C182.7 886.9 183.05 887.7 183.4 887.89C183.75 888.08 184.2 887.94 184.6 887.98C185 888.02 185.4 888.5 185.8 888.13C186.2 887.76 186.6 886.31 187 885.76C187.4 885.2 187.8 884.99 188.2 884.8C188.6 884.61 189 884.75 189.4 884.62C189.8 884.48 190.2 884.23 190.6 883.98C191 883.72 191.4 882.7 191.8 883.08C192.2 883.47 192.6 886.06 193 886.27C193.4 886.49 193.8 884.54 194.2 884.37C194.6 884.2 195 885.11 195.4 885.25C195.8 885.38 196.2 885.7 196.6 885.19C197 884.68 197.4 882.68 197.8 882.19C198.2 881.7 198.6 882.49 199 882.25C199.4 882.01 199.8 880.81 200.2 880.73C200.6 880.65 201 881.82 201.4 881.78C201.8 881.73 202.2 879.92 202.6 880.44C203 880.97 203.4 884.79 203.8 884.91C204.2 885.03 204.8 882.07 205 881.17C205.2 880.27 204.8 879.69 205 879.5C205.2 879.32 205.8 879.88 206.2 880.07C206.6 880.26 207 880.86 207.4 880.66C207.8 880.46 208.2 879.92 208.6 878.88C209 877.83 209.4 874.19 209.8 874.39C210.2 874.59 210.6 879.75 211 880.08C211.4 880.41 211.8 877.38 212.2 876.37C212.6 875.36 213 874.63 213.4 874.04C213.8 873.44 214.2 873.14 214.6 872.81C215 872.49 215.47 872.21 215.8 872.09C216.13 871.98 216.4 871.94 216.6 872.11C216.8 872.27 216.73 873.07 217 873.09C217.27 873.12 217.8 872.63 218.2 872.24C218.6 871.85 219 871.34 219.4 870.74C219.8 870.14 220.2 868.72 220.6 868.62C221 868.53 221.4 870.27 221.8 870.16C222.2 870.05 222.6 868.59 223 867.98C223.4 867.37 223.8 867.47 224.2 866.52C224.6 865.57 225 862.47 225.4 862.27C225.8 862.07 226.2 864.87 226.6 865.33C227 865.79 227.57 865.06 227.8 865.04C228.03 865.02 227.8 865.78 228 865.19C228.2 864.61 228.63 861.83 229 861.51C229.37 861.18 229.8 863.13 230.2 863.23C230.6 863.33 231 862.37 231.4 862.13C231.8 861.88 232.2 861.93 232.6 861.76C233 861.58 233.4 861.27 233.8 861.08C234.2 860.9 234.6 860.92 235 860.64C235.4 860.35 235.8 859.66 236.2 859.37C236.6 859.08 237 859.27 237.4 858.88C237.8 858.5 238.2 857.13 238.6 857.05C239 856.98 239.4 858.26 239.8 858.42C240.2 858.58 240.6 858.43 241 858.01C241.4 857.59 241.8 856.1 242.2 855.9C242.6 855.71 243 856.52 243.4 856.85C243.8 857.18 244.2 858.29 244.6 857.89C245 857.49 245.4 855.25 245.8 854.46C246.2 853.67 246.8 852.58 247 853.16C247.2 853.74 246.8 857.9 247 857.96C247.2 858.02 247.8 854.64 248.2 853.51C248.6 852.38 249 851.35 249.4 851.17C249.8 851 250.2 852.13 250.6 852.44C251 852.75 251.4 853.3 251.8 853.04C252.2 852.79 252.6 851.36 253 850.92C253.4 850.49 253.8 850.78 254.2 850.45C254.6 850.13 255 849 255.4 848.96C255.8 848.92 256.2 850.37 256.6 850.22C257 850.08 257.4 848.59 257.8 848.11C258.2 847.62 258.6 847.34 259 847.31C259.4 847.28 259.8 848.21 260.2 847.93C260.6 847.65 261 845.74 261.4 845.64C261.8 845.55 262.2 847.37 262.6 847.36C263 847.36 263.4 846.08 263.8 845.63C264.2 845.18 264.6 844.84 265 844.68C265.4 844.52 265.8 845.02 266.2 844.67C266.6 844.32 267 843 267.4 842.56C267.8 842.12 268.2 841.95 268.6 842.02C269 842.09 269.6 842.94 269.8 842.97C270 842.99 269.6 842.64 269.8 842.18C270 841.71 270.6 840.1 271 840.17C271.4 840.25 271.8 842.51 272.2 842.6C272.6 842.7 273 841.04 273.4 840.74C273.8 840.44 274.2 840.87 274.6 840.81C275 840.74 275.4 840.4 275.8 840.35C276.2 840.3 276.6 840.63 277 840.52C277.4 840.42 277.8 840.11 278.2 839.71C278.6 839.32 279 838.18 279.4 838.13C279.8 838.08 280.2 839.56 280.6 839.41C281 839.26 281.4 837.42 281.8 837.24C282.2 837.06 282.6 838.26 283 838.32C283.4 838.38 283.8 837.84 284.2 837.6C284.6 837.36 285 837.07 285.4 836.87C285.8 836.67 286.2 836.51 286.6 836.39C287 836.28 287.4 836.37 287.8 836.2C288.2 836.03 288.6 835.33 289 835.38C289.4 835.42 289.8 836.34 290.2 836.46C290.6 836.59 291 836.3 291.4 836.12C291.8 835.95 292.2 835.8 292.6 835.41C293 835.03 293.4 833.86 293.8 833.8C294.2 833.75 294.6 835.33 295 835.1C295.4 834.88 295.8 832.61 296.2 832.48C296.6 832.35 297 834.02 297.4 834.33C297.8 834.64 298.2 834.61 298.6 834.33C299 834.06 299.4 832.94 299.8 832.68C300.2 832.43 300.6 832.78 301 832.8C301.4 832.83 301.8 832.91 302.2 832.84C302.6 832.76 303 832.77 303.4 832.37C303.8 831.97 304.2 830.56 304.6 830.42C305 830.28 305.4 831.49 305.8 831.53C306.2 831.56 306.68 830.77 307 830.63C307.32 830.49 307.5 830.88 307.7 830.68C307.9 830.48 307.92 829.45 308.2 829.43C308.48 829.42 309 830.26 309.4 830.58C309.8 830.9 310.2 831.16 310.6 831.38C311 831.59 311.4 832.17 311.8 831.88C312.2 831.6 312.6 830.15 313 829.66C313.4 829.17 313.8 828.95 314.2 828.96C314.6 828.98 315 829.55 315.4 829.74C315.8 829.92 316.2 830.3 316.6 830.06C317 829.83 317.4 828.84 317.8 828.35C318.2 827.85 318.6 827.04 319 827.08C319.4 827.12 319.8 828.42 320.2 828.58C320.6 828.73 321 828.22 321.4 828.03C321.8 827.85 322.2 827.44 322.6 827.47C323 827.5 323.4 828.15 323.8 828.22C324.2 828.29 324.6 828.01 325 827.89C325.4 827.77 325.8 827.74 326.2 827.49C326.6 827.24 327 826.55 327.4 826.4C327.8 826.24 328.2 826.29 328.6 826.57C329 826.86 329.4 828.24 329.8 828.09C330.2 827.94 330.6 826 331 825.67C331.4 825.35 331.8 826.13 332.2 826.15C332.6 826.16 333 825.77 333.4 825.75C333.8 825.72 334.2 826.19 334.6 825.99C335 825.79 335.4 824.62 335.8 824.56C336.2 824.5 336.6 825.47 337 825.62C337.4 825.77 337.8 825.38 338.2 825.44C338.6 825.5 339.1 825.87 339.4 825.96C339.7 826.06 339.8 826.35 340 826.01C340.2 825.66 340.3 824.33 340.6 823.87C340.9 823.41 341.4 823.08 341.8 823.24C342.2 823.39 342.6 824.62 343 824.8C343.4 824.97 343.8 824.44 344.2 824.3C344.6 824.16 345 824.07 345.4 823.96C345.8 823.85 346.2 823.66 346.6 823.66C347 823.66 347.4 823.66 347.8 823.97C348.2 824.28 348.6 825.49 349 825.51C349.4 825.54 349.8 824.03 350.2 824.12C350.6 824.22 351 826.16 351.4 826.07C351.8 825.98 352.2 823.83 352.6 823.6C353 823.36 353.4 824.53 353.8 824.65C354.2 824.77 354.6 824.3 355 824.3C355.4 824.31 355.8 824.45 356.2 824.66C356.6 824.87 357 825.61 357.4 825.57C357.8 825.53 358.2 824.52 358.6 824.42C359 824.32 359.4 825.02 359.8 824.99C360.2 824.96 360.6 824.44 361 824.22C361.4 824 361.8 823.69 362.2 823.65C362.6 823.6 363 824.02 363.4 823.94C363.8 823.85 364.2 823.16 364.6 823.14C365 823.12 365.4 823.59 365.8 823.81C366.2 824.02 366.6 824.55 367 824.44C367.4 824.33 367.8 823.03 368.2 823.15C368.6 823.26 369 825.41 369.4 825.13C369.8 824.86 370.2 821.71 370.6 821.51C371 821.32 371.4 823.64 371.8 823.95C372.2 824.26 372.6 823.54 373 823.36C373.4 823.18 373.87 822.96 374.2 822.88C374.53 822.8 374.8 822.67 375 822.86C375.2 823.04 375.13 823.87 375.4 823.99C375.67 824.12 376.2 823.57 376.6 823.62C377 823.67 377.4 824.03 377.8 824.27C378.2 824.51 378.6 825.4 379 825.05C379.4 824.7 379.8 822.67 380.2 822.17C380.6 821.67 381 821.86 381.4 822.05C381.8 822.24 382.2 822.93 382.6 823.31C383 823.69 383.4 824.18 383.8 824.32C384.2 824.47 384.6 824.36 385 824.19C385.4 824.02 385.8 823.32 386.2 823.31C386.6 823.3 387 823.94 387.4 824.13C387.8 824.33 388.2 824.38 388.6 824.47C389 824.56 389.4 824.72 389.8 824.69C390.2 824.67 390.6 824.06 391 824.31C391.4 824.56 391.8 826.34 392.2 826.19C392.6 826.04 393 823.59 393.4 823.42C393.8 823.25 394.2 824.9 394.6 825.17C395 825.43 395.4 825.08 395.8 825.01C396.2 824.95 396.6 824.85 397 824.77C397.4 824.7 397.8 824.62 398.2 824.55C398.6 824.48 399 824.17 399.4 824.37C399.8 824.58 400.2 825.68 400.6 825.8C401 825.92 401.4 825.21 401.8 825.11C402.2 825 402.6 825.2 403 825.18C403.4 825.15 403.8 824.83 404.2 824.95C404.6 825.08 405 825.8 405.4 825.91C405.8 826.02 406.2 825.32 406.6 825.6C407 825.89 407.4 827.53 407.8 827.64C408.2 827.75 408.6 826.51 409 826.28C409.4 826.05 409.8 826.12 410.2 826.27C410.6 826.42 411 827.21 411.4 827.18C411.8 827.16 412.2 826.07 412.6 826.12C413 826.16 413.4 827.22 413.8 827.45C414.2 827.69 414.6 827.57 415 827.51C415.4 827.45 415.8 827.18 416.2 827.1C416.6 827.03 417 826.99 417.4 827.06C417.8 827.13 418.2 827.33 418.6 827.52C419 827.71 419.4 828.01 419.8 828.22C420.2 828.43 420.6 829.01 421 828.79C421.4 828.57 421.8 827.01 422.2 826.9C422.6 826.79 423 827.86 423.4 828.13C423.8 828.4 424.2 828.55 424.6 828.54C425 828.53 425.57 827.96 425.8 828.07C426.03 828.18 425.8 829.19 426 829.19C426.2 829.19 426.63 828.31 427 828.09C427.37 827.87 427.8 827.94 428.2 827.9C428.6 827.85 429 827.96 429.4 827.81C429.8 827.66 430.2 826.68 430.6 827C431 827.33 431.4 829.55 431.8 829.76C432.2 829.97 432.6 828.22 433 828.25C433.4 828.28 433.8 829.7 434.2 829.93C434.6 830.17 435 829.92 435.4 829.68C435.8 829.45 436.2 828.54 436.6 828.54C437 828.53 437.4 829.74 437.8 829.66C438.2 829.57 438.6 828.3 439 828.02C439.4 827.75 439.8 827.68 440.2 828C440.6 828.32 441 829.81 441.4 829.97C441.8 830.13 442.2 829.02 442.6 828.96C443 828.91 443.4 829.59 443.8 829.62C444.2 829.64 444.6 829 445 829.09C445.4 829.17 445.8 830.1 446.2 830.12C446.6 830.14 447 829.19 447.4 829.22C447.8 829.25 448.2 829.98 448.6 830.32C449 830.65 449.4 831.21 449.8 831.24C450.2 831.27 450.6 830.59 451 830.48C451.4 830.37 451.8 830.68 452.2 830.57C452.6 830.45 453 830.05 453.4 829.78C453.8 829.52 454.2 828.99 454.6 828.99C455 828.98 455.4 829.73 455.8 829.76C456.2 829.79 456.6 829.11 457 829.17C457.4 829.23 457.8 829.69 458.2 830.12C458.6 830.54 459 831.48 459.4 831.74C459.8 831.99 460.2 831.8 460.6 831.65C461 831.5 461.4 830.98 461.8 830.82C462.2 830.66 462.6 830.68 463 830.69C463.4 830.71 463.8 830.87 464.2 830.92C464.6 830.98 465 830.99 465.4 831.02C465.8 831.05 466.2 831.02 466.6 831.11C467 831.19 467.4 831.32 467.8 831.52C468.2 831.73 468.6 832.6 469 832.35C469.4 832.1 469.8 830.51 470.2 830.03C470.6 829.54 471 829.22 471.4 829.45C471.8 829.67 472.2 831.24 472.6 831.38C473 831.52 473.4 830.34 473.8 830.29C474.2 830.23 474.6 830.77 475 831.04C475.4 831.32 475.8 831.87 476.2 831.96C476.6 832.05 477 831.54 477.4 831.57C477.8 831.6 478.2 832.12 478.6 832.14C479 832.16 479.4 831.93 479.8 831.69C480.2 831.44 480.6 830.65 481 830.69C481.4 830.74 481.8 831.6 482.2 831.94C482.6 832.28 483 832.69 483.4 832.73C483.8 832.77 484.2 832.53 484.6 832.19C485 831.85 485.4 830.59 485.8 830.69C486.2 830.8 486.6 832.47 487 832.81C487.4 833.16 487.8 832.78 488.2 832.75C488.6 832.71 489 832.62 489.4 832.62C489.8 832.61 490.2 832.85 490.6 832.71C491 832.57 491.4 831.8 491.8 831.77C492.2 831.74 492.6 832.34 493 832.53C493.4 832.73 493.8 832.85 494.2 832.95C494.6 833.05 495 833.1 495.4 833.13C495.8 833.15 496.2 833.12 496.6 833.12C497 833.12 497.4 833.25 497.8 833.11C498.2 832.97 498.6 832.45 499 832.29C499.4 832.13 499.8 831.99 500.2 832.15C500.6 832.32 501 833.16 501.4 833.27C501.8 833.39 502.2 832.82 502.6 832.84C503 832.86 503.4 833.48 503.8 833.38C504.2 833.27 504.6 832.32 505 832.21C505.4 832.1 505.8 832.4 506.2 832.71C506.6 833.02 507 833.78 507.4 834.08C507.8 834.38 508.2 834.59 508.6 834.51C509 834.42 509.4 833.74 509.8 833.56C510.2 833.38 510.6 833.59 511 833.44C511.4 833.29 511.8 832.55 512.2 832.67C512.6 832.78 513 833.71 513.4 834.14C513.8 834.57 514.2 835.34 514.6 835.25C515 835.16 515.4 833.53 515.8 833.6C516.2 833.67 516.6 835.55 517 835.66C517.4 835.76 517.8 834.61 518.2 834.24C518.6 833.87 519 833.41 519.4 833.41C519.8 833.41 520.2 834.03 520.6 834.24C521 834.46 521.4 834.9 521.8 834.71C522.2 834.52 522.6 833.24 523 833.11C523.4 832.99 523.8 833.73 524.2 833.95C524.6 834.16 525 834.18 525.4 834.38C525.8 834.59 526.2 835.06 526.6 835.18C527 835.3 527.4 835.09 527.8 835.1C528.2 835.11 528.6 835.23 529 835.24C529.4 835.25 529.8 835.08 530.2 835.16C530.6 835.24 531 835.7 531.4 835.74C531.8 835.77 532.2 835.35 532.6 835.36C533 835.37 533.4 835.77 533.8 835.81C534.2 835.84 534.6 835.54 535 835.55C535.4 835.55 535.8 835.91 536.2 835.85C536.6 835.79 537 835.21 537.4 835.18C537.8 835.15 538.2 835.71 538.6 835.68C539 835.64 539.4 834.89 539.8 834.97C540.2 835.05 540.6 836 541 836.16C541.4 836.31 541.8 835.98 542.2 835.89C542.6 835.8 543 835.62 543.4 835.64C543.8 835.66 544.2 835.83 544.6 835.99C545 836.14 545.4 836.49 545.8 836.55C546.2 836.61 546.6 836.44 547 836.36C547.4 836.28 547.8 835.84 548.2 836.05C548.6 836.27 549 837.64 549.4 837.66C549.8 837.68 550.2 836.41 550.6 836.17C551 835.92 551.4 836.34 551.8 836.18C552.2 836.01 552.6 835.12 553 835.19C553.4 835.26 553.8 836.48 554.2 836.61C554.6 836.74 555 835.97 555.4 835.96C555.8 835.95 556.2 836.35 556.6 836.54C557 836.73 557.4 837.13 557.8 837.1C558.2 837.07 558.6 836.41 559 836.37C559.4 836.33 559.8 836.75 560.2 836.85C560.6 836.96 561 836.99 561.4 837.02C561.8 837.05 562.2 836.73 562.6 837.05C563 837.36 563.4 839.07 563.8 838.93C564.2 838.79 564.6 836.38 565 836.22C565.4 836.05 565.8 837.63 566.2 837.96C566.6 838.3 567 838.34 567.4 838.24C567.8 838.15 568.33 837.5 568.6 837.39C568.87 837.28 568.93 837.56 569 837.6" stroke="#f7964a" stroke-width="1.6" fill="none" stroke-linejoin="round"/>
<path d="M85.3 900.29C85.5 895.65 86.22 879.15 86.5 872.46C86.78 865.76 86.8 864.07 87 860.12C87.2 856.17 87.38 853.5 87.7 848.74C88.02 843.98 88.68 834.67 88.9 831.56C89.12 828.45 88.8 831.92 89 830.05C89.2 828.19 89.77 823.33 90.1 820.36C90.43 817.38 90.8 813.58 91 812.18C91.2 810.78 91.05 812.82 91.3 811.96C91.55 811.11 92.3 807.72 92.5 807.04C92.7 806.37 92.3 807.93 92.5 807.92C92.7 807.9 93.3 807.09 93.7 806.96C94.1 806.84 94.52 807.4 94.9 807.16C95.28 806.93 95.8 805.84 96 805.55C96.2 805.26 95.88 805.54 96.1 805.41C96.32 805.28 96.9 805.01 97.3 804.76C97.7 804.52 98.1 804.16 98.5 803.95C98.9 803.73 99.45 803.59 99.7 803.47C99.95 803.35 99.8 803.2 100 803.23C100.2 803.25 100.55 803.58 100.9 803.64C101.25 803.7 101.7 803.78 102.1 803.57C102.5 803.35 102.9 802.6 103.3 802.35C103.7 802.11 104.1 802.14 104.5 802.11C104.9 802.07 105.3 802.14 105.7 802.15C106.1 802.16 106.5 802.21 106.9 802.16C107.3 802.11 107.7 801.89 108.1 801.83C108.5 801.78 108.98 801.97 109.3 801.81C109.62 801.65 109.8 801.02 110 800.86C110.2 800.71 110.22 800.84 110.5 800.88C110.78 800.92 111.3 801.23 111.7 801.09C112.1 800.96 112.5 800.12 112.9 800.07C113.3 800.03 113.7 800.76 114.1 800.82C114.5 800.88 114.9 800.44 115.3 800.44C115.7 800.44 116.1 800.83 116.5 800.81C116.9 800.78 117.3 800.38 117.7 800.29C118.1 800.21 118.5 800.38 118.9 800.32C119.3 800.26 119.7 799.87 120.1 799.95C120.5 800.04 120.9 800.73 121.3 800.83C121.7 800.93 122.1 800.61 122.5 800.56C122.9 800.5 123.3 800.65 123.7 800.52C124.1 800.38 124.5 799.81 124.9 799.74C125.3 799.68 125.7 799.95 126.1 800.11C126.5 800.27 126.9 800.58 127.3 800.7C127.7 800.83 128.1 800.89 128.5 800.85C128.9 800.81 129.45 800.65 129.7 800.47C129.95 800.3 129.8 799.8 130 799.79C130.2 799.78 130.55 800.3 130.9 800.41C131.25 800.53 131.7 800.6 132.1 800.47C132.5 800.34 132.9 799.76 133.3 799.65C133.7 799.54 134.1 799.75 134.5 799.83C134.9 799.9 135.3 800.01 135.7 800.1C136.1 800.2 136.5 800.45 136.9 800.4C137.3 800.35 137.7 800.06 138.1 799.82C138.5 799.58 138.9 799 139.3 798.95C139.7 798.9 140.1 799.34 140.5 799.53C140.9 799.73 141.3 800.1 141.7 800.1C142.1 800.09 142.5 799.61 142.9 799.49C143.3 799.36 143.7 799.39 144.1 799.34C144.5 799.29 144.9 799.2 145.3 799.18C145.7 799.17 146.1 799.23 146.5 799.25C146.9 799.27 147.3 799.24 147.7 799.29C148.1 799.35 148.5 799.7 148.9 799.59C149.3 799.49 149.7 798.81 150.1 798.65C150.5 798.48 150.9 798.63 151.3 798.61C151.7 798.59 152.1 798.39 152.5 798.52C152.9 798.65 153.3 799.29 153.7 799.41C154.1 799.52 154.5 799.3 154.9 799.19C155.3 799.07 155.7 798.65 156.1 798.73C156.5 798.82 156.9 799.54 157.3 799.7C157.7 799.85 158.1 799.69 158.5 799.64C158.9 799.6 159.3 799.52 159.7 799.43C160.1 799.34 160.5 799.32 160.9 799.11C161.3 798.89 161.7 798.08 162.1 798.13C162.5 798.17 162.9 799.17 163.3 799.36C163.7 799.56 164.1 799.4 164.5 799.28C164.9 799.16 165.3 798.81 165.7 798.65C166.1 798.49 166.5 798.21 166.9 798.31C167.3 798.4 167.7 799.17 168.1 799.24C168.5 799.31 168.9 798.68 169.3 798.74C169.7 798.8 170.1 799.71 170.5 799.61C170.9 799.51 171.3 798.33 171.7 798.14C172.1 797.96 172.5 798.43 172.9 798.49C173.3 798.54 173.7 798.49 174.1 798.49C174.5 798.48 174.9 798.47 175.3 798.45C175.7 798.43 176.1 798.41 176.5 798.39C176.9 798.36 177.3 798.37 177.7 798.32C178.1 798.28 178.5 798.32 178.9 798.1C179.3 797.87 179.7 796.91 180.1 796.96C180.5 797.01 180.9 798.13 181.3 798.39C181.7 798.65 182.3 798.5 182.5 798.51C182.7 798.52 182.3 798.59 182.5 798.47C182.7 798.34 183.3 797.75 183.7 797.77C184.1 797.79 184.5 798.34 184.9 798.58C185.3 798.82 185.7 799.17 186.1 799.21C186.5 799.24 186.9 799.06 187.3 798.77C187.7 798.48 188.1 797.62 188.5 797.47C188.9 797.31 189.3 797.79 189.7 797.81C190.1 797.84 190.5 797.54 190.9 797.62C191.3 797.7 191.7 798.26 192.1 798.3C192.5 798.34 192.9 797.94 193.3 797.86C193.7 797.78 194.1 797.7 194.5 797.8C194.9 797.9 195.3 798.38 195.7 798.44C196.1 798.5 196.5 798.29 196.9 798.15C197.3 798.01 197.7 797.59 198.1 797.61C198.5 797.63 198.9 798.38 199.3 798.28C199.7 798.18 200.1 797.03 200.5 796.99C200.9 796.95 201.3 798.07 201.7 798.05C202.1 798.03 202.5 796.84 202.9 796.87C203.3 796.91 203.7 798.15 204.1 798.27C204.5 798.38 204.9 797.78 205.3 797.58C205.7 797.38 206.1 797.17 206.5 797.09C206.9 797.01 207.3 797.16 207.7 797.11C208.1 797.06 208.5 796.81 208.9 796.78C209.3 796.75 209.7 796.88 210.1 796.95C210.5 797.03 210.9 797.27 211.3 797.24C211.7 797.22 212.1 796.81 212.5 796.82C212.9 796.83 213.3 797.3 213.7 797.32C214.1 797.33 214.5 797.03 214.9 796.89C215.3 796.76 215.7 796.51 216.1 796.52C216.5 796.53 216.9 796.99 217.3 796.96C217.7 796.94 218.1 796.47 218.5 796.36C218.9 796.26 219.3 796.42 219.7 796.32C220.1 796.22 220.5 795.69 220.9 795.77C221.3 795.85 221.7 796.83 222.1 796.79C222.5 796.76 222.9 795.47 223.3 795.58C223.7 795.68 224.1 797.31 224.5 797.44C224.9 797.57 225.3 796.48 225.7 796.37C226.1 796.26 226.5 796.68 226.9 796.79C227.3 796.91 227.7 797.17 228.1 797.06C228.5 796.94 228.9 796.21 229.3 796.09C229.7 795.97 230.1 796.46 230.5 796.35C230.9 796.24 231.3 795.48 231.7 795.43C232.1 795.38 232.5 795.8 232.9 796.05C233.3 796.3 233.7 796.97 234.1 796.92C234.5 796.87 234.9 795.96 235.3 795.77C235.7 795.59 236.1 795.73 236.5 795.8C236.9 795.88 237.3 796.33 237.7 796.21C238.1 796.09 238.5 795.18 238.9 795.08C239.3 794.98 239.7 795.51 240.1 795.61C240.5 795.72 240.9 795.58 241.3 795.72C241.7 795.86 242.1 796.45 242.5 796.45C242.9 796.45 243.3 795.71 243.7 795.71C244.1 795.71 244.5 796.52 244.9 796.47C245.3 796.42 245.7 795.52 246.1 795.41C246.5 795.31 246.9 795.84 247.3 795.84C247.7 795.83 248.1 795.38 248.5 795.39C248.9 795.4 249.3 795.94 249.7 795.89C250.1 795.85 250.5 795.32 250.9 795.11C251.3 794.9 251.7 794.59 252.1 794.63C252.5 794.68 252.9 795.35 253.3 795.39C253.7 795.42 254.1 794.92 254.5 794.83C254.9 794.73 255.3 794.73 255.7 794.83C256.1 794.92 256.5 795.46 256.9 795.39C257.3 795.31 257.7 794.58 258.1 794.39C258.5 794.21 258.9 794.24 259.3 794.28C259.7 794.31 260.1 794.41 260.5 794.61C260.9 794.81 261.3 795.5 261.7 795.46C262.1 795.42 262.5 794.28 262.9 794.36C263.3 794.43 263.7 795.87 264.1 795.92C264.5 795.98 264.9 794.99 265.3 794.68C265.7 794.36 266.1 794.12 266.5 794.03C266.9 793.93 267.3 794.04 267.7 794.11C268.1 794.18 268.55 794.38 268.9 794.45C269.25 794.51 269.6 794.51 269.8 794.5C270 794.49 269.85 794.54 270.1 794.39C270.35 794.24 270.9 793.44 271.3 793.59C271.7 793.75 272.1 795.17 272.5 795.31C272.9 795.45 273.3 794.61 273.7 794.46C274.1 794.3 274.5 794.18 274.9 794.38C275.3 794.57 275.7 795.53 276.1 795.63C276.5 795.72 276.9 795.17 277.3 794.95C277.7 794.73 278.1 794.27 278.5 794.31C278.9 794.34 279.3 795.03 279.7 795.17C280.1 795.32 280.5 795.25 280.9 795.18C281.3 795.11 281.7 794.81 282.1 794.74C282.5 794.67 282.9 794.69 283.3 794.76C283.7 794.84 284.1 795.24 284.5 795.19C284.9 795.14 285.3 794.42 285.7 794.47C286.1 794.53 286.5 795.4 286.9 795.52C287.3 795.63 287.7 795.31 288.1 795.16C288.5 795.01 288.9 794.58 289.3 794.61C289.7 794.65 290.1 795.27 290.5 795.38C290.9 795.49 291.3 795.26 291.7 795.27C292.1 795.29 292.5 795.75 292.9 795.45C293.3 795.16 293.7 793.48 294.1 793.5C294.5 793.51 294.9 795.17 295.3 795.54C295.7 795.9 296.1 795.77 296.5 795.7C296.9 795.62 297.3 795.01 297.7 795.1C298.1 795.2 298.5 796.39 298.9 796.27C299.3 796.15 299.7 794.76 300.1 794.41C300.5 794.06 300.9 794.12 301.3 794.16C301.7 794.21 302.1 794.54 302.5 794.68C302.9 794.81 303.3 794.81 303.7 794.98C304.1 795.15 304.5 795.51 304.9 795.69C305.3 795.86 305.7 796.16 306.1 796.02C306.5 795.88 306.9 794.81 307.3 794.86C307.7 794.9 308.1 796.26 308.5 796.28C308.9 796.31 309.3 795.08 309.7 795.02C310.1 794.96 310.5 795.72 310.9 795.92C311.3 796.12 311.7 796.36 312.1 796.22C312.5 796.08 312.9 795.29 313.3 795.07C313.7 794.85 314.1 794.92 314.5 794.91C314.9 794.91 315.3 794.97 315.7 795.03C316.1 795.1 316.5 795.3 316.9 795.31C317.3 795.32 317.7 795.06 318.1 795.1C318.5 795.15 318.9 795.65 319.3 795.59C319.7 795.53 320.1 794.57 320.5 794.75C320.9 794.93 321.3 796.64 321.7 796.68C322.1 796.72 322.5 795.23 322.9 794.99C323.3 794.75 323.7 795.13 324.1 795.24C324.5 795.35 324.9 795.55 325.3 795.64C325.7 795.73 326.1 795.68 326.5 795.76C326.9 795.84 327.3 796.28 327.7 796.13C328.1 795.98 328.52 794.82 328.9 794.86C329.28 794.89 329.8 796.17 330 796.33C330.2 796.5 329.88 795.77 330.1 795.83C330.32 795.89 330.9 796.76 331.3 796.71C331.7 796.65 332.1 795.6 332.5 795.5C332.9 795.4 333.3 795.91 333.7 796.08C334.1 796.26 334.5 796.23 334.9 796.56C335.3 796.9 335.7 798.04 336.1 798.09C336.5 798.14 336.9 796.88 337.3 796.85C337.7 796.82 338.1 797.88 338.5 797.9C338.9 797.91 339.3 796.92 339.7 796.94C340.1 796.95 340.5 797.92 340.9 797.98C341.3 798.03 341.7 797.41 342.1 797.25C342.5 797.08 342.9 796.98 343.3 797C343.7 797.01 344.1 797.2 344.5 797.32C344.9 797.43 345.3 797.67 345.7 797.69C346.1 797.71 346.5 797.35 346.9 797.45C347.3 797.54 347.7 798.18 348.1 798.25C348.5 798.32 348.9 797.92 349.3 797.86C349.7 797.8 350.1 797.78 350.5 797.91C350.9 798.03 351.3 798.5 351.7 798.61C352.1 798.71 352.5 798.54 352.9 798.52C353.3 798.5 353.7 798.42 354.1 798.48C354.5 798.55 354.9 798.85 355.3 798.93C355.7 799.01 356.1 798.92 356.5 798.96C356.9 799 357.3 798.98 357.7 799.17C358.1 799.36 358.5 799.9 358.9 800.08C359.3 800.27 359.7 800.37 360.1 800.29C360.5 800.2 360.9 799.61 361.3 799.56C361.7 799.51 362.1 799.97 362.5 799.97C362.9 799.96 363.3 799.44 363.7 799.53C364.1 799.63 364.5 800.5 364.9 800.54C365.3 800.58 365.7 799.82 366.1 799.76C366.5 799.69 366.9 800.02 367.3 800.15C367.7 800.27 368.1 800.5 368.5 800.5C368.9 800.51 369.3 800.08 369.7 800.16C370.1 800.25 370.5 800.88 370.9 801.03C371.3 801.18 371.7 801.1 372.1 801.06C372.5 801.02 372.9 800.68 373.3 800.8C373.7 800.92 374.1 801.62 374.5 801.77C374.9 801.93 375.3 801.7 375.7 801.71C376.1 801.72 376.5 801.79 376.9 801.83C377.3 801.87 377.7 802.07 378.1 801.97C378.5 801.87 378.9 801.1 379.3 801.25C379.7 801.4 380.1 802.86 380.5 802.85C380.9 802.85 381.3 801.22 381.7 801.24C382.1 801.26 382.5 802.71 382.9 803C383.3 803.28 383.7 802.98 384.1 802.97C384.5 802.96 384.9 803.02 385.3 802.95C385.7 802.88 386.1 802.52 386.5 802.56C386.9 802.59 387.3 803.04 387.7 803.15C388.1 803.27 388.5 803.06 388.9 803.25C389.3 803.43 389.7 804.08 390.1 804.29C390.5 804.49 390.9 804.56 391.3 804.48C391.7 804.41 392.1 804.07 392.5 803.84C392.9 803.62 393.3 803.02 393.7 803.13C394.1 803.24 394.5 804.13 394.9 804.47C395.3 804.81 395.7 805.1 396.1 805.17C396.5 805.24 396.9 804.94 397.3 804.91C397.7 804.87 398.1 805.03 398.5 804.97C398.9 804.9 399.3 804.6 399.7 804.51C400.1 804.43 400.5 804.4 400.9 804.46C401.3 804.52 401.7 804.76 402.1 804.87C402.5 804.97 402.9 805.03 403.3 805.1C403.7 805.17 404.1 805.3 404.5 805.31C404.9 805.32 405.3 805.22 405.7 805.16C406.1 805.1 406.5 804.88 406.9 804.98C407.3 805.08 407.7 805.71 408.1 805.76C408.5 805.81 408.9 805.32 409.3 805.3C409.7 805.27 410.1 805.48 410.5 805.62C410.9 805.76 411.3 805.87 411.7 806.13C412.1 806.38 412.5 807.01 412.9 807.14C413.3 807.28 413.7 806.97 414.1 806.93C414.5 806.88 414.9 806.8 415.3 806.88C415.7 806.96 416.1 807.41 416.5 807.39C416.9 807.37 417.3 806.77 417.7 806.76C418.1 806.76 418.5 807.17 418.9 807.36C419.3 807.55 419.7 807.86 420.1 807.9C420.5 807.95 420.9 807.77 421.3 807.62C421.7 807.47 422.1 806.9 422.5 807C422.9 807.1 423.3 808.08 423.7 808.2C424.1 808.33 424.52 807.76 424.9 807.75C425.28 807.73 425.8 808.17 426 808.11C426.2 808.04 425.88 807.24 426.1 807.36C426.32 807.49 426.9 808.74 427.3 808.85C427.7 808.97 428.1 808.13 428.5 808.04C428.9 807.96 429.3 808.37 429.7 808.34C430.1 808.31 430.5 807.8 430.9 807.85C431.3 807.91 431.7 808.54 432.1 808.67C432.5 808.81 432.9 808.68 433.3 808.68C433.7 808.69 434.1 808.47 434.5 808.7C434.9 808.94 435.3 809.88 435.7 810.1C436.1 810.33 436.5 810.23 436.9 810.05C437.3 809.88 437.7 808.98 438.1 809.04C438.5 809.11 438.9 810.38 439.3 810.45C439.7 810.52 440.1 809.66 440.5 809.44C440.9 809.23 441.3 809.09 441.7 809.14C442.1 809.19 442.5 809.49 442.9 809.74C443.3 809.99 443.7 810.47 444.1 810.63C444.5 810.79 444.9 810.81 445.3 810.7C445.7 810.58 446.1 809.99 446.5 809.96C446.9 809.92 447.3 810.29 447.7 810.49C448.1 810.69 448.5 811.2 448.9 811.14C449.3 811.08 449.7 810.14 450.1 810.13C450.5 810.13 450.9 810.91 451.3 811.09C451.7 811.27 452.1 811.14 452.5 811.21C452.9 811.29 453.3 811.45 453.7 811.55C454.1 811.66 454.5 811.83 454.9 811.83C455.3 811.84 455.7 811.64 456.1 811.58C456.5 811.52 456.9 811.29 457.3 811.47C457.7 811.64 458.1 812.73 458.5 812.64C458.9 812.55 459.3 810.98 459.7 810.93C460.1 810.89 460.5 812.05 460.9 812.36C461.3 812.68 461.7 812.71 462.1 812.84C462.5 812.98 462.9 813.18 463.3 813.17C463.7 813.17 464.1 812.69 464.5 812.8C464.9 812.91 465.3 813.91 465.7 813.83C466.1 813.74 466.5 812.27 466.9 812.28C467.3 812.3 467.7 813.77 468.1 813.92C468.5 814.06 468.9 813.09 469.3 813.15C469.7 813.21 470.1 814.25 470.5 814.26C470.9 814.27 471.3 813.38 471.7 813.21C472.1 813.03 472.5 813.12 472.9 813.21C473.3 813.3 473.7 813.52 474.1 813.74C474.5 813.97 474.9 814.59 475.3 814.56C475.7 814.54 476.1 813.67 476.5 813.61C476.9 813.54 477.3 814.07 477.7 814.18C478.1 814.29 478.5 814.03 478.9 814.26C479.3 814.48 479.7 815.56 480.1 815.52C480.5 815.47 480.9 814.16 481.3 814C481.7 813.84 482.1 814.46 482.5 814.58C482.9 814.71 483.3 814.56 483.7 814.75C484.1 814.93 484.5 815.58 484.9 815.69C485.3 815.8 485.7 815.41 486.1 815.42C486.5 815.42 486.9 815.67 487.3 815.72C487.7 815.76 488.1 815.66 488.5 815.68C488.9 815.7 489.3 815.73 489.7 815.85C490.1 815.98 490.5 816.45 490.9 816.41C491.3 816.38 491.7 815.68 492.1 815.65C492.5 815.63 492.9 816.06 493.3 816.26C493.7 816.46 494.1 816.88 494.5 816.85C494.9 816.82 495.3 816.23 495.7 816.1C496.1 815.96 496.5 815.81 496.9 816.02C497.3 816.23 497.7 817.32 498.1 817.36C498.5 817.4 498.9 816.24 499.3 816.26C499.7 816.28 500.1 817.32 500.5 817.49C500.9 817.66 501.3 817.48 501.7 817.3C502.1 817.12 502.5 816.28 502.9 816.4C503.3 816.52 503.7 817.66 504.1 817.99C504.5 818.32 504.9 818.35 505.3 818.39C505.7 818.43 506.1 818.37 506.5 818.24C506.9 818.1 507.3 817.71 507.7 817.55C508.1 817.4 508.5 817.35 508.9 817.33C509.3 817.31 509.7 817.27 510.1 817.44C510.5 817.62 510.9 818.13 511.3 818.35C511.7 818.58 512.1 818.69 512.5 818.82C512.9 818.94 513.3 819.16 513.7 819.12C514.1 819.08 514.5 818.47 514.9 818.57C515.3 818.68 515.7 819.74 516.1 819.75C516.5 819.76 516.9 818.58 517.3 818.63C517.7 818.68 518.1 820.08 518.5 820.07C518.9 820.07 519.3 818.6 519.7 818.61C520.1 818.62 520.5 820 520.9 820.14C521.3 820.28 521.7 819.47 522.1 819.45C522.5 819.42 522.9 819.84 523.3 820C523.7 820.17 524.1 820.36 524.5 820.44C524.9 820.52 525.3 820.59 525.7 820.49C526.1 820.38 526.5 819.89 526.9 819.82C527.3 819.75 527.7 819.87 528.1 820.06C528.5 820.26 528.9 820.96 529.3 820.98C529.7 821.01 530.1 820.25 530.5 820.21C530.9 820.17 531.3 820.45 531.7 820.74C532.1 821.02 532.5 821.82 532.9 821.92C533.3 822.02 533.7 821.38 534.1 821.35C534.5 821.31 534.9 821.6 535.3 821.7C535.7 821.79 536.1 821.88 536.5 821.89C536.9 821.9 537.3 821.8 537.7 821.75C538.1 821.7 538.5 821.53 538.9 821.58C539.3 821.63 539.7 821.9 540.1 822.03C540.5 822.16 540.9 822.37 541.3 822.36C541.7 822.34 542.1 821.94 542.5 821.93C542.9 821.91 543.3 822.16 543.7 822.27C544.1 822.38 544.5 822.49 544.9 822.57C545.3 822.66 545.7 822.87 546.1 822.77C546.5 822.67 546.9 821.96 547.3 821.99C547.7 822.03 548.1 822.78 548.5 822.99C548.9 823.2 549.3 823.17 549.7 823.25C550.1 823.33 550.5 823.5 550.9 823.48C551.3 823.47 551.7 823.13 552.1 823.16C552.5 823.19 552.9 823.51 553.3 823.66C553.7 823.81 554.1 823.91 554.5 824.06C554.9 824.2 555.3 824.44 555.7 824.53C556.1 824.62 556.5 824.66 556.9 824.6C557.3 824.54 557.7 824.28 558.1 824.16C558.5 824.04 558.9 823.75 559.3 823.9C559.7 824.06 560.1 825.01 560.5 825.08C560.9 825.16 561.3 824.44 561.7 824.35C562.1 824.26 562.5 824.41 562.9 824.56C563.3 824.71 563.7 825.17 564.1 825.25C564.5 825.33 564.9 825.05 565.3 825.03C565.7 825.02 566.1 825.07 566.5 825.18C566.9 825.28 567.3 825.54 567.7 825.68C568.1 825.81 568.68 826.08 568.9 825.97C569.12 825.86 568.98 825.19 569 825.03" stroke="#a7d7e6" stroke-width="1.6" fill="none" stroke-linejoin="round"/>
<path d="M85.3 897.24C85.42 892.66 85.8 876.33 86 869.76C86.2 863.19 86.33 862.08 86.5 857.83C86.67 853.59 86.8 847.71 87 844.31C87.2 840.91 87.45 840.33 87.7 837.43C87.95 834.53 88.3 829.13 88.5 826.9C88.7 824.68 88.65 825.99 88.9 824.07C89.15 822.15 89.8 816.96 90 815.39C90.2 813.82 89.88 815.71 90.1 814.66C90.32 813.6 91.08 810.19 91.3 809.05C91.52 807.92 91.2 808.45 91.4 807.83C91.6 807.2 92.12 806.32 92.5 805.31C92.88 804.29 93.42 802.52 93.7 801.74C93.98 800.96 94 801.19 94.2 800.6C94.4 800.01 94.58 798.81 94.9 798.21C95.22 797.61 95.7 797.39 96.1 796.99C96.5 796.6 96.9 796.28 97.3 795.84C97.7 795.4 98.3 794.62 98.5 794.33C98.7 794.04 98.3 794.33 98.5 794.1C98.7 793.87 99.3 793.21 99.7 792.94C100.1 792.67 100.5 792.66 100.9 792.48C101.3 792.3 101.7 792.3 102.1 791.86C102.5 791.41 102.9 790.1 103.3 789.83C103.7 789.57 104.12 790.29 104.5 790.26C104.88 790.22 105.4 789.72 105.6 789.62C105.8 789.52 105.48 789.6 105.7 789.64C105.92 789.69 106.5 790.02 106.9 789.9C107.3 789.78 107.7 789 108.1 788.93C108.5 788.87 108.9 789.44 109.3 789.48C109.7 789.52 110.1 789.26 110.5 789.18C110.9 789.1 111.3 789.08 111.7 789C112.1 788.91 112.5 788.7 112.9 788.67C113.3 788.64 113.7 788.76 114.1 788.83C114.5 788.89 115.05 789.22 115.3 789.06C115.55 788.91 115.4 788.15 115.6 787.9C115.8 787.65 116.15 787.54 116.5 787.58C116.85 787.62 117.3 787.89 117.7 788.13C118.1 788.36 118.5 789.03 118.9 789C119.3 788.97 119.7 788.15 120.1 787.95C120.5 787.76 120.9 787.87 121.3 787.81C121.7 787.74 122.1 787.66 122.5 787.58C122.9 787.5 123.3 787.39 123.7 787.35C124.1 787.3 124.5 786.99 124.9 787.32C125.3 787.64 125.7 789.25 126.1 789.28C126.5 789.31 126.9 787.82 127.3 787.48C127.7 787.13 128.1 787.18 128.5 787.22C128.9 787.25 129.3 787.51 129.7 787.67C130.1 787.82 130.5 788.22 130.9 788.15C131.3 788.07 131.7 787.34 132.1 787.22C132.5 787.09 132.9 787.3 133.3 787.38C133.7 787.46 134.1 787.57 134.5 787.69C134.9 787.81 135.3 788.22 135.7 788.12C136.1 788.01 136.5 787.13 136.9 787.07C137.3 787.01 137.7 787.52 138.1 787.77C138.5 788.02 138.9 788.66 139.3 788.56C139.7 788.46 140.1 787.41 140.5 787.15C140.9 786.9 141.3 786.93 141.7 787.03C142.1 787.13 142.5 787.62 142.9 787.77C143.3 787.92 143.7 788.01 144.1 787.95C144.5 787.88 144.9 787.45 145.3 787.38C145.7 787.31 146.1 787.48 146.5 787.55C146.9 787.62 147.3 787.76 147.7 787.82C148.1 787.88 148.52 787.96 148.9 787.91C149.28 787.86 149.8 787.53 150 787.53C150.2 787.53 149.88 788.06 150.1 787.9C150.32 787.74 150.9 786.62 151.3 786.56C151.7 786.5 152.1 787.47 152.5 787.54C152.9 787.61 153.3 786.94 153.7 786.96C154.1 786.99 154.5 787.63 154.9 787.7C155.3 787.77 155.7 787.31 156.1 787.37C156.5 787.44 156.9 788.12 157.3 788.12C157.7 788.11 158.1 787.49 158.5 787.36C158.9 787.23 159.3 787.33 159.7 787.33C160.1 787.33 160.5 787.34 160.9 787.37C161.3 787.41 161.7 787.61 162.1 787.55C162.5 787.48 162.9 787.16 163.3 786.99C163.7 786.81 164.1 786.56 164.5 786.49C164.9 786.42 165.3 786.45 165.7 786.58C166.1 786.71 166.5 787.06 166.9 787.27C167.3 787.48 167.7 787.96 168.1 787.83C168.5 787.71 168.9 786.62 169.3 786.53C169.7 786.44 170.1 787.35 170.5 787.29C170.9 787.23 171.3 786.19 171.7 786.17C172.1 786.16 172.5 787.13 172.9 787.19C173.3 787.26 173.7 786.65 174.1 786.57C174.5 786.5 174.9 786.61 175.3 786.74C175.7 786.88 176.1 787.22 176.5 787.39C176.9 787.56 177.3 787.9 177.7 787.75C178.1 787.6 178.5 786.76 178.9 786.48C179.3 786.21 179.7 786.15 180.1 786.09C180.5 786.03 180.9 786.01 181.3 786.11C181.7 786.22 182.1 786.66 182.5 786.71C182.9 786.76 183.3 786.5 183.7 786.42C184.1 786.33 184.5 786.28 184.9 786.21C185.3 786.13 185.7 785.93 186.1 785.94C186.5 785.96 186.9 786.29 187.3 786.3C187.7 786.31 188.1 785.93 188.5 786.02C188.9 786.11 189.3 786.84 189.7 786.85C190.1 786.87 190.5 786.08 190.9 786.1C191.3 786.12 191.7 786.88 192.1 786.97C192.5 787.07 192.9 786.74 193.3 786.67C193.7 786.6 194.1 786.64 194.5 786.57C194.9 786.51 195.3 786.46 195.7 786.27C196.1 786.08 196.5 785.4 196.9 785.44C197.3 785.47 197.7 786.27 198.1 786.47C198.5 786.67 198.9 786.75 199.3 786.65C199.7 786.55 200.1 786.1 200.5 785.86C200.9 785.63 201.3 785.34 201.7 785.25C202.1 785.15 202.5 785.29 202.9 785.31C203.3 785.32 203.75 785.35 204.1 785.34C204.45 785.33 204.8 785.02 205 785.24C205.2 785.46 205.05 786.56 205.3 786.66C205.55 786.77 206.1 785.93 206.5 785.88C206.9 785.83 207.3 786.44 207.7 786.37C208.1 786.3 208.5 785.47 208.9 785.45C209.3 785.44 209.7 786.18 210.1 786.3C210.5 786.41 210.9 786.13 211.3 786.14C211.7 786.14 212.1 786.45 212.5 786.34C212.9 786.24 213.3 785.6 213.7 785.5C214.1 785.4 214.5 785.76 214.9 785.75C215.3 785.73 215.7 785.51 216.1 785.4C216.5 785.29 216.9 785.09 217.3 785.07C217.7 785.04 218.1 785.13 218.5 785.25C218.9 785.36 219.3 785.7 219.7 785.77C220.1 785.84 220.5 785.7 220.9 785.64C221.3 785.58 221.7 785.42 222.1 785.39C222.5 785.36 222.9 785.31 223.3 785.46C223.7 785.62 224.1 786.2 224.5 786.31C224.9 786.42 225.3 786.13 225.7 786.13C226.1 786.12 226.5 786.29 226.9 786.29C227.3 786.28 227.7 786.18 228.1 786.11C228.5 786.05 228.9 785.86 229.3 785.9C229.7 785.95 230.1 786.39 230.5 786.39C230.9 786.39 231.3 786 231.7 785.9C232.1 785.79 232.5 785.76 232.9 785.78C233.3 785.79 233.7 785.92 234.1 786C234.5 786.08 234.9 786.35 235.3 786.26C235.7 786.18 236.1 785.55 236.5 785.47C236.9 785.39 237.3 785.77 237.7 785.76C238.1 785.74 238.5 785.33 238.9 785.37C239.3 785.41 239.7 785.92 240.1 785.99C240.5 786.06 240.9 785.68 241.3 785.79C241.7 785.9 242.1 786.71 242.5 786.65C242.9 786.58 243.3 785.52 243.7 785.4C244.1 785.28 244.5 785.71 244.9 785.94C245.3 786.18 245.7 786.61 246.1 786.79C246.5 786.97 246.9 787.36 247.3 787.02C247.7 786.68 248.1 784.9 248.5 784.76C248.9 784.62 249.3 786.09 249.7 786.16C250.1 786.23 250.5 785.27 250.9 785.17C251.3 785.06 251.7 785.36 252.1 785.54C252.5 785.72 252.9 786.13 253.3 786.24C253.7 786.35 254.1 786.06 254.5 786.21C254.9 786.35 255.3 787.19 255.7 787.12C256.1 787.04 256.5 785.9 256.9 785.76C257.3 785.62 257.7 786.19 258.1 786.28C258.5 786.37 258.9 786.28 259.3 786.31C259.7 786.34 260.1 786.55 260.5 786.46C260.9 786.37 261.3 785.76 261.7 785.77C262.1 785.79 262.5 786.62 262.9 786.55C263.3 786.48 263.7 785.5 264.1 785.35C264.5 785.2 264.9 785.57 265.3 785.67C265.7 785.78 266.1 785.86 266.5 785.99C266.9 786.11 267.3 786.45 267.7 786.41C268.1 786.37 268.52 785.78 268.9 785.75C269.28 785.71 269.8 785.99 270 786.2C270.2 786.41 269.88 787.13 270.1 787C270.32 786.87 270.9 785.57 271.3 785.44C271.7 785.31 272.1 786.11 272.5 786.23C272.9 786.35 273.3 786.39 273.7 786.16C274.1 785.92 274.5 784.93 274.9 784.81C275.3 784.69 275.7 785.24 276.1 785.43C276.5 785.62 276.9 785.82 277.3 785.93C277.7 786.04 278.1 786.16 278.5 786.09C278.9 786.01 279.3 785.48 279.7 785.47C280.1 785.46 280.5 785.86 280.9 786.01C281.3 786.16 281.7 786.29 282.1 786.35C282.5 786.41 282.9 786.35 283.3 786.37C283.7 786.39 284.1 786.49 284.5 786.49C284.9 786.48 285.3 786.24 285.7 786.33C286.1 786.42 286.5 787.14 286.9 787.03C287.3 786.92 287.7 785.69 288.1 785.68C288.5 785.67 288.9 786.75 289.3 786.96C289.7 787.16 290.1 786.96 290.5 786.9C290.9 786.84 291.3 786.56 291.7 786.6C292.1 786.63 292.5 787.18 292.9 787.09C293.3 787.01 293.7 786.14 294.1 786.11C294.5 786.08 294.9 786.77 295.3 786.91C295.7 787.04 296.1 787.11 296.5 786.92C296.9 786.73 297.3 785.87 297.7 785.76C298.1 785.66 298.5 786.27 298.9 786.28C299.3 786.3 299.7 785.82 300.1 785.86C300.5 785.89 300.9 786.43 301.3 786.47C301.7 786.51 302.1 786.1 302.5 786.07C302.9 786.04 303.3 786.25 303.7 786.27C304.1 786.29 304.5 786.04 304.9 786.16C305.3 786.29 305.7 786.88 306.1 787.01C306.5 787.14 306.9 786.92 307.3 786.95C307.7 786.98 308.1 787.17 308.5 787.19C308.9 787.21 309.3 787.25 309.7 787.09C310.1 786.93 310.5 786.34 310.9 786.24C311.3 786.14 311.7 786.41 312.1 786.5C312.5 786.59 312.9 786.71 313.3 786.78C313.7 786.86 314.1 786.99 314.5 786.96C314.9 786.93 315.3 786.65 315.7 786.6C316.1 786.54 316.5 786.6 316.9 786.64C317.3 786.67 317.7 786.69 318.1 786.8C318.5 786.91 318.9 787.38 319.3 787.31C319.7 787.24 320.1 786.34 320.5 786.38C320.9 786.43 321.3 787.51 321.7 787.57C322.1 787.63 322.5 786.83 322.9 786.74C323.3 786.65 323.7 787.03 324.1 787.04C324.5 787.05 324.9 786.76 325.3 786.79C325.7 786.81 326.1 787.07 326.5 787.19C326.9 787.31 327.3 787.42 327.7 787.51C328.1 787.6 328.52 787.85 328.9 787.73C329.28 787.61 329.8 786.9 330 786.8C330.2 786.69 329.88 786.99 330.1 787.11C330.32 787.24 330.9 787.52 331.3 787.57C331.7 787.61 332.1 787.53 332.5 787.38C332.9 787.23 333.3 786.51 333.7 786.68C334.1 786.85 334.5 788.23 334.9 788.4C335.3 788.56 335.7 787.66 336.1 787.66C336.5 787.66 336.9 788.34 337.3 788.39C337.7 788.44 338.1 787.82 338.5 787.99C338.9 788.16 339.3 789.39 339.7 789.41C340.1 789.42 340.5 788.18 340.9 788.07C341.3 787.96 341.7 788.55 342.1 788.76C342.5 788.97 342.9 789.32 343.3 789.35C343.7 789.38 344.1 789.18 344.5 788.96C344.9 788.74 345.3 788.02 345.7 788.03C346.1 788.04 346.5 788.91 346.9 789.01C347.3 789.12 347.7 788.56 348.1 788.66C348.5 788.76 348.9 789.53 349.3 789.59C349.7 789.65 350.1 789.13 350.5 789.02C350.9 788.91 351.3 788.82 351.7 788.92C352.1 789.01 352.5 789.26 352.9 789.57C353.3 789.88 353.7 790.53 354.1 790.77C354.5 791.01 354.9 791.16 355.3 791.02C355.7 790.87 356.1 789.98 356.5 789.91C356.9 789.84 357.3 790.47 357.7 790.59C358.1 790.71 358.5 790.75 358.9 790.62C359.3 790.5 359.7 789.82 360.1 789.85C360.5 789.88 360.9 790.71 361.3 790.78C361.7 790.86 362.1 790.24 362.5 790.31C362.9 790.37 363.3 790.95 363.7 791.15C364.1 791.35 364.5 791.51 364.9 791.51C365.3 791.5 365.7 791.1 366.1 791.12C366.5 791.14 366.9 791.48 367.3 791.63C367.7 791.78 368.1 792.12 368.5 792.01C368.9 791.89 369.3 791.05 369.7 790.94C370.1 790.84 370.5 791.28 370.9 791.38C371.3 791.48 371.7 791.47 372.1 791.54C372.5 791.6 372.9 791.57 373.3 791.8C373.7 792.03 374.1 792.82 374.5 792.92C374.9 793.01 375.3 792.39 375.7 792.38C376.1 792.37 376.5 792.82 376.9 792.86C377.3 792.9 377.7 792.71 378.1 792.64C378.5 792.58 378.9 792.44 379.3 792.49C379.7 792.54 380.1 792.83 380.5 792.94C380.9 793.05 381.3 793.24 381.7 793.16C382.1 793.08 382.5 792.53 382.9 792.47C383.3 792.41 383.7 792.67 384.1 792.81C384.5 792.94 384.9 793.27 385.3 793.28C385.7 793.29 386.1 792.87 386.5 792.88C386.9 792.89 387.3 793.24 387.7 793.33C388.1 793.42 388.5 793.25 388.9 793.43C389.3 793.61 389.7 794.35 390.1 794.41C390.5 794.48 390.9 793.71 391.3 793.83C391.7 793.95 392.1 795.13 392.5 795.12C392.9 795.1 393.3 793.9 393.7 793.75C394.1 793.61 394.5 794.15 394.9 794.27C395.3 794.38 395.7 794.32 396.1 794.45C396.5 794.57 396.9 795.14 397.3 795.04C397.7 794.95 398.1 793.82 398.5 793.88C398.9 793.94 399.3 795.13 399.7 795.39C400.1 795.65 400.5 795.46 400.9 795.45C401.3 795.43 401.7 795.3 402.1 795.3C402.5 795.3 402.9 795.54 403.3 795.44C403.7 795.34 404.1 794.66 404.5 794.71C404.9 794.75 405.3 795.6 405.7 795.71C406.1 795.83 406.5 795.29 406.9 795.39C407.3 795.49 407.7 796.24 408.1 796.31C408.5 796.37 408.9 795.83 409.3 795.77C409.7 795.7 410.1 795.9 410.5 795.91C410.9 795.93 411.3 795.79 411.7 795.85C412.1 795.91 412.5 796.1 412.9 796.26C413.3 796.43 413.7 796.66 414.1 796.83C414.5 797 414.9 797.28 415.3 797.3C415.7 797.33 416.1 797.06 416.5 796.98C416.9 796.9 417.3 796.75 417.7 796.83C418.1 796.91 418.5 797.46 418.9 797.46C419.3 797.45 419.7 796.68 420.1 796.79C420.5 796.89 420.9 797.99 421.3 798.1C421.7 798.21 422.1 797.59 422.5 797.43C422.9 797.26 423.3 797.09 423.7 797.1C424.1 797.11 424.52 797.35 424.9 797.5C425.28 797.64 425.8 797.9 426 797.96C426.2 798.02 425.88 797.86 426.1 797.86C426.32 797.87 426.9 797.87 427.3 798C427.7 798.13 428.1 798.63 428.5 798.63C428.9 798.63 429.3 798.03 429.7 798C430.1 797.98 430.5 798.42 430.9 798.47C431.3 798.52 431.7 798.39 432.1 798.3C432.5 798.22 432.9 797.96 433.3 797.96C433.7 797.96 434.1 798.15 434.5 798.32C434.9 798.48 435.3 798.86 435.7 798.96C436.1 799.06 436.5 798.92 436.9 798.91C437.3 798.9 437.7 798.81 438.1 798.9C438.5 799 438.9 799.49 439.3 799.49C439.7 799.5 440.1 798.96 440.5 798.92C440.9 798.88 441.3 799.15 441.7 799.24C442.1 799.34 442.5 799.21 442.9 799.48C443.3 799.74 443.7 800.83 444.1 800.84C444.5 800.84 444.9 799.74 445.3 799.5C445.7 799.26 446.1 799.35 446.5 799.39C446.9 799.44 447.3 799.6 447.7 799.79C448.1 799.97 448.5 800.41 448.9 800.52C449.3 800.64 449.7 800.32 450.1 800.49C450.5 800.65 450.9 801.34 451.3 801.53C451.7 801.73 452.1 801.72 452.5 801.67C452.9 801.62 453.3 801.38 453.7 801.22C454.1 801.07 454.5 800.68 454.9 800.73C455.3 800.79 455.7 801.52 456.1 801.57C456.5 801.63 456.9 801.02 457.3 801.05C457.7 801.09 458.1 801.84 458.5 801.78C458.9 801.72 459.3 800.76 459.7 800.69C460.1 800.62 460.5 801.14 460.9 801.37C461.3 801.61 461.7 801.91 462.1 802.08C462.5 802.24 462.9 802.4 463.3 802.36C463.7 802.31 464.1 801.91 464.5 801.79C464.9 801.68 465.3 801.46 465.7 801.67C466.1 801.88 466.5 802.99 466.9 803.03C467.3 803.07 467.7 802.07 468.1 801.91C468.5 801.75 468.9 801.87 469.3 802.06C469.7 802.26 470.1 803 470.5 803.06C470.9 803.12 471.3 802.41 471.7 802.44C472.1 802.47 472.5 803.08 472.9 803.26C473.3 803.44 473.7 803.52 474.1 803.52C474.5 803.52 474.9 803.31 475.3 803.25C475.7 803.2 476.1 803.2 476.5 803.18C476.9 803.16 477.3 803.15 477.7 803.12C478.1 803.09 478.5 802.84 478.9 802.99C479.3 803.13 479.7 803.78 480.1 803.98C480.5 804.19 480.9 804.26 481.3 804.21C481.7 804.15 482.1 803.77 482.5 803.65C482.9 803.53 483.3 803.45 483.7 803.49C484.1 803.54 484.5 803.8 484.9 803.93C485.3 804.07 485.7 804.23 486.1 804.28C486.5 804.34 486.9 804.23 487.3 804.27C487.7 804.31 488.1 804.54 488.5 804.55C488.9 804.57 489.3 804.34 489.7 804.36C490.1 804.38 490.5 804.45 490.9 804.69C491.3 804.92 491.7 805.73 492.1 805.77C492.5 805.81 492.9 804.99 493.3 804.93C493.7 804.87 494.1 805.17 494.5 805.42C494.9 805.66 495.3 806.35 495.7 806.39C496.1 806.44 496.5 805.91 496.9 805.69C497.3 805.46 497.7 805.08 498.1 805.04C498.5 805.01 498.9 805.42 499.3 805.5C499.7 805.59 500.1 805.4 500.5 805.56C500.9 805.73 501.3 806.39 501.7 806.51C502.1 806.62 502.5 806.31 502.9 806.23C503.3 806.16 503.7 806.08 504.1 806.06C504.5 806.03 504.9 805.99 505.3 806.07C505.7 806.14 506.1 806.26 506.5 806.5C506.9 806.74 507.3 807.4 507.7 807.51C508.1 807.63 508.5 807.36 508.9 807.19C509.3 807.01 509.7 806.56 510.1 806.44C510.5 806.32 510.9 806.26 511.3 806.44C511.7 806.62 512.1 807.42 512.5 807.5C512.9 807.58 513.3 806.97 513.7 806.92C514.1 806.88 514.5 807.2 514.9 807.22C515.3 807.24 515.7 806.78 516.1 807.04C516.5 807.29 516.9 808.58 517.3 808.73C517.7 808.89 518.1 808.11 518.5 807.98C518.9 807.85 519.3 807.9 519.7 807.96C520.1 808.02 520.5 808.32 520.9 808.33C521.3 808.33 521.7 807.98 522.1 808C522.5 808.01 522.9 808.36 523.3 808.45C523.7 808.53 524.1 808.49 524.5 808.49C524.9 808.48 525.3 808.23 525.7 808.4C526.1 808.58 526.5 809.46 526.9 809.52C527.3 809.57 527.7 808.8 528.1 808.73C528.5 808.66 528.9 808.95 529.3 809.08C529.7 809.21 530.1 809.4 530.5 809.51C530.9 809.63 531.3 809.75 531.7 809.76C532.1 809.77 532.5 809.59 532.9 809.58C533.3 809.57 533.7 809.66 534.1 809.69C534.5 809.72 534.9 809.69 535.3 809.74C535.7 809.8 536.1 809.87 536.5 810.04C536.9 810.22 537.3 810.83 537.7 810.78C538.1 810.73 538.5 809.94 538.9 809.76C539.3 809.58 539.7 809.54 540.1 809.69C540.5 809.83 540.9 810.59 541.3 810.65C541.7 810.7 542.1 809.89 542.5 810C542.9 810.11 543.3 811.25 543.7 811.32C544.1 811.4 544.5 810.52 544.9 810.46C545.3 810.4 545.7 810.84 546.1 810.98C546.5 811.12 546.9 811.27 547.3 811.3C547.7 811.33 548.1 811.31 548.5 811.16C548.9 811.02 549.3 810.26 549.7 810.43C550.1 810.61 550.5 812.09 550.9 812.22C551.3 812.36 551.7 811.36 552.1 811.23C552.5 811.1 552.9 811.37 553.3 811.44C553.7 811.5 554.1 811.56 554.5 811.63C554.9 811.69 555.3 811.76 555.7 811.84C556.1 811.92 556.5 812.14 556.9 812.09C557.3 812.05 557.7 811.68 558.1 811.56C558.5 811.45 558.9 811.34 559.3 811.38C559.7 811.43 560.1 811.68 560.5 811.82C560.9 811.95 561.3 812.1 561.7 812.2C562.1 812.3 562.5 812.43 562.9 812.42C563.3 812.41 563.7 812.04 564.1 812.13C564.5 812.22 564.9 813.01 565.3 812.96C565.7 812.91 566.1 811.9 566.5 811.83C566.9 811.76 567.3 812.37 567.7 812.52C568.1 812.67 568.68 812.6 568.9 812.73C569.12 812.86 568.98 813.21 569 813.31" stroke="#a000d0" stroke-width="1.6" fill="none" stroke-linejoin="round"/>
</g>
<line x1="277.3" y1="935.9" x2="290.6" y2="916.2" stroke="#000080" stroke-width="1.0"/>
<path d="M290.6 916.2L289.17 923.68L284.2 920.32Z" fill="#000080"/>
<line x1="303.9" y1="941.6" x2="330.5" y2="924.5" stroke="#1e70f0" stroke-width="1.0"/>
<path d="M330.5 924.5L326.23 930.81L322.99 925.76Z" fill="#1e70f0"/>
<line x1="407" y1="954" x2="433.3" y2="935.3" stroke="#30a8c8" stroke-width="1.0"/>
<path d="M433.3 935.3L429.33 941.8L425.86 936.91Z" fill="#30a8c8"/>
<line x1="525.8" y1="1020.8" x2="584.8" y2="994" stroke="#60cc60" stroke-width="0.9"/>
<path d="M584.8 994L579.67 999.63L577.19 994.16Z" fill="#60cc60"/>
<line x1="511.5" y1="1025.5" x2="593.8" y2="1021.5" stroke="#008000" stroke-width="0.9"/>
<path d="M593.8 1021.5L586.95 1024.84L586.66 1018.84Z" fill="#008000"/>
<line x1="155.6" y1="1025" x2="155.6" y2="1066.6" stroke="#800000" stroke-width="1.0"/>
<path d="M155.6 1066.6L152.6 1059.6L158.6 1059.6Z" fill="#800000"/>
<line x1="91" y1="1010" x2="105.1" y2="1096.6" stroke="#ff0000" stroke-width="1.0"/>
<path d="M105.1 1096.6L101.01 1090.17L106.94 1089.21Z" fill="#ff0000"/>
<text transform="translate(118.2 781.5) scale(1.087 1)" font-size="17" font-weight="bold" fill="#a000d0">ZrO<tspan font-size="17" dy="4.2">2</tspan><tspan font-size="17" dy="-13.2">−</tspan></text>
<text transform="translate(577.9 830.8) scale(1.03 1)" font-size="18" font-weight="bold" fill="#a7d7e6">O<tspan font-size="18" dy="4.4">2</tspan><tspan font-size="18" dy="-13.2">−</tspan></text>
<text transform="translate(232.5 875.2) scale(1.087 1)" font-size="17" font-weight="bold" fill="#f7964a">FeO<tspan font-size="16.5" dy="-7.3">2−</tspan></text>
<text transform="translate(307.6 887.5) scale(1.087 1)" font-size="17" font-weight="bold" fill="#d9600c">Fe<tspan font-size="17" dy="4.2">2</tspan><tspan font-size="17" dy="-12.2">−</tspan></text>
<text transform="translate(285.6 911.2) scale(1.087 1)" font-size="17" font-weight="bold" fill="#000080">Zr<tspan font-size="17" dy="4.2">2</tspan><tspan dy="-4.2">O</tspan><tspan font-size="17" dy="4.2">5</tspan><tspan dy="-4.2">H</tspan><tspan font-size="17" dy="4.2">3</tspan><tspan font-size="17" dy="-12.2">−</tspan></text>
<text transform="translate(329.3 932) scale(1.087 1)" font-size="17" font-weight="bold" fill="#1e70f0">Zr<tspan font-size="17" dy="4.2">2</tspan><tspan dy="-4.2">O</tspan><tspan font-size="17" dy="4.2">4</tspan><tspan dy="-4.2">H</tspan><tspan font-size="17" dy="4.2">4</tspan><tspan dy="-4.2">F</tspan><tspan font-size="17" dy="-8">−</tspan></text>
<text transform="translate(586.6 1000.5) scale(1.06 1)" font-size="17.5" font-weight="bold" fill="#60cc60">Zr<tspan font-size="12.5" dy="3">3</tspan><tspan dy="-3">O</tspan><tspan font-size="12.5" dy="3">7</tspan><tspan dy="-3">H</tspan><tspan font-size="12.5" dy="-7">−</tspan></text>
<text transform="translate(597.5 1028.7) scale(1.087 1)" font-size="17" font-weight="bold" fill="#008000">Zr<tspan font-size="17" dy="4.2">3</tspan><tspan dy="-4.2">O</tspan><tspan font-size="17" dy="4.2">7</tspan><tspan dy="-4.2">H</tspan><tspan font-size="17" dy="4.2">7</tspan><tspan font-size="17" dy="-12.2">−</tspan></text>
<text transform="translate(109 1079.3) scale(1.087 1)" font-size="17" font-weight="bold" fill="#800000">Zr<tspan font-size="17" dy="4.2">4</tspan><tspan dy="-4.2">O</tspan><tspan font-size="17" dy="4.2">9</tspan><tspan dy="-4.2">H</tspan><tspan font-size="17" dy="4.2">4</tspan><tspan font-size="17" dy="-12.2">−</tspan></text>
<text transform="translate(90.4 1112.6) scale(1.087 1)" font-size="17" font-weight="bold" fill="#ff0000">Zr<tspan font-size="17" dy="4.2">4</tspan><tspan dy="-4.2">O</tspan><tspan font-size="17" dy="4.2">7</tspan><tspan dy="-4.2">H</tspan><tspan font-size="17" dy="4.2">7</tspan><tspan font-size="17" dy="-12.2">−</tspan></text>
<text x="571.2" y="762.8" text-anchor="end" font-size="20" font-weight="bold" fill="#595959">825 ppm 480 s pH 4.0</text>
<text x="82.2" y="754.6" text-anchor="end" font-size="18" fill="#595959">100000</text>
<text x="78.7" y="811.9" text-anchor="end" font-size="18" fill="#595959">10000</text>
<text x="74.6" y="869.2" text-anchor="end" font-size="18" fill="#595959">1000</text>
<text x="70.3" y="926.5" text-anchor="end" font-size="18" fill="#595959">100</text>
<text x="65.7" y="983.8" text-anchor="end" font-size="18" fill="#595959">10</text>
<text x="61.6" y="1041.1" text-anchor="end" font-size="18" fill="#595959">1</text>
<text x="78.2" y="1054.2" text-anchor="middle" font-size="18" fill="#595959">0</text>
<text x="179.3" y="1054.2" text-anchor="middle" font-size="18" fill="#595959">500</text>
<text x="278.42" y="1054.2" text-anchor="middle" font-size="18" fill="#595959">1000</text>
<text x="375.38" y="1054.2" text-anchor="middle" font-size="18" fill="#595959">1500</text>
<text x="472.34" y="1054.2" text-anchor="middle" font-size="18" fill="#595959">2000</text>
<text x="569.3" y="1054.2" text-anchor="middle" font-size="18" fill="#595959">2500</text>
<text x="229.9" y="1082.8" font-size="21.5" font-weight="bold" fill="#000">sputtering time (s)</text>
<text transform="translate(18.4 887.3) rotate(-90)" text-anchor="middle" font-size="21.8" font-weight="bold" fill="#000">intensity (a.u.)</text>
</svg></body></html>
